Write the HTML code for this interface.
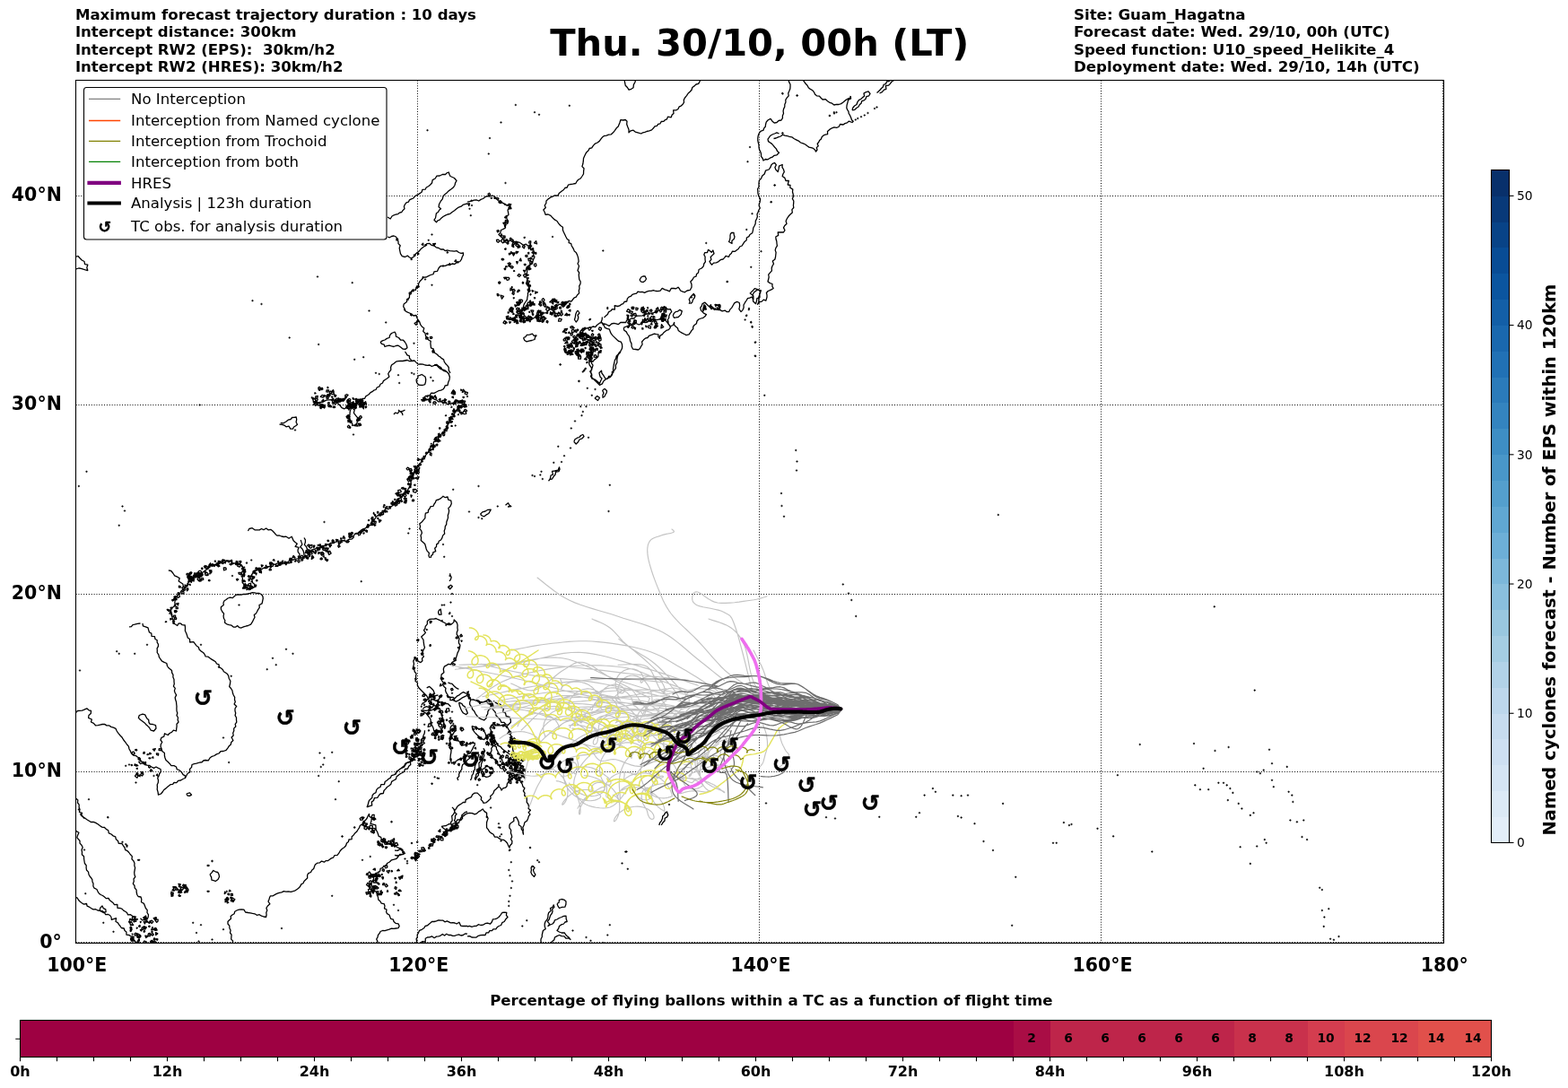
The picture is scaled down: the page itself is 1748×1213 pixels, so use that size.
<!DOCTYPE html>
<html><head><meta charset="utf-8"><style>html,body{margin:0;padding:0;background:#fff;overflow:hidden}svg{display:block}</style></head>
<body>
<svg width="1748" height="1213" viewBox="0 0 1748 1213">
<rect width="100%" height="100%" fill="#fff"/>
<text x="83.9" y="21.7" font-family="DejaVu Sans, sans-serif" font-weight="bold" font-size="16.58" xml:space="preserve">Maximum forecast trajectory duration : 10 days</text>
<text x="83.9" y="41.1" font-family="DejaVu Sans, sans-serif" font-weight="bold" font-size="16.58" xml:space="preserve">Intercept distance: 300km</text>
<text x="83.9" y="60.5" font-family="DejaVu Sans, sans-serif" font-weight="bold" font-size="16.58" xml:space="preserve">Intercept RW2 (EPS):  30km/h2</text>
<text x="83.9" y="79.9" font-family="DejaVu Sans, sans-serif" font-weight="bold" font-size="16.58" xml:space="preserve">Intercept RW2 (HRES): 30km/h2</text>
<text x="1196.9" y="21.7" font-family="DejaVu Sans, sans-serif" font-weight="bold" font-size="16.7" xml:space="preserve">Site: Guam_Hagatna</text>
<text x="1196.9" y="41.1" font-family="DejaVu Sans, sans-serif" font-weight="bold" font-size="16.7" xml:space="preserve">Forecast date: Wed. 29/10, 00h (UTC)</text>
<text x="1196.9" y="60.5" font-family="DejaVu Sans, sans-serif" font-weight="bold" font-size="16.7" xml:space="preserve">Speed function: U10_speed_Helikite_4</text>
<text x="1196.9" y="79.9" font-family="DejaVu Sans, sans-serif" font-weight="bold" font-size="16.7" xml:space="preserve">Deployment date: Wed. 29/10, 14h (UTC)</text>
<text x="846.8" y="62.4" font-family="DejaVu Sans, sans-serif" font-weight="bold" font-size="41.6" text-anchor="middle">Thu. 30/10, 00h (LT)</text>
<defs><clipPath id="mc"><rect x="84.6" y="89.6" width="1524.6" height="961.8"/></clipPath></defs>
<g clip-path="url(#mc)">
<path d="M465.5 89.6V1051.4M846.5 89.6V1051.4M1227.5 89.6V1051.4M1608.5 89.6V1051.4M84.6 1050.5H1609.2M84.6 860.5H1609.2M84.6 662.5H1609.2M84.6 451.5H1609.2M84.6 218.5H1609.2" stroke="#000" stroke-width="1" stroke-dasharray="1 1.86" fill="none"/>
<path d="M432.0 242.0 435.2 244.0 437.0 241.0 439.2 239.8 441.5 239.0 443.8 238.6 445.6 237.1 447.8 236.5 449.2 234.4 451.0 232.8 450.4 230.2 451.5 227.8 453.0 225.9 455.5 225.1 456.5 222.8 458.6 221.8 460.8 221.0 462.2 219.2 464.0 217.8 466.3 216.8 468.3 215.4 470.2 214.0 470.9 211.3 474.1 211.2 475.2 209.0 477.6 207.7 479.7 206.0 481.5 204.0 482.2 200.6 485.2 199.0 486.9 196.2 490.2 196.0 493.2 194.5 496.5 194.5 498.1 192.9 500.2 192.0 500.9 194.3 502.0 196.5 504.3 197.5 506.5 198.5 509.0 201.5 507.6 203.8 507.0 206.5 505.3 209.1 502.8 211.0 500.1 212.9 497.8 215.2 495.6 216.9 494.0 219.0 493.3 221.8 491.5 224.0 489.5 227.8 489.1 230.8 491.5 232.8 489.6 234.3 488.5 236.5 486.4 237.8 486.0 240.2 485.5 243.0 484.0 245.2 486.5 247.8 488.0 245.9 490.2 245.2 491.9 243.2 494.0 241.5 496.5 240.2 499.0 239.0 501.8 238.3 504.0 236.5 506.6 234.8 509.0 232.8 511.3 231.1 514.0 230.2 516.0 228.4 518.5 227.7 521.0 227.0M432.0 264.0 434.4 264.8 436.5 263.5 439.1 263.0 441.5 264.0 442.6 266.6 444.0 269.0 444.0 271.6 446.2 273.8 445.2 276.5 445.8 279.6 446.5 282.8 448.3 285.6 451.5 286.5 454.3 285.1 456.5 287.0 459.0 287.8 460.8 286.4 462.8 285.2 463.4 283.0 465.2 281.5 467.4 279.9 469.0 277.8 471.5 275.8 474.0 274.0 475.9 271.6 479.0 271.5 481.2 273.4 484.0 274.0 486.2 275.8 489.0 276.5 491.3 278.0 494.0 277.8 496.2 279.6 499.0 279.0 501.4 279.7 504.0 279.9 506.5 280.2 509.3 279.7 511.5 281.5 513.9 282.3 516.5 282.0 516.4 284.4 515.2 286.5 514.4 289.2 512.8 291.5 509.0 292.8 506.8 294.5 504.0 294.0 501.7 295.5 499.0 295.2 496.6 296.3 494.0 296.5 491.0 296.7 489.0 299.0 487.6 302.3 484.0 302.8 483.1 305.6 480.2 306.5 477.7 307.6 475.2 309.0 472.2 309.1 470.2 311.5 468.0 313.7 466.5 316.5 466.7 319.3 464.0 320.2 463.4 323.4 460.2 322.8 458.7 324.7 458.3 327.3 456.5 329.0 456.4 331.9 453.7 333.7 453.5 336.5 450.2 339.0 449.7 341.7 450.9 344.0 451.5 346.5 453.9 347.9 456.5 349.0 458.9 350.2 461.0 352.0 464.0 351.5 464.8 354.2 466.1 356.7 467.8 359.0 468.6 361.7 470.2 364.0 472.8 365.9 471.7 369.5 474.0 371.5 474.5 374.4 476.1 376.7 477.8 379.0 480.2 380.4 479.9 383.0 480.2 385.2 480.4 387.8 483.4 389.2 482.8 392.0M443.0 267.8 441.9 267.9 441.9 266.7 442.9 265.7 443.8 267.0ZM458.2 289.6 458.2 288.5 459.4 289.2ZM462.5 284.4 461.9 284.8 461.3 284.4 461.8 283.9ZM465.6 281.6 467.0 283.0 465.7 283.9ZM471.7 271.2 471.8 273.4 470.1 272.7ZM474.0 272.7 474.8 272.6 475.6 273.3 474.6 274.0 473.9 273.7ZM485.5 271.5 484.1 273.4 482.5 271.8ZM498.8 280.6 499.5 281.6 498.4 282.0 498.2 281.2ZM510.2 292.9 509.8 292.1 510.6 291.7 511.2 292.2 510.8 292.9ZM508.7 291.9 506.8 291.4 508.2 289.8ZM501.3 293.6 502.2 295.1 500.4 295.1ZM471.3 308.6 472.6 309.3 471.1 310.4ZM467.3 319.7 464.8 321.1 464.7 318.8ZM459.4 324.9 459.8 323.7 461.3 324.6ZM458.0 325.5 458.1 327.8 456.3 328.0 456.2 326.3ZM453.7 333.7 455.4 334.0 454.0 334.8ZM451.6 346.0 450.5 345.3 451.5 344.7ZM457.5 350.9 459.0 350.0 458.8 352.0ZM464.5 358.5 465.3 357.2 466.8 358.5ZM463.5 359.4 464.9 359.3 465.0 360.9 463.9 362.3 462.1 360.6ZM476.6 371.3 477.0 372.1 476.8 372.8 475.9 372.6 475.6 371.8ZM474.7 377.9 474.8 375.8 476.0 375.8 477.3 376.6 476.2 378.2ZM479.4 375.7 481.3 375.4 481.8 376.4 481.4 377.3 479.6 377.4ZM483.7 390.6 484.3 392.2 482.5 393.1 481.9 391.5 482.7 390.1ZM84.0 286.5 86.9 285.5 89.0 287.8 91.2 290.0 94.0 291.5 94.6 294.6 97.8 295.2 96.8 298.4 97.8 301.5 95.2 300.9 92.8 300.2 90.3 299.4 87.8 299.0 84.0 300.2M424.0 381.5 426.3 379.9 429.0 379.0 431.3 377.4 434.0 376.5 434.7 373.7 436.5 371.5 440.2 370.2 441.3 372.6 441.5 375.2 444.5 376.5 446.5 379.0 449.5 379.2 451.5 381.5 452.7 383.5 453.5 385.5 454.0 387.8 451.8 389.4 449.0 389.0 446.6 387.0 444.0 385.2 441.4 385.5 439.0 386.5 436.5 385.9 434.0 385.2 431.4 385.7 429.0 386.5 428.1 384.1 425.5 383.3 424.0 381.5M781.0 89.0 779.8 91.2 778.7 93.4 776.0 94.0 774.1 95.9 771.8 97.5 771.0 100.2 769.2 102.2 767.2 104.0 765.5 106.6 763.5 109.0 762.3 111.4 762.5 114.2 761.0 116.5 759.2 118.1 757.0 119.2 756.0 121.5 754.0 122.8 750.6 122.8 751.0 126.5 749.2 128.1 748.2 130.8 744.5 130.2 743.5 132.8 741.4 133.7 739.8 135.4 737.2 135.5 736.0 137.8 733.7 138.3 732.3 140.3 729.9 140.8 728.5 142.8 726.5 144.9 723.8 145.9 721.0 146.5 718.9 147.4 716.7 147.8 714.8 149.0 711.0 147.8 708.2 147.1 706.0 145.2 703.1 145.8 701.0 147.8 701.0 144.5 699.8 141.5 698.7 138.5 699.0 135.2 697.2 133.5 694.8 134.0 691.8 133.7 691.0 136.5 690.1 138.8 689.2 141.1 687.2 142.8 685.5 145.3 683.5 147.8 681.4 149.8 678.5 150.2 676.1 151.2 673.5 151.5 671.4 153.1 669.8 155.2 668.2 157.4 666.0 159.0 663.1 160.3 661.0 162.8 659.7 164.8 657.1 165.5 656.0 167.8 653.7 169.9 652.2 172.8 650.5 176.5 650.3 179.7 649.8 182.8 648.9 185.6 651.0 187.8 650.6 190.9 650.5 194.0 648.9 196.5 647.2 199.0 645.2 200.0 643.5 201.5 641.8 204.5 638.5 205.2 635.8 205.5 633.4 206.2 632.2 209.0 629.8 209.5 628.5 211.5 626.0 213.3 623.5 215.2 621.8 218.1 618.5 217.8 616.0 219.1 613.5 220.2 611.1 221.9 609.0 224.0 608.8 226.7 607.2 229.0 608.3 231.5 605.8 234.0 607.2 236.5 608.1 239.4 611.0 239.0 613.9 240.3 616.0 242.8 618.3 244.9 621.0 246.5 622.7 249.1 624.8 251.5 627.4 253.3 627.4 256.4 628.5 259.0 629.7 261.5 630.9 264.0 632.2 266.5 634.3 267.9 634.1 270.7 636.7 271.7 637.2 274.0 638.4 275.9 639.5 277.9 640.3 280.1 642.2 281.5 643.4 283.9 644.3 286.4 644.8 289.0 645.1 291.5 644.0 294.0 645.5 296.5 644.8 299.0 644.0 301.6 645.7 304.0 645.2 306.5 645.5 309.1 645.8 311.7 647.2 314.0 647.0 316.5 645.7 318.9 646.0 321.5 645.3 324.0 645.6 326.9 643.5 329.0 642.2 331.1 639.9 332.1 638.5 334.0 636.9 336.1 634.3 335.5 632.2 336.5 629.8 336.5 627.8 337.3 626.0 339.0 623.1 339.4 621.0 341.5 618.3 342.3 616.0 344.0 613.3 344.9 611.0 346.5 609.0 348.7 606.0 349.0 603.8 350.9 601.0 351.5 598.4 352.5 596.0 354.0 594.1 355.2 592.2 356.5 589.5 356.8 587.2 355.2 584.6 355.2 582.2 354.0 578.5 354.0M578.5 354.0 579.6 351.4 581.0 349.0 582.3 346.7 583.6 344.3 583.5 341.5 584.4 338.8 586.0 336.5 587.6 334.2 587.9 331.6 588.5 329.0 588.4 326.4 591.1 324.3 589.8 321.5 589.1 318.9 587.0 316.8 587.2 314.0 587.8 311.3 586.6 309.0 586.0 306.5 587.5 304.2 587.7 301.5 588.5 299.0 589.4 296.6 591.3 295.1 593.5 294.0 594.0 291.4 594.8 288.9 596.0 286.5 594.6 284.2 595.6 281.4 594.8 279.0 591.6 278.7 591.6 274.4 588.5 274.0 586.3 272.2 583.2 273.3 581.0 271.5 578.7 270.0 575.8 270.9 573.6 269.3 571.0 269.0 568.1 268.1 565.2 271.2 562.2 269.0 560.9 266.1 558.5 264.0 556.0 261.5 557.9 259.3 558.5 256.5 561.1 255.4 563.5 254.0 563.3 250.8 566.0 249.0 566.6 246.3 565.0 244.0 564.8 241.5 567.0 239.3 566.5 236.7 566.0 234.0 568.1 232.4 568.1 229.6 569.8 227.8 567.5 229.3 564.8 229.0 562.8 227.6 560.7 226.4 558.5 225.2 555.6 223.9 553.5 221.5 551.4 219.3 549.1 218.0 546.0 219.0 543.1 218.6 540.7 219.7 538.5 221.5 536.1 222.4 533.8 224.0 531.0 222.8 528.4 223.1 526.1 224.2 523.5 224.6 521.0 225.2M578.9 352.9 578.4 352.5 578.9 352.1 579.5 352.2 579.4 352.7ZM579.6 349.7 580.5 351.3 579.1 352.8 578.0 351.5 577.7 349.7ZM583.2 350.3 582.2 349.7 583.0 348.3 584.3 349.4ZM582.3 344.2 581.7 343.2 583.3 343.4ZM587.8 342.1 586.4 340.8 588.3 339.7ZM591.4 327.6 592.0 328.2 591.8 328.6 591.3 329.0 591.0 328.3ZM590.5 324.1 589.2 324.4 589.1 323.2 590.1 323.0ZM588.8 324.6 588.1 322.8 590.0 322.7ZM590.1 320.3 589.4 319.1 590.5 318.4 590.9 319.7ZM589.2 315.8 588.2 318.3 586.9 315.7ZM583.4 316.1 582.7 316.2 582.3 315.7 582.5 314.5 583.7 314.8ZM589.6 315.3 587.7 314.6 588.6 312.8 590.6 313.5ZM588.6 309.4 589.3 310.0 588.7 310.9 588.0 310.1ZM589.3 306.6 586.4 307.8 586.2 305.4ZM586.0 301.6 584.8 303.5 583.5 301.3ZM588.4 299.8 586.4 300.5 586.9 298.6ZM588.4 298.9 587.2 297.6 588.7 296.9ZM590.9 294.8 590.8 293.7 591.8 293.8 591.8 295.1ZM593.0 291.5 592.6 294.2 590.6 293.2 591.2 291.3ZM594.0 286.3 593.2 286.3 593.3 285.2 594.2 285.5ZM597.8 281.8 597.8 283.0 596.8 283.2 596.5 282.1 597.0 281.2ZM594.3 282.5 592.9 281.7 594.0 280.6ZM592.9 277.2 594.2 276.5 594.7 277.8 593.6 278.3ZM591.0 275.0 590.9 276.7 589.5 277.5 589.0 275.3ZM591.5 273.3 592.7 274.5 590.8 275.3 589.3 273.9ZM577.2 274.4 579.8 275.6 577.2 276.5ZM575.7 271.8 574.1 270.6 575.1 269.2 577.4 269.9ZM570.4 266.3 569.6 268.1 568.3 266.8 568.9 265.1ZM565.1 268.8 565.6 267.1 566.4 268.3ZM564.7 266.7 565.9 267.5 565.0 268.8 564.1 267.8ZM561.7 269.4 561.5 268.8 562.0 268.6 562.5 268.8 562.2 269.6ZM561.1 264.5 561.2 262.8 563.1 263.1 562.9 265.6ZM559.9 262.7 558.2 263.5 558.9 260.6ZM555.7 256.6 556.3 257.8 554.7 258.9 554.0 257.2ZM563.8 251.6 562.7 252.8 562.3 250.5ZM563.4 248.7 563.1 249.8 561.5 249.7 560.9 248.3 562.5 248.1ZM565.2 246.0 564.8 248.1 563.2 247.6 563.4 245.5ZM562.6 242.1 563.4 241.8 564.1 242.3 563.7 243.1 562.9 242.7ZM564.9 241.1 563.8 241.3 564.3 240.5ZM570.0 232.7 568.2 232.8 566.7 232.0 568.0 230.7 569.4 231.0ZM565.9 228.6 567.6 227.3 569.0 227.6 568.9 229.7 567.3 229.7ZM563.9 227.8 562.7 228.3 562.8 227.2ZM559.3 225.0 558.5 226.2 558.0 224.5ZM559.7 226.0 557.8 226.7 556.0 225.6 557.5 223.6 558.9 224.5ZM556.0 221.8 554.8 222.8 553.3 222.0 553.8 220.4 555.2 220.7ZM552.0 219.8 552.7 220.8 551.7 221.4 551.0 221.1 551.2 219.9ZM548.7 220.7 547.5 221.3 547.3 220.4ZM545.5 218.0 544.4 217.4 544.0 216.3 545.6 215.3 546.7 217.1ZM525.3 224.3 525.0 223.6 525.8 223.2 526.0 224.1ZM523.6 226.9 522.8 229.5 521.6 227.0ZM583.5 376.5 585.8 375.6 587.2 373.5 590.4 373.2 593.5 372.2 595.2 374.4 598.0 374.0 596.5 376.0 596.0 378.5 592.9 379.5 589.8 380.2 587.1 380.9 584.8 379.5 583.5 376.5M644.0 346.0 646.0 349.0 644.0 351.2 644.8 354.0 644.0 356.8 642.2 359.0 640.5 356.5 641.3 353.4 641.8 350.2 642.7 348.0 644.0 346.0M673.5 354.0 675.4 352.1 677.4 350.4 678.5 347.8 681.0 346.5 682.4 344.6 685.4 345.0 685.2 340.6 688.5 341.5 690.8 340.9 692.5 339.4 694.7 338.6 696.0 336.5 698.7 336.0 699.4 332.9 701.0 331.1 703.5 330.2 704.9 328.3 707.2 327.7 709.6 327.2 711.0 325.2 713.5 325.6 716.0 325.4 718.5 326.3 721.0 325.2 723.5 324.4 726.0 324.3 728.4 323.6 731.0 324.5 733.6 324.6 736.1 324.1 738.2 321.4 741.0 322.8 743.7 323.7 746.4 324.9 748.4 321.3 751.0 321.5 753.7 321.8 756.0 320.2 757.5 322.0 758.5 324.0 761.0 325.1 763.5 325.8 766.0 324.0 769.4 323.3 771.0 320.2 771.0 317.0 769.8 314.0 772.0 311.8 773.5 309.0 776.0 308.2 776.6 305.5 778.5 304.0 779.1 300.5 782.2 299.0 784.2 296.9 784.8 294.0 786.4 291.8 786.0 289.0 786.1 286.3 784.8 284.0 785.8 281.6 788.5 281.5 789.6 278.3 793.2 281.3 794.8 279.0 796.0 282.8 794.1 284.6 792.2 286.5 792.9 289.3 791.0 291.5 792.1 293.5 793.5 295.2 795.6 293.1 798.5 292.8 801.1 291.6 803.2 289.7 806.0 289.0 807.7 287.4 809.0 285.4 812.4 286.4 813.5 284.0 815.3 282.6 816.4 280.2 819.2 280.4 821.0 279.0 823.2 277.5 824.7 275.0 827.2 274.0 828.6 271.6 830.1 269.4 832.2 267.8 832.4 265.0 834.9 263.6 836.0 261.5 838.7 259.7 839.4 256.9 839.8 254.0 841.1 251.7 842.2 249.2 842.3 246.4 843.5 244.0 844.4 241.6 844.0 238.8 845.1 236.4 846.0 234.0 847.3 232.0 846.2 229.6 846.3 227.3 847.2 225.2 847.6 221.9 846.0 219.0 845.0 215.9 844.8 212.8 844.6 210.5 846.0 208.5 846.0 206.2 846.0 204.0 846.4 201.1 848.5 199.0 849.8 196.1 852.2 194.0 853.5 190.2 857.2 189.0 858.8 186.7 859.8 184.0 861.4 182.4 863.5 181.5 865.4 183.8 863.9 186.6 864.8 189.0 867.2 191.5 868.1 188.4 868.5 185.2 872.2 183.5 872.0 186.4 873.5 189.0 874.3 191.7 872.9 194.0 872.2 196.5 874.9 198.4 876.0 201.5 879.3 201.5 878.2 206.0 881.0 206.5 880.8 209.3 883.8 211.1 883.5 214.0 884.2 216.5 884.4 219.0 883.4 221.6 884.8 224.0 884.7 226.5 884.4 229.0 884.8 231.5 882.9 233.7 883.3 237.0 881.0 239.0 878.9 241.3 877.2 244.0 876.1 246.4 877.0 249.5 874.8 251.5 873.5 253.9 875.0 256.7 873.5 259.0 870.4 258.8 867.2 259.0 867.7 262.4 864.8 264.0 865.0 266.5 865.8 269.0 866.0 271.5 866.4 274.1 864.9 276.4 864.2 278.9 865.1 281.5 864.8 284.0 864.5 286.7 863.8 289.2 861.3 291.1 862.5 294.2 861.0 296.5 860.2 299.0 860.4 301.8 858.6 303.9 856.7 306.1 857.2 309.0 856.6 311.5 856.0 314.0 858.3 315.6 861.0 316.5 860.9 319.2 862.2 321.5 860.3 322.6 858.3 323.6 856.2 324.5 854.4 326.5 855.0 328.9 855.0 331.2 853.8 335.2 851.2 334.1 849.3 336.1 847.0 336.5 844.5 339.2 845.8 336.7 845.9 334.0 845.8 331.2 846.7 328.8 847.1 326.2 848.5 324.0 844.5 323.2 842.4 324.4 840.5 326.0 839.2 328.5 839.4 331.3 839.2 334.0M879.0 89.0 879.7 91.6 881.0 94.0 881.0 96.6 880.8 99.1 879.8 101.5 878.7 103.9 879.2 106.9 877.2 109.0 875.8 111.3 875.9 114.1 874.8 116.5 874.8 119.0 873.6 121.4 873.1 123.9 873.5 126.5 872.4 128.9 872.4 131.7 871.0 134.0 868.1 134.5 866.0 136.5 863.2 137.1 861.0 135.2 859.0 132.4 856.0 134.0 854.2 136.2 853.5 139.0 853.2 141.3 851.6 143.1 851.0 145.2 847.9 146.3 846.0 149.0 845.2 151.4 844.8 153.9 844.8 156.5 845.3 159.0 846.0 161.4 846.0 164.0 846.5 166.6 847.7 169.0 848.5 171.5 848.5 174.3 850.2 176.5 851.0 179.0 853.3 177.5 856.0 177.8 858.4 176.2 861.0 175.2 863.1 173.3 866.0 172.8 868.5 170.2 866.5 168.4 865.3 165.9 863.5 164.0 862.0 162.2 860.5 160.4 858.5 159.0 856.5 157.6 856.0 155.2 857.3 153.4 858.5 151.5 860.9 150.0 863.5 149.0 866.0 147.9 868.5 149.0M696.0 89.0 696.6 92.1 697.2 95.2 699.4 97.5 701.0 100.2 703.7 99.3 706.0 97.8 706.4 94.4 708.0 91.5 708.5 89.0M814.0 261.5 815.5 259.4 818.0 259.5 818.2 261.8 819.0 264.0 818.2 266.6 815.9 268.5 816.0 271.5 812.5 269.5 813.5 267.5 814.0 265.2 814.0 261.5M713.0 312.2 714.8 309.0 716.8 308.0 719.0 307.8 720.5 311.0 719.2 313.0 717.2 314.5 714.7 314.2 713.0 312.2M570.8 273.3 571.9 270.1 574.0 271.9ZM566.3 296.3 568.7 295.1 568.7 297.5ZM557.9 314.8 556.9 316.4 555.7 315.7 555.8 314.6 556.8 314.0ZM595.5 270.9 597.6 268.6 598.6 271.9ZM586.9 316.9 586.5 315.4 588.2 316.0ZM555.4 267.1 557.1 268.7 555.4 270.3 553.9 269.4 553.5 267.4ZM585.2 274.3 584.4 276.9 582.4 275.3 583.4 273.4ZM565.3 312.5 564.2 310.3 566.0 309.2 567.9 310.1 567.3 311.8ZM593.5 325.2 593.1 323.6 595.0 324.5ZM559.5 333.2 558.0 329.1 561.5 330.3ZM579.0 323.4 579.1 324.4 578.1 324.4 577.4 323.6 578.3 323.2ZM589.1 321.8 589.7 321.0 590.4 321.6 590.2 322.7 589.5 322.8ZM572.1 322.9 568.8 323.9 569.1 321.2ZM581.2 290.8 579.1 290.5 580.4 288.1ZM566.8 270.4 566.9 271.4 566.3 272.1 565.4 271.9 564.9 270.5ZM595.5 331.6 596.4 331.7 596.7 332.4 596.2 332.9 595.6 332.6ZM571.4 282.0 568.7 283.2 569.6 280.6ZM589.9 317.8 588.2 318.8 587.7 316.7 589.5 316.3ZM567.5 283.9 567.4 282.5 568.6 282.6 568.7 283.7ZM591.8 268.9 591.6 271.3 589.6 270.9 590.1 268.9ZM589.7 300.8 589.8 298.1 591.9 299.8ZM572.6 282.1 572.9 282.6 572.4 282.9 571.5 282.7 571.8 282.0ZM563.0 298.9 563.8 299.8 563.0 300.7 562.1 299.8ZM591.9 337.5 591.1 337.9 590.1 337.8 590.5 336.9 591.4 336.8ZM579.1 273.8 579.8 274.6 578.6 274.8ZM561.7 309.4 564.4 309.2 562.8 311.0ZM591.4 290.3 589.3 290.8 588.8 288.1 591.3 288.2ZM583.4 306.9 585.3 305.0 587.3 307.4 584.9 309.2ZM571.3 320.1 570.5 321.0 570.4 319.7ZM562.6 277.5 563.9 276.8 564.1 278.0 563.3 278.4ZM564.1 296.6 565.3 297.7 563.6 297.8ZM572.7 275.6 570.7 274.5 572.5 273.1ZM573.3 326.8 572.7 328.6 570.9 327.3 572.2 325.2ZM566.0 293.8 568.0 292.8 569.5 294.2 567.8 294.9ZM572.5 302.3 573.0 301.5 573.7 302.3ZM554.2 327.6 555.7 328.0 556.3 329.1 555.5 329.8 554.4 329.5ZM562.1 267.3 563.1 269.6 560.4 270.9 558.4 268.5 560.5 266.3ZM585.6 285.1 587.0 284.3 588.1 285.3 587.4 286.5 586.1 286.2ZM577.5 291.8 576.5 294.0 575.6 291.7ZM564.0 268.5 563.2 268.8 562.6 268.4 563.0 267.8 563.8 267.7ZM560.8 290.1 559.3 289.7 559.3 288.4 560.9 288.4 561.7 289.3ZM585.2 294.2 586.2 295.1 585.1 295.9 584.2 294.9ZM569.9 298.9 569.3 297.5 570.6 296.4 572.2 297.6 571.2 299.0ZM590.9 297.2 588.4 297.4 589.7 295.8ZM572.7 332.8 572.2 332.0 573.3 332.0ZM589.8 319.4 589.4 317.7 591.4 317.9 591.5 319.2ZM577.0 307.2 578.5 305.5 580.6 306.9 578.9 308.6ZM596.9 325.0 599.3 325.9 596.7 327.3ZM576.6 325.7 577.1 324.3 577.9 325.7ZM584.5 264.3 585.2 264.4 585.2 265.1 584.5 265.4 584.1 264.8ZM576.6 337.9 578.3 338.1 578.2 339.9 576.6 339.9ZM573.0 322.3 574.2 323.8 573.5 324.9 571.5 325.2 571.7 323.4ZM571.0 266.9 572.3 267.8 571.5 269.8 570.0 268.9 568.7 267.4ZM572.4 285.1 571.1 282.2 574.3 281.9ZM588.8 283.0 588.6 281.7 589.7 281.5 589.7 282.9ZM596.8 297.2 595.4 296.1 595.5 294.4 597.5 293.9 598.0 296.1ZM591.7 274.8 590.0 273.7 591.5 272.1ZM577.8 280.6 576.0 282.7 575.2 280.3ZM574.8 273.3 576.0 272.0 578.0 272.5 577.5 274.4 576.0 274.5ZM593.6 288.9 590.3 288.7 591.6 287.1ZM591.2 355.2 591.6 353.2 593.1 353.9 592.8 355.5ZM615.1 341.2 616.3 341.9 616.0 343.4 615.1 344.0 614.5 342.8ZM600.3 350.3 598.4 350.1 598.8 348.4 600.5 348.5ZM632.7 351.8 629.7 351.4 631.7 349.2ZM634.6 351.8 634.0 351.2 634.3 350.3 635.2 350.9ZM579.7 356.3 581.5 357.2 580.5 358.9 579.2 358.1ZM633.6 336.7 631.3 338.4 630.1 336.3ZM590.2 358.5 590.4 357.3 591.5 357.7 591.0 358.8ZM602.9 358.3 601.4 358.2 601.5 356.6 603.1 356.6ZM584.8 357.2 585.6 359.1 583.7 359.8 583.1 357.5ZM601.4 336.4 602.5 335.9 603.5 337.3 601.7 337.7ZM618.2 340.7 619.9 339.6 621.3 340.5 620.1 342.3ZM615.1 334.6 615.7 337.1 612.8 336.8ZM583.9 352.3 585.7 352.4 586.3 353.9 585.5 355.0 584.1 354.2ZM626.2 355.9 625.0 358.2 622.5 358.2 623.2 355.1ZM587.3 344.8 584.2 346.7 584.0 343.4ZM625.4 346.1 626.5 346.8 625.4 347.7ZM630.5 337.1 631.1 338.5 629.8 339.0 629.1 337.7ZM584.6 342.5 585.2 345.0 582.7 344.3ZM603.1 349.9 604.3 349.0 605.3 350.3 604.0 351.2ZM632.0 343.4 631.8 342.2 633.0 342.3 633.0 343.5ZM606.0 340.7 606.4 338.9 608.1 339.0 608.6 340.9 607.2 341.6ZM608.1 354.9 606.7 356.6 604.7 356.6 604.1 353.7 606.2 352.7ZM577.8 338.9 579.0 340.1 577.3 340.5ZM635.7 338.4 635.9 339.4 635.2 340.0 634.8 339.2 634.9 338.1ZM618.2 336.3 618.6 333.3 620.1 335.3ZM618.2 335.4 615.6 335.7 615.7 333.5 618.7 333.2ZM583.7 354.6 584.4 355.4 584.3 357.0 583.0 357.2 582.8 355.3ZM613.6 347.7 616.6 349.3 613.2 350.4ZM594.4 338.5 592.2 337.2 594.5 336.5ZM610.7 341.9 610.7 342.7 609.8 342.6 609.6 341.9ZM610.7 348.8 610.0 349.6 609.1 349.0 609.4 348.1 610.4 347.7ZM632.2 349.9 633.1 351.0 632.3 351.7 631.4 351.1ZM635.9 345.3 635.8 347.2 634.0 346.2ZM600.5 354.0 598.8 355.3 596.5 353.7 597.7 351.6 599.9 352.3ZM609.0 359.0 609.6 357.6 610.7 357.9 611.0 358.8 610.4 360.0ZM587.9 344.6 587.4 344.1 587.9 343.5 588.6 343.2 588.9 344.5ZM573.8 339.9 576.3 340.5 574.5 342.1ZM616.5 341.7 617.1 342.7 616.2 343.3 615.5 342.3ZM593.2 349.8 594.6 349.8 594.7 351.2 593.7 351.3ZM601.8 348.7 600.0 348.7 599.0 347.0 600.7 345.9 602.2 347.0ZM618.7 347.7 618.7 348.9 617.3 348.8 616.5 347.8 617.9 347.2ZM576.7 337.9 575.8 337.8 575.7 336.8 576.8 336.6 577.2 337.4ZM617.2 343.4 619.9 344.7 617.4 346.2ZM619.1 334.6 620.9 334.7 620.3 337.1 618.0 336.1ZM576.4 352.7 575.3 352.1 575.8 350.8 576.7 351.4ZM627.7 342.3 625.9 340.4 628.4 338.9 629.5 341.0ZM631.0 339.7 628.3 340.5 626.5 338.6 629.5 338.0ZM630.6 336.6 631.7 337.1 631.2 338.4 630.0 338.5 629.3 337.2ZM590.2 355.0 587.3 354.2 589.4 351.9ZM577.6 336.5 580.0 335.1 579.4 339.3ZM606.3 357.2 606.2 352.9 608.8 355.1ZM591.7 336.0 591.0 336.3 590.6 335.9 590.6 335.3 591.3 335.0ZM619.0 341.2 619.6 340.0 620.8 339.2 621.1 340.9 620.7 341.7ZM611.8 342.5 612.8 343.4 611.8 344.3ZM617.6 344.7 617.1 346.6 615.1 345.4 616.5 343.4ZM621.6 343.2 620.6 344.5 618.3 343.7 619.9 341.6ZM589.1 354.8 591.0 352.6 592.6 355.3 590.6 357.3ZM590.4 340.3 587.6 339.3 588.7 336.9 591.4 337.6ZM599.0 352.5 599.0 351.1 600.5 350.3 600.9 352.2ZM605.2 354.0 603.1 355.5 603.3 352.1ZM590.7 348.2 590.1 348.4 589.8 347.6 590.4 347.3ZM626.6 338.5 628.1 338.3 628.4 339.7 626.6 340.0ZM625.3 344.0 623.7 343.9 623.7 342.6 624.2 342.1 625.4 342.4ZM601.4 358.7 598.5 357.9 600.5 356.3ZM578.3 343.3 579.2 344.0 578.3 344.8ZM621.4 336.6 622.9 336.6 622.0 338.1ZM586.4 340.6 588.9 341.0 589.0 343.1 586.6 344.2 585.9 342.5ZM591.1 339.7 592.7 339.9 592.0 341.3 590.8 341.1ZM607.1 341.5 608.3 341.0 608.0 342.6ZM586.9 356.1 588.8 357.6 586.3 357.6ZM601.0 338.3 601.9 338.4 602.3 339.1 601.8 339.6 600.7 339.6ZM605.7 332.6 607.0 334.4 605.6 336.3 604.3 335.6 604.2 333.7ZM581.0 355.8 578.8 353.9 580.2 351.1 581.9 353.4ZM601.5 351.5 603.5 352.4 602.5 355.3 600.1 353.3ZM634.6 342.7 633.6 342.4 634.3 341.3 635.0 342.0ZM580.6 356.8 581.9 355.1 584.6 356.5 583.6 358.9 581.2 358.9ZM579.4 337.0 580.7 337.2 580.2 338.2ZM593.1 339.1 591.8 338.3 593.1 337.2 593.9 338.3ZM624.3 349.2 622.0 349.7 622.6 348.1ZM620.2 351.8 620.2 353.2 618.9 353.0 617.9 352.2 619.3 351.2ZM582.6 346.0 582.0 346.6 580.9 346.1 581.3 345.0 582.3 345.2ZM579.4 334.8 581.5 334.1 582.6 335.1 582.0 336.9 580.3 337.0ZM580.1 347.3 581.1 348.4 580.3 349.0 579.4 349.3 579.3 348.1ZM581.8 353.1 579.2 353.8 579.4 351.5ZM616.7 339.0 615.1 337.6 616.8 336.8ZM577.1 346.3 578.1 347.8 575.9 347.5ZM618.2 342.2 619.6 342.2 619.2 343.6 617.8 343.2ZM610.2 346.6 608.5 344.9 610.1 342.8 612.0 343.6 612.0 345.7ZM603.4 339.0 603.8 340.7 602.4 341.0 601.6 340.0 602.4 338.6ZM623.5 348.8 624.4 350.9 622.6 352.3 621.3 350.1ZM594.6 338.8 595.9 338.4 596.1 340.2 594.4 339.9ZM615.4 335.8 616.4 333.5 618.6 335.8ZM633.9 340.4 635.0 341.7 633.8 343.0 633.0 342.2 632.7 341.1ZM621.2 349.5 622.3 351.9 619.7 352.2 617.8 351.4 618.4 349.4ZM615.5 348.6 616.4 349.9 615.4 351.2 614.0 350.2 614.5 349.2ZM607.4 338.0 605.7 339.7 605.1 337.5 606.5 336.9ZM597.9 351.4 599.4 351.6 599.7 353.4 597.3 353.8ZM604.3 359.3 604.3 357.9 605.6 357.6 606.2 358.7ZM591.8 346.0 594.8 346.2 593.6 349.1ZM605.0 350.6 602.7 351.5 602.6 348.6 605.4 348.1ZM627.4 350.4 625.5 352.0 624.5 349.6 626.4 348.0ZM598.8 355.4 597.1 353.2 600.4 353.2ZM591.6 340.6 590.8 340.9 590.1 340.1 590.8 339.3 591.7 339.8ZM598.1 355.9 598.2 353.4 600.5 353.8 600.4 356.9ZM593.3 340.0 591.9 340.7 591.3 338.6 593.2 337.7ZM625.8 337.3 627.5 336.3 627.5 338.3ZM584.3 350.4 584.2 352.5 582.3 353.6 581.4 351.6 582.2 349.6ZM580.2 333.9 580.3 335.4 578.5 334.6ZM600.4 347.5 603.0 346.2 602.7 349.6ZM566.8 352.2 566.5 354.9 565.0 355.2 564.2 353.1ZM572.1 357.5 572.6 355.3 574.3 355.9 574.5 357.9ZM564.5 355.7 565.6 354.1 567.0 354.9 566.4 356.2ZM576.1 351.6 576.4 354.1 574.2 353.3ZM576.5 343.2 577.6 343.4 578.1 345.6 576.2 345.7 575.5 344.2ZM580.6 349.0 581.6 349.5 580.5 350.0ZM569.6 358.8 568.3 360.4 567.5 358.8ZM571.8 347.4 571.0 348.6 570.2 347.0ZM565.2 359.8 563.6 360.3 563.6 358.3ZM572.3 343.9 571.7 345.9 569.4 347.0 569.2 344.6 569.9 342.4ZM561.0 359.9 562.4 357.6 564.2 358.7 563.3 361.2ZM568.7 353.7 570.7 356.1 567.8 356.7ZM573.2 359.5 574.7 355.8 576.1 358.4ZM579.8 358.6 580.4 357.6 581.1 358.3ZM569.3 343.0 570.7 344.8 569.2 345.6 568.0 344.7ZM577.8 360.5 575.7 360.7 576.6 357.3ZM571.4 357.2 569.9 356.4 571.0 354.6 572.9 355.7 573.2 357.0ZM567.4 345.8 569.3 343.4 572.0 345.3 570.8 347.1 568.9 347.7ZM573.1 350.3 571.7 350.3 572.5 349.1ZM573.2 354.2 574.4 354.7 574.5 356.4 571.7 357.2 572.1 354.7ZM567.1 347.9 567.3 348.8 566.3 349.2 566.2 348.0ZM577.2 357.2 575.4 357.9 575.5 356.6ZM575.7 347.9 577.0 347.3 576.7 349.2ZM579.8 345.3 581.5 345.8 581.8 347.4 580.2 347.9 578.7 347.2ZM574.6 351.2 576.3 351.3 575.2 352.2ZM669.2 368.6 667.4 367.1 668.3 364.8 670.3 365.7 670.4 367.0ZM643.4 367.2 644.7 367.5 644.5 368.5 643.3 368.5ZM634.6 392.7 633.9 390.9 637.1 389.8 637.6 392.5ZM629.3 367.8 630.0 370.1 627.2 370.1ZM631.0 371.5 630.1 371.3 630.2 370.7 631.3 370.6 631.8 371.2ZM644.5 378.1 644.1 379.1 643.3 378.2ZM660.9 388.5 660.1 387.8 661.0 387.0 661.8 387.9ZM651.2 377.9 652.0 377.0 652.9 377.6 652.2 379.3ZM652.3 367.2 651.0 366.4 651.6 365.4 652.3 365.2 653.0 366.1ZM633.0 375.8 634.2 377.5 632.6 378.9 632.0 377.1ZM647.9 370.5 649.5 370.0 650.0 371.5 648.7 372.6 647.3 371.5ZM661.6 388.9 663.5 389.6 663.7 391.8 660.9 391.2ZM668.8 387.0 670.5 387.0 671.2 387.9 669.5 388.4ZM670.0 376.7 670.1 379.3 668.2 380.4 666.4 377.7 668.4 376.0ZM659.1 378.3 659.3 381.3 656.9 380.0ZM634.7 371.4 633.7 371.3 634.1 370.2 634.8 370.2ZM648.0 377.6 645.5 376.5 646.8 374.2 648.8 373.2 650.1 375.6ZM659.5 368.7 661.1 368.3 660.7 369.5ZM657.7 380.1 657.7 382.0 655.6 381.9 655.2 379.9 656.6 378.7ZM656.8 364.8 658.9 365.0 658.5 367.0 656.8 368.2 655.7 366.2ZM669.1 391.3 670.4 390.9 670.0 392.0ZM649.9 375.4 648.3 375.2 648.1 373.3 650.4 371.7 651.6 374.4ZM658.1 375.3 659.2 376.0 658.8 376.9 657.6 376.5ZM639.2 379.2 641.2 380.8 638.9 382.7 637.3 380.5ZM631.1 379.3 628.9 380.2 628.0 378.8 629.5 377.0ZM639.1 364.6 638.3 365.2 638.1 364.1ZM639.4 366.0 638.7 365.2 640.3 365.3ZM650.4 366.2 651.2 368.0 650.1 369.1 649.0 368.7 649.1 367.3ZM661.1 375.8 663.4 376.4 661.8 377.6ZM662.7 377.7 663.5 375.4 664.8 375.6 666.0 377.1 664.5 379.0ZM637.9 373.8 636.2 373.9 636.0 371.4 638.6 371.8ZM651.6 373.5 650.1 374.5 648.9 371.7 651.4 371.6ZM649.1 378.7 649.5 377.5 650.8 378.1 651.3 379.1 649.9 380.0ZM666.4 376.4 667.3 374.9 669.2 374.3 669.6 376.0 668.4 377.8ZM632.9 375.7 635.0 376.2 634.6 378.5 632.5 378.0ZM630.6 390.2 629.3 391.3 628.7 389.4 629.4 388.1 631.0 388.9ZM639.8 390.9 639.1 391.8 638.3 391.5 638.5 390.6ZM638.7 386.9 636.3 387.1 635.8 384.6 637.8 384.4ZM641.4 367.9 643.1 368.3 642.7 370.7 641.0 369.3ZM630.4 391.2 630.8 392.3 629.7 392.5 629.4 391.4ZM646.8 380.7 647.4 382.9 644.6 382.0ZM650.8 373.9 648.8 373.8 648.9 372.0 651.1 372.5ZM670.0 383.8 670.0 386.2 667.8 386.2 666.5 384.7 667.9 383.5ZM631.4 368.5 629.2 366.8 632.6 366.3ZM663.4 390.1 663.4 391.4 662.3 391.6 661.2 390.8 662.0 389.5ZM631.5 377.1 630.7 376.8 630.9 376.0 631.7 376.0 632.1 376.6ZM634.5 391.3 634.7 392.4 633.6 392.6 633.1 391.5ZM647.3 376.0 645.1 375.0 646.4 373.1 648.6 374.3ZM669.9 393.3 667.5 391.8 669.9 390.5ZM638.8 363.9 638.7 365.5 637.0 366.0 635.7 364.7 636.9 363.7ZM641.7 376.3 639.6 376.7 638.7 375.3 640.6 374.2ZM638.1 367.2 640.1 368.2 640.0 370.1 637.6 370.5 637.3 368.6ZM666.3 390.3 663.9 389.9 664.4 388.3 666.2 388.5ZM645.3 380.8 647.0 381.2 645.7 382.2ZM665.5 385.2 664.7 386.5 663.2 385.8 663.6 383.7ZM645.2 372.6 646.8 373.5 646.0 374.6 644.2 374.2ZM649.3 382.8 651.4 383.3 651.4 385.1 648.9 385.0ZM641.6 379.8 642.8 379.2 642.6 380.6ZM641.4 377.3 642.4 376.3 644.0 377.5 642.1 378.8ZM653.2 388.3 652.4 388.7 652.1 387.7 652.9 387.5ZM948.2 107.0 948.6 110.0 945.6 111.4 945.0 114.0 944.1 117.1 943.8 120.2 944.6 122.3 945.9 124.2 946.2 126.5 947.7 128.9 948.8 131.5 949.5 133.7 951.2 135.2 950.0 136.5 946.2 135.2 944.4 136.9 942.0 137.6 940.0 139.0 936.6 138.5 935.0 141.5 932.6 142.3 929.9 141.9 927.5 142.8 924.8 144.4 922.5 146.5 922.6 149.7 919.9 150.2 917.8 151.1 916.2 152.8 915.4 154.9 913.6 156.4 912.7 158.5 911.2 160.2 912.2 162.7 910.3 164.6 911.0 167.0 909.5 169.0 908.3 166.7 906.2 165.2 904.1 164.6 901.9 164.1 900.0 162.8 897.7 161.0 895.2 159.8 892.5 159.0 890.2 157.1 887.6 155.8 885.0 154.5 882.8 152.8 880.1 152.3 877.5 151.5 875.0 151.1 872.5 150.2 870.2 152.0 867.5 152.8 865.1 154.0 862.5 154.5M895.0 89.0 896.6 91.1 898.1 93.3 900.0 95.2 901.3 97.7 903.4 99.4 905.8 100.7 907.5 102.8 908.6 105.3 910.5 106.8 913.4 107.1 915.0 109.0 917.1 111.0 920.4 110.6 922.5 112.8 924.8 114.3 927.5 115.2 929.8 117.0 932.5 116.3 935.0 116.5 937.7 115.6 940.0 114.0 942.3 111.9 945.0 110.2 947.5 109.5 948.2 107.0M950.0 122.8 950.9 120.0 952.6 118.0 955.0 116.5 955.9 113.8 957.4 111.6 960.0 110.2 961.6 108.6 963.6 107.2 963.0 104.1 965.0 102.8 968.1 101.9 970.0 104.5 968.7 106.8 965.9 107.7 965.0 110.2 963.3 111.9 960.8 112.7 960.0 115.2 958.2 116.8 957.1 119.0 955.0 120.2 952.9 122.3 950.0 122.8M977.5 103.5 979.3 102.0 981.0 100.3 982.5 98.5 984.3 97.0 985.1 94.4 987.5 93.5 988.5 90.9 991.2 90.5 993.0 89.0M980.5 104.0 983.4 102.7 985.5 100.2 987.9 99.3 987.4 95.5 990.5 95.2 992.4 93.4 993.9 91.1 996.2 89.8M349.0 452.0 350.8 449.2 354.2 450.6 356.3 448.5 359.0 448.2 361.4 447.3 363.8 446.1 366.5 445.8 369.3 445.7 371.2 448.3 374.0 448.2 376.8 449.7 379.0 452.0 381.0 454.6 384.0 455.8 387.0 454.2 389.0 457.0 390.0 454.3 393.5 454.0 395.8 452.5 396.5 449.5 399.0 449.1 401.7 449.2 402.3 446.0 404.0 444.5 406.6 444.3 407.7 441.9 409.6 440.7 411.5 439.5 413.0 437.7 415.0 436.7 416.7 435.2 419.0 434.5 420.2 432.0 422.9 430.9 424.1 428.3 426.5 427.0 427.5 424.6 429.5 423.3 431.5 422.0 433.9 420.0 432.7 416.8 434.0 414.5 435.8 412.3 435.6 409.5 436.5 407.0 439.1 405.2 441.5 403.2 444.0 402.7 446.5 402.3 449.0 402.5 451.5 402.0 454.0 401.5 456.5 402.7 459.0 402.5 461.9 402.0 464.0 404.1 466.1 406.1 469.0 405.8 471.5 406.1 473.9 407.0 476.4 407.3 479.0 407.0 481.3 408.5 484.2 407.4 486.9 407.2 489.0 409.5 491.2 411.4 493.9 412.1 496.5 413.2 498.6 414.9 500.2 417.0 501.4 420.0 501.0 423.2 499.7 426.3 499.0 429.5 496.2 429.8 495.4 432.2 494.0 434.0 491.5 435.1 488.9 435.7 486.5 437.0 484.0 438.3 480.8 438.1 479.0 440.8 476.8 441.3 474.5 441.5 472.8 443.2 471.5 445.4 469.0 445.8M451.5 392.0 452.8 393.9 453.9 395.8 456.4 396.9 456.5 399.5 459.0 402.0M481.5 392.0 483.6 392.9 485.6 394.0 487.4 395.3 489.0 397.0 491.0 398.1 492.5 399.7 494.6 400.8 495.2 403.2 496.7 405.5 498.6 407.4 500.2 409.5 500.3 412.9 502.0 415.8M484.0 407.0 486.9 406.5 489.1 408.3 491.5 409.5 492.9 412.1 495.1 413.6 497.8 414.5 500.3 416.4 501.0 419.5M470.2 447.0 472.7 447.0 474.5 445.2 477.2 445.7 479.0 444.0 481.8 443.2 484.0 445.1 486.5 445.8 488.6 447.8 491.6 447.7 494.0 449.0 496.5 449.2 498.9 450.6 501.5 450.2 504.0 449.5 506.3 449.5 508.3 448.1 510.2 446.6 512.8 447.5 515.7 447.5 517.8 449.5 515.4 451.6 514.0 454.5 511.3 455.4 509.0 457.0 507.2 459.2 506.5 462.0 505.6 464.4 502.3 464.5 501.5 467.0 501.0 469.6 499.8 472.0 499.0 474.5 498.8 477.1 496.2 478.0 495.7 480.5 494.0 482.0 491.9 484.1 491.5 487.0 488.6 487.5 488.0 490.1 486.5 492.0 483.6 492.4 483.1 495.3 481.5 497.0 479.6 499.2 479.0 502.0 477.3 503.6 476.3 505.6 474.6 507.2 474.0 509.5 472.3 511.6 470.4 513.5 469.0 515.8 467.3 517.8 466.4 520.5 464.0 522.0 462.4 523.8 461.8 525.9 461.5 528.2 460.8 530.4 460.6 532.7 459.0 534.5 458.1 536.9 458.3 539.5 457.8 542.0 455.6 544.3 454.0 547.0 453.0 549.4 450.0 549.7 449.0 552.0 448.1 554.4 445.6 555.2 444.0 557.0 442.0 558.7 439.8 560.3 438.7 562.9 436.5 564.5 434.7 565.8 433.2 567.7 429.9 566.8 429.0 569.5 426.2 569.4 425.8 572.8 424.5 575.0 421.5 574.5 419.3 576.1 418.0 578.5 416.0 580.2 414.0 582.0 413.8 585.6 410.2 585.7 408.7 587.9 406.5 589.5 404.2 590.1 402.3 591.4 400.6 592.8 399.0 594.5 396.1 594.9 394.6 596.7 394.0 599.5 391.8 601.1 389.0 601.4 386.7 602.8 384.0 603.2 381.4 602.5 378.9 603.2 376.3 602.8 374.0 604.5 371.6 605.7 368.7 605.3 366.5 607.0 363.7 606.9 361.6 608.9 359.0 609.5 356.8 611.3 353.6 610.1 351.5 612.0 348.2 612.8 346.5 615.8 344.0 618.2 341.7 620.0 339.0 620.8 337.2 623.6 334.0 622.5 331.4 622.9 328.8 623.1 326.5 624.5 323.3 623.3 321.6 626.4 319.0 627.0 316.6 627.8 314.0 627.4 311.4 627.4 309.0 628.2 306.6 629.4 303.6 628.6 301.5 630.8 299.1 631.9 296.9 633.5 294.0 633.2 291.7 634.6 288.9 634.6 286.5 635.8 283.4 636.8 281.5 639.5 279.8 641.8 279.0 644.5 281.0 646.6 281.5 649.5 283.9 651.4 284.0 654.5 281.5 655.7 279.0 657.0 276.6 656.0 274.0 655.8 272.7 653.7 271.8 651.4 270.2 649.5 270.2 646.9 270.5 644.3 269.0 642.0 269.5 639.4 270.1 636.8 271.5 634.5 270.6 631.8 269.0 629.5 266.5 628.3 264.0 627.0 261.6 628.0 259.0 628.2 257.3 625.3 254.0 625.8 251.4 625.5 249.0 624.5 247.0 626.7 244.0 627.0 241.9 629.0 239.0 629.5 236.0 629.7 234.0 632.0 231.8 634.3 229.0 635.8 226.6 637.7 224.0 639.5 222.6 642.9 219.0 642.0 216.8 643.8 214.0 643.2 211.7 644.7 210.2 647.0 210.0 649.6 209.0 652.0 207.7 653.8 206.5 655.8 203.7 657.3 201.5 659.5 200.5 662.3 197.8 663.2 197.6 665.6 194.9 666.9 195.2 669.5 194.8 672.1 195.6 675.2 192.8 677.0 190.5 679.2 190.7 681.8 191.5 684.5 191.6 687.1 192.4 689.7 193.3 692.3 192.8 695.0M474.4 443.9 472.0 446.1 471.6 443.3ZM472.1 445.9 473.5 444.4 474.2 446.5 472.8 447.1ZM475.8 446.1 474.9 445.2 476.2 445.0ZM476.5 442.7 475.6 441.3 477.2 441.0ZM479.2 447.2 478.4 447.6 477.9 447.0 478.3 446.3 478.9 446.6ZM480.7 445.8 479.0 445.8 479.1 444.1 480.3 444.3ZM480.6 443.0 479.4 441.9 480.7 441.2 481.8 442.1ZM479.7 444.4 479.1 443.1 480.6 443.4ZM479.3 447.9 480.1 447.8 480.0 448.5 479.4 449.1 479.0 448.3ZM482.6 442.2 483.8 444.1 482.0 444.4ZM485.4 440.9 485.6 442.1 485.1 442.5 484.2 442.3 484.5 441.1ZM486.7 444.3 485.7 443.8 486.3 442.7ZM482.8 449.6 483.5 447.8 485.3 448.0 486.3 449.2 484.7 450.4ZM489.2 445.5 490.9 444.4 490.9 446.8ZM492.8 446.8 494.2 446.2 495.4 446.7 495.4 448.5 493.2 448.6ZM494.4 449.9 493.4 449.4 493.5 448.2 494.5 448.3 495.0 448.8ZM495.9 447.2 495.8 444.6 497.7 445.7ZM497.4 448.3 497.4 449.1 496.4 449.2 496.5 448.5ZM499.7 448.8 500.0 447.1 501.7 447.3 501.6 449.8ZM503.4 453.3 503.9 454.0 502.8 454.2ZM505.5 450.9 504.3 449.3 506.2 448.8ZM507.1 450.0 508.0 449.2 508.3 450.0ZM509.0 445.8 510.0 446.7 509.1 447.5 507.7 447.3 507.5 445.9ZM512.2 448.4 510.6 449.6 510.6 447.6ZM512.5 448.7 513.0 448.1 513.3 448.8 512.9 449.2ZM514.9 447.3 514.6 446.3 515.6 445.9 515.8 446.9ZM517.9 449.4 516.5 448.3 516.4 446.9 518.7 447.2ZM514.0 449.5 514.4 449.0 515.2 448.6 515.6 449.7 514.9 450.0ZM517.9 451.6 518.6 450.6 519.4 451.1 519.6 452.1 518.7 452.2ZM519.2 451.4 519.8 452.3 519.2 452.8 518.3 452.8 518.3 452.1ZM512.8 452.9 512.1 453.8 510.4 453.9 510.8 452.4 511.6 451.6ZM513.4 453.8 512.3 452.7 513.4 452.4ZM514.2 453.0 513.9 454.2 513.1 454.6 512.3 453.6 513.1 453.1ZM509.8 453.2 511.3 452.8 512.4 453.8 511.4 454.6 510.3 454.7ZM511.7 455.7 511.3 456.2 510.5 456.1 510.9 455.3ZM511.5 454.8 511.3 455.7 510.2 456.3 509.8 455.1 510.2 454.5ZM507.0 459.5 507.1 458.8 508.0 458.8 508.0 459.6ZM505.9 455.6 507.0 457.3 505.4 457.8ZM510.4 462.2 511.3 461.7 511.1 462.6ZM505.0 462.8 504.1 462.7 503.5 461.3 505.0 460.7 505.3 461.8ZM501.5 465.4 503.4 466.4 501.7 467.7ZM505.1 467.4 503.0 467.4 503.6 465.1ZM497.2 462.8 497.4 463.7 496.4 463.5ZM501.9 467.8 500.5 465.7 502.6 465.4ZM504.0 469.3 504.4 470.2 503.7 471.1 502.6 470.4 502.8 469.4ZM500.6 467.2 502.3 468.6 500.6 469.3ZM499.1 471.3 497.4 470.9 498.9 469.6ZM502.1 470.4 502.8 471.0 502.0 471.3ZM498.8 470.6 500.7 471.5 499.5 473.2 498.0 472.4ZM498.6 478.0 498.6 476.0 499.8 476.9ZM503.0 475.3 503.1 474.5 504.0 474.5 504.2 475.3ZM498.9 475.1 499.1 476.2 497.5 476.5 497.1 475.6 497.9 474.7ZM498.1 477.1 499.3 477.5 498.5 478.5ZM494.8 479.1 496.6 479.0 495.9 480.0ZM497.0 478.0 498.3 478.7 498.0 480.7 496.1 480.0ZM496.0 482.4 494.6 482.4 494.7 481.0 495.8 480.9ZM490.6 476.8 490.9 477.5 490.5 478.1 489.6 477.9 489.7 476.9ZM493.4 481.6 495.0 481.9 494.3 483.4 492.5 483.2ZM494.6 485.9 493.7 484.9 494.5 483.5 495.8 483.9 495.6 485.2ZM489.9 483.2 489.9 484.9 488.3 484.0ZM490.4 486.8 488.0 486.9 489.1 485.2ZM489.0 492.5 488.5 490.9 489.7 490.5 491.0 491.7ZM490.6 484.9 492.0 485.1 491.2 485.9ZM488.7 488.5 489.1 489.5 488.2 489.3ZM486.7 488.9 485.3 487.8 486.9 487.1ZM488.0 492.7 487.5 491.7 488.6 491.2 489.6 492.0 488.8 492.9ZM485.1 488.0 486.1 490.1 483.9 490.2ZM485.6 489.1 486.9 490.3 485.0 491.2 484.5 489.7ZM486.0 496.6 486.1 495.3 487.7 495.1 487.9 495.9 487.4 496.9ZM481.1 494.4 480.9 495.2 480.4 494.7ZM481.5 497.7 483.2 497.1 484.6 498.6 482.4 499.1ZM485.3 498.0 483.1 499.4 481.7 496.9 483.8 496.0ZM480.9 498.3 479.7 497.9 480.1 496.9 481.3 496.7 481.7 497.6ZM483.3 501.0 482.7 501.7 481.7 501.1 482.2 499.9 483.0 500.2ZM478.4 500.3 480.5 500.8 480.3 502.9 477.8 502.4ZM481.1 505.6 480.9 508.0 479.2 506.9 479.7 504.6ZM477.5 503.8 478.1 503.4 478.6 504.2 477.7 504.5ZM476.3 505.2 474.4 505.4 475.1 504.1ZM472.5 508.3 473.4 508.7 473.3 509.5 472.7 510.0 471.9 509.2ZM473.1 510.6 473.5 511.1 473.0 511.8 472.6 511.0ZM471.3 512.4 470.4 513.7 468.7 512.2ZM471.6 512.3 470.5 510.8 472.5 510.9ZM470.2 514.9 470.4 514.0 471.4 514.4 470.8 515.0ZM466.5 513.4 465.3 512.4 466.6 511.1 467.5 512.5ZM469.2 518.6 468.0 519.0 467.2 518.3 467.8 516.7 469.3 517.3ZM465.4 518.7 466.7 518.9 466.5 519.9 465.5 519.8ZM466.7 517.8 468.1 518.7 466.6 518.9ZM465.5 523.1 466.8 522.9 467.1 524.7 465.0 524.6ZM464.1 522.1 465.9 520.0 467.8 521.6 467.4 523.1 465.6 523.9ZM463.0 522.6 462.4 521.8 463.3 521.8ZM463.3 525.3 461.9 523.8 463.3 522.3 464.3 522.7 464.9 524.5ZM464.8 525.7 463.4 524.9 464.6 524.1ZM458.7 527.4 459.9 526.8 460.8 527.6 459.5 528.6ZM459.6 529.2 461.0 529.0 460.3 530.3ZM455.4 531.7 457.6 531.8 456.5 533.6ZM458.7 529.9 459.5 531.6 458.3 533.4 456.8 531.3ZM459.0 535.2 458.2 536.4 457.1 536.6 456.8 535.8 457.4 534.8ZM454.6 540.1 454.6 539.0 455.8 538.6 456.2 539.7 455.7 540.6ZM458.4 540.0 457.3 541.0 456.8 539.8 457.5 539.2ZM463.1 541.1 462.0 541.3 461.6 540.5 462.7 540.1ZM460.9 545.3 461.9 545.6 462.0 546.4 460.8 546.7ZM458.1 543.1 456.9 543.8 456.3 543.0 456.6 542.0 457.6 542.0ZM456.1 548.5 455.3 548.5 455.3 547.5 456.4 547.5ZM454.1 549.9 454.9 549.0 455.6 549.4 455.6 550.2 454.9 550.6ZM452.7 547.9 452.3 549.7 451.0 549.0 451.5 547.5ZM451.8 548.0 452.9 547.2 454.2 548.6 453.1 549.8 451.6 549.8ZM449.4 551.9 448.1 551.5 449.1 550.7 450.3 550.5 450.4 551.6ZM443.0 551.8 443.6 552.3 443.3 553.1 442.7 552.6ZM445.3 553.2 446.9 552.7 447.1 554.0ZM445.7 551.5 444.4 552.4 444.4 550.7ZM448.1 551.2 448.9 552.9 447.1 553.8 445.9 552.4 446.9 550.8ZM446.3 558.4 444.5 557.6 444.6 555.7 446.6 554.8 447.7 556.8ZM447.1 559.6 447.2 558.0 448.8 558.9ZM444.7 557.5 443.2 558.6 442.3 557.3 443.4 555.9ZM443.0 558.5 442.5 560.1 441.5 558.6ZM440.7 557.4 439.6 557.3 439.8 556.5 440.7 556.4ZM442.2 561.8 440.3 562.4 439.3 560.7 440.8 559.7 442.0 560.3ZM441.1 560.9 443.0 562.2 442.4 563.5 440.7 564.2 439.7 562.6ZM437.2 559.3 437.8 558.7 438.5 559.7 437.5 560.1ZM437.3 562.4 436.2 562.2 435.8 560.9 437.3 560.5 438.4 561.4ZM435.2 567.0 434.2 566.5 433.6 564.9 435.2 564.6 435.6 565.8ZM428.2 562.6 428.9 562.8 429.1 563.6 428.1 563.7 427.7 563.1ZM430.0 565.4 431.8 564.6 431.7 566.7 430.7 567.2 429.4 566.5ZM429.6 571.2 428.5 570.4 429.7 569.6 430.3 570.5ZM430.7 569.5 431.5 569.6 431.8 570.8 430.7 570.7ZM425.3 572.1 426.2 571.1 427.5 571.4 427.6 573.3 425.8 574.1ZM428.1 564.8 428.2 565.3 427.6 565.7 427.3 564.8ZM424.1 571.6 425.2 571.4 425.5 572.7 424.6 573.6 423.6 572.7ZM429.0 568.2 430.1 570.6 427.8 570.4ZM421.8 571.7 420.9 572.2 420.4 571.0 420.8 570.3 421.7 570.5ZM421.0 578.5 420.6 577.7 421.5 577.4 421.9 578.1ZM423.4 574.7 422.2 574.5 422.3 573.1 423.4 573.0ZM418.8 573.8 418.2 575.4 417.0 573.5ZM416.5 571.4 417.1 572.4 416.3 572.6ZM424.9 580.2 422.9 582.2 422.3 579.4ZM419.0 583.3 417.3 583.2 417.1 581.0 419.2 581.4ZM413.8 578.5 414.5 576.7 415.8 576.3 416.0 578.2ZM417.2 579.6 416.8 581.3 414.8 582.1 414.6 580.0 415.6 578.8ZM418.9 585.1 417.8 586.4 417.5 584.5ZM415.1 583.3 416.4 584.1 416.1 585.5 414.8 585.2 413.8 584.3ZM415.2 583.5 415.5 585.3 413.7 585.3 413.2 583.5ZM411.5 585.1 411.0 587.4 409.1 586.8 409.9 584.5ZM411.1 580.6 410.5 580.2 410.9 579.5 411.7 579.9ZM410.5 586.1 410.4 588.1 408.6 588.0 409.0 586.3ZM411.2 587.0 410.4 587.1 409.8 586.4 410.8 586.1ZM409.5 591.5 409.1 593.3 407.9 592.6 408.2 590.8ZM405.2 595.1 405.1 594.3 405.9 593.9 406.0 594.7ZM406.5 590.5 407.0 591.6 405.6 591.7 404.8 591.1 405.3 589.5ZM403.9 590.2 404.8 589.7 405.1 590.9 404.0 591.1ZM403.2 590.6 404.3 590.4 405.2 591.8 404.1 592.8 402.8 592.1ZM402.3 594.6 401.5 593.8 402.5 593.1 403.2 594.0ZM401.7 594.7 401.6 596.1 399.8 597.0 399.5 595.0 400.3 593.6ZM395.8 594.8 396.7 594.6 396.5 595.4ZM397.5 594.3 398.4 594.3 398.6 594.8 398.2 595.5 397.7 595.0ZM392.9 593.7 393.5 594.5 392.4 595.4 391.5 594.8 391.9 593.5ZM390.8 597.8 391.4 596.3 392.2 596.7 393.0 598.0 391.6 598.9ZM390.5 598.0 389.2 598.0 388.8 597.2 390.0 597.1ZM389.0 598.3 390.5 597.6 390.8 598.8 390.5 599.7 389.6 599.8ZM389.8 596.3 388.6 595.5 389.8 594.2 390.7 595.1 390.8 596.1ZM391.5 595.8 390.1 596.1 389.0 594.4 391.4 594.2ZM387.9 604.9 386.8 603.7 387.7 602.6 389.3 603.6ZM387.0 603.6 386.7 604.9 385.7 604.3 385.7 603.3ZM384.1 603.1 383.3 602.6 384.2 601.9ZM382.0 600.1 383.1 597.6 384.6 600.1ZM380.6 600.2 380.7 601.0 379.8 601.1 379.7 600.0ZM379.9 603.6 381.4 604.4 379.7 605.0ZM377.5 610.3 376.7 608.7 377.9 607.5 379.1 609.2ZM377.1 604.4 380.0 605.3 377.7 607.0ZM375.1 602.2 376.2 602.2 375.7 603.2 374.7 603.3ZM376.8 601.6 375.6 603.9 374.5 601.5ZM372.3 603.1 372.3 604.4 370.9 605.4 370.1 603.4 371.2 602.7ZM372.0 602.4 370.9 603.4 370.1 602.6 370.8 601.8ZM369.6 608.0 368.5 608.2 368.4 607.5 369.2 607.2ZM367.5 607.2 366.9 606.6 367.7 606.3 368.0 606.8ZM364.6 611.5 365.0 610.9 366.2 611.1 365.8 612.6 364.8 612.8ZM365.5 603.7 365.0 602.6 365.9 602.1 366.7 603.1ZM362.8 606.5 364.1 606.7 364.0 607.8 362.6 608.0 362.3 607.1ZM363.1 608.1 363.9 608.7 363.0 608.8ZM361.0 608.4 360.5 610.8 359.1 610.5 359.0 608.7ZM361.2 611.0 360.4 611.8 359.1 610.9 360.5 610.0ZM357.9 609.7 355.1 608.4 357.3 606.9ZM356.7 608.8 354.0 607.9 356.0 607.0ZM356.7 611.6 355.8 611.8 355.5 611.0 356.7 610.5ZM356.5 611.4 356.8 612.8 355.6 613.0 355.1 611.7ZM355.3 611.9 354.6 613.8 353.5 612.5 353.8 610.7ZM349.8 610.7 349.5 609.5 350.5 609.7ZM353.0 614.7 352.2 616.1 351.1 615.1 351.3 613.6 352.8 613.8ZM349.4 614.3 349.5 615.3 348.6 615.1 348.6 614.5ZM343.5 613.5 344.4 612.9 345.0 613.2 345.5 613.9 344.2 614.1ZM348.1 613.3 347.6 614.2 347.0 614.1 346.9 613.2ZM342.3 616.8 343.2 615.1 344.7 615.4 345.2 617.1 343.8 617.9ZM343.9 614.6 345.2 613.7 345.5 615.1ZM340.3 616.5 340.5 615.8 341.2 616.3ZM345.7 620.2 344.7 620.3 344.4 619.1 345.6 619.1ZM340.1 619.1 340.8 619.0 340.8 620.1 340.1 620.2 339.8 619.5ZM342.9 621.6 342.0 622.7 340.7 621.6ZM336.4 619.1 337.7 620.1 337.4 621.8 335.6 621.7 335.1 620.4ZM339.3 622.2 338.3 622.7 337.9 621.4 339.0 620.6ZM337.0 625.1 335.9 625.1 336.1 624.0 337.2 623.2 337.7 624.5ZM332.7 627.0 331.6 625.2 333.2 624.0 334.1 625.1 333.9 626.7ZM333.0 622.3 332.3 620.2 334.4 620.5ZM329.7 625.9 329.0 626.3 328.7 625.5 329.5 625.1ZM329.4 625.4 329.4 624.0 330.4 624.9ZM329.0 621.5 326.2 621.6 327.1 619.4ZM323.4 622.2 324.5 622.9 324.5 624.9 323.2 624.8 322.6 623.4ZM325.1 622.3 326.1 624.4 323.8 624.1ZM324.7 627.4 323.9 627.6 323.4 626.8 324.4 626.3ZM324.3 626.8 323.9 625.9 325.2 625.8 325.2 626.9ZM322.5 627.8 320.3 627.9 321.1 626.9ZM317.8 625.9 319.7 627.3 318.3 629.0 316.4 627.9ZM320.0 627.8 318.8 629.8 318.0 627.5ZM314.4 625.3 315.6 625.1 315.6 626.1 314.6 626.5ZM315.0 626.0 315.1 628.9 313.3 627.4ZM310.9 629.6 310.6 628.2 312.6 628.4 313.4 629.6 311.8 630.4ZM313.0 627.0 313.4 627.7 312.6 628.0 311.9 627.5 312.4 626.9ZM310.5 626.5 309.9 626.8 309.5 625.9 310.1 625.4 310.6 625.8ZM312.2 630.2 310.6 629.4 311.9 628.7ZM310.2 631.0 309.5 631.3 308.7 630.8 309.3 630.1 310.1 630.4ZM307.9 630.1 308.6 631.4 306.9 631.4ZM304.7 629.9 304.1 631.5 301.8 630.7 302.5 629.1 304.6 628.3ZM306.1 625.2 304.2 624.7 305.4 623.6ZM302.2 628.8 301.3 628.0 302.1 627.0 303.2 627.2 303.6 628.7ZM300.5 628.7 300.8 627.0 302.9 627.5 302.6 628.7 301.7 630.1ZM300.1 635.4 300.5 634.2 301.4 634.9ZM302.4 632.7 301.5 632.8 301.2 632.1 301.7 631.4 302.6 631.6ZM297.8 633.3 295.8 633.7 296.3 631.5 298.4 631.6ZM300.7 635.8 301.0 634.2 301.9 634.3 302.4 635.6ZM296.1 630.5 296.9 630.2 296.8 631.4ZM296.3 633.1 295.8 633.7 294.9 633.3 295.0 632.7 295.8 632.7ZM291.8 632.0 291.2 629.8 293.3 630.4ZM289.2 637.6 291.2 636.2 291.5 638.8ZM290.4 635.7 289.1 633.8 290.7 633.4ZM289.9 635.9 290.9 636.9 289.4 638.2 288.7 636.5ZM287.6 633.4 289.3 633.2 289.1 635.5 287.6 635.5ZM285.6 640.9 284.6 639.0 286.1 639.0ZM285.8 632.7 286.6 633.4 286.3 634.4 285.3 634.9 284.9 633.3ZM284.1 635.9 284.6 638.2 283.3 639.3 281.8 638.2 282.2 636.9ZM283.3 637.1 283.3 638.2 282.5 638.0 282.4 637.0ZM281.8 642.9 283.9 642.8 283.4 644.5 282.1 644.4ZM281.1 643.7 280.7 642.5 281.6 642.1 282.2 643.1ZM276.3 642.6 276.9 641.8 277.9 641.7 278.2 642.7 277.6 643.7ZM278.7 645.0 278.5 646.7 277.3 647.7 277.0 645.5ZM282.2 645.5 281.3 645.7 281.0 645.0 281.9 644.6ZM280.1 648.7 280.1 648.2 280.8 647.9 281.3 648.3 281.0 648.8ZM285.7 647.7 285.5 647.1 286.3 646.6 287.0 647.1 286.4 647.9ZM283.6 652.4 284.8 652.6 284.0 653.8ZM285.1 654.2 283.5 652.7 285.7 652.2ZM281.5 654.5 280.8 654.8 280.1 654.0 280.7 653.2 281.3 653.8ZM280.1 654.0 282.6 654.3 281.2 656.0ZM277.5 650.6 279.7 650.3 279.5 652.5 277.7 653.4 276.5 651.6ZM280.5 655.5 278.7 654.9 277.8 653.5 279.7 653.2 280.5 653.8ZM277.6 657.7 277.0 655.8 278.6 655.4 279.4 657.2ZM274.6 652.1 276.4 653.1 275.8 654.9 273.9 654.1ZM276.8 656.5 275.0 657.7 275.1 655.0ZM273.0 655.3 273.3 656.0 272.6 656.1ZM272.7 656.1 270.4 656.1 271.5 654.2ZM274.1 651.5 272.9 651.8 273.1 650.5ZM271.8 651.6 273.6 653.1 271.9 654.2ZM272.9 647.5 273.4 647.9 273.3 648.5 272.4 648.4 272.3 647.9ZM270.9 648.8 269.9 647.2 272.3 647.0ZM264.6 645.2 265.8 646.1 264.3 647.2 263.5 645.9ZM272.7 641.3 271.4 641.2 271.2 640.2 271.8 639.3 272.8 640.1ZM270.6 640.6 272.1 640.1 272.8 641.3 272.3 642.9 270.7 642.4ZM265.9 638.3 268.8 638.5 268.4 640.4 266.4 640.1ZM271.4 636.6 273.9 637.4 272.2 639.4ZM273.1 636.2 271.5 638.1 271.0 635.9ZM272.6 636.6 271.8 636.0 271.8 634.8 273.2 634.6 273.7 635.9ZM272.7 632.9 271.8 633.1 271.8 632.3 272.6 632.2ZM269.5 634.5 270.1 632.7 271.0 634.2ZM269.7 630.5 269.2 631.3 268.8 630.4ZM274.4 627.7 274.7 627.1 275.5 627.2 275.4 627.7 275.1 628.2ZM267.3 632.2 264.9 631.3 265.9 628.9 267.9 629.9ZM266.7 625.8 268.6 625.4 268.9 626.8 267.7 627.6ZM264.3 627.4 265.2 628.5 264.4 629.2 263.2 628.6ZM263.2 625.7 265.0 625.8 264.9 627.4 263.0 627.5ZM263.7 629.8 263.3 629.6 263.4 628.8 264.0 628.9 264.2 629.6ZM264.6 627.4 265.0 629.3 263.7 629.9 262.5 629.2 262.7 627.7ZM260.2 628.5 258.7 629.1 258.0 627.7 259.5 627.4ZM258.9 625.8 257.9 626.5 256.7 625.6 258.2 624.3ZM257.5 630.0 255.8 629.0 257.5 628.5ZM254.3 626.0 253.4 625.7 253.9 624.8 254.8 625.4ZM256.0 625.0 255.4 627.0 254.2 625.7ZM252.3 634.8 249.5 635.8 249.3 633.0 251.7 632.8ZM251.9 625.0 252.9 624.9 252.6 625.9ZM249.2 625.1 249.1 624.3 250.3 624.2 250.3 624.9 249.9 625.4ZM247.0 625.9 248.9 626.8 248.9 628.5 246.7 627.9ZM247.1 625.2 248.5 623.7 250.1 625.2ZM249.7 627.2 251.3 626.2 251.4 627.9ZM245.8 627.4 243.3 627.9 243.2 625.5 245.4 625.6ZM244.7 627.5 245.3 627.9 245.1 628.6 244.5 628.5 244.4 628.1ZM243.3 629.5 241.2 629.1 241.9 627.6 243.4 628.1ZM243.3 631.9 242.1 630.4 243.9 630.0 245.0 631.1ZM240.4 629.8 241.2 628.5 242.1 628.9 242.1 630.3 241.4 630.6ZM239.2 626.0 240.0 625.0 240.5 626.4ZM239.1 631.6 238.2 630.9 238.8 630.1 239.5 630.6ZM238.2 631.1 237.4 630.4 238.0 629.4 238.8 630.3ZM234.6 627.8 235.3 630.7 232.8 630.2ZM235.7 629.4 237.2 628.6 237.7 630.3 236.8 631.4 235.4 630.7ZM235.0 636.6 236.1 637.2 235.4 638.7 234.2 637.7ZM232.6 632.8 232.4 631.1 233.3 631.2 233.8 632.4ZM228.8 630.4 229.9 631.7 228.7 633.4 227.4 631.6ZM231.6 632.5 230.1 634.1 228.5 632.4 230.2 630.9ZM225.2 632.9 226.0 633.7 225.5 634.7 224.5 633.9ZM229.3 637.2 230.0 638.4 228.7 639.6 228.2 638.1ZM224.4 641.0 224.9 638.6 226.3 640.3ZM225.5 641.9 224.3 641.2 224.5 639.7 225.6 639.5 226.1 640.9ZM223.8 640.5 224.3 639.8 225.1 640.1 225.0 640.7 224.2 641.0ZM224.2 641.5 224.8 642.9 222.9 643.1ZM222.8 642.5 220.4 643.3 220.8 640.8ZM218.4 643.4 218.3 641.7 219.5 641.2 220.1 643.5ZM220.8 642.9 220.5 641.7 221.3 642.0ZM222.3 642.3 220.9 641.9 221.0 640.6 221.8 639.3 223.3 640.8ZM216.5 641.0 216.6 638.9 218.9 639.2 219.5 641.1 217.7 641.9ZM219.2 642.5 216.1 642.3 217.5 640.1ZM213.6 644.7 215.5 643.1 215.8 645.3ZM212.2 644.9 213.3 643.8 215.0 643.8 215.1 645.0 213.8 646.0ZM212.3 643.3 213.0 644.0 213.1 645.2 211.9 644.8 211.6 644.2ZM212.8 646.7 212.5 648.4 211.0 647.2ZM213.3 649.4 212.5 647.7 214.1 647.5ZM208.9 652.5 208.9 650.7 210.2 651.3ZM211.9 651.2 212.1 651.7 212.2 652.4 211.4 652.1 211.3 651.6ZM206.1 652.0 209.2 653.1 206.4 655.1ZM209.9 657.2 208.5 658.7 207.9 656.5 209.5 655.7ZM204.1 656.8 202.8 655.3 204.7 653.9 205.4 656.0ZM204.1 657.0 205.6 656.4 206.4 657.9 205.1 658.5ZM199.9 655.0 199.8 654.2 200.9 654.4ZM201.1 653.6 201.2 655.0 199.4 654.9 199.5 653.1ZM204.5 658.9 205.1 660.9 204.5 662.2 202.6 661.6 203.2 659.6ZM198.2 661.0 198.6 660.6 199.4 660.9 199.0 661.8 198.1 661.8ZM200.0 663.3 200.4 665.5 198.4 666.4 197.2 664.7 198.3 662.6ZM196.5 665.2 195.9 666.7 194.6 666.3 194.0 665.4 195.1 664.7ZM197.0 668.6 196.1 668.8 195.6 668.0 196.2 667.3 197.1 667.6ZM195.6 667.1 195.3 668.6 194.0 668.8 193.4 667.9 194.0 667.0ZM196.6 668.3 194.1 668.4 195.5 665.8ZM192.3 668.8 193.3 668.9 192.8 669.6ZM192.8 668.5 193.5 669.5 192.4 670.0 191.6 668.9ZM199.0 672.5 198.5 674.8 196.3 673.1ZM194.8 674.1 196.1 675.8 194.0 675.9ZM194.9 682.8 194.3 681.0 196.2 680.5 197.4 681.4 196.4 682.7ZM195.9 678.0 196.7 676.6 198.0 676.9 198.4 678.5 197.0 678.7ZM196.0 681.2 195.8 681.8 195.1 681.8 194.8 681.2 195.6 680.7ZM190.1 677.3 191.5 677.1 191.8 678.8 190.5 678.5ZM186.2 679.5 187.2 679.3 186.6 680.3ZM188.9 681.3 187.6 681.2 187.8 679.9 188.6 679.8 189.7 680.4ZM191.5 683.7 188.9 684.2 189.8 682.0ZM192.0 685.6 190.8 685.7 191.2 684.7ZM193.0 687.2 193.9 686.1 195.6 686.2 195.5 687.5 194.5 688.6ZM189.9 691.0 189.9 689.3 191.6 690.2ZM196.7 689.5 196.4 690.5 194.4 690.4 194.4 689.1 196.1 688.3ZM185.5 692.8 185.7 693.3 185.1 693.5 184.3 693.5 184.7 692.8ZM193.9 694.1 194.5 694.5 194.1 695.4 193.0 695.1 192.8 694.2ZM193.4 693.5 192.5 692.6 193.6 691.3 194.6 692.7ZM206.5 655.8 204.4 654.0 203.8 651.0 201.5 649.5 199.2 648.0 200.2 644.6 197.8 643.2 194.7 641.8 192.8 639.0 190.8 636.5 187.8 635.8M334.0 622.5 334.0 620.1 334.0 617.7 332.3 615.6 332.0 613.2 333.1 610.4 329.1 609.4 331.3 606.2 329.0 604.5 327.1 602.8 326.2 600.5 325.2 598.2 322.1 600.2 319.0 598.2 316.4 598.5 313.9 598.0 311.5 597.0 308.8 597.1 307.1 595.5 305.6 593.7 304.0 592.0 301.8 590.3 299.0 590.8 296.7 589.0 293.9 590.7 291.5 589.5 289.2 590.9 286.6 590.8 284.0 590.8 281.2 588.7 277.8 589.5 276.5 592.0M339.0 599.5 340.4 601.8 340.4 604.5 339.4 607.4 341.5 609.5 342.3 611.7 343.7 613.6 345.2 615.6 344.5 618.2M335.2 602.0 336.0 604.4 336.9 606.9 334.7 609.8 337.0 612.0 338.2 614.4 338.8 616.9 339.0 619.5M249.0 672.0 250.1 669.7 252.1 668.5 254.0 667.0 256.5 666.2 259.4 666.6 261.5 664.5 263.8 663.0 266.4 662.8 269.0 663.2 271.4 662.3 274.0 662.5 276.5 662.0 279.0 661.4 281.4 660.6 284.0 660.8 286.4 661.5 289.0 661.5 291.3 662.5 292.8 664.5 293.3 667.0 292.8 669.5 292.1 672.9 289.0 674.5 289.3 677.4 287.7 679.6 286.5 682.0 285.4 684.0 283.3 685.5 284.0 688.2 282.6 690.7 281.5 693.2 279.6 696.1 276.5 697.5 273.9 698.2 271.4 698.8 269.0 700.0 266.8 699.7 264.8 697.6 262.4 699.2 260.2 699.0 258.1 697.2 255.3 696.6 252.8 695.8 250.6 694.2 250.8 691.5 249.5 689.5 249.1 686.9 249.6 684.2 247.8 682.0 246.4 679.3 246.4 676.8 249.3 674.6 249.0 672.0M387.8 450.8 389.3 453.5 391.5 455.8 390.4 457.8 390.1 460.0 390.0 462.3 389.5 464.5 390.1 467.1 390.9 469.6 392.6 471.8 392.8 474.5 395.2 473.8 397.8 473.2 398.3 469.8 401.5 468.2 399.9 466.5 398.0 465.1 396.5 463.2 394.4 460.4 395.2 457.0 392.6 455.0 391.5 452.0M311.5 473.2 314.3 473.3 316.8 474.1 319.0 475.8 322.0 475.2 323.8 478.1 326.5 478.2 327.6 476.0 329.7 474.8 331.5 473.2 330.1 470.7 330.7 467.7 330.2 465.0 328.0 465.4 325.6 465.5 324.0 467.5 321.2 468.2 319.0 470.0 316.1 471.8 312.8 471.5M464.0 423.2 465.8 421.5 466.0 419.0 468.1 418.3 470.2 417.5 472.1 418.8 474.0 420.0 474.7 422.8 474.5 425.8 473.7 428.6 471.0 429.5 468.7 429.3 466.5 429.0 464.5 426.4 464.0 423.2M479.0 622.0 477.9 619.6 478.4 616.5 476.3 614.4 475.2 612.0 474.5 609.2 473.7 606.5 471.5 604.5 469.3 602.5 469.6 599.6 469.0 597.0 470.4 594.2 469.7 591.7 467.8 589.5 468.6 587.0 467.7 583.9 470.2 582.0 472.0 579.8 473.9 577.6 474.0 574.5 474.4 572.1 477.3 571.3 477.5 568.7 479.0 567.0 480.0 564.7 483.0 564.3 484.0 562.0 485.4 560.1 486.3 557.7 489.0 557.0 491.7 555.4 494.0 553.2 496.3 554.7 499.0 554.0 499.7 557.2 502.8 558.2 503.3 561.5 502.0 564.5 499.8 566.6 500.6 569.4 500.2 572.0 499.3 574.4 499.5 577.1 498.7 579.6 497.8 582.0 497.7 584.6 496.3 586.9 496.1 589.6 495.2 592.0 495.7 595.0 493.6 597.1 492.9 599.7 491.5 602.0 489.3 603.2 488.7 605.6 486.7 606.9 486.5 609.5 484.7 611.2 485.7 614.7 482.8 615.8 482.5 618.1 480.6 619.7 480.2 622.0M439.0 462.0 440.6 460.1 443.4 460.8 444.9 458.6 447.3 458.6 449.5 458.1 451.5 457.0M444.0 457.0 446.0 458.8 448.3 460.4 449.0 463.2M366.3 444.0 364.4 444.5 363.6 443.2 365.2 442.6ZM369.6 453.0 369.1 454.0 367.7 453.3 368.7 452.2ZM355.8 452.1 353.2 451.6 353.7 448.3 357.0 449.7ZM358.7 434.6 357.7 432.9 359.4 432.5 359.9 434.0ZM361.9 441.7 359.9 443.1 357.3 442.3 359.1 440.4ZM366.5 439.5 368.2 439.7 367.8 441.7 366.5 442.1 365.1 440.6ZM351.2 448.1 352.2 447.6 352.8 448.2 352.1 448.9ZM372.0 448.6 373.7 447.1 375.3 448.3 374.7 450.0 373.0 450.3ZM367.8 439.1 367.1 437.0 368.3 436.0 369.9 437.5ZM361.3 441.8 360.7 441.0 361.7 440.5 362.3 441.0 362.3 441.8ZM349.0 443.6 349.9 443.9 350.2 444.9 349.2 445.1 348.2 444.7ZM357.8 452.9 359.8 451.2 361.1 452.7 360.0 454.4ZM373.8 442.5 372.7 441.3 373.3 440.1 374.8 440.9ZM360.5 451.1 359.9 453.4 357.7 452.5 358.2 450.5ZM364.6 442.3 363.4 441.3 364.6 440.9ZM367.2 439.6 367.5 441.3 365.9 441.8 365.4 439.7ZM370.9 442.1 370.1 443.3 369.7 442.2ZM371.9 437.6 372.5 439.5 370.1 439.5 368.9 438.2 370.5 436.9ZM363.8 436.8 364.1 434.9 366.6 435.0 365.5 437.1ZM366.3 451.4 367.5 451.6 367.8 453.1 367.0 453.6 365.8 453.0ZM360.4 452.0 362.2 451.4 362.2 453.3 360.7 453.2ZM354.3 441.5 353.9 443.6 351.8 443.8 351.8 441.8ZM349.1 447.9 350.5 447.9 349.8 448.8ZM353.5 447.0 351.7 446.7 351.2 444.6 353.1 444.0 354.3 445.2ZM357.7 454.0 356.6 452.2 358.3 451.3 359.1 453.0ZM365.7 431.6 365.9 432.6 365.0 432.7 365.1 431.4ZM348.7 445.3 350.1 444.2 351.7 444.6 352.3 447.5 349.6 447.7ZM358.0 455.6 356.8 455.0 356.9 453.4 358.4 454.0ZM351.5 452.4 350.6 448.9 354.3 449.9ZM355.8 433.7 357.3 434.1 356.5 435.3 355.1 434.7ZM369.9 436.3 371.5 434.7 372.3 437.2ZM372.5 454.6 371.2 454.3 371.2 453.3 372.9 453.0 373.8 454.0ZM366.0 450.5 365.4 449.0 366.9 448.5 367.4 449.9ZM364.8 441.4 365.1 439.7 366.8 439.9 367.1 442.0ZM359.8 453.6 362.5 453.2 361.7 455.1ZM352.0 438.7 350.9 438.9 350.9 437.9 351.5 437.8ZM370.7 449.8 370.3 449.1 371.5 448.7 371.5 450.0ZM359.3 448.5 358.9 446.7 360.6 445.3 360.9 447.9ZM371.9 446.5 370.0 445.2 371.8 444.1ZM356.0 431.2 357.4 432.4 356.3 434.5 354.7 432.7ZM398.4 447.7 399.3 449.3 398.7 450.3 396.8 450.0 397.0 448.4ZM388.5 444.9 389.8 444.5 390.9 445.6 390.3 447.5 388.4 447.1ZM396.5 444.7 397.2 444.4 397.8 444.8 397.5 445.4 396.7 445.3ZM393.4 445.0 393.1 443.7 394.4 444.1 394.4 445.3ZM387.4 455.1 385.4 454.4 386.4 452.5 388.3 453.3ZM392.3 452.2 390.1 452.8 388.9 451.1 391.3 450.5ZM403.2 451.1 404.4 453.6 400.8 454.0 400.8 451.3ZM395.5 451.8 396.1 452.6 395.1 453.0 394.8 452.1ZM402.9 451.7 404.6 451.7 405.7 452.9 404.1 453.8 403.1 453.2ZM397.0 446.2 395.9 445.6 396.0 444.7 396.9 444.6 397.7 445.2ZM394.5 451.4 393.2 450.5 394.2 448.9 395.5 450.0ZM401.9 444.7 403.0 445.7 403.0 447.7 401.2 448.4 400.1 446.2ZM400.5 447.3 398.8 448.0 397.8 446.1 399.0 445.2 401.2 445.5ZM386.8 448.3 386.9 446.1 389.0 446.7 388.6 448.7ZM394.4 448.3 394.2 449.2 393.4 448.6 393.8 447.6ZM397.2 451.7 396.1 453.2 395.2 451.6ZM395.4 451.9 395.4 453.2 393.9 453.1 394.1 452.0ZM392.0 450.5 390.7 452.4 389.0 450.7 390.5 449.4ZM395.4 451.4 394.4 451.3 394.1 450.5 395.3 450.4ZM404.7 447.7 403.4 449.4 401.8 448.9 401.2 447.3 402.9 446.4ZM389.5 449.7 387.3 449.7 388.5 448.0ZM402.1 446.4 403.4 445.7 404.8 446.4 404.4 447.9 402.9 448.2ZM398.2 446.9 398.2 447.9 396.5 447.8 396.8 446.8ZM388.0 451.8 389.0 453.1 388.1 454.5 386.4 453.2ZM391.9 454.7 391.8 453.3 393.6 452.9 393.5 454.5ZM399.7 472.0 400.6 472.3 400.3 473.0 399.6 473.0ZM400.1 465.7 401.3 466.1 401.1 467.3 400.1 466.8ZM389.3 476.7 390.1 475.6 390.8 476.3 390.5 477.3ZM388.5 466.4 387.1 463.8 390.2 464.6ZM400.5 468.9 399.0 469.1 399.1 468.1 400.3 468.0ZM395.1 474.7 397.3 472.5 398.7 475.0ZM398.4 466.6 399.8 468.2 399.1 469.5 397.5 469.0ZM402.1 466.5 400.3 466.0 400.9 464.3 402.2 463.5 403.3 465.2ZM389.4 470.2 387.9 470.4 388.3 468.7ZM401.8 472.2 402.0 474.4 400.0 474.8 400.2 472.3ZM402.7 473.9 401.1 474.4 400.4 473.3 401.7 472.5ZM388.4 470.3 387.7 468.3 389.3 467.7 390.8 469.2ZM390.8 471.6 389.3 470.2 390.2 468.7 392.2 469.4ZM389.6 466.9 387.2 466.4 386.1 464.6 388.3 462.6 389.8 464.0ZM389.7 475.4 389.6 477.2 387.8 476.6 387.4 475.4 388.7 474.1ZM505.9 459.6 504.6 458.3 505.5 456.8 506.7 457.2 507.0 458.3ZM519.4 458.9 519.7 461.3 517.2 461.6 515.8 460.1 516.9 458.4ZM506.4 447.8 507.4 446.9 508.7 447.6 508.5 449.2 506.9 448.8ZM514.0 435.6 513.7 434.1 514.9 434.8ZM506.1 464.9 506.3 463.0 507.3 463.9ZM507.4 448.0 509.0 449.0 507.5 450.3 506.0 450.0 506.1 448.3ZM511.8 456.5 513.0 457.2 512.5 458.2 511.8 458.4 511.3 457.6ZM514.0 453.6 515.8 453.6 514.2 455.1ZM516.5 434.2 518.3 436.4 515.2 437.4ZM505.0 439.2 505.7 438.3 506.6 438.4 507.0 439.3 506.1 439.9ZM516.6 453.3 517.5 450.5 520.0 451.4 519.4 453.8ZM520.6 440.0 518.1 438.9 518.9 437.0 521.4 437.6ZM507.6 437.0 507.4 439.5 505.5 439.3 504.9 436.8ZM503.8 442.8 505.1 441.9 505.4 443.6ZM508.9 446.7 508.3 447.7 506.9 447.3 507.3 446.1ZM513.7 446.7 512.5 449.3 511.4 447.1ZM505.5 439.3 503.2 438.6 503.9 436.8 506.6 437.2ZM513.2 453.7 512.6 452.4 513.8 452.3ZM516.9 442.3 517.5 443.0 516.5 443.6 516.0 442.6ZM518.2 451.5 520.4 453.4 517.7 454.2ZM513.3 459.6 513.2 460.2 512.2 460.1 512.2 459.5 512.9 459.1ZM510.2 455.5 512.7 457.8 509.3 458.2ZM517.7 456.8 519.1 456.5 520.6 458.0 519.3 459.4 517.9 458.7ZM513.6 459.1 516.3 460.8 514.0 461.9ZM506.5 435.8 505.5 437.2 504.5 436.0 505.4 434.8ZM459.3 531.6 457.1 532.2 456.5 530.9 457.7 529.9ZM462.2 527.1 461.9 525.7 463.9 526.2ZM455.5 523.7 454.2 523.9 453.1 522.6 454.4 521.1 455.9 521.8ZM456.8 524.6 458.8 524.7 458.4 526.1 457.1 526.1ZM467.4 526.1 466.6 528.4 465.0 527.4 465.6 525.7ZM464.0 528.8 463.6 526.0 465.3 526.8ZM455.3 533.1 456.4 534.0 454.8 534.4ZM461.8 520.8 461.2 519.7 462.4 519.8ZM459.3 528.6 457.0 528.1 458.3 526.9ZM463.3 521.5 463.2 519.5 464.6 520.5ZM462.9 532.9 467.1 531.7 465.8 534.5ZM455.4 537.0 453.8 534.3 455.6 532.4 457.1 534.5ZM459.4 524.4 456.9 525.6 456.5 523.0 458.4 522.5ZM462.0 533.1 461.4 534.0 460.3 533.6 460.9 532.7ZM459.2 534.4 458.4 533.0 460.2 533.0ZM449.8 543.4 449.9 545.1 448.4 545.1 447.4 544.3 448.4 543.6ZM457.9 551.9 459.3 552.3 458.4 554.3ZM459.4 558.5 460.1 556.8 461.7 557.3 461.2 558.9ZM442.8 559.6 444.5 559.2 445.5 559.4 445.5 560.9 444.0 561.3ZM463.1 549.2 460.7 548.4 460.3 545.6 463.3 545.5 465.1 547.1ZM450.6 545.5 451.0 544.4 452.7 544.7 452.1 546.6ZM454.3 547.6 455.8 547.1 456.2 548.7 454.4 548.8ZM443.4 550.0 444.7 551.2 444.8 552.8 442.8 552.5 442.4 551.1ZM452.7 560.9 451.0 558.8 453.5 557.7ZM443.1 549.2 444.5 549.0 445.0 551.9 442.6 551.8 440.9 550.3ZM446.4 546.1 447.3 548.4 444.4 549.5 443.7 546.7ZM453.3 555.6 451.8 558.2 450.2 555.7ZM452.9 552.2 451.5 554.6 450.0 552.5 451.3 550.3ZM457.7 541.2 457.8 542.7 456.8 542.2ZM451.8 558.7 452.5 559.8 451.7 560.9 450.4 560.5 450.9 559.3ZM345.2 607.8 345.3 609.3 343.5 608.9 342.8 608.0 344.1 607.0ZM365.5 625.0 364.2 625.7 364.0 623.7 365.6 623.9ZM366.8 618.5 365.6 615.9 367.7 614.2 369.1 616.9ZM364.0 624.3 362.7 624.4 362.4 623.5 362.9 623.0 363.9 623.3ZM366.1 616.1 365.7 614.4 367.4 614.3 367.6 615.3ZM343.5 623.0 342.0 622.8 341.2 621.9 341.8 620.3 343.9 621.3ZM361.2 619.7 361.2 621.2 360.0 620.3ZM354.6 611.1 355.9 610.7 356.5 611.4 355.5 612.3ZM359.4 615.9 360.8 618.4 357.8 618.3ZM350.1 616.4 352.1 615.7 351.8 617.3ZM345.3 618.4 343.8 614.9 346.9 614.6 348.2 617.5ZM365.1 615.0 364.0 614.8 364.8 614.1ZM349.8 621.7 347.3 623.4 347.7 620.2ZM345.9 608.0 348.0 607.5 347.8 610.3 346.2 611.2 344.2 609.6ZM359.4 623.1 358.3 623.9 357.1 623.6 357.3 622.4 358.6 621.9ZM344.3 617.6 343.6 616.7 344.0 615.5 344.9 615.6 345.2 616.9ZM347.4 622.4 348.0 619.1 349.5 620.9ZM369.0 607.9 368.0 610.1 367.0 608.4ZM360.1 613.3 359.7 612.2 360.4 610.1 362.2 611.0 362.4 613.5ZM359.7 615.3 361.1 617.4 358.8 619.3 357.1 616.2ZM355.4 615.6 356.0 615.9 356.1 616.9 354.9 617.5 354.7 616.3ZM342.4 614.8 341.3 615.9 340.8 614.3 341.8 613.2ZM350.9 608.6 350.2 609.5 349.5 608.6 350.1 607.9ZM363.1 623.1 362.2 622.6 362.2 621.8 363.1 621.6 363.3 622.4ZM363.6 610.6 364.4 613.0 363.2 614.8 362.2 612.5ZM219.0 639.4 220.9 637.6 221.7 640.0ZM215.4 641.3 218.6 641.1 219.2 643.3 216.8 644.2ZM224.2 646.1 224.5 644.8 226.4 644.5 226.8 646.1 225.5 646.8ZM236.0 635.9 234.2 638.2 233.3 635.7ZM212.9 644.8 211.3 644.5 211.0 641.9 213.3 642.4ZM230.4 641.7 228.6 641.0 229.2 638.9 230.9 638.4 232.2 640.2ZM223.4 647.1 222.9 645.7 224.3 645.4 224.6 646.5ZM213.5 639.7 212.3 640.2 211.9 639.1 212.9 638.8ZM216.5 645.7 216.0 648.0 214.1 646.0ZM221.7 639.6 222.7 638.7 223.6 639.6ZM210.3 642.4 210.0 645.4 208.6 643.2ZM212.4 648.1 209.7 649.2 210.3 647.0ZM215.6 645.3 213.1 646.4 211.6 644.6 212.7 642.4 214.8 643.0ZM221.6 640.9 221.3 639.8 222.0 640.1ZM223.8 636.4 224.6 637.9 223.0 639.4 221.2 638.1 222.0 636.3ZM220.1 642.5 222.0 642.2 223.1 642.8 222.3 644.3 221.2 643.9ZM234.0 646.8 234.1 647.5 233.1 647.8 232.4 647.2 232.9 646.5ZM230.5 641.3 230.7 640.7 231.7 640.3 232.2 641.2 231.5 641.5ZM209.9 645.5 209.0 642.6 210.9 641.2 212.5 643.6ZM209.9 641.3 207.9 640.8 208.2 639.5 209.6 639.5 210.6 640.3ZM221.9 646.4 224.3 645.7 224.1 647.9 222.3 648.2ZM213.3 648.9 211.4 648.4 212.1 646.8 214.0 647.3ZM222.7 644.0 223.0 646.5 221.4 647.6 220.0 645.7 221.2 644.3ZM212.9 639.5 212.0 640.6 211.2 640.2 211.2 638.6 212.1 638.8ZM212.1 638.0 213.4 637.8 213.9 638.5 212.9 639.0ZM379.2 446.8 379.6 445.4 380.7 445.1 381.9 446.0 380.8 447.4ZM373.5 445.6 375.2 446.0 375.7 447.1 374.1 447.8 372.8 446.9ZM380.6 445.5 382.6 444.5 383.9 445.7 382.4 447.2ZM376.7 448.4 375.9 446.1 377.5 443.8 379.1 445.4 379.2 448.2ZM384.8 441.8 386.3 441.9 386.1 443.4 384.8 443.6ZM378.5 445.0 380.0 444.2 380.2 446.0 379.6 447.8 377.9 446.4ZM385.3 444.2 383.5 446.7 381.9 444.5ZM375.6 446.6 377.3 444.7 379.8 446.5 377.4 447.7ZM386.9 441.8 385.1 442.3 384.8 440.5 386.2 439.7 388.1 440.4ZM377.6 446.3 375.4 446.6 373.7 445.5 375.5 444.1 377.8 444.2ZM408.7 453.8 407.7 454.7 407.1 453.7 407.4 453.1 408.2 452.8ZM402.9 453.1 401.2 453.7 401.8 450.7ZM388.7 450.6 390.4 451.5 389.7 452.6 388.2 453.3 387.3 451.7ZM398.1 448.8 399.3 450.1 397.6 449.9ZM389.4 446.5 391.0 448.2 390.5 449.9 388.0 449.4ZM402.0 450.0 402.6 448.4 405.1 448.5 404.5 451.0ZM395.2 454.9 396.2 453.1 397.5 454.9ZM402.9 452.1 402.3 451.6 402.4 450.9 403.3 451.0 403.7 451.6ZM392.8 451.9 392.4 448.7 395.7 450.0ZM391.2 453.6 389.6 455.5 386.9 455.3 387.4 452.8 389.5 451.9ZM405.4 455.8 403.8 453.7 405.7 453.0ZM397.8 451.9 395.9 452.7 395.2 451.2 396.8 450.1ZM397.8 452.2 396.5 453.9 396.1 451.8ZM394.5 452.6 396.6 452.4 397.3 454.2 395.9 455.8 394.7 454.6ZM399.5 448.0 398.8 446.8 400.1 446.8ZM401.8 451.2 400.9 451.6 400.4 450.7 400.8 450.0 401.6 450.4ZM405.2 451.3 405.3 450.5 406.1 450.5 406.8 450.9 406.2 451.5ZM408.5 450.8 406.0 449.2 407.6 447.7ZM389.3 447.2 387.2 448.3 387.6 445.3ZM390.9 452.1 389.9 452.9 389.4 451.9 389.4 451.0 390.6 451.0ZM656.0 392.0 658.9 393.8 656.7 397.3 658.5 399.5 659.6 402.3 656.5 404.3 657.2 407.0 659.0 409.3 659.8 412.0 657.7 414.2 659.7 417.1 658.5 419.5 660.2 422.4 663.5 423.2 666.0 425.3 668.5 427.5 669.6 424.7 671.0 422.0 669.2 420.3 668.5 418.1 668.0 415.8 670.5 413.2 670.9 416.0 672.5 418.2 674.8 422.0 677.3 422.3 678.6 419.4 681.0 419.5 682.1 417.1 684.0 414.9 683.5 412.0 683.8 409.5 684.2 407.0 684.8 404.5 685.3 401.9 686.6 399.6 687.2 397.0 689.4 394.7 691.0 392.0M654.8 392.0 655.5 394.4 653.9 397.3 656.0 399.5 658.5 401.3 661.0 403.2 662.6 401.1 664.8 399.5 666.9 397.5 667.0 394.7 667.2 392.0M663.0 444.0 665.8 441.5 668.5 443.5 666.5 446.5 663.0 444.0M674.0 433.2 676.5 435.8 676.2 438.0 674.9 439.9 674.0 442.0 672.0 443.2 671.9 440.6 673.0 438.2 671.7 435.4 674.0 433.2M639.8 492.5 641.0 489.8 643.5 488.2 645.9 487.5 647.5 485.5 649.8 484.5 651.0 486.5 649.0 488.9 646.0 490.0 644.5 492.8 642.2 495.0 639.8 492.5M611.5 536.2 613.0 534.4 613.7 532.3 614.0 530.0 616.4 529.1 615.5 525.3 618.5 525.0 622.1 524.2 623.5 520.8 624.0 523.2 622.9 525.7 619.6 526.2 619.0 529.0 617.1 531.4 615.5 534.0 613.1 534.4 611.5 536.2M535.5 573.2 537.8 570.9 541.0 570.0 543.9 568.3 547.2 568.2 546.0 570.4 544.8 572.5 542.1 573.9 539.8 575.8 537.3 575.0 535.5 573.2M563.5 563.2 566.5 560.8 567.7 563.0 569.8 564.5 566.0 565.0M192.8 695.0 195.4 696.0 197.8 697.5 198.9 695.2 201.5 695.0M201.5 695.0 203.1 696.7 206.2 697.0 206.5 700.0 206.4 703.3 207.8 706.2 208.6 708.6 209.3 711.0 211.5 712.5 211.7 716.0 215.8 715.7 217.5 717.8 219.0 720.0 221.3 721.5 222.2 724.3 224.2 726.1 226.5 727.5 228.1 729.4 229.2 731.9 232.1 732.2 234.0 733.8 236.0 735.1 238.1 736.4 240.3 737.7 241.5 740.0 244.0 740.9 244.4 743.8 246.5 745.0 248.3 746.5 249.4 748.8 251.5 750.0 253.6 751.6 254.8 753.7 255.2 756.2 256.9 759.2 256.5 762.5 255.7 765.5 257.7 767.7 259.0 770.0 259.4 772.5 260.3 775.0 261.7 777.3 261.5 780.0 262.3 782.5 261.1 785.0 263.7 787.4 262.0 790.0 262.0 792.6 262.7 795.0 262.1 797.7 263.5 800.0 263.5 802.5 263.8 805.1 262.2 807.4 262.8 810.0 260.7 812.1 260.8 814.8 259.7 817.2 260.2 820.0 258.1 822.0 259.9 825.5 257.8 827.5 257.3 830.0 255.4 831.7 254.0 833.8 252.1 836.4 249.0 837.5 246.0 837.7 244.0 840.0 241.3 840.9 239.0 842.5 236.3 843.3 234.0 845.0 232.3 847.8 229.0 847.5 226.8 848.0 225.1 849.8 222.8 850.0 219.0 851.2 216.4 851.7 214.0 852.5 213.6 855.4 211.5 857.5 211.9 860.8 209.0 862.5 207.7 865.0 206.5 867.5 203.9 868.5 201.5 870.0 198.8 870.3 196.8 872.6 194.0 872.5 192.6 874.4 190.0 874.7 188.3 876.1 186.5 877.5 184.8 879.1 182.8 880.5 181.5 882.5 179.5 885.0 176.5 886.2 176.1 883.1 175.2 880.0 175.4 877.5 175.2 874.9 176.3 872.5 176.5 870.0 175.7 867.3 177.1 865.0 177.8 862.5 179.4 860.3 179.0 857.5 176.5 856.3 174.0 855.0 171.5 856.4 169.0 855.0 166.7 853.5 164.0 853.2 161.5 852.5 160.8 849.9 158.1 849.2 156.5 847.5 155.6 845.1 153.3 844.0 151.5 842.5 148.6 842.1 146.5 840.0 145.4 837.4 144.0 835.0 143.4 832.2 141.5 830.0 139.7 827.4 137.8 825.0 136.2 822.3 134.0 820.0 132.0 817.6 130.2 815.0 129.1 812.4 126.5 811.2 123.8 810.4 121.5 808.8 118.9 808.9 116.6 807.4 114.0 807.5 111.5 808.1 109.1 808.7 106.5 808.8 104.4 806.4 101.5 805.0 102.3 802.0 98.6 800.4 99.0 797.5 101.3 795.5 101.5 792.5 99.0 791.8 96.8 789.8 94.0 791.2 91.6 792.2 89.0 792.3 86.5 792.5 84.0 795.0M159.0 695.0 159.4 697.9 162.3 698.8 165.0 699.9 165.7 702.5 166.5 705.0 168.8 706.2 169.1 709.4 172.4 709.6 173.0 712.5 175.2 713.8 175.1 716.0 176.5 718.3 176.4 720.6 175.1 722.9 175.3 725.2 175.2 727.5 176.8 729.8 177.4 732.7 179.0 735.0 180.6 737.1 183.1 738.4 185.8 739.5 186.5 742.5 187.8 744.5 189.7 746.0 191.5 747.5 191.7 750.1 193.0 752.4 192.9 755.0 194.0 757.4 194.0 760.0 194.3 762.5 193.4 765.1 195.3 767.4 194.4 770.1 195.2 772.5 196.6 774.9 195.2 777.6 195.6 780.1 196.5 782.5 196.7 785.0 197.0 787.5 196.9 790.0 197.0 792.6 197.8 795.0 197.0 797.6 198.5 800.0 198.1 802.6 199.0 805.0 197.0 807.2 197.1 809.8 196.7 812.4 196.5 815.0 193.4 814.1 191.4 816.4 189.0 817.5 187.3 819.5 183.5 817.8 182.8 821.2 180.0 822.3 179.0 825.0 180.8 827.3 179.3 830.0 179.1 832.6 180.2 835.0 180.8 837.6 183.4 839.5 183.4 842.4 184.0 845.0 185.0 847.6 187.1 849.3 189.0 851.2 190.9 853.7 194.0 853.7 196.5 855.0 197.2 857.7 199.6 858.5 201.5 860.0 202.9 861.7 204.1 863.7 206.4 864.9 206.5 867.5M144.0 698.8 146.4 698.7 148.0 696.6 150.2 696.2 153.3 695.3 156.5 695.0M155.2 797.5 159.0 796.2 161.7 796.9 162.8 799.1 164.0 801.2 165.7 802.6 166.0 805.5 167.3 807.3 170.2 807.5 173.5 808.6 174.0 812.0 171.5 815.0 168.2 814.2 166.5 811.2 164.8 809.6 163.0 808.1 161.5 806.2 159.0 804.3 156.5 802.5 154.4 800.4 155.2 797.5M84.0 887.5 84.5 890.1 86.8 892.1 86.5 895.0 88.2 897.2 88.1 900.0 89.0 902.5 88.4 905.3 91.5 906.3 90.4 909.3 92.5 910.8 94.0 912.5M409.0 900.0 410.1 897.6 410.7 895.0 411.5 892.5 413.1 890.9 414.9 889.3 415.1 886.8 416.5 885.0 419.0 883.7 419.7 880.7 421.4 878.7 424.0 877.5 424.8 874.6 428.5 874.5 429.2 871.5 431.5 870.0 433.3 868.3 435.4 867.1 436.5 864.6 439.0 863.8 441.4 862.8 442.0 860.1 444.0 858.8 446.6 857.0 449.0 855.0 450.9 853.5 451.8 851.2 454.0 850.0 456.7 849.1 459.0 847.5 457.5 849.8 457.8 852.5 455.7 854.2 454.5 857.0 451.5 857.5 450.7 860.0 448.8 861.5 446.5 862.5 444.4 864.1 442.2 865.7 441.4 868.6 439.0 870.0 436.6 871.4 435.8 874.3 433.8 876.0 431.5 877.5 429.8 879.6 428.0 881.5 427.3 884.5 424.0 885.0 422.2 887.0 420.8 889.3 417.4 889.7 416.5 892.5 414.3 894.1 414.7 897.9 411.5 898.8 409.0 900.0M207.8 885.0 211.5 883.8 213.5 886.2 211.4 887.3 209.0 887.0 207.8 885.0M455.9 840.3 457.1 841.1 456.1 842.1ZM459.8 840.7 461.4 840.7 460.9 841.8 459.4 842.1ZM473.6 841.2 472.6 843.8 470.9 843.2 471.2 840.0ZM460.8 834.7 460.2 835.4 459.4 834.8 459.5 834.2 460.4 834.2ZM452.7 835.4 452.9 838.1 450.8 837.6ZM466.7 842.2 465.3 843.7 464.6 841.7ZM462.0 817.1 462.9 814.8 464.4 817.4ZM467.8 846.6 467.1 846.7 466.3 846.3 466.9 845.3 467.9 845.6ZM457.4 821.2 459.2 821.4 458.1 823.4ZM458.1 846.3 459.7 845.7 460.6 847.2 459.7 848.6 457.8 847.7ZM454.4 827.1 455.6 828.3 454.9 829.5 453.2 829.4 453.2 828.1ZM466.2 835.4 467.0 834.1 468.3 834.9 467.4 836.0ZM462.9 847.4 461.0 847.3 462.0 846.1ZM461.2 837.2 460.7 836.3 462.0 835.7 462.3 837.0ZM465.1 838.8 464.2 838.1 464.5 837.4 465.5 837.4 466.0 838.0ZM464.1 840.8 464.2 838.9 465.6 839.3 465.3 841.6ZM468.9 814.9 467.6 816.9 465.5 816.3 465.7 814.1 467.3 813.1ZM468.8 840.5 468.6 841.9 467.1 842.2 466.6 841.1 467.3 839.8ZM465.5 826.1 464.5 825.2 465.4 824.1 466.3 824.3 466.5 825.4ZM460.4 821.0 458.7 820.9 459.0 819.3 460.3 819.7ZM458.1 835.0 458.2 834.0 458.9 834.7ZM462.1 836.5 461.4 838.5 460.3 837.0ZM465.6 813.0 464.6 814.6 464.1 812.8ZM462.5 816.1 464.4 818.5 462.3 819.7 461.3 818.2ZM450.9 832.6 450.9 829.3 453.3 830.7ZM464.1 834.3 461.8 833.8 463.1 832.3ZM473.6 823.3 472.6 823.3 471.9 822.1 473.0 821.8 474.0 822.0ZM461.9 815.1 460.5 814.8 461.4 813.9ZM472.8 834.8 473.5 835.1 474.0 836.3 472.7 837.0 471.8 835.9ZM464.0 824.4 467.1 824.2 465.2 826.3ZM465.8 831.6 463.2 830.7 462.9 828.6 465.3 828.5 466.1 829.7ZM454.1 836.9 453.7 837.7 453.0 837.2 453.4 836.4ZM455.9 846.0 456.1 843.6 458.4 844.5 457.4 846.9ZM454.6 840.2 452.7 842.2 452.2 839.3ZM470.2 827.4 471.9 827.2 473.5 828.4 471.5 829.7 469.9 829.2ZM451.8 823.8 453.1 823.1 453.9 824.3 452.7 825.1ZM452.3 844.1 452.5 843.2 453.5 842.8 454.1 843.8 453.2 844.3ZM460.5 813.2 462.9 814.4 461.4 816.0 460.0 814.9ZM464.9 834.7 463.2 835.3 462.9 833.8 464.2 833.4ZM455.4 826.0 456.6 825.2 457.1 826.9 455.6 827.2ZM440.5 978.5 441.0 978.6 441.5 979.4 440.4 980.0 439.9 979.0ZM412.4 991.1 414.4 992.6 412.5 994.3 411.0 994.4 410.5 991.7ZM416.0 977.9 415.0 978.0 415.5 976.9ZM415.4 976.7 415.0 977.8 413.8 977.4 414.2 976.5ZM422.5 974.6 422.9 975.2 422.7 976.2 422.0 975.9 421.9 975.0ZM409.3 975.6 408.3 975.2 408.7 974.0 409.7 974.0 409.9 975.2ZM420.1 993.7 421.7 993.6 421.7 995.7 419.4 995.3ZM447.8 977.8 445.9 980.5 444.4 978.0ZM445.3 970.7 442.7 970.8 444.2 969.1ZM426.6 986.5 427.1 984.6 428.8 984.9 428.3 986.5ZM413.0 988.2 413.0 989.8 412.0 990.2 411.3 989.0 411.6 987.4ZM431.0 971.1 434.5 970.5 433.0 973.4ZM418.8 981.3 418.3 979.8 419.0 978.9 419.9 979.4 420.3 980.9ZM427.0 977.4 427.5 978.7 426.8 980.1 426.0 978.9 425.8 977.9ZM439.9 990.5 440.5 988.6 442.2 989.4 441.5 991.5ZM440.6 996.0 440.1 997.2 439.5 996.1ZM412.9 977.2 413.3 979.0 411.3 979.1 410.8 977.4ZM410.5 996.5 408.6 997.0 407.9 994.9 410.1 994.6ZM423.8 993.8 425.2 992.8 424.9 994.7ZM447.2 993.5 445.4 993.6 446.1 992.2ZM441.5 983.0 442.4 984.1 441.2 984.5ZM436.2 971.9 436.4 970.5 437.3 970.8 437.5 971.7ZM420.0 989.1 418.5 991.1 417.1 990.6 416.2 988.1 418.7 987.3ZM430.1 964.3 431.7 965.3 431.8 967.1 429.8 967.8 428.8 966.0ZM444.1 993.4 445.3 991.9 445.8 993.5ZM432.7 994.0 431.4 994.1 432.0 992.4ZM421.5 973.1 421.6 972.2 422.6 972.6ZM413.6 974.4 412.1 976.3 410.0 975.7 410.1 974.0 411.8 972.0ZM446.6 977.3 449.0 976.1 448.4 979.2ZM445.3 997.5 445.2 998.3 444.1 998.7 443.9 997.8 444.5 997.4ZM426.5 969.2 427.8 968.8 428.4 970.0 427.9 971.5 426.2 970.7ZM420.6 984.9 420.0 984.2 421.0 983.8 421.7 984.5ZM440.4 997.1 441.8 994.6 444.4 996.5ZM432.3 987.6 430.5 988.9 429.3 987.5 430.6 985.5ZM418.1 968.2 418.4 970.1 416.0 969.3ZM497.5 793.2 497.7 790.1 500.3 789.7 501.0 792.9ZM493.2 804.9 492.3 804.7 491.6 804.1 492.2 802.5 493.5 803.4ZM486.9 787.4 487.8 788.3 486.9 789.3 486.2 788.4ZM492.4 821.0 493.6 824.5 491.1 823.9ZM480.1 809.6 477.1 810.3 478.0 806.8 480.7 807.1ZM506.1 779.3 506.5 780.2 505.2 780.7 504.5 779.5ZM504.1 812.1 506.2 813.8 504.4 815.4 502.4 814.3ZM491.2 776.0 491.6 774.7 492.8 775.4 492.2 777.0ZM488.1 806.6 487.4 805.0 489.2 804.3 490.5 805.7 489.8 807.4ZM488.9 808.5 490.4 806.8 492.4 807.8 492.1 810.3 490.1 810.6ZM503.0 802.7 504.2 804.9 502.4 806.9 500.4 804.0ZM498.2 793.1 498.1 794.7 496.4 794.0 496.5 792.5ZM486.3 820.6 485.0 821.2 483.9 819.8 484.8 819.0 486.2 819.1ZM491.2 762.4 492.2 764.4 490.4 764.8ZM489.4 776.5 490.2 775.7 491.6 776.1 491.2 777.6 489.9 777.2ZM496.3 808.7 494.6 809.3 493.9 808.1 495.3 807.0ZM479.9 775.5 481.1 775.8 480.3 776.7ZM505.2 769.0 503.4 770.0 502.6 768.2 504.2 767.4ZM474.0 778.9 474.9 780.1 473.6 780.3ZM489.6 801.0 492.3 800.6 492.5 802.5 490.5 802.7ZM495.1 762.8 495.8 760.5 497.0 762.5ZM496.9 783.5 494.8 785.8 493.9 783.5ZM479.2 777.2 478.3 778.0 478.1 776.9ZM502.5 816.6 501.4 817.0 501.7 815.8ZM481.2 818.3 482.3 817.0 483.5 817.7 483.9 819.1 482.3 819.5ZM168.4 840.5 166.9 841.0 166.6 839.5 167.7 839.3ZM162.5 852.7 159.5 851.5 162.5 849.5ZM155.8 863.9 156.1 865.8 154.7 865.0ZM158.4 865.0 156.7 864.0 157.4 862.1 158.7 861.2 159.9 863.1ZM177.1 836.4 177.3 834.6 180.1 834.9 179.3 836.8ZM168.4 860.2 167.1 859.3 168.2 857.8 169.9 859.2ZM152.9 867.2 150.5 865.2 152.3 862.5 154.2 864.5ZM170.9 845.1 169.4 844.6 170.7 843.8ZM152.1 856.8 153.1 856.3 153.2 857.3ZM172.0 837.2 170.4 835.3 173.3 834.6ZM165.7 853.8 166.8 853.4 168.0 854.7 166.8 856.1 165.7 855.4ZM153.0 864.3 151.9 863.1 152.5 861.6 153.7 862.0 154.0 863.1ZM150.4 851.8 151.5 852.9 149.9 853.3ZM176.7 840.1 176.5 842.1 174.6 841.5 174.4 839.8ZM175.8 865.1 174.3 864.3 175.4 863.0ZM154.7 849.4 157.6 848.5 158.9 850.7 156.5 851.7ZM147.0 852.4 147.5 853.3 146.6 853.7 146.1 852.8ZM151.9 837.1 150.5 836.0 152.1 835.3 152.8 836.3ZM157.3 862.4 158.0 860.3 159.3 860.6 159.5 862.6ZM168.0 845.3 166.9 845.9 165.9 845.2 166.9 844.8ZM153.8 845.9 155.4 844.7 156.5 845.9 156.4 847.3 154.8 847.0ZM148.6 841.4 147.0 840.1 147.5 838.3 149.2 838.1 150.2 840.1ZM159.7 840.0 160.2 838.5 161.4 838.7 161.1 840.1ZM165.5 840.9 164.9 841.7 163.9 841.3 164.4 840.6ZM151.6 854.1 152.0 852.3 153.8 853.6ZM412.5 922.9 411.6 925.0 410.1 923.5 409.6 921.8 411.7 921.8ZM404.6 918.9 405.7 920.2 404.0 920.1ZM417.2 914.2 417.2 911.5 418.9 913.2ZM406.0 923.9 406.2 921.8 408.7 921.1 409.2 923.1 408.2 924.8ZM405.6 920.9 407.9 919.6 407.7 921.8ZM415.3 913.2 416.5 912.3 416.7 914.3ZM406.6 916.6 407.1 917.5 405.7 918.4 405.2 916.8ZM415.7 928.4 414.3 928.1 413.3 927.0 414.7 925.9 416.0 926.8ZM417.2 908.4 417.0 911.2 415.9 911.8 414.1 910.9 415.1 908.4ZM403.2 912.0 404.1 910.9 406.0 911.4 405.0 912.5ZM417.6 927.9 416.6 929.0 415.2 927.9 416.6 926.6ZM414.9 923.4 411.5 923.7 412.4 920.1 415.5 920.8ZM409.1 917.9 409.5 919.0 408.6 919.6 407.8 918.6ZM418.5 923.9 417.4 926.3 415.9 925.7 414.5 924.2 416.4 923.3ZM401.9 914.4 401.2 912.5 403.2 911.0 404.5 913.8ZM89.0 907.5 91.2 908.8 92.7 910.8 94.9 912.2 96.9 913.7 99.0 915.0 101.3 916.5 104.2 916.3 106.7 917.4 109.0 918.8 111.3 920.5 113.6 922.1 116.5 922.5 118.3 924.4 120.7 925.8 121.3 928.9 124.0 930.0 126.0 931.8 128.7 932.8 129.4 935.8 131.5 937.5 132.3 940.4 136.0 940.5 137.4 942.9 139.0 945.0 139.7 947.6 142.1 948.7 143.8 950.5 145.2 952.5 147.3 954.6 147.0 957.9 149.0 960.0 150.0 962.4 149.8 965.0 150.6 967.4 150.2 970.0 149.7 972.5 149.9 975.0 150.8 977.7 149.0 980.0 149.3 982.5 148.3 985.2 150.0 987.5 150.2 990.0 152.1 992.1 152.2 994.9 152.8 997.5 154.1 999.5 157.0 1000.0 157.8 1002.5 157.5 1005.8 160.5 1007.4 161.5 1010.0 162.4 1012.5 164.2 1014.7 164.0 1017.5 165.5 1019.8 165.2 1022.5 164.1 1024.9 161.5 1025.0 158.6 1025.9 156.5 1023.8M84.0 925.0 85.3 926.9 87.9 928.3 86.6 931.2 85.9 933.9 87.5 935.7 89.0 937.5 89.0 940.1 91.0 942.3 92.2 944.7 91.0 947.5 91.5 950.0 91.4 952.7 93.5 954.8 93.6 957.5 94.0 960.0 94.4 962.5 96.2 964.8 96.1 967.4 96.5 970.0 98.5 972.1 99.0 975.0 100.1 977.0 101.6 978.7 102.8 980.6 103.0 983.0 104.0 985.0 103.9 988.0 105.1 990.2 107.9 991.5 109.0 993.8 110.3 996.0 112.2 997.5 114.5 998.5 116.5 1000.0 118.2 1001.6 121.0 1001.4 122.2 1003.6 124.0 1005.0 126.0 1006.5 127.5 1008.7 130.8 1008.4 131.0 1012.3 134.0 1012.5 136.1 1013.4 137.7 1015.1 139.7 1016.2 141.5 1017.5 142.6 1019.9 145.5 1019.7 147.3 1021.0 149.0 1022.5 151.1 1024.5 154.0 1025.0M84.0 1000.0 86.2 1001.1 87.4 1003.2 89.0 1005.0 91.2 1006.7 93.5 1008.1 96.5 1007.5 97.1 1010.2 99.5 1011.2 101.5 1012.5 103.8 1013.9 106.7 1013.7 109.0 1015.0 111.7 1015.3 114.3 1015.7 116.5 1017.5 117.7 1019.7 120.6 1019.5 122.6 1020.5 124.0 1022.5 124.4 1025.4 129.5 1023.7 129.0 1027.5 131.2 1028.6 132.5 1030.7 134.0 1032.5 135.3 1034.5 138.2 1035.0 139.0 1037.5 140.9 1039.0 141.0 1042.2 144.0 1042.5 145.9 1043.9 149.0 1044.2 149.0 1047.5 151.1 1050.0 154.0 1051.8M259.0 1051.8 259.7 1049.1 257.7 1047.1 257.9 1044.6 258.1 1042.1 256.5 1040.0 257.1 1037.2 255.9 1034.8 255.8 1032.2 254.0 1030.0 254.0 1027.5 255.7 1025.8 257.5 1024.2 257.2 1021.6 259.0 1020.0 261.1 1018.8 261.8 1016.2 264.0 1015.0 266.4 1014.1 269.0 1013.8 271.9 1014.2 273.6 1017.0 276.5 1017.5 279.0 1017.8 281.5 1018.4 284.0 1018.8 286.3 1020.3 289.2 1019.7 291.5 1021.2 294.0 1022.0 296.5 1022.5 297.1 1020.0 296.8 1017.4 297.8 1015.0 296.9 1012.3 298.4 1010.0 300.9 1007.8 299.0 1005.0 299.9 1003.0 300.5 1000.8 301.5 998.8 304.3 998.8 306.6 997.4 309.0 996.2 311.4 995.4 313.9 994.8 316.3 993.7 319.0 994.1 321.5 993.8 324.3 994.3 326.8 993.6 329.2 992.8 331.5 991.2 333.3 989.8 334.8 988.0 335.8 985.9 338.0 984.7 339.0 982.5 340.8 980.7 342.7 979.0 342.6 975.8 343.8 973.6 346.5 972.5 347.6 970.2 349.7 968.5 350.5 966.1 351.5 963.8 353.8 962.2 356.3 961.9 358.5 960.1 361.5 961.2 363.2 959.6 365.7 959.6 367.5 958.2 369.3 956.9 371.5 956.2 372.9 953.7 376.1 953.4 377.8 951.2 379.3 948.5 381.5 946.2 383.8 944.7 385.6 942.7 386.5 940.0 388.4 938.6 389.0 936.0 392.1 935.7 392.2 932.7 394.0 931.2 395.6 929.1 397.6 927.3 399.0 925.0 400.5 922.8 401.5 920.2 404.0 918.8 404.9 916.1 407.3 914.6 409.0 912.5 410.1 909.9 411.5 907.5 411.8 910.2 414.3 912.1 414.0 915.0 413.1 918.3 416.0 919.1 418.8 919.9 419.0 922.5 419.2 925.2 420.6 927.5 421.5 930.0 422.2 932.3 424.7 933.3 425.2 935.6 426.5 937.5 429.2 938.4 431.0 941.0 434.0 941.2 436.5 942.0 439.3 942.1 441.5 943.8 443.9 945.2 446.7 945.8 449.0 947.5 448.7 950.4 451.5 951.2 449.1 952.7 445.8 952.4 444.0 955.0 442.0 957.3 439.3 958.1 436.5 958.8 434.3 961.0 431.5 962.5 430.9 965.3 427.8 965.4 426.5 967.5 424.1 968.4 423.6 971.3 421.5 972.5 419.3 973.7 420.7 977.4 416.7 977.4 416.5 980.0 415.2 982.5 414.0 985.0 414.4 987.9 416.5 990.0 417.3 992.7 419.8 994.6 420.2 997.5 421.4 1000.0 421.8 1003.0 424.0 1005.0 425.2 1007.1 428.1 1007.6 429.0 1010.0 428.5 1012.8 431.0 1014.0 430.6 1016.7 431.5 1018.7 434.0 1020.0 434.8 1022.2 435.7 1024.3 438.4 1025.2 439.0 1027.5 441.0 1029.3 444.0 1029.8 445.2 1032.5 444.0 1034.6 441.5 1035.0 439.0 1035.4 436.4 1035.2 434.0 1036.2 431.5 1036.9 429.1 1037.7 426.5 1037.5 424.1 1038.5 423.0 1040.7 421.5 1042.5 421.0 1044.9 419.7 1047.0 421.0 1049.8 419.0 1051.8M464.0 1051.8 464.6 1049.4 464.1 1046.9 465.3 1044.7 465.2 1042.2 466.5 1040.0 467.6 1037.3 470.3 1036.3 472.6 1034.8 474.0 1032.5 476.3 1031.9 478.0 1030.4 479.8 1029.0 481.5 1027.5 484.0 1027.5 486.5 1026.8 488.9 1025.9 491.5 1026.2 494.0 1026.2 495.9 1027.8 498.4 1026.9 500.4 1027.9 502.4 1028.9 504.8 1028.7 507.0 1029.0 509.0 1030.0 511.9 1028.3 513.6 1032.1 516.0 1032.5 518.5 1032.4 521.0 1032.5M469.0 1051.8 470.5 1049.6 474.2 1050.0 474.3 1046.3 476.5 1045.0 479.0 1044.9 481.4 1043.8 484.1 1045.7 486.5 1044.1 489.0 1043.8 491.2 1043.1 493.3 1041.5 495.6 1043.0 497.8 1041.2 500.1 1042.5 502.3 1042.3 504.6 1043.4 506.8 1043.3 509.0 1042.5 511.4 1041.8 513.9 1043.0 516.3 1042.5 518.5 1041.0 521.0 1041.2M504.0 900.0 505.7 901.6 506.5 903.7 507.2 906.0 509.0 907.5 507.4 909.7 507.4 912.5 506.5 915.0 508.6 917.1 511.5 917.5 512.1 915.3 514.4 913.9 515.7 912.1 514.7 909.1 516.5 907.5 518.4 905.6 521.0 905.0M234.0 975.0 236.1 972.9 237.8 970.5 240.1 971.8 242.8 972.5 244.0 974.9 244.5 977.5 243.0 980.5 240.2 982.5 238.2 981.6 236.0 981.2 235.6 977.9 234.0 975.0M111.5 1012.5 114.0 1010.0 115.2 1012.6 117.8 1013.8 118.1 1016.7 115.2 1017.5 111.5 1015.5 111.5 1012.5M162.5 1021.0 163.5 1024.1 159.5 1023.3ZM165.6 1032.9 166.0 1032.3 166.8 1032.2 167.2 1032.9 166.3 1033.6ZM145.8 1045.5 147.5 1045.0 148.0 1047.3 146.9 1049.4 145.6 1047.7ZM172.7 1036.2 172.4 1035.3 172.9 1034.4 174.1 1035.0 174.3 1036.3ZM144.8 1024.4 145.5 1024.5 145.6 1025.3 145.0 1025.7 144.5 1025.2ZM163.5 1026.1 165.1 1028.2 162.4 1028.1ZM160.1 1027.3 163.0 1026.6 161.4 1030.1ZM145.7 1047.6 148.0 1046.7 149.7 1049.0 146.6 1049.2ZM153.2 1049.1 154.2 1048.7 155.1 1049.4 154.7 1050.8 153.5 1050.5ZM156.7 1028.7 156.3 1027.6 157.2 1027.5ZM170.9 1048.9 170.2 1050.9 168.8 1049.8 169.3 1048.6ZM146.4 1046.3 147.4 1045.7 147.9 1046.5 147.5 1047.3 146.9 1047.1ZM160.3 1039.1 160.1 1038.2 160.9 1037.4 161.7 1038.2 161.2 1039.0ZM173.2 1024.4 172.8 1023.8 173.5 1023.4 174.4 1023.7 173.9 1024.5ZM144.9 1034.0 146.0 1033.3 146.9 1034.5 145.5 1035.4ZM169.9 1049.2 173.5 1049.9 171.2 1052.2ZM174.3 1047.4 174.8 1046.5 176.0 1047.0 175.3 1048.2ZM158.5 1036.1 157.6 1038.0 156.4 1036.7ZM168.8 1048.3 170.5 1049.8 168.1 1050.4ZM170.1 1038.7 169.3 1040.0 169.0 1038.5ZM170.3 1050.1 170.1 1051.4 168.9 1052.4 168.2 1051.0 168.7 1049.8ZM146.6 1038.0 145.4 1038.5 145.1 1037.5 145.4 1036.5 146.3 1036.8ZM174.1 1025.2 176.2 1025.1 176.0 1027.2 174.7 1028.3 173.4 1026.9ZM154.1 1047.8 155.4 1047.0 155.4 1048.6ZM144.4 1026.6 145.5 1027.9 144.2 1028.7 143.6 1027.7ZM171.7 1036.2 174.0 1034.8 175.2 1037.0 173.1 1037.4ZM168.0 1027.8 166.8 1027.8 167.1 1026.7 168.0 1026.8ZM168.7 1036.8 170.0 1033.6 171.4 1036.5ZM153.4 1034.5 152.3 1035.2 152.4 1034.1ZM173.6 1050.0 175.1 1051.6 172.6 1052.2ZM167.5 1041.4 166.6 1041.7 165.9 1041.1 166.3 1040.3 167.2 1040.5ZM158.2 1034.2 159.4 1033.7 160.4 1035.1 159.3 1036.3 157.9 1035.8ZM165.4 1040.8 167.2 1041.8 167.3 1043.8 164.8 1043.2ZM166.9 1027.8 166.6 1029.4 165.3 1028.5ZM167.7 1050.7 167.5 1049.3 168.9 1049.3 168.7 1050.7ZM160.3 1032.6 163.3 1033.9 162.0 1036.0 160.1 1035.6ZM168.3 1041.9 169.8 1040.3 171.4 1042.0 169.7 1043.1ZM149.9 1041.2 151.3 1040.1 152.6 1042.1 150.5 1043.1ZM173.2 1046.8 172.6 1048.3 171.1 1047.3 172.0 1045.8ZM164.9 1044.0 162.8 1045.5 161.9 1043.2ZM148.9 1026.7 149.4 1026.3 150.2 1026.7 149.9 1027.8 149.0 1027.8ZM153.1 1043.6 154.0 1043.6 154.2 1044.7 153.4 1045.4 152.7 1044.6ZM147.7 1030.2 148.7 1031.3 147.0 1031.5ZM147.3 1036.1 146.2 1037.1 145.5 1036.8 145.3 1035.5 146.3 1035.1ZM174.1 1022.6 172.8 1025.8 171.2 1023.7ZM152.2 1040.7 153.9 1041.2 152.7 1042.3ZM154.7 1041.4 156.2 1042.6 156.7 1044.7 154.5 1045.9 152.7 1043.4ZM173.7 1042.5 173.6 1039.6 175.8 1040.9ZM147.6 1025.1 147.4 1022.5 149.1 1021.6 151.4 1022.2 150.0 1024.6ZM171.1 1051.2 172.3 1051.2 172.0 1052.2 170.8 1052.2ZM161.5 1051.6 159.6 1050.7 161.0 1049.0 163.4 1050.2ZM147.1 1026.4 146.6 1025.6 147.0 1024.6 147.9 1025.5ZM170.8 1027.6 169.3 1029.4 167.5 1028.1 168.8 1026.1ZM163.3 1025.4 160.2 1025.3 162.3 1022.3ZM149.8 1027.7 149.2 1025.4 151.6 1025.3 151.9 1027.1ZM156.6 1042.7 157.0 1043.8 156.1 1044.7 154.9 1043.8 155.3 1042.9ZM147.7 1042.0 147.2 1041.1 148.1 1041.3ZM156.3 1033.0 155.4 1033.4 154.5 1032.6 155.9 1031.4ZM145.0 1029.1 146.5 1027.7 147.9 1030.3 145.5 1031.6ZM162.4 1033.5 162.1 1035.7 160.3 1034.1ZM199.3 997.6 200.6 998.2 199.8 999.3 199.0 998.8ZM197.8 992.4 197.3 991.3 198.8 991.4ZM192.5 998.0 191.9 998.6 191.0 998.7 191.2 997.8 191.8 997.2ZM201.2 990.1 203.2 989.2 204.5 990.6 203.3 992.4 201.8 991.6ZM206.1 993.8 208.9 992.3 208.9 995.0ZM205.9 988.6 204.7 989.2 204.5 988.2ZM200.0 992.0 202.2 992.4 202.2 995.0 200.1 995.0 198.9 993.7ZM200.0 987.6 199.0 985.4 201.3 986.0ZM204.8 988.3 203.5 987.3 204.4 986.0 205.8 986.9ZM191.0 997.8 193.0 997.2 192.9 998.9 191.1 999.3ZM194.0 993.1 192.0 992.6 193.3 991.0ZM206.4 994.2 207.0 995.0 206.1 995.3 205.4 995.0 205.9 994.3ZM199.6 988.8 199.3 987.8 200.1 987.6 200.3 988.8ZM206.1 989.0 207.4 988.3 208.6 989.5 207.8 990.4 206.3 990.4ZM202.8 994.9 199.9 995.8 199.8 992.9ZM200.2 998.9 200.4 998.2 201.4 998.5 200.9 999.4ZM208.5 992.4 209.7 993.3 209.1 994.5 207.7 993.8ZM208.6 989.4 207.4 990.3 205.8 990.3 205.9 989.1 207.2 988.3ZM196.4 988.9 198.3 991.8 195.3 992.1ZM195.6 988.7 193.7 990.4 192.8 988.7ZM193.4 995.5 192.3 997.6 190.6 996.8 191.0 994.2ZM207.3 992.2 207.9 990.8 209.2 990.3 210.1 992.2 208.6 993.5ZM205.7 994.1 206.6 994.9 205.6 995.3ZM192.6 996.3 193.1 997.1 192.6 998.0 191.6 997.6 191.3 996.4ZM205.9 986.4 207.4 986.7 207.0 987.8 205.9 987.8ZM255.5 996.5 255.3 997.8 254.0 997.3 254.0 996.1ZM250.3 996.6 250.6 994.2 251.8 995.5ZM252.3 1001.2 253.3 1000.3 254.3 1001.1 254.5 1002.6 252.7 1002.7ZM258.9 1003.0 260.5 1003.8 259.3 1004.9 257.6 1004.8 257.3 1003.6ZM259.2 996.3 259.5 998.3 257.4 998.5 257.3 996.5ZM253.3 1006.9 253.3 1005.3 254.8 1006.2ZM257.0 1001.5 256.8 1000.7 257.2 1000.3 258.1 1000.3 257.9 1001.0ZM251.9 1001.9 251.9 1003.4 250.7 1002.9ZM259.0 1000.9 261.9 1002.7 259.9 1005.6 257.5 1003.6ZM253.5 1003.5 253.0 1001.7 254.5 1001.1 255.0 1003.0ZM251.1 1005.8 251.2 1003.1 254.1 1003.9ZM255.9 992.2 257.2 993.4 255.3 993.9ZM424.2 977.2 423.1 977.6 422.4 976.7 423.9 975.8ZM417.3 993.7 416.0 996.2 414.6 994.2ZM413.9 993.9 415.3 992.9 415.5 994.8ZM416.6 974.7 417.1 976.3 415.9 976.9 414.2 976.5 414.6 974.9ZM411.5 985.5 412.7 985.2 413.4 986.2 412.1 986.7ZM417.4 975.0 418.1 974.2 418.8 975.2 417.8 976.0ZM420.6 979.0 421.2 979.7 420.5 980.4 419.7 979.6ZM410.0 984.2 411.3 985.8 410.7 988.1 408.5 986.5ZM420.4 991.1 418.2 990.4 420.1 988.2 422.0 990.0ZM413.6 1000.1 412.1 999.3 412.4 998.4 413.5 997.8 414.0 998.7ZM425.2 975.3 425.3 974.6 426.1 974.5 426.2 975.3ZM421.6 985.1 422.7 984.8 423.0 985.9 422.0 986.2ZM415.7 991.8 416.3 993.7 415.1 994.2 414.3 993.4 414.4 992.1ZM419.0 981.0 419.9 982.1 418.6 982.4ZM417.4 993.0 415.9 995.1 415.1 992.9ZM422.4 997.4 423.6 995.8 425.3 997.5ZM422.0 997.8 421.1 997.2 422.2 996.7ZM414.4 984.6 412.2 984.5 411.7 982.8 413.0 981.9 414.1 982.2ZM416.4 984.0 416.4 981.1 419.5 981.7 419.0 984.0ZM414.8 989.8 416.2 990.3 416.6 991.7 414.7 992.4 414.2 991.1ZM415.3 989.9 416.0 987.6 417.8 987.9 418.0 990.2ZM419.4 982.8 418.1 982.1 418.9 980.7 420.2 981.7ZM423.3 997.6 420.3 998.0 421.6 995.7ZM425.7 996.4 424.7 994.9 426.5 994.7ZM414.2 977.6 413.3 976.3 414.0 975.5 415.5 975.4 415.5 977.0ZM412.9 988.6 413.2 989.3 412.8 990.0 412.3 989.2ZM421.8 974.9 422.8 975.0 423.1 976.1 421.9 976.7 421.2 975.7ZM419.2 974.3 418.9 973.5 419.8 973.3 420.1 973.8 420.0 974.6ZM411.5 996.1 412.2 994.4 413.4 995.9 412.4 997.5ZM418.7 976.6 420.2 974.8 422.2 975.8 421.3 977.7 419.7 978.0ZM424.6 938.0 424.9 936.1 426.6 935.7 428.3 936.8 426.9 939.2ZM440.5 943.2 440.0 944.3 439.2 943.6 439.3 942.5 440.0 942.1ZM427.9 938.7 426.3 937.0 427.7 934.6 429.7 935.6 429.3 937.5ZM421.1 941.8 421.7 939.7 423.1 941.0 422.6 942.5ZM436.0 940.2 438.6 941.7 436.4 943.3ZM433.0 937.3 435.3 938.5 434.4 940.9 432.2 939.8ZM429.1 941.3 428.4 939.5 430.2 938.0 431.4 939.3 431.7 941.3ZM435.5 937.1 436.8 936.7 437.9 937.7 436.5 939.0 435.1 938.4ZM422.7 939.3 420.9 939.7 420.8 938.0 422.5 938.0ZM428.9 938.3 428.0 937.7 428.5 936.5 429.5 937.3ZM437.7 941.7 439.0 938.0 440.7 940.5ZM441.2 942.9 439.5 940.8 442.4 939.4 443.8 942.2ZM423.3 943.0 422.3 941.5 423.8 940.0 424.8 941.8ZM425.9 943.1 424.7 942.7 424.8 941.3 426.2 940.9 426.5 942.2ZM430.1 938.0 431.0 938.6 430.2 939.1ZM436.0 941.1 434.3 940.3 435.8 939.7ZM437.0 943.7 436.2 942.4 438.4 942.5ZM431.7 944.3 430.9 945.8 429.5 945.4 429.4 944.1 430.5 943.8ZM437.7 936.6 438.1 935.5 439.4 934.8 439.7 936.2 439.1 937.3ZM427.4 944.4 426.5 944.8 425.7 943.6 426.8 943.3 427.7 943.4ZM521.0 1043.8 523.6 1043.6 525.9 1045.0 528.5 1045.1 531.0 1045.0 533.2 1043.3 535.7 1042.6 538.3 1042.4 541.0 1042.5 542.0 1039.9 544.6 1039.8 545.9 1037.6 548.5 1037.5 550.1 1035.8 552.8 1035.9 554.2 1033.8 556.0 1032.5 558.6 1031.5 559.8 1028.7 562.2 1027.5 563.8 1024.8 566.0 1022.5 564.4 1020.3 564.8 1017.5 562.2 1017.2 559.8 1017.5 558.0 1020.1 556.0 1022.5 554.2 1023.8 552.0 1024.6 549.4 1024.9 548.5 1027.5 546.6 1030.1 543.4 1029.1 540.8 1029.7 538.5 1031.2 536.0 1031.5 533.3 1030.7 531.0 1032.4 528.5 1032.5 526.0 1033.3 523.5 1032.4 521.0 1033.0M603.5 1051.2 602.9 1048.9 603.1 1046.7 604.3 1044.5 604.3 1042.2 604.8 1040.0 605.4 1037.5 608.2 1035.6 607.2 1032.6 607.2 1030.0 608.0 1027.4 609.9 1025.3 610.8 1022.8 611.0 1020.0 611.7 1017.5 614.1 1015.5 613.5 1012.5 616.1 1011.3 617.2 1008.8 617.9 1011.4 615.7 1013.6 616.0 1016.2 615.2 1018.5 613.7 1020.4 612.9 1022.7 612.2 1025.0 610.3 1027.3 612.7 1030.2 611.0 1032.5 613.4 1031.0 616.0 1030.0 617.6 1028.2 618.5 1025.8 621.0 1025.0 623.4 1023.5 626.0 1022.5 628.4 1021.4 631.0 1021.2 631.2 1024.5 632.2 1027.5 629.9 1028.0 628.5 1030.0 625.8 1030.9 623.5 1032.5 622.7 1035.2 621.0 1037.5 623.4 1039.0 626.0 1040.0 629.2 1039.8 631.0 1042.5 632.7 1044.1 634.6 1045.5 636.0 1047.5 633.8 1045.8 631.0 1046.2 629.0 1043.9 626.0 1043.7 623.5 1042.5 620.9 1043.6 618.5 1045.0 617.8 1047.8 615.7 1049.6 613.5 1051.2M621.0 1007.5 623.1 1006.3 623.4 1003.3 626.0 1002.5 628.8 1003.1 631.0 1005.0 630.9 1008.2 629.8 1011.2 626.5 1011.3 623.5 1012.5 622.0 1010.1 621.0 1007.5M734.8 920.0 735.6 917.3 737.4 915.1 738.5 912.5 738.7 909.9 740.5 908.4 741.5 906.4 743.5 905.0 744.8 908.8 743.6 910.9 741.2 912.3 741.0 915.0 738.8 917.3 737.2 920.0M593.5 965.0 596.0 967.5 594.4 969.9 595.3 972.5 596.9 975.1 595.5 977.5 593.0 975.0 591.9 972.4 592.4 970.0 592.1 967.4 593.5 965.0M671.4 353.5 671.1 356.6 669.9 359.5 672.9 361.0 675.9 361.7 679.1 363.4 681.8 361.0 684.4 360.3 686.8 360.9 689.2 361.7 691.8 359.4 695.2 359.5 697.7 359.5 698.8 356.8 701.1 356.5 703.9 355.0 707.1 355.0 708.5 353.0 710.6 352.1 713.0 352.1 716.2 351.9 719.0 350.6 722.0 349.8 724.9 349.1 728.1 349.0 730.9 347.6 733.8 346.3 736.8 345.4 739.5 343.3 742.8 343.9 744.9 344.8 747.3 344.6 748.7 347.6 747.0 349.7 745.8 352.1 745.7 354.5 744.3 356.5 745.0 358.7 745.0 361.0 747.3 364.0 750.2 362.5 751.7 359.5 751.5 362.1 753.2 364.0 755.4 365.7 756.2 368.4 758.3 370.0 760.6 371.4 762.9 372.5 765.1 373.6 768.1 372.9 769.7 370.7 771.1 368.4 772.7 366.8 772.7 364.3 774.0 362.5 776.4 360.8 777.0 358.0 778.9 356.0 781.5 355.0 783.9 354.3 785.9 352.8 787.4 350.6 784.4 349.1 781.5 346.1 780.7 343.1 782.2 341.1 783.0 338.7 785.9 337.2 788.9 340.2 791.9 343.1 794.2 343.5 796.3 344.6 799.3 345.4 802.3 345.4 805.1 346.9 808.2 346.1 810.2 347.7 812.7 347.6 813.8 345.1 815.7 343.1 817.2 340.5 818.7 337.9 821.6 336.4 824.2 337.5 824.6 340.2 824.4 342.4 823.9 344.6 826.1 347.6 828.0 345.6 829.1 343.1 829.0 340.0 830.6 337.2 832.1 335.0 833.5 332.7 835.8 332.2 838.0 331.2 839.6 333.2 839.5 335.7M750.2 352.1 751.2 349.5 753.2 347.6 755.7 347.1 757.7 345.4 760.3 346.9 759.2 350.6 756.2 353.5 754.0 353.9 751.7 354.3 750.2 352.1M695.2 365.4 695.8 368.3 698.2 369.9 699.4 372.3 701.1 374.4 702.1 377.3 702.6 380.3 704.0 383.1 704.1 386.3 705.6 389.2 708.6 389.5 711.6 390.0 713.5 388.5 714.5 386.3 716.1 384.0 715.6 381.0 717.5 378.8 719.4 377.2 722.0 376.5 723.5 374.4 726.4 373.3 729.4 372.1 731.6 372.7 733.9 372.9 733.9 375.4 735.4 377.3 735.7 374.4 738.3 372.9 740.3 370.4 742.8 368.4 745.4 367.6 747.3 365.4 746.7 362.9 745.0 361.0 742.8 358.0 739.8 356.5 737.5 356.4 735.4 355.8 732.5 356.7 729.4 356.5 726.9 359.1 723.5 358.0 721.4 359.3 719.0 359.5 716.3 358.8 714.5 361.0 712.3 362.0 710.1 361.0 706.5 359.5 704.1 362.5 701.1 362.9 698.2 364.0 695.2 365.4M671.4 359.5 672.0 361.7 673.6 363.3 674.4 365.4 676.8 366.3 679.4 367.1 680.3 369.9 681.4 372.2 683.0 374.1 684.8 375.9 687.8 378.8 689.7 380.4 692.2 381.1 693.4 383.5 693.7 386.3 693.4 388.6 692.2 390.7 691.2 393.3 689.2 395.2 688.3 398.1 687.8 401.1 687.9 404.3 686.3 407.1 686.5 410.3 684.8 413.0 682.3 414.6 682.6 417.5 680.3 420.5 677.3 422.0 674.4 423.5 672.5 425.4 671.4 427.9 668.4 429.4 665.4 426.4 662.5 423.5 659.5 420.5 659.8 418.1 658.8 416.0 658.8 413.7 659.5 411.6 660.4 409.4 661.0 407.1 659.5 405.1 659.5 402.6 656.5 399.7 655.0 396.7 658.0 395.5 658.0 392.2 659.5 389.2 659.0 386.6 661.0 384.8 662.5 381.8 659.5 380.3 656.5 378.8 654.2 378.3 652.1 377.3 649.1 374.4 646.1 371.4 647.6 368.4 649.5 366.8 652.1 366.9 654.2 365.9 656.5 365.4 658.9 365.2 661.0 364.0 663.7 364.7 665.4 362.5 668.4 360.2 671.4 359.5M839.5 323.8 841.3 321.7 843.9 322.3 847.7 323.8 847.8 326.1 846.9 328.3 847.0 331.6 843.9 332.7 843.4 335.7 842.5 338.7 839.5 335.7 839.9 332.7 839.8 329.7 836.3 326.9 839.5 323.8M768.1 338.7 769.2 336.6 768.2 333.8 769.4 331.7 771.1 329.7 773.3 327.5 774.8 329.7 774.1 332.2 772.5 334.2 771.7 336.9 769.6 338.7M720.3 348.2 719.9 349.8 718.5 349.6 717.6 348.8 719.0 348.2ZM715.4 359.6 716.1 360.8 715.3 361.9 714.5 360.6ZM700.2 356.5 699.0 354.8 700.6 354.0ZM729.2 365.0 730.4 362.7 731.8 363.9 731.4 365.5ZM737.8 342.2 739.5 343.6 738.8 345.3 736.9 345.2 736.6 343.3ZM716.9 366.9 715.9 367.0 715.8 365.7 716.9 366.0ZM717.4 342.1 717.0 345.2 714.9 343.1ZM721.6 347.4 720.4 346.7 720.7 345.5 722.1 345.9 722.1 346.6ZM716.6 348.8 714.8 347.1 716.1 344.5 718.1 346.7ZM721.5 343.1 722.3 342.6 722.3 344.0ZM728.5 353.5 727.6 356.2 725.6 357.0 725.2 354.4 726.3 352.5ZM702.8 358.1 701.1 357.9 702.0 356.2ZM739.3 344.3 740.7 342.0 742.7 343.3 742.8 345.1 740.8 346.4ZM703.2 360.8 702.8 362.2 701.2 361.8 701.7 360.4ZM708.0 367.2 707.3 365.7 708.6 365.5ZM741.6 357.1 740.8 355.6 742.3 355.4ZM727.1 361.9 725.1 361.6 726.5 360.4ZM704.0 365.5 705.1 363.0 707.2 365.0 705.6 366.1ZM737.1 356.3 737.7 355.0 740.1 355.2 739.6 357.7 738.0 358.4ZM699.6 365.0 699.4 363.9 700.2 363.3 701.4 364.2 700.4 365.4ZM736.1 348.0 735.4 346.5 736.4 344.9 737.7 346.2 737.1 347.6ZM715.6 343.1 717.3 342.9 718.5 344.4 717.0 345.9 715.2 344.7ZM707.1 351.8 706.4 349.7 708.7 349.4 709.6 352.0ZM731.5 360.3 732.9 360.5 732.8 362.0 731.5 362.5 730.5 361.2ZM709.1 359.2 707.0 359.3 707.7 357.0 709.4 357.4ZM739.0 356.0 740.1 356.8 739.5 358.4 738.1 358.1 737.8 356.7ZM737.6 351.5 739.5 350.8 741.4 352.9 739.5 355.1 737.0 353.5ZM716.4 356.2 719.2 357.8 716.3 359.3ZM742.9 345.7 742.5 348.2 740.0 347.7 740.3 345.9ZM723.2 348.1 724.3 350.1 721.7 350.0ZM721.6 354.9 722.4 355.0 722.3 356.0 721.3 355.8ZM730.4 360.7 729.3 359.0 730.5 357.9 732.0 358.8 731.5 360.4ZM730.1 355.4 730.4 357.4 728.2 357.8 728.5 355.9ZM722.5 353.0 721.7 352.3 722.5 351.8ZM699.7 359.7 700.6 358.5 701.7 358.6 701.9 360.1 700.8 360.9ZM710.6 345.6 709.0 345.6 708.9 343.2 711.2 343.7ZM705.5 350.6 705.3 352.3 703.9 352.9 703.1 351.6 704.1 350.8ZM703.6 346.9 705.3 347.7 704.6 349.4 702.0 348.9 702.0 347.3ZM715.2 346.3 714.3 345.3 714.9 344.0 716.4 344.2 716.8 345.9ZM725.8 347.4 724.3 346.5 724.8 345.3 726.5 345.1 726.9 346.4ZM740.1 354.7 736.2 354.9 737.9 352.1ZM723.1 362.8 725.6 364.0 725.3 366.1 722.5 365.3ZM733.3 342.7 734.1 344.8 731.4 344.4ZM739.7 364.6 736.9 365.9 737.5 361.7ZM704.5 344.5 705.3 342.9 706.5 344.7ZM727.9 350.5 726.4 350.1 726.8 349.1 727.8 349.1ZM731.9 345.5 733.0 347.3 731.9 349.0 730.2 348.4 730.3 346.7ZM706.2 360.1 707.1 360.7 707.0 361.6 706.2 362.0 705.9 361.1ZM740.6 345.8 739.0 343.7 740.1 341.7 742.6 342.7 742.1 344.5ZM725.3 354.2 725.6 355.5 724.5 355.9 723.9 354.6ZM701.2 348.2 698.6 347.1 700.1 344.6 702.3 345.8ZM708.6 357.1 709.5 359.4 707.6 361.2 706.2 359.6 706.9 356.9ZM720.4 364.9 719.7 363.2 721.3 363.8ZM698.9 351.1 700.5 351.5 699.5 353.1ZM740.9 352.8 741.0 350.8 743.3 351.2 742.5 353.6ZM707.0 343.1 706.0 343.9 704.2 344.1 704.1 342.3 705.9 342.1ZM701.6 364.0 700.7 363.9 701.4 362.8ZM728.1 354.0 728.7 352.4 730.0 353.6ZM740.2 348.8 739.7 351.1 737.6 350.1ZM718.9 351.3 718.1 352.8 717.2 351.2ZM732.2 364.6 731.8 362.9 733.5 363.3ZM723.3 356.8 721.9 358.9 720.1 357.2 721.7 355.5ZM730.9 362.8 731.8 362.6 731.9 363.5 731.2 364.4 730.5 363.5ZM715.4 358.9 716.1 359.9 714.6 360.2ZM699.2 352.1 700.9 351.6 700.7 353.2ZM718.6 346.4 719.2 346.6 719.2 347.3 718.5 347.6 717.9 346.9ZM730.5 365.0 730.8 365.8 729.8 365.9 729.2 365.5 729.5 364.8ZM718.0 357.3 718.9 354.7 720.2 356.8ZM725.9 355.5 726.8 356.5 726.5 357.6 724.7 358.1 724.5 356.4ZM739.7 352.5 738.5 350.5 740.9 349.7 741.4 352.0ZM631.3 391.0 630.2 391.1 629.8 390.2 630.2 389.4 631.0 389.7ZM643.3 391.2 644.2 391.8 644.2 392.6 643.2 392.4ZM634.6 394.6 633.9 391.9 636.1 391.3 638.0 392.8 636.7 394.8ZM637.4 383.2 636.8 383.7 636.3 383.3 636.1 382.6 636.9 382.4ZM633.2 384.2 635.0 383.8 636.4 385.9 634.7 386.9 632.9 386.2ZM630.9 393.5 630.2 393.1 630.7 392.5 631.8 392.5 631.7 393.3ZM629.1 386.9 628.4 386.1 629.3 385.7 629.9 385.8 629.7 386.8ZM642.8 389.6 644.9 389.1 644.7 391.2 643.2 391.3ZM634.3 386.2 634.8 388.5 632.0 387.4ZM643.2 383.5 639.9 383.1 641.6 381.2ZM635.7 394.3 635.5 393.3 636.0 392.7 636.5 393.3 636.3 394.2ZM639.0 395.2 635.4 395.9 636.2 392.9ZM644.1 385.1 644.0 386.3 642.1 386.8 641.6 384.8 643.4 383.4ZM629.8 382.8 632.2 380.2 633.0 382.4ZM634.3 384.6 635.4 384.7 634.6 385.6ZM642.9 380.4 641.6 380.2 641.0 379.2 642.3 378.1 643.1 379.0ZM640.3 389.5 639.3 389.5 639.2 388.3 639.7 387.6 640.4 388.2ZM643.3 392.3 645.0 393.1 645.6 395.6 643.4 396.5 641.5 394.4ZM639.2 378.5 640.8 377.7 640.8 379.4 639.6 380.0ZM633.5 395.1 632.3 395.4 632.2 393.6 633.4 393.1 634.0 394.3ZM644.2 392.3 644.8 393.8 643.4 394.6 642.3 393.1ZM634.3 385.0 633.2 386.0 632.2 385.9 632.0 384.6 633.0 384.1ZM641.9 394.4 641.1 393.4 641.3 391.7 643.0 391.7 642.9 393.5ZM642.5 385.0 643.4 386.7 641.5 386.9ZM638.2 385.8 637.8 387.3 636.5 386.3 637.3 384.9ZM667.1 392.8 668.3 392.0 668.1 393.5ZM660.5 377.3 659.2 378.8 657.6 377.8 658.8 375.4ZM661.4 376.1 664.0 376.9 664.3 378.6 662.5 380.2 660.1 378.4ZM644.8 396.9 645.7 396.8 646.0 397.8 644.7 398.0ZM643.6 392.1 644.6 390.0 646.5 391.7ZM657.3 403.2 656.5 401.9 658.1 401.0 658.7 402.7ZM653.9 403.6 655.2 403.6 654.1 404.9ZM659.9 383.3 660.2 381.3 661.4 382.9ZM667.9 372.0 669.1 373.2 667.9 374.6 666.5 373.2ZM656.3 376.4 653.7 376.9 653.2 375.2 655.5 374.5ZM658.0 398.5 659.8 398.0 660.3 400.1 658.9 400.4ZM653.3 398.8 654.2 401.4 651.4 400.4ZM644.8 394.8 643.7 395.2 643.5 394.0 644.3 394.0ZM646.5 391.2 647.8 389.1 650.4 390.8 648.1 393.3ZM648.3 371.9 648.9 372.4 648.4 373.6 647.4 373.5 646.9 372.0ZM654.8 394.9 653.7 392.5 657.3 392.7ZM659.4 391.7 657.0 389.5 660.2 388.8ZM664.1 382.0 664.3 381.1 665.0 380.7 665.5 381.5 665.2 381.9ZM653.8 393.3 655.7 393.2 656.2 395.4 653.5 395.0ZM645.6 375.5 647.2 374.6 646.8 376.8ZM649.5 373.6 650.2 373.1 650.8 374.2 650.5 375.0 649.3 374.9ZM644.4 397.5 646.5 395.6 647.6 397.6 647.4 400.1 644.7 400.1ZM651.2 390.5 650.9 392.3 648.8 392.1 648.6 390.5ZM652.2 384.6 650.1 384.9 651.2 382.6ZM658.8 384.1 660.2 382.6 661.3 384.5ZM657.0 383.5 658.5 383.2 658.5 385.0 657.3 386.0 656.5 384.6ZM668.7 377.5 667.2 377.4 667.5 376.0 668.5 376.5ZM654.4 382.0 653.8 384.5 652.2 384.0 651.0 381.9 653.3 381.4ZM659.1 392.8 661.3 392.1 660.6 395.0ZM644.5 382.4 645.2 383.6 643.1 384.0 642.8 383.0 643.2 381.3ZM658.0 387.3 659.4 388.2 658.9 389.5 657.1 389.3ZM645.0 373.7 644.6 374.8 642.8 375.1 643.0 373.5 644.3 372.3ZM650.4 373.9 649.4 372.6 650.3 371.2 651.6 372.1 651.1 373.1ZM662.0 384.9 660.5 384.8 660.1 382.7 661.7 382.5 662.4 383.5ZM656.7 396.3 655.3 395.9 655.4 395.2 656.5 395.0ZM653.3 373.8 654.0 372.9 654.8 372.9 655.1 374.5 654.0 374.6ZM664.0 395.7 665.3 397.5 664.0 398.4 662.1 398.2 662.5 396.2ZM650.0 383.6 650.6 385.0 649.1 385.5 647.1 385.3 648.2 383.2ZM654.1 373.6 652.2 373.8 652.8 371.1ZM655.8 395.1 657.1 392.6 659.3 393.7 658.3 396.0ZM658.6 396.3 658.3 396.9 657.9 396.9 657.6 396.6 657.8 395.9ZM653.1 375.7 656.0 373.6 657.8 375.7ZM654.7 382.2 653.6 383.2 652.4 381.9 653.9 380.2ZM647.1 390.8 647.8 389.2 650.2 389.1 649.7 391.0 648.6 391.8ZM657.7 400.5 657.5 398.4 658.5 397.5 659.9 398.4 659.8 400.4ZM666.2 383.3 667.0 381.6 668.7 382.9 667.9 384.4 666.8 384.3ZM647.6 371.1 648.9 373.6 646.3 373.8ZM660.3 374.7 659.2 373.3 660.3 371.9 661.7 372.8 661.6 374.0ZM651.0 384.3 648.9 383.0 650.3 381.5 651.6 382.5ZM660.9 395.8 658.9 396.6 659.3 394.8ZM797.0 339.5 799.1 339.7 797.8 341.6ZM784.1 342.5 786.9 341.9 786.0 344.2ZM793.0 344.7 791.9 343.0 793.3 341.6 795.3 343.3ZM784.1 346.8 783.5 345.9 784.4 345.4ZM787.5 344.3 787.0 345.1 786.2 345.0 786.0 344.5 786.6 343.7ZM796.0 344.1 797.3 343.8 797.7 344.9 796.5 345.4 795.6 344.8ZM802.4 344.3 802.1 345.4 801.1 345.6 801.0 344.3ZM799.5 344.1 799.2 343.9 799.2 343.0 800.0 343.2 800.2 343.9ZM801.2 342.1 801.1 340.7 803.0 340.2 803.0 342.8ZM791.7 340.7 792.3 341.0 792.3 341.6 791.5 342.0 791.2 341.1ZM785.3 345.0 783.9 344.9 783.5 344.1 785.0 343.5ZM791.2 340.9 792.5 339.7 792.8 341.5ZM786.1 340.6 785.5 341.8 784.5 341.1 784.9 339.7ZM802.7 344.9 800.7 345.1 801.6 343.2ZM802.5 342.2 799.4 340.2 802.1 339.5ZM479.4 781.7 477.2 778.7 475.7 775.8 472.7 772.8 469.7 769.8 466.8 766.8 465.3 763.9 465.5 761.2 463.0 759.2 463.8 756.4 463.5 753.9 464.1 751.2 462.3 749.0 461.7 746.0 460.8 743.0 461.5 740.1 460.8 737.1 462.3 734.1 465.3 734.2 466.0 737.1 469.0 738.6 470.9 736.7 470.5 734.1 472.5 731.8 470.2 729.1 471.2 726.7 472.2 724.3 473.5 722.0 472.7 719.2 472.3 716.3 472.0 713.3 469.7 710.0 472.7 707.3 474.4 705.3 472.5 702.7 473.9 700.7 474.2 698.4 476.3 695.8 476.4 692.5 478.7 690.5 481.6 690.2 483.9 690.1 486.1 689.5 488.3 690.7 490.6 691.7 492.8 692.9 495.0 694.0 497.2 695.3 499.5 696.2 501.9 696.6 504.0 695.4 505.9 693.6 506.2 691.0 509.2 694.0 510.1 696.9 509.9 699.9 510.3 702.5 509.3 704.9 509.2 707.3 511.0 709.5 512.0 711.9 511.4 714.8 511.5 717.2 512.9 719.2 512.5 722.3 511.4 725.2 510.0 728.1 509.2 731.1 508.4 733.3 507.9 735.5 506.2 737.1 503.9 738.6 502.5 740.8 500.1 740.3 498.0 741.6 495.3 743.1 494.3 746.0 494.9 749.7 492.1 752.0 492.0 754.2 491.3 756.4 492.6 758.8 494.3 760.9 493.5 763.3 495.0 765.4 497.0 767.2 496.5 769.8 497.4 772.2 498.8 774.3 500.0 776.5 502.5 777.3 504.9 777.3 506.9 778.7 509.9 775.8 512.3 774.6 514.4 772.8 516.6 771.6 518.8 772.8 521.8 773.5 523.3 777.3 524.8 780.2 527.8 780.2 530.1 780.8 532.2 781.7 534.2 783.1 536.7 783.2 539.7 782.7 542.6 781.7 544.1 784.7 547.1 783.2 549.3 784.7 550.0 787.1 548.6 789.2 545.6 790.6M479.1 781.6 477.8 782.5 477.8 781.1ZM473.9 780.8 473.0 781.2 472.1 780.3 473.1 779.3 473.9 780.0ZM463.6 755.8 464.2 757.6 462.5 757.0ZM460.5 743.7 462.6 744.4 461.8 746.3 460.1 745.8ZM463.6 735.9 464.7 735.2 465.3 736.6 464.1 737.1ZM462.2 732.5 463.7 733.2 462.9 734.3 461.9 733.8ZM471.7 728.0 471.9 729.2 470.6 730.0 470.4 728.6 470.9 727.4ZM470.0 730.2 469.4 728.3 470.9 727.9 471.4 729.5ZM470.1 725.7 469.7 724.7 470.8 724.7 471.0 725.4ZM479.2 720.5 479.0 719.4 479.5 718.6 480.2 718.9 480.4 720.0ZM464.5 713.8 465.7 712.6 467.0 713.4 466.0 715.0ZM476.6 702.0 475.5 702.5 475.3 701.5ZM480.8 694.1 479.6 694.8 479.1 693.4 479.4 692.4 481.2 692.7ZM493.1 691.5 492.8 692.6 492.2 692.1ZM501.7 695.2 500.7 696.7 498.7 696.3 499.6 694.8ZM508.0 711.3 509.0 709.9 510.9 710.6 509.6 712.0ZM515.4 709.1 513.5 710.0 512.8 708.7 514.1 707.2ZM513.9 714.2 515.1 714.1 514.7 715.3ZM512.5 722.1 511.4 722.9 510.3 721.9 511.6 721.3ZM506.8 737.0 505.8 735.5 506.5 733.3 508.0 734.4 508.3 736.3ZM507.5 740.7 505.2 742.5 504.1 740.3 505.6 739.6ZM493.0 755.4 494.6 756.8 492.8 757.5ZM522.4 770.9 521.9 772.6 520.8 771.5ZM523.2 774.1 523.1 775.8 521.7 776.5 520.4 775.0 521.6 773.7ZM523.5 777.3 524.6 778.2 523.5 779.0 522.4 778.8 522.3 777.5ZM534.6 784.1 534.5 783.1 535.4 783.3 535.5 784.1 535.0 784.3ZM548.2 785.0 547.3 786.0 546.2 785.2 547.1 784.1ZM501.7 639.2 501.9 641.5 503.2 643.4 502.5 645.8 501.0 647.8M499.5 654.5 502.5 652.3 504.3 653.8 501.7 656.8 499.5 654.5M489.1 680.6 491.3 679.1 491.6 682.1 492.1 685.0 489.4 685.3 488.6 683.0 489.1 680.6M475.7 766.8 478.7 765.4 481.0 767.5 483.1 769.8 484.6 773.5 481.6 775.0 478.7 772.8M499.5 760.9 501.6 761.9 504.0 762.4 506.1 764.7 508.4 766.8 511.4 768.3M471.2 790.6 473.1 788.6 475.7 787.7 478.5 789.0 481.6 789.2 483.0 786.8 486.0 786.7 487.6 784.7 490.3 782.7 493.5 783.2 496.4 784.5 499.5 784.7 502.5 787.7M569.4 863.3 567.4 865.1 567.6 867.6 568.0 870.3 566.4 872.2 565.3 874.1 565.1 876.5 563.5 878.2 560.7 878.9 559.0 881.1 558.0 878.6 556.0 876.7 553.0 879.7 550.9 881.5 550.1 884.1 548.7 885.9 546.7 887.4 547.1 890.1 544.1 893.0 541.8 894.9 538.9 895.3 538.0 893.2 536.2 891.6 536.7 888.9 535.2 887.1 532.2 884.1 529.2 884.1 526.7 885.8 525.5 888.6 521.8 890.1 519.2 891.6 518.8 894.5 516.4 894.5 514.4 896.0 512.1 897.4 509.9 899.0 508.7 901.4 506.9 903.5 506.6 905.8 505.4 907.9 503.7 909.8 504.0 912.4 504.2 914.9 502.5 916.8 503.2 919.8 505.4 918.3 508.3 916.7 509.9 913.9 513.0 913.6 514.4 910.9 516.8 909.7 518.8 907.9 521.0 906.9 523.3 906.4 526.4 906.6 529.2 907.9 531.7 906.8 533.7 904.9 536.1 903.6 538.2 902.0 540.0 904.6 542.6 906.4 542.6 909.6 544.1 912.4 543.3 914.6 542.6 916.8 542.5 919.8 542.6 922.8 544.3 924.9 545.6 927.3 547.7 928.9 550.1 930.2 551.4 933.1 554.5 933.2 556.6 934.9 559.0 936.2 561.4 936.4 563.5 937.7 565.3 939.7 566.4 942.1 567.9 945.1 568.7 942.5 570.7 940.5 570.9 937.7 569.4 935.6 570.7 933.1 570.3 930.9 569.4 928.7 569.7 925.5 567.9 922.8 567.9 920.3 568.7 918.2 570.9 916.8 572.9 915.2 572.7 912.0 575.4 910.9 576.6 912.8 577.5 914.8 578.3 916.8 578.4 919.7 581.0 921.5 581.3 924.3 583.1 927.0 583.5 930.2 582.8 927.8 583.4 925.2 582.8 922.8 584.1 919.9 585.0 916.8 587.5 915.1 588.7 912.4 589.4 909.9 591.0 907.9 589.1 905.9 591.4 903.3 589.1 901.4 589.5 899.0 588.8 896.5 587.2 894.3 587.3 891.6 587.1 888.9 584.7 886.9 585.0 884.1 583.4 881.9 584.9 878.7 582.8 876.7 582.2 874.1 580.4 871.9 579.8 869.2 576.4 870.4 573.9 867.8 571.4 865.7 569.4 863.3M492.1 921.3 494.8 920.9 497.5 920.5 499.8 919.0 502.5 918.3 503.8 920.7 507.4 920.0 508.4 922.8 506.2 924.4 504.0 925.8 501.4 926.2 498.9 926.4 496.5 925.0 494.2 923.2 492.1 921.3M544.1 780.0 545.3 781.9 545.1 784.5 547.1 785.9 547.0 788.5 549.2 789.9 550.1 791.9 551.8 793.5 552.6 795.6 553.0 797.8 555.3 800.0 557.5 802.3 558.8 805.3 562.0 805.3 563.7 807.5 566.4 808.3 569.4 805.3 569.2 802.2 567.9 799.3 564.3 798.5 563.5 794.9 560.6 794.0 561.3 790.3 559.0 788.9 558.1 785.3 554.5 784.5 552.2 783.1 550.1 781.5M440.0 863.3 441.8 861.2 443.8 859.2 445.9 857.3 448.2 856.2 450.5 855.1 451.9 852.9 453.3 850.7 456.0 850.1 457.8 848.4 460.0 846.1 462.3 844.0 462.4 840.6 465.9 839.3 466.8 836.5 468.0 834.5 468.9 832.3 467.7 829.4 469.7 827.6 469.3 824.8 471.4 822.7 472.0 820.2 473.3 817.3 473.5 814.2M440.0 948.1 443.2 948.4 445.9 946.6 448.0 948.3 450.4 949.6 448.9 952.5 446.0 953.4 443.0 954.0 440.0 953.3M545.9 842.5 543.4 841.0 545.9 839.6ZM550.9 825.9 550.8 825.0 551.3 824.7 551.6 825.2 551.5 825.8ZM569.4 829.3 569.9 831.3 568.3 833.4 566.2 831.4 567.3 829.5ZM541.6 861.4 541.2 859.6 542.2 858.8 543.6 859.0 543.7 860.7ZM546.2 856.6 545.5 856.2 545.6 855.4 546.2 855.4 547.0 856.0ZM562.2 851.9 564.6 849.8 564.6 853.6ZM543.9 854.2 542.7 854.7 541.6 854.1 542.8 853.3ZM545.5 841.0 544.9 841.5 543.8 841.5 544.1 840.2 545.1 840.2ZM570.4 823.0 568.5 822.5 569.8 820.6ZM568.6 849.3 567.7 850.8 566.3 850.0 566.3 847.6 568.2 847.6ZM571.2 827.0 571.2 823.4 574.1 825.4ZM565.7 854.1 566.4 853.1 566.6 854.4ZM567.0 853.3 565.6 852.4 566.2 850.5 567.5 851.6ZM565.1 841.7 566.6 842.9 565.8 844.7 563.7 845.2 564.1 842.9ZM572.8 851.7 572.7 850.0 574.5 849.3 574.8 851.3ZM583.7 847.5 584.0 845.7 584.8 847.3ZM578.0 865.7 580.0 867.1 578.6 868.5 577.3 867.8ZM568.1 859.8 569.1 859.3 570.2 860.3 568.8 861.6ZM567.7 872.9 567.6 871.7 568.6 870.7 569.9 870.8 569.8 873.5ZM585.4 859.7 583.5 859.7 582.8 858.7 583.3 857.1 585.0 857.5ZM577.3 863.3 576.9 862.3 578.2 862.5ZM575.8 863.9 575.7 866.7 574.0 867.7 573.4 864.5ZM567.9 870.4 566.6 869.7 568.1 869.0ZM575.3 854.5 577.8 854.2 577.4 856.2 575.5 856.3ZM584.3 866.7 585.1 866.3 585.6 867.0 585.1 867.6 584.3 867.2ZM567.5 851.5 567.1 850.8 567.9 850.6 568.3 851.2ZM566.4 848.3 568.0 849.1 567.2 850.2 565.9 849.7ZM580.0 861.6 579.4 863.9 577.1 864.2 576.7 862.0 578.1 860.4ZM574.2 846.9 575.6 848.3 574.2 849.4 572.2 848.3ZM573.1 848.7 571.4 848.7 571.2 847.1 572.5 846.4 573.3 847.0ZM568.4 850.2 569.3 849.6 570.6 850.1 570.0 851.5 568.6 851.0ZM568.0 845.4 567.1 846.6 566.2 844.9ZM581.7 862.9 580.7 860.9 582.9 860.8ZM584.3 847.1 582.9 846.7 584.1 846.1ZM575.2 872.0 576.8 871.2 577.3 872.6 576.3 873.2ZM572.0 852.2 573.7 852.9 572.1 853.6ZM568.4 851.8 567.7 851.8 567.5 851.2 568.1 851.0 568.8 851.2ZM581.2 866.9 580.6 867.7 579.8 867.1 580.5 866.5ZM576.6 850.0 577.3 848.8 578.7 849.5 578.9 850.8 577.4 851.4ZM575.1 858.0 573.5 856.2 573.9 853.5 576.4 853.8 577.2 856.3ZM575.2 869.6 574.7 868.5 575.1 867.7 576.5 867.9 576.2 869.1ZM581.9 870.8 582.8 871.8 581.6 871.8ZM578.1 845.6 580.2 847.7 577.9 849.7ZM582.0 848.1 581.8 846.5 583.2 847.1ZM571.5 859.6 573.7 860.5 571.4 862.3ZM573.8 857.6 577.4 858.6 575.2 860.6ZM567.9 849.0 568.5 846.9 570.8 847.0 571.0 848.8 570.1 850.7ZM583.5 846.3 584.0 848.0 582.4 848.9 581.6 847.6 582.0 846.0ZM570.1 846.0 568.4 846.0 569.0 844.2ZM573.2 853.4 571.4 851.1 574.1 851.3ZM568.6 855.6 569.0 856.5 568.1 857.0 567.9 856.1ZM580.2 860.1 581.5 860.9 580.3 861.7ZM583.9 865.5 582.9 866.1 582.6 864.9ZM577.8 859.4 578.6 858.8 579.5 858.8 579.6 859.4 578.8 860.0ZM583.7 854.6 583.0 855.8 580.9 856.6 580.5 854.7 581.9 853.4ZM458.7 822.0 460.0 821.6 460.1 823.0ZM468.6 846.5 470.6 845.0 471.0 847.2ZM463.5 840.2 463.9 840.8 463.4 841.5 462.7 841.2 462.8 840.3ZM466.5 833.0 467.2 832.4 468.1 833.1 467.7 834.2 466.8 833.9ZM471.0 853.0 472.1 853.1 471.7 853.9 470.6 853.7ZM464.3 826.6 463.4 824.8 464.0 822.5 465.6 823.6 465.4 825.7ZM467.4 834.7 468.3 832.0 470.2 833.3 469.5 835.8ZM467.0 852.5 469.4 853.2 467.3 854.4ZM469.9 837.2 470.0 839.4 468.0 838.2ZM469.7 852.9 468.1 854.3 466.9 853.3 466.9 851.1 469.1 851.4ZM470.1 831.4 469.7 830.9 470.1 830.1 470.8 830.6 470.7 831.3ZM462.6 838.7 463.3 836.2 465.2 837.6 464.6 839.3ZM463.6 835.2 465.3 834.4 465.6 836.1 464.5 836.8ZM467.8 847.7 466.8 848.6 466.5 846.9ZM468.2 841.7 471.8 840.2 471.0 843.4ZM466.8 824.2 466.7 826.7 465.2 825.5ZM470.3 824.2 472.0 823.4 472.9 824.4 472.3 826.1 470.9 825.7ZM466.9 837.1 468.0 839.2 467.0 840.6 465.6 839.2ZM463.8 828.9 465.1 830.5 462.8 831.3 461.7 830.4 461.8 828.2ZM463.1 842.7 464.3 843.9 462.3 844.2ZM474.0 851.5 472.2 851.1 472.8 849.9 474.1 849.4 475.0 850.6ZM469.1 849.4 471.0 848.8 470.6 850.5ZM460.9 843.8 459.0 842.8 458.7 841.0 460.9 840.2 461.7 841.6ZM462.4 844.6 461.8 845.3 460.9 844.8 461.6 844.0ZM467.9 841.6 467.9 840.3 468.9 840.4 469.0 841.6ZM473.1 822.6 473.7 823.4 472.7 824.1 471.8 823.2 472.4 822.5ZM464.1 817.4 463.7 815.2 466.4 814.1 468.2 816.0 466.5 817.4ZM460.6 837.1 460.3 837.7 459.1 837.9 458.9 836.9 460.1 836.2ZM459.4 840.9 458.8 840.2 459.3 839.5 460.2 840.2ZM465.5 829.2 465.4 828.3 467.0 828.3 466.9 829.5 466.1 830.3ZM461.3 956.9 461.7 956.1 462.4 956.3 462.6 956.9 462.0 957.5ZM494.8 930.3 493.9 931.3 492.9 930.6 493.4 929.7 494.5 929.3ZM495.1 930.0 494.5 927.9 496.2 927.1 497.3 928.5 496.6 930.1ZM481.5 937.3 482.6 936.9 483.4 937.7 482.2 938.2ZM480.4 942.1 480.3 943.4 478.8 943.6 478.0 942.3 479.4 941.8ZM463.1 951.4 462.2 951.0 463.1 950.3 463.5 951.0ZM473.3 947.3 472.5 947.2 473.4 946.4ZM504.1 924.3 504.1 922.6 505.7 922.9 505.6 924.4ZM496.5 929.4 498.9 927.8 498.8 930.9ZM472.4 948.0 472.5 948.6 471.7 948.8 471.4 947.9 472.0 947.7ZM501.5 926.0 502.4 925.2 503.0 925.5 503.4 926.6 502.3 926.9ZM487.6 936.4 488.5 935.4 489.5 936.1 488.8 937.1ZM497.3 929.4 497.9 931.3 496.3 931.4 496.1 930.2ZM504.0 921.0 504.5 921.9 503.6 922.1 503.1 921.4ZM501.6 924.1 503.6 924.8 502.1 926.0 500.5 925.3ZM492.9 933.0 492.4 934.5 491.8 933.3ZM497.5 931.7 496.0 932.6 495.2 931.6 496.1 930.6ZM480.0 942.6 480.7 940.6 482.9 940.8 482.3 943.2ZM463.3 954.6 463.6 953.2 464.7 954.1ZM463.5 959.8 462.7 958.7 463.4 957.2 464.3 958.7ZM497.5 923.9 498.9 924.1 499.0 925.9 497.9 926.9 497.2 925.1ZM461.1 955.8 460.6 956.8 459.8 956.5 459.4 955.9 460.2 955.7ZM463.0 956.5 463.9 955.7 464.5 957.1 463.2 958.0ZM472.9 945.6 474.3 948.4 472.5 949.3ZM465.2 955.4 462.7 955.6 462.2 953.4 464.1 952.7ZM495.2 929.2 494.1 927.7 495.9 927.2ZM488.1 933.1 489.1 931.8 490.1 932.4 490.3 933.9 488.7 934.4ZM479.0 941.3 480.6 940.5 480.7 942.5 479.3 942.7ZM509.9 917.9 509.3 920.4 507.8 918.5ZM483.7 934.4 485.7 935.9 484.1 938.2 481.6 936.3ZM506.3 923.9 505.0 923.3 506.4 922.6ZM460.2 956.4 459.4 957.7 458.0 956.8 458.4 955.7 459.1 955.3ZM491.9 933.2 491.1 933.8 490.4 933.2 491.2 932.4ZM484.3 936.6 484.6 938.5 482.5 937.9ZM496.0 927.6 497.0 925.9 498.2 928.0ZM508.1 922.3 509.4 922.1 510.4 922.8 509.4 924.1 508.6 923.7ZM484.9 939.0 483.1 940.0 482.3 937.7 484.4 936.9ZM462.5 953.2 462.0 951.8 463.8 952.5ZM505.8 921.4 508.1 922.4 507.0 924.8ZM493.9 934.4 494.0 936.8 491.7 936.9 490.7 935.6 491.7 934.0ZM482.4 937.4 482.0 936.5 482.9 936.3 483.7 936.6 483.1 937.5ZM466.5 953.7 465.1 954.8 464.3 953.2ZM480.8 938.0 480.7 935.3 483.1 935.5 483.3 938.0ZM491.2 932.5 492.2 932.6 492.0 933.8 490.8 933.4ZM466.9 953.3 466.2 951.6 468.2 952.3ZM470.8 947.8 469.7 945.1 472.2 944.7 472.6 947.1ZM463.0 953.5 462.3 953.2 462.2 951.9 463.2 951.9 463.5 952.9ZM508.4 921.0 507.7 918.5 510.0 919.4ZM469.0 947.8 470.6 947.9 471.6 948.8 470.5 949.7 468.9 949.4ZM501.7 923.2 502.3 922.4 503.1 923.1 502.7 924.1 501.8 924.0ZM482.8 938.2 483.2 937.4 484.4 937.7 483.6 938.7ZM507.6 921.2 509.6 919.5 510.9 920.6 510.9 922.8 508.9 923.3ZM466.5 953.0 467.6 954.8 466.2 956.2 465.1 954.6ZM478.9 946.1 477.7 946.2 477.5 944.8 478.7 945.0ZM468.5 948.6 468.3 949.9 466.9 949.6 466.9 948.2ZM487.5 931.8 488.5 932.9 487.3 933.8 486.0 933.1 486.5 931.9ZM478.7 941.2 480.2 941.8 479.2 944.0ZM463.5 952.0 464.7 950.7 466.0 952.6 464.1 953.3ZM464.5 955.3 466.6 955.6 465.2 957.3 463.8 956.5ZM490.8 924.6 490.8 927.6 488.7 926.6ZM471.6 791.8 474.8 792.3 478.0 791.8 480.5 792.0 482.8 791.0 485.9 791.0 488.4 789.4 490.8 790.7 490.8 793.4 492.4 797.4 494.0 801.4 494.8 805.4 494.0 809.4 492.4 813.4 490.7 814.9 489.2 816.6 486.0 816.6 483.6 814.2 483.1 811.8 482.0 809.4 480.8 807.2 480.4 804.6 479.8 801.6 478.0 799.0 476.4 797.0 474.8 795.0 471.6 793.4 471.6 791.8M472.3 795.3 472.9 795.6 472.4 796.4 471.7 796.2 471.7 795.5ZM479.4 795.2 477.7 796.4 476.3 794.9 478.0 793.8ZM479.7 790.2 479.7 792.1 477.9 792.6 477.9 790.7ZM480.6 787.8 480.8 789.0 479.1 789.0 479.1 788.0ZM485.0 789.3 486.1 791.1 484.4 792.2 483.7 790.3ZM489.9 789.6 488.9 790.4 488.1 790.2 487.9 789.2 488.9 789.1ZM489.5 792.3 491.1 792.4 491.2 794.6 489.1 793.8ZM492.3 795.2 491.1 794.0 492.2 792.2 493.5 792.9 493.7 794.6ZM492.2 798.0 492.4 796.2 493.8 797.6ZM493.1 804.7 492.9 802.1 495.1 802.9ZM490.8 804.2 491.5 805.9 489.8 807.1 487.9 806.1 488.5 804.0ZM491.1 812.5 491.3 812.1 492.1 812.3 491.7 812.8ZM495.9 812.3 494.6 810.4 496.7 809.4ZM492.9 816.6 491.7 817.6 490.4 816.0 491.2 814.6 492.6 815.1ZM490.0 815.3 488.9 816.4 487.9 815.0 489.2 814.2ZM485.5 814.3 486.8 813.4 486.5 815.5ZM481.6 819.7 481.1 819.0 482.1 818.9ZM477.9 815.0 477.4 814.2 478.2 814.0 478.6 814.5ZM482.0 805.8 480.0 807.0 480.1 804.5ZM480.7 799.3 480.4 798.1 481.1 797.4 481.7 798.5ZM477.8 794.8 478.6 794.4 478.8 795.1ZM471.1 797.7 469.0 798.1 469.2 795.5 471.1 796.0ZM470.7 793.6 469.7 792.0 471.9 792.1ZM470.0 786.2 471.1 784.1 473.2 783.0 475.1 781.7 476.4 779.8 479.6 777.4 482.0 776.6 484.4 775.8 488.4 775.0M482.8 779.8 486.0 781.4 489.2 779.8 490.8 776.6M498.0 775.0 499.2 777.6 502.0 777.4 501.9 780.7 505.2 780.6 508.4 782.2 511.6 780.6 514.9 778.2 518.1 776.6 521.3 775.0M511.6 783.0 514.9 784.6 516.1 786.6 518.1 787.8 519.7 791.0 521.3 795.0 519.7 796.6 516.5 795.0 515.1 793.1 514.0 791.0 512.4 787.0 511.6 783.0M523.7 783.0 524.7 780.2 527.7 779.8 530.0 780.8 532.5 780.6 535.1 782.3 538.1 783.0 542.1 781.4 544.5 779.6 546.9 781.4 549.3 784.6 547.7 787.8 545.3 791.0 543.9 793.2 543.7 795.8 542.3 798.0 542.1 800.6 539.7 803.0 535.7 801.4 532.5 799.0 530.1 795.8 528.5 792.6 526.7 791.0 526.1 788.6 523.7 785.4 523.7 783.0M503.6 808.6 507.6 809.4 508.4 812.6 507.8 815.0 506.0 816.6 504.9 818.7 503.6 820.7 504.4 823.1 506.0 825.0 508.4 825.5 511.5 826.0 513.2 828.7 515.2 831.0 518.1 830.3 520.4 829.7 522.9 829.5 525.9 828.1 529.3 828.3 529.2 830.7 527.7 832.7 526.7 835.2 525.3 837.5 524.0 839.9 521.3 840.7 520.0 843.2 517.3 843.9 515.5 845.5 513.2 846.3 510.6 847.0 508.4 848.7 506.1 850.0 503.6 851.1 502.0 847.1 502.1 844.4 502.3 841.7 502.8 839.1 503.1 836.3 501.4 833.8 502.0 831.1 501.7 827.9 501.2 824.7 501.6 822.0 502.4 819.4 502.0 816.6 502.0 813.9 502.2 811.1 503.6 808.6M507.5 810.5 507.6 811.6 506.6 811.5 506.3 810.9 506.7 810.4ZM508.2 810.3 506.6 811.1 505.7 809.5 507.7 808.8ZM504.2 812.2 505.9 812.1 506.4 813.7 505.0 814.3 504.1 813.5ZM503.3 822.7 502.5 824.7 501.0 823.3 502.0 822.2ZM506.9 824.3 506.6 823.1 507.4 821.9 508.7 822.8 508.5 824.3ZM507.7 822.9 506.2 820.8 509.2 820.5ZM507.6 823.3 510.2 822.7 510.4 825.0 508.6 825.2ZM515.4 827.0 514.7 828.4 513.4 828.2 513.3 826.9 514.4 826.6ZM516.1 828.9 514.7 831.2 513.1 829.6 514.2 828.1ZM515.2 826.5 516.9 826.6 517.9 827.4 516.8 828.5 515.4 828.3ZM520.7 831.5 520.2 831.8 519.2 831.8 519.4 830.8 520.5 830.6ZM520.5 827.6 521.4 829.3 519.3 829.4ZM524.6 827.8 525.1 829.2 524.0 829.9 523.4 828.7ZM526.5 828.5 527.1 827.2 527.6 828.5ZM529.1 834.1 530.2 833.2 530.6 835.0ZM521.4 838.0 522.8 837.8 523.0 838.9 521.8 839.3ZM522.4 838.9 520.7 839.2 520.3 837.4 523.0 837.4ZM523.9 845.3 521.8 842.8 525.0 842.7ZM519.2 842.0 517.2 842.9 517.4 840.5ZM516.4 843.5 517.5 843.3 518.2 844.0 517.6 844.6 516.4 844.4ZM514.1 847.7 512.8 846.8 512.8 845.6 514.0 845.0 514.7 846.2ZM512.0 853.6 510.4 852.7 511.0 851.3 512.3 851.7ZM506.2 852.2 505.2 849.7 507.9 850.1ZM501.2 850.6 500.4 851.1 499.5 850.6 500.0 849.7 500.8 849.7ZM503.1 847.6 501.8 846.7 503.0 845.9ZM501.7 834.7 500.8 833.1 502.7 832.1 503.5 834.4ZM503.6 833.8 504.3 833.1 504.8 834.0 504.1 834.8ZM502.2 827.9 502.6 830.1 500.9 830.7 500.3 829.1ZM502.8 824.5 500.8 823.1 502.9 821.7ZM501.9 821.9 503.2 820.3 503.7 823.3ZM502.9 819.0 504.0 818.3 504.6 819.1 504.0 819.8ZM499.8 815.2 501.0 815.1 501.4 816.2 500.3 816.4 499.4 815.9ZM508.1 813.3 508.4 814.4 507.2 815.2 506.1 814.3 506.5 812.6ZM526.1 809.4 528.4 810.3 530.9 810.2 532.8 812.4 535.7 812.6 538.7 813.9 540.5 816.6 541.5 819.0 542.1 821.5 539.7 824.7 535.7 823.1 534.3 821.2 532.5 819.9 530.9 818.2 529.3 816.6 526.9 813.4 526.1 809.4M530.1 811.1 531.5 811.4 531.4 813.1 530.0 812.6ZM534.3 812.7 534.4 813.3 533.6 813.4 533.4 812.5ZM536.3 814.4 536.6 811.7 538.7 812.6ZM538.8 814.2 539.4 813.8 540.0 814.2 539.7 815.3 539.0 815.3ZM544.4 822.6 543.0 824.5 541.9 822.6ZM535.5 824.1 536.0 823.4 536.9 824.2ZM533.9 823.5 534.6 821.6 536.9 822.1 536.2 823.6ZM532.7 822.1 533.3 821.4 533.4 822.4ZM527.5 812.4 528.0 812.3 528.4 812.7 528.3 813.4 527.4 813.1ZM547.7 808.6 550.1 807.0 552.1 808.9 554.9 808.6 558.2 808.9 561.3 807.8 563.9 809.6 566.1 811.8 567.7 814.6 570.1 816.6 568.8 819.3 570.9 821.5 569.4 823.6 569.3 826.3 569.8 828.7 570.1 831.1 571.7 833.2 571.7 835.9 572.4 838.5 574.1 840.7 573.2 843.9 576.5 844.7 574.1 845.5 570.9 843.9 570.1 841.5 567.7 840.7 564.5 838.3 561.3 835.9 559.5 834.5 558.1 832.7 554.9 831.1 553.3 827.9 551.7 824.7 549.3 821.5 546.8 819.7 546.9 816.6 547.4 814.1 546.1 811.8 547.7 808.6M551.6 810.9 551.6 812.1 551.0 812.4 550.4 812.0 550.6 811.0ZM550.9 807.7 549.5 806.0 552.1 805.3ZM553.0 808.6 552.3 809.0 551.6 808.4 552.4 807.9ZM554.0 807.0 556.7 807.6 554.8 808.5ZM561.8 808.4 561.9 809.7 560.7 809.9 559.9 808.5 561.0 808.2ZM562.9 808.5 561.9 808.3 562.6 807.6ZM564.5 811.1 564.1 809.4 565.8 809.9ZM566.6 816.8 567.3 815.3 569.4 816.0 568.4 817.9ZM567.3 816.3 568.5 818.3 565.6 817.7ZM572.6 823.9 573.2 822.6 574.4 823.8 573.3 825.2ZM570.9 824.0 571.2 825.5 569.8 825.5 568.5 824.6 569.6 822.9ZM570.8 826.9 569.8 827.2 568.6 826.5 569.3 825.1 570.7 825.6ZM569.1 831.0 568.4 831.5 567.6 830.7 567.9 829.2 569.4 829.8ZM571.0 840.4 572.5 840.0 574.0 841.3 572.5 842.7 570.9 842.1ZM574.8 844.0 572.9 842.2 575.4 841.7ZM575.9 845.1 577.5 844.8 577.9 846.5 576.4 847.6 574.7 846.4ZM574.1 845.6 573.8 846.8 572.7 846.3 573.1 845.3ZM566.8 836.7 568.0 837.7 566.8 838.2ZM561.6 837.4 562.7 838.4 561.8 839.3 561.0 838.6ZM553.8 829.8 554.6 828.7 555.3 829.9ZM552.0 826.9 551.3 828.8 550.3 827.4ZM550.4 820.8 551.6 822.9 549.4 823.4ZM548.6 819.7 547.0 819.2 547.8 818.0 548.9 818.1ZM546.3 817.8 547.7 817.6 548.0 819.1 546.0 819.0ZM549.1 816.0 548.7 816.8 547.8 816.2 548.4 815.5ZM550.1 811.3 548.4 811.7 547.2 810.2 548.6 809.0 550.3 809.1ZM550.1 831.1 553.3 832.7 553.5 835.2 554.9 837.5 555.7 840.4 558.1 842.3 558.5 844.8 559.7 847.1 560.3 849.3 561.9 851.1 562.1 853.5 562.5 856.3 564.5 858.3 562.1 859.9 561.1 857.0 558.1 856.7 556.8 854.1 554.9 851.9 554.6 848.6 551.7 847.1 550.2 845.4 548.5 843.9 547.5 841.5 546.9 839.1 548.1 836.8 547.7 834.3 550.1 831.1M552.5 830.3 551.0 831.6 549.2 830.5 549.7 829.0 551.1 828.7ZM554.5 840.1 555.4 839.2 556.6 840.2 555.4 840.9ZM560.5 841.8 561.5 843.0 560.7 844.7 559.1 843.8 559.5 842.4ZM557.3 843.9 558.6 845.8 557.0 845.9ZM558.3 849.1 557.4 848.9 558.1 848.3ZM559.2 850.6 560.6 850.4 561.5 852.0 559.4 852.4ZM558.0 852.6 558.4 853.6 557.2 854.0 556.9 852.6ZM560.8 855.9 560.0 854.5 561.6 854.6ZM567.3 860.5 567.1 862.3 565.7 862.4 564.8 861.0 566.0 860.3ZM555.0 853.1 554.8 852.1 555.8 852.6ZM552.9 851.5 552.1 849.8 553.2 849.1 554.4 850.1ZM553.1 848.0 552.5 848.4 552.0 847.6 552.3 846.7 553.1 846.9ZM548.3 845.3 546.7 844.4 548.1 842.8 549.2 844.1ZM547.7 842.0 548.4 841.7 548.9 842.7 548.1 843.4 547.1 842.8ZM549.2 830.2 548.2 831.0 547.6 830.0 548.4 829.4ZM538.9 834.3 540.5 837.5 539.3 839.7 539.7 842.3 538.9 844.7 538.1 847.1 537.4 849.5 536.5 851.9 536.5 854.6 534.9 856.7 533.4 858.9 533.3 861.5 533.5 864.2 531.7 866.3 530.1 869.5 529.3 867.9 530.5 865.6 530.9 863.1 533.5 861.3 532.5 858.3 534.1 856.2 534.1 853.5 533.9 850.7 535.7 848.7 537.2 846.5 537.3 843.9 537.8 841.5 538.1 839.1 540.6 837.0 538.9 834.3M544.2 839.6 543.6 840.1 542.7 839.8 543.0 838.8 543.8 838.6ZM535.7 844.0 535.0 843.3 535.8 842.8ZM540.1 848.6 539.5 847.1 540.5 846.5 541.1 847.4ZM538.2 847.2 538.2 847.9 537.4 847.9 537.4 847.0ZM535.3 859.1 533.8 856.8 536.6 857.0ZM537.8 859.8 538.5 860.3 537.7 860.9ZM535.6 869.5 533.9 870.5 533.0 869.1 534.4 867.9ZM533.5 860.5 533.7 862.1 532.4 861.8ZM534.7 858.2 533.2 859.4 531.2 859.0 531.9 857.4 533.5 857.1ZM534.8 846.4 535.5 846.4 535.4 847.2 534.7 847.0ZM534.6 844.9 536.0 844.0 537.1 845.0 535.8 846.2ZM536.8 840.4 536.8 838.4 538.3 837.5 538.9 838.8 539.0 840.5ZM530.9 839.1 529.6 841.0 527.7 842.3 524.5 843.9 523.1 845.7 521.3 847.1 519.7 849.1 518.1 851.1 515.7 852.5 514.9 855.1 514.8 857.7 513.2 859.9 511.6 863.1 511.8 865.4 509.8 867.5 510.8 870.0M534.1 840.7 533.2 843.1 532.5 845.5 532.5 848.1 530.9 850.3 530.0 852.7 529.3 855.1 529.4 857.8 527.7 859.9 527.6 862.5 526.1 864.7 525.7 867.5 524.5 870.0M537.3 858.3 540.5 855.9 542.7 854.2 545.3 855.1 549.3 856.7 550.1 860.7 547.3 861.7 546.9 864.7 544.6 865.8 542.1 866.3 538.1 864.7 536.5 861.5 537.3 858.3M542.4 854.7 541.5 854.7 541.1 853.9 542.2 854.0ZM541.7 859.1 541.0 857.5 542.8 858.0ZM548.1 855.3 548.9 857.2 546.5 857.5ZM545.8 861.2 548.2 860.7 548.5 862.5 546.3 862.7ZM546.8 862.9 546.1 860.9 548.0 860.3 549.4 861.7 548.3 862.7ZM539.0 865.3 538.4 865.8 537.7 865.5 537.9 864.7 538.4 864.5ZM540.3 863.0 539.4 864.4 538.3 862.9 539.4 861.5ZM532.5 858.5 534.9 858.7 534.7 861.3 532.6 860.7ZM513.2 811.0 515.7 811.4 516.9 813.4 514.9 815.0 513.2 813.4 513.2 811.0M574.7 865.2 575.5 864.1 576.5 864.8 575.9 866.3ZM571.0 855.7 570.9 857.0 568.8 857.4 568.1 855.7 569.7 854.5ZM581.0 864.6 581.6 862.6 583.4 862.4 583.9 864.4 582.6 865.9ZM570.3 863.4 570.4 865.3 568.7 866.2 567.2 864.7 568.4 862.9ZM571.1 857.7 573.1 857.4 574.2 859.4 573.0 860.9 570.9 860.0ZM583.6 865.2 581.7 865.4 582.1 863.3 583.1 862.5 584.2 863.8ZM574.4 855.0 575.6 855.2 576.2 856.0 575.5 856.7 574.3 856.8ZM571.8 867.3 571.0 869.3 569.7 868.4 569.8 867.2ZM568.3 866.4 570.9 868.0 569.5 869.5 566.5 869.2ZM578.9 867.8 578.5 867.0 578.7 866.2 580.0 866.6 579.7 867.5ZM571.0 855.6 569.7 856.8 567.7 855.9 569.5 854.1ZM574.7 864.5 575.1 863.4 576.9 862.9 576.5 864.9ZM577.1 853.4 577.0 851.1 578.8 852.0ZM567.5 860.9 569.3 860.2 569.8 861.8ZM575.7 869.6 575.0 868.6 575.6 867.4 576.7 868.5ZM574.7 854.0 576.3 856.4 573.5 855.8ZM579.5 870.0 578.2 870.4 578.3 868.8ZM570.7 854.2 568.8 854.6 569.0 853.0ZM581.4 860.8 580.6 860.4 581.2 859.7 582.2 860.2ZM577.8 850.5 581.1 850.6 579.7 853.7ZM577.1 852.8 577.5 853.6 576.3 854.1 575.3 853.5 575.7 852.0ZM580.3 858.5 578.9 858.6 578.9 856.7 579.8 855.7 581.1 857.0ZM575.6 856.5 576.2 857.6 575.7 858.4 574.6 858.1 574.3 857.2ZM569.8 851.2 569.8 850.1 571.2 850.3 571.2 852.0ZM582.0 854.0 581.8 854.7 580.9 854.5 581.2 853.5ZM575.1 859.7 573.3 858.7 574.3 857.0 575.7 858.1ZM570.4 863.3 572.0 861.4 573.5 863.8 571.3 865.4ZM573.1 851.3 572.6 852.4 570.8 852.5 571.0 850.5 572.2 850.5ZM583.6 857.1 583.7 858.6 582.5 858.1ZM575.5 850.2 575.6 852.9 572.6 851.5ZM473.1 776.6 470.8 776.0 471.8 774.1 473.9 774.8ZM483.2 773.3 483.9 776.8 481.2 776.3ZM472.8 786.6 472.6 785.1 473.6 785.6ZM494.9 783.8 493.7 786.1 491.9 783.9ZM488.5 784.1 487.7 782.8 488.5 781.8 489.3 782.2 489.2 783.3ZM484.3 777.9 484.8 779.0 483.8 779.1 483.3 778.3ZM487.7 781.2 488.7 781.8 487.6 782.3 487.2 781.7ZM491.8 786.2 491.9 784.5 493.6 784.8 493.2 786.9ZM481.5 785.1 478.7 784.5 480.7 781.7ZM480.5 780.5 480.8 779.1 482.4 779.7ZM479.2 786.9 478.6 788.2 478.1 786.9ZM478.7 783.8 481.3 783.2 481.4 785.1 480.0 785.7ZM493.9 784.1 492.1 784.3 492.8 782.3ZM487.8 782.3 487.4 781.2 488.7 781.1 489.1 782.0ZM489.9 786.4 488.3 787.2 487.4 786.6 487.6 784.7 489.2 785.5ZM483.4 784.3 484.0 786.0 482.3 785.6ZM474.2 780.6 475.2 779.8 475.4 781.4ZM484.9 778.0 482.7 777.8 483.6 776.1 485.0 776.4ZM480.8 773.8 481.8 775.4 480.8 777.7 479.2 776.6 478.7 774.5ZM488.1 789.4 486.0 789.4 485.8 787.8 486.5 786.0 488.2 787.0ZM541.8 822.9 542.4 822.4 542.7 823.1 542.2 823.5ZM544.1 821.2 543.1 819.5 545.1 818.4 546.6 820.5ZM542.3 822.1 542.1 820.8 543.3 820.0 543.8 821.5 543.2 822.4ZM542.3 830.5 541.6 828.2 543.3 826.2 544.0 829.1ZM543.5 829.2 544.5 827.7 545.5 829.1 544.6 831.1ZM549.4 823.3 548.1 820.7 550.7 819.3 551.0 821.8ZM549.0 829.7 547.2 830.1 547.6 828.5 548.7 827.5 549.5 828.8ZM548.6 823.1 547.3 823.0 547.5 820.9 549.4 821.7ZM546.5 825.6 548.6 824.6 550.1 826.0 549.2 827.8 546.6 827.2ZM543.3 820.3 543.0 821.5 541.7 821.3 541.7 820.4 542.3 819.8ZM543.6 828.5 543.0 827.3 544.6 827.6ZM549.8 826.1 547.4 826.9 546.2 824.6 549.3 824.0ZM547.3 825.9 546.6 826.8 546.2 825.8ZM546.0 824.1 548.6 824.0 549.5 826.1 546.5 826.3ZM550.0 820.5 549.1 822.1 547.4 822.0 547.2 820.0 548.7 819.6ZM492.0 821.9 491.9 820.0 493.3 819.5 494.9 820.2 493.7 822.0ZM490.1 821.2 488.7 822.3 488.6 820.9ZM485.3 814.4 486.9 816.2 485.3 817.6 483.8 816.1ZM485.9 822.4 486.0 823.1 485.5 823.7 484.4 823.1 484.9 822.0ZM485.4 817.8 485.2 815.2 486.9 813.3 488.0 815.3 487.8 817.4ZM486.0 820.4 485.8 818.4 487.5 819.1ZM488.0 819.1 486.5 819.6 487.0 817.6ZM493.3 814.3 493.2 816.2 491.6 815.1ZM493.5 824.5 492.7 822.5 494.6 822.4ZM488.5 824.1 489.7 823.9 489.9 824.7 489.2 825.3ZM491.4 816.5 490.7 815.9 491.5 815.5 492.2 816.0ZM493.6 822.6 491.7 822.1 492.0 820.1 493.8 819.7 494.2 821.5Z" fill="none" stroke="#000" stroke-width="1.3" stroke-linejoin="round"/>
<path d="M353.2 308.5a0.8 0.8 0 1 0 1.6 0a0.8 0.8 0 1 0 -1.6 0M391.9 315.2a0.8 0.8 0 1 0 1.6 0a0.8 0.8 0 1 0 -1.6 0M280.7 335.2a0.8 0.8 0 1 0 1.6 0a0.8 0.8 0 1 0 -1.6 0M290.7 339.0a0.8 0.8 0 1 0 1.6 0a0.8 0.8 0 1 0 -1.6 0M410.7 346.5a0.8 0.8 0 1 0 1.6 0a0.8 0.8 0 1 0 -1.6 0M429.4 359.5a0.8 0.8 0 1 0 1.6 0a0.8 0.8 0 1 0 -1.6 0M321.9 376.5a0.8 0.8 0 1 0 1.6 0a0.8 0.8 0 1 0 -1.6 0M354.4 384.0a0.8 0.8 0 1 0 1.6 0a0.8 0.8 0 1 0 -1.6 0M460.7 382.8a0.8 0.8 0 1 0 1.6 0a0.8 0.8 0 1 0 -1.6 0M475.7 145.2a0.8 0.8 0 1 0 1.6 0a0.8 0.8 0 1 0 -1.6 0M480.7 317.8a0.8 0.8 0 1 0 1.6 0a0.8 0.8 0 1 0 -1.6 0M480.7 261.5a0.8 0.8 0 1 0 1.6 0a0.8 0.8 0 1 0 -1.6 0M476.9 267.8a0.8 0.8 0 1 0 1.6 0a0.8 0.8 0 1 0 -1.6 0M493.2 296.5a0.8 0.8 0 1 0 1.6 0a0.8 0.8 0 1 0 -1.6 0M473.2 311.5a0.8 0.8 0 1 0 1.6 0a0.8 0.8 0 1 0 -1.6 0M574.0 117.0a0.8 0.8 0 1 0 1.6 0a0.8 0.8 0 1 0 -1.6 0M595.2 125.2a0.8 0.8 0 1 0 1.6 0a0.8 0.8 0 1 0 -1.6 0M600.2 127.8a0.8 0.8 0 1 0 1.6 0a0.8 0.8 0 1 0 -1.6 0M634.0 117.8a0.8 0.8 0 1 0 1.6 0a0.8 0.8 0 1 0 -1.6 0M557.7 136.5a0.8 0.8 0 1 0 1.6 0a0.8 0.8 0 1 0 -1.6 0M545.2 154.0a0.8 0.8 0 1 0 1.6 0a0.8 0.8 0 1 0 -1.6 0M544.0 171.5a0.8 0.8 0 1 0 1.6 0a0.8 0.8 0 1 0 -1.6 0M562.7 204.0a0.8 0.8 0 1 0 1.6 0a0.8 0.8 0 1 0 -1.6 0M671.5 279.5a0.8 0.8 0 1 0 1.6 0a0.8 0.8 0 1 0 -1.6 0M786.5 271.0a0.8 0.8 0 1 0 1.6 0a0.8 0.8 0 1 0 -1.6 0M810.2 314.0a0.8 0.8 0 1 0 1.6 0a0.8 0.8 0 1 0 -1.6 0M836.5 297.8a0.8 0.8 0 1 0 1.6 0a0.8 0.8 0 1 0 -1.6 0M831.5 256.0a0.8 0.8 0 1 0 1.6 0a0.8 0.8 0 1 0 -1.6 0M837.7 238.2a0.8 0.8 0 1 0 1.6 0a0.8 0.8 0 1 0 -1.6 0M859.0 225.2a0.8 0.8 0 1 0 1.6 0a0.8 0.8 0 1 0 -1.6 0M862.7 206.5a0.8 0.8 0 1 0 1.6 0a0.8 0.8 0 1 0 -1.6 0M835.2 164.0a0.8 0.8 0 1 0 1.6 0a0.8 0.8 0 1 0 -1.6 0M832.7 180.2a0.8 0.8 0 1 0 1.6 0a0.8 0.8 0 1 0 -1.6 0M871.5 148.5a0.8 0.8 0 1 0 1.6 0a0.8 0.8 0 1 0 -1.6 0M887.7 106.5a0.8 0.8 0 1 0 1.6 0a0.8 0.8 0 1 0 -1.6 0M871.5 104.0a0.8 0.8 0 1 0 1.6 0a0.8 0.8 0 1 0 -1.6 0M924.0 129.0a0.8 0.8 0 1 0 1.6 0a0.8 0.8 0 1 0 -1.6 0M929.0 125.2a0.8 0.8 0 1 0 1.6 0a0.8 0.8 0 1 0 -1.6 0M847.7 280.2a0.8 0.8 0 1 0 1.6 0a0.8 0.8 0 1 0 -1.6 0M834.0 345.2a0.8 0.8 0 1 0 1.6 0a0.8 0.8 0 1 0 -1.6 0M831.5 351.5a0.8 0.8 0 1 0 1.6 0a0.8 0.8 0 1 0 -1.6 0M836.5 359.0a0.8 0.8 0 1 0 1.6 0a0.8 0.8 0 1 0 -1.6 0M837.7 364.0a0.8 0.8 0 1 0 1.6 0a0.8 0.8 0 1 0 -1.6 0M841.5 381.5a0.8 0.8 0 1 0 1.6 0a0.8 0.8 0 1 0 -1.6 0M649.0 366.5a0.8 0.8 0 1 0 1.6 0a0.8 0.8 0 1 0 -1.6 0M656.5 356.5a0.8 0.8 0 1 0 1.6 0a0.8 0.8 0 1 0 -1.6 0M676.5 344.0a0.8 0.8 0 1 0 1.6 0a0.8 0.8 0 1 0 -1.6 0M615.2 264.0a0.8 0.8 0 1 0 1.6 0a0.8 0.8 0 1 0 -1.6 0M525.2 229.0a0.8 0.8 0 1 0 1.6 0a0.8 0.8 0 1 0 -1.6 0M524.0 240.2a0.8 0.8 0 1 0 1.6 0a0.8 0.8 0 1 0 -1.6 0M522.7 232.8a0.8 0.8 0 1 0 1.6 0a0.8 0.8 0 1 0 -1.6 0M770.2 331.5a0.8 0.8 0 1 0 1.6 0a0.8 0.8 0 1 0 -1.6 0M772.7 329.0a0.8 0.8 0 1 0 1.6 0a0.8 0.8 0 1 0 -1.6 0M974.2 121.0a0.8 0.8 0 1 0 1.6 0a0.8 0.8 0 1 0 -1.6 0M976.7 119.5a0.8 0.8 0 1 0 1.6 0a0.8 0.8 0 1 0 -1.6 0M966.7 126.0a0.8 0.8 0 1 0 1.6 0a0.8 0.8 0 1 0 -1.6 0M963.0 128.5a0.8 0.8 0 1 0 1.6 0a0.8 0.8 0 1 0 -1.6 0M959.2 130.2a0.8 0.8 0 1 0 1.6 0a0.8 0.8 0 1 0 -1.6 0M955.5 132.0a0.8 0.8 0 1 0 1.6 0a0.8 0.8 0 1 0 -1.6 0M953.0 133.5a0.8 0.8 0 1 0 1.6 0a0.8 0.8 0 1 0 -1.6 0M929.2 126.5a0.8 0.8 0 1 0 1.6 0a0.8 0.8 0 1 0 -1.6 0M924.2 129.0a0.8 0.8 0 1 0 1.6 0a0.8 0.8 0 1 0 -1.6 0M931.7 125.2a0.8 0.8 0 1 0 1.6 0a0.8 0.8 0 1 0 -1.6 0M888.0 106.5a0.8 0.8 0 1 0 1.6 0a0.8 0.8 0 1 0 -1.6 0M871.7 104.5a0.8 0.8 0 1 0 1.6 0a0.8 0.8 0 1 0 -1.6 0M863.0 206.5a0.8 0.8 0 1 0 1.6 0a0.8 0.8 0 1 0 -1.6 0M858.7 225.2a0.8 0.8 0 1 0 1.6 0a0.8 0.8 0 1 0 -1.6 0M871.7 148.5a0.8 0.8 0 1 0 1.6 0a0.8 0.8 0 1 0 -1.6 0M394.4 400.8a0.8 0.8 0 1 0 1.6 0a0.8 0.8 0 1 0 -1.6 0M404.4 398.2a0.8 0.8 0 1 0 1.6 0a0.8 0.8 0 1 0 -1.6 0M418.2 415.8a0.8 0.8 0 1 0 1.6 0a0.8 0.8 0 1 0 -1.6 0M421.9 417.0a0.8 0.8 0 1 0 1.6 0a0.8 0.8 0 1 0 -1.6 0M443.2 418.2a0.8 0.8 0 1 0 1.6 0a0.8 0.8 0 1 0 -1.6 0M444.4 427.0a0.8 0.8 0 1 0 1.6 0a0.8 0.8 0 1 0 -1.6 0M458.2 415.8a0.8 0.8 0 1 0 1.6 0a0.8 0.8 0 1 0 -1.6 0M460.7 417.0a0.8 0.8 0 1 0 1.6 0a0.8 0.8 0 1 0 -1.6 0M479.4 420.8a0.8 0.8 0 1 0 1.6 0a0.8 0.8 0 1 0 -1.6 0M481.9 424.5a0.8 0.8 0 1 0 1.6 0a0.8 0.8 0 1 0 -1.6 0M360.7 582.0a0.8 0.8 0 1 0 1.6 0a0.8 0.8 0 1 0 -1.6 0M279.4 624.5a0.8 0.8 0 1 0 1.6 0a0.8 0.8 0 1 0 -1.6 0M401.9 648.2a0.8 0.8 0 1 0 1.6 0a0.8 0.8 0 1 0 -1.6 0M455.7 589.5a0.8 0.8 0 1 0 1.6 0a0.8 0.8 0 1 0 -1.6 0M454.4 594.5a0.8 0.8 0 1 0 1.6 0a0.8 0.8 0 1 0 -1.6 0M221.9 451.5a0.8 0.8 0 1 0 1.6 0a0.8 0.8 0 1 0 -1.6 0M95.7 525.8a0.8 0.8 0 1 0 1.6 0a0.8 0.8 0 1 0 -1.6 0M87.0 542.0a0.8 0.8 0 1 0 1.6 0a0.8 0.8 0 1 0 -1.6 0M135.7 564.5a0.8 0.8 0 1 0 1.6 0a0.8 0.8 0 1 0 -1.6 0M138.2 569.5a0.8 0.8 0 1 0 1.6 0a0.8 0.8 0 1 0 -1.6 0M131.9 585.8a0.8 0.8 0 1 0 1.6 0a0.8 0.8 0 1 0 -1.6 0M504.4 545.8a0.8 0.8 0 1 0 1.6 0a0.8 0.8 0 1 0 -1.6 0M493.2 607.0a0.8 0.8 0 1 0 1.6 0a0.8 0.8 0 1 0 -1.6 0M494.4 620.8a0.8 0.8 0 1 0 1.6 0a0.8 0.8 0 1 0 -1.6 0M500.7 642.0a0.8 0.8 0 1 0 1.6 0a0.8 0.8 0 1 0 -1.6 0M499.4 654.5a0.8 0.8 0 1 0 1.6 0a0.8 0.8 0 1 0 -1.6 0M494.4 674.5a0.8 0.8 0 1 0 1.6 0a0.8 0.8 0 1 0 -1.6 0M500.7 683.2a0.8 0.8 0 1 0 1.6 0a0.8 0.8 0 1 0 -1.6 0M503.2 687.0a0.8 0.8 0 1 0 1.6 0a0.8 0.8 0 1 0 -1.6 0M346.9 443.2a0.8 0.8 0 1 0 1.6 0a0.8 0.8 0 1 0 -1.6 0M393.2 484.5a0.8 0.8 0 1 0 1.6 0a0.8 0.8 0 1 0 -1.6 0M328.2 479.5a0.8 0.8 0 1 0 1.6 0a0.8 0.8 0 1 0 -1.6 0M258.2 642.0a0.8 0.8 0 1 0 1.6 0a0.8 0.8 0 1 0 -1.6 0M233.2 639.5a0.8 0.8 0 1 0 1.6 0a0.8 0.8 0 1 0 -1.6 0M265.7 674.5a0.8 0.8 0 1 0 1.6 0a0.8 0.8 0 1 0 -1.6 0M506.9 474.5a0.8 0.8 0 1 0 1.6 0a0.8 0.8 0 1 0 -1.6 0M624.0 406.5a0.8 0.8 0 1 0 1.6 0a0.8 0.8 0 1 0 -1.6 0M650.2 413.2a0.8 0.8 0 1 0 1.6 0a0.8 0.8 0 1 0 -1.6 0M644.7 425.0a0.8 0.8 0 1 0 1.6 0a0.8 0.8 0 1 0 -1.6 0M654.0 432.8a0.8 0.8 0 1 0 1.6 0a0.8 0.8 0 1 0 -1.6 0M662.7 434.0a0.8 0.8 0 1 0 1.6 0a0.8 0.8 0 1 0 -1.6 0M659.0 440.8a0.8 0.8 0 1 0 1.6 0a0.8 0.8 0 1 0 -1.6 0M646.5 453.2a0.8 0.8 0 1 0 1.6 0a0.8 0.8 0 1 0 -1.6 0M652.7 453.2a0.8 0.8 0 1 0 1.6 0a0.8 0.8 0 1 0 -1.6 0M649.0 459.0a0.8 0.8 0 1 0 1.6 0a0.8 0.8 0 1 0 -1.6 0M647.7 463.2a0.8 0.8 0 1 0 1.6 0a0.8 0.8 0 1 0 -1.6 0M640.2 469.5a0.8 0.8 0 1 0 1.6 0a0.8 0.8 0 1 0 -1.6 0M636.0 477.5a0.8 0.8 0 1 0 1.6 0a0.8 0.8 0 1 0 -1.6 0M655.2 487.8a0.8 0.8 0 1 0 1.6 0a0.8 0.8 0 1 0 -1.6 0M621.5 497.8a0.8 0.8 0 1 0 1.6 0a0.8 0.8 0 1 0 -1.6 0M635.2 499.5a0.8 0.8 0 1 0 1.6 0a0.8 0.8 0 1 0 -1.6 0M628.2 508.2a0.8 0.8 0 1 0 1.6 0a0.8 0.8 0 1 0 -1.6 0M616.5 515.8a0.8 0.8 0 1 0 1.6 0a0.8 0.8 0 1 0 -1.6 0M625.2 515.0a0.8 0.8 0 1 0 1.6 0a0.8 0.8 0 1 0 -1.6 0M602.7 525.8a0.8 0.8 0 1 0 1.6 0a0.8 0.8 0 1 0 -1.6 0M601.5 529.5a0.8 0.8 0 1 0 1.6 0a0.8 0.8 0 1 0 -1.6 0M592.7 530.0a0.8 0.8 0 1 0 1.6 0a0.8 0.8 0 1 0 -1.6 0M595.2 531.0a0.8 0.8 0 1 0 1.6 0a0.8 0.8 0 1 0 -1.6 0M532.7 542.0a0.8 0.8 0 1 0 1.6 0a0.8 0.8 0 1 0 -1.6 0M679.0 540.8a0.8 0.8 0 1 0 1.6 0a0.8 0.8 0 1 0 -1.6 0M677.7 570.0a0.8 0.8 0 1 0 1.6 0a0.8 0.8 0 1 0 -1.6 0M554.0 564.5a0.8 0.8 0 1 0 1.6 0a0.8 0.8 0 1 0 -1.6 0M522.2 570.5a0.8 0.8 0 1 0 1.6 0a0.8 0.8 0 1 0 -1.6 0M536.5 578.2a0.8 0.8 0 1 0 1.6 0a0.8 0.8 0 1 0 -1.6 0M841.5 397.0a0.8 0.8 0 1 0 1.6 0a0.8 0.8 0 1 0 -1.6 0M851.5 440.8a0.8 0.8 0 1 0 1.6 0a0.8 0.8 0 1 0 -1.6 0M886.5 502.0a0.8 0.8 0 1 0 1.6 0a0.8 0.8 0 1 0 -1.6 0M887.7 514.5a0.8 0.8 0 1 0 1.6 0a0.8 0.8 0 1 0 -1.6 0M887.2 524.5a0.8 0.8 0 1 0 1.6 0a0.8 0.8 0 1 0 -1.6 0M870.2 550.0a0.8 0.8 0 1 0 1.6 0a0.8 0.8 0 1 0 -1.6 0M870.7 564.0a0.8 0.8 0 1 0 1.6 0a0.8 0.8 0 1 0 -1.6 0M873.2 575.8a0.8 0.8 0 1 0 1.6 0a0.8 0.8 0 1 0 -1.6 0M939.0 651.5a0.8 0.8 0 1 0 1.6 0a0.8 0.8 0 1 0 -1.6 0M945.2 661.5a0.8 0.8 0 1 0 1.6 0a0.8 0.8 0 1 0 -1.6 0M948.5 669.0a0.8 0.8 0 1 0 1.6 0a0.8 0.8 0 1 0 -1.6 0M953.5 687.0a0.8 0.8 0 1 0 1.6 0a0.8 0.8 0 1 0 -1.6 0M520.2 442.0a0.8 0.8 0 1 0 1.6 0a0.8 0.8 0 1 0 -1.6 0M631.5 393.2a0.8 0.8 0 1 0 1.6 0a0.8 0.8 0 1 0 -1.6 0M651.5 411.5a0.8 0.8 0 1 0 1.6 0a0.8 0.8 0 1 0 -1.6 0M649.0 414.5a0.8 0.8 0 1 0 1.6 0a0.8 0.8 0 1 0 -1.6 0M604.0 534.0a0.8 0.8 0 1 0 1.6 0a0.8 0.8 0 1 0 -1.6 0M532.7 577.0a0.8 0.8 0 1 0 1.6 0a0.8 0.8 0 1 0 -1.6 0M88.2 747.5a0.8 0.8 0 1 0 1.6 0a0.8 0.8 0 1 0 -1.6 0M129.4 726.2a0.8 0.8 0 1 0 1.6 0a0.8 0.8 0 1 0 -1.6 0M131.9 728.8a0.8 0.8 0 1 0 1.6 0a0.8 0.8 0 1 0 -1.6 0M149.4 728.8a0.8 0.8 0 1 0 1.6 0a0.8 0.8 0 1 0 -1.6 0M163.2 718.8a0.8 0.8 0 1 0 1.6 0a0.8 0.8 0 1 0 -1.6 0M223.2 718.8a0.8 0.8 0 1 0 1.6 0a0.8 0.8 0 1 0 -1.6 0M243.2 743.8a0.8 0.8 0 1 0 1.6 0a0.8 0.8 0 1 0 -1.6 0M256.9 753.8a0.8 0.8 0 1 0 1.6 0a0.8 0.8 0 1 0 -1.6 0M248.2 822.5a0.8 0.8 0 1 0 1.6 0a0.8 0.8 0 1 0 -1.6 0M254.4 850.0a0.8 0.8 0 1 0 1.6 0a0.8 0.8 0 1 0 -1.6 0M296.9 746.2a0.8 0.8 0 1 0 1.6 0a0.8 0.8 0 1 0 -1.6 0M303.2 733.8a0.8 0.8 0 1 0 1.6 0a0.8 0.8 0 1 0 -1.6 0M306.9 741.2a0.8 0.8 0 1 0 1.6 0a0.8 0.8 0 1 0 -1.6 0M318.2 723.8a0.8 0.8 0 1 0 1.6 0a0.8 0.8 0 1 0 -1.6 0M325.7 728.8a0.8 0.8 0 1 0 1.6 0a0.8 0.8 0 1 0 -1.6 0M355.7 839.5a0.8 0.8 0 1 0 1.6 0a0.8 0.8 0 1 0 -1.6 0M360.7 845.0a0.8 0.8 0 1 0 1.6 0a0.8 0.8 0 1 0 -1.6 0M359.4 852.5a0.8 0.8 0 1 0 1.6 0a0.8 0.8 0 1 0 -1.6 0M356.9 855.0a0.8 0.8 0 1 0 1.6 0a0.8 0.8 0 1 0 -1.6 0M354.4 865.0a0.8 0.8 0 1 0 1.6 0a0.8 0.8 0 1 0 -1.6 0M369.4 838.8a0.8 0.8 0 1 0 1.6 0a0.8 0.8 0 1 0 -1.6 0M376.9 871.2a0.8 0.8 0 1 0 1.6 0a0.8 0.8 0 1 0 -1.6 0M373.2 891.2a0.8 0.8 0 1 0 1.6 0a0.8 0.8 0 1 0 -1.6 0M394.4 922.5a0.8 0.8 0 1 0 1.6 0a0.8 0.8 0 1 0 -1.6 0M380.7 932.5a0.8 0.8 0 1 0 1.6 0a0.8 0.8 0 1 0 -1.6 0M435.7 916.2a0.8 0.8 0 1 0 1.6 0a0.8 0.8 0 1 0 -1.6 0M480.7 873.8a0.8 0.8 0 1 0 1.6 0a0.8 0.8 0 1 0 -1.6 0M486.9 867.5a0.8 0.8 0 1 0 1.6 0a0.8 0.8 0 1 0 -1.6 0M458.2 940.0a0.8 0.8 0 1 0 1.6 0a0.8 0.8 0 1 0 -1.6 0M464.4 938.8a0.8 0.8 0 1 0 1.6 0a0.8 0.8 0 1 0 -1.6 0M453.2 962.5a0.8 0.8 0 1 0 1.6 0a0.8 0.8 0 1 0 -1.6 0M450.7 957.5a0.8 0.8 0 1 0 1.6 0a0.8 0.8 0 1 0 -1.6 0M369.4 998.8a0.8 0.8 0 1 0 1.6 0a0.8 0.8 0 1 0 -1.6 0M403.2 958.8a0.8 0.8 0 1 0 1.6 0a0.8 0.8 0 1 0 -1.6 0M411.9 955.0a0.8 0.8 0 1 0 1.6 0a0.8 0.8 0 1 0 -1.6 0M150.7 872.5a0.8 0.8 0 1 0 1.6 0a0.8 0.8 0 1 0 -1.6 0M139.4 853.8a0.8 0.8 0 1 0 1.6 0a0.8 0.8 0 1 0 -1.6 0M143.2 852.5a0.8 0.8 0 1 0 1.6 0a0.8 0.8 0 1 0 -1.6 0M170.7 865.0a0.8 0.8 0 1 0 1.6 0a0.8 0.8 0 1 0 -1.6 0M98.2 891.2a0.8 0.8 0 1 0 1.6 0a0.8 0.8 0 1 0 -1.6 0M119.5 911.2a0.8 0.8 0 1 0 1.6 0a0.8 0.8 0 1 0 -1.6 0M154.4 958.8a0.8 0.8 0 1 0 1.6 0a0.8 0.8 0 1 0 -1.6 0M139.4 941.2a0.8 0.8 0 1 0 1.6 0a0.8 0.8 0 1 0 -1.6 0M140.7 943.8a0.8 0.8 0 1 0 1.6 0a0.8 0.8 0 1 0 -1.6 0M235.7 960.0a0.8 0.8 0 1 0 1.6 0a0.8 0.8 0 1 0 -1.6 0M231.9 965.0a0.8 0.8 0 1 0 1.6 0a0.8 0.8 0 1 0 -1.6 0M230.7 993.8a0.8 0.8 0 1 0 1.6 0a0.8 0.8 0 1 0 -1.6 0M251.9 993.8a0.8 0.8 0 1 0 1.6 0a0.8 0.8 0 1 0 -1.6 0M193.2 992.5a0.8 0.8 0 1 0 1.6 0a0.8 0.8 0 1 0 -1.6 0M200.7 988.8a0.8 0.8 0 1 0 1.6 0a0.8 0.8 0 1 0 -1.6 0M205.7 990.0a0.8 0.8 0 1 0 1.6 0a0.8 0.8 0 1 0 -1.6 0M198.2 995.0a0.8 0.8 0 1 0 1.6 0a0.8 0.8 0 1 0 -1.6 0M87.0 902.5a0.8 0.8 0 1 0 1.6 0a0.8 0.8 0 1 0 -1.6 0M93.2 947.5a0.8 0.8 0 1 0 1.6 0a0.8 0.8 0 1 0 -1.6 0M119.5 911.2a0.8 0.8 0 1 0 1.6 0a0.8 0.8 0 1 0 -1.6 0M135.7 938.8a0.8 0.8 0 1 0 1.6 0a0.8 0.8 0 1 0 -1.6 0M140.7 942.5a0.8 0.8 0 1 0 1.6 0a0.8 0.8 0 1 0 -1.6 0M153.2 958.8a0.8 0.8 0 1 0 1.6 0a0.8 0.8 0 1 0 -1.6 0M94.5 996.2a0.8 0.8 0 1 0 1.6 0a0.8 0.8 0 1 0 -1.6 0M114.5 1028.8a0.8 0.8 0 1 0 1.6 0a0.8 0.8 0 1 0 -1.6 0M125.7 1038.8a0.8 0.8 0 1 0 1.6 0a0.8 0.8 0 1 0 -1.6 0M231.9 993.8a0.8 0.8 0 1 0 1.6 0a0.8 0.8 0 1 0 -1.6 0M235.7 960.0a0.8 0.8 0 1 0 1.6 0a0.8 0.8 0 1 0 -1.6 0M230.7 965.0a0.8 0.8 0 1 0 1.6 0a0.8 0.8 0 1 0 -1.6 0M223.2 1031.2a0.8 0.8 0 1 0 1.6 0a0.8 0.8 0 1 0 -1.6 0M218.2 1040.0a0.8 0.8 0 1 0 1.6 0a0.8 0.8 0 1 0 -1.6 0M313.2 1035.0a0.8 0.8 0 1 0 1.6 0a0.8 0.8 0 1 0 -1.6 0M438.2 1008.8a0.8 0.8 0 1 0 1.6 0a0.8 0.8 0 1 0 -1.6 0M435.7 916.2a0.8 0.8 0 1 0 1.6 0a0.8 0.8 0 1 0 -1.6 0M380.7 932.5a0.8 0.8 0 1 0 1.6 0a0.8 0.8 0 1 0 -1.6 0M394.4 922.5a0.8 0.8 0 1 0 1.6 0a0.8 0.8 0 1 0 -1.6 0M458.2 940.0a0.8 0.8 0 1 0 1.6 0a0.8 0.8 0 1 0 -1.6 0M453.2 960.0a0.8 0.8 0 1 0 1.6 0a0.8 0.8 0 1 0 -1.6 0M464.4 938.8a0.8 0.8 0 1 0 1.6 0a0.8 0.8 0 1 0 -1.6 0M443.2 1015.0a0.8 0.8 0 1 0 1.6 0a0.8 0.8 0 1 0 -1.6 0M214.4 1028.8a0.8 0.8 0 1 0 1.6 0a0.8 0.8 0 1 0 -1.6 0M220.7 1049.5a0.8 0.8 0 1 0 1.6 0a0.8 0.8 0 1 0 -1.6 0M235.7 1047.5a0.8 0.8 0 1 0 1.6 0a0.8 0.8 0 1 0 -1.6 0M248.2 1036.2a0.8 0.8 0 1 0 1.6 0a0.8 0.8 0 1 0 -1.6 0M567.7 947.5a0.8 0.8 0 1 0 1.6 0a0.8 0.8 0 1 0 -1.6 0M569.0 961.2a0.8 0.8 0 1 0 1.6 0a0.8 0.8 0 1 0 -1.6 0M566.5 970.0a0.8 0.8 0 1 0 1.6 0a0.8 0.8 0 1 0 -1.6 0M567.7 976.2a0.8 0.8 0 1 0 1.6 0a0.8 0.8 0 1 0 -1.6 0M570.2 982.5a0.8 0.8 0 1 0 1.6 0a0.8 0.8 0 1 0 -1.6 0M569.0 990.0a0.8 0.8 0 1 0 1.6 0a0.8 0.8 0 1 0 -1.6 0M567.7 998.8a0.8 0.8 0 1 0 1.6 0a0.8 0.8 0 1 0 -1.6 0M566.5 1005.0a0.8 0.8 0 1 0 1.6 0a0.8 0.8 0 1 0 -1.6 0M566.5 1010.0a0.8 0.8 0 1 0 1.6 0a0.8 0.8 0 1 0 -1.6 0M600.2 961.2a0.8 0.8 0 1 0 1.6 0a0.8 0.8 0 1 0 -1.6 0M586.5 1026.2a0.8 0.8 0 1 0 1.6 0a0.8 0.8 0 1 0 -1.6 0M581.5 1032.5a0.8 0.8 0 1 0 1.6 0a0.8 0.8 0 1 0 -1.6 0M590.2 945.0a0.8 0.8 0 1 0 1.6 0a0.8 0.8 0 1 0 -1.6 0M697.7 949.5a0.8 0.8 0 1 0 1.6 0a0.8 0.8 0 1 0 -1.6 0M692.7 962.5a0.8 0.8 0 1 0 1.6 0a0.8 0.8 0 1 0 -1.6 0M699.0 968.8a0.8 0.8 0 1 0 1.6 0a0.8 0.8 0 1 0 -1.6 0M679.0 1031.2a0.8 0.8 0 1 0 1.6 0a0.8 0.8 0 1 0 -1.6 0M676.5 1042.5a0.8 0.8 0 1 0 1.6 0a0.8 0.8 0 1 0 -1.6 0M652.7 1045.0a0.8 0.8 0 1 0 1.6 0a0.8 0.8 0 1 0 -1.6 0M657.7 1048.8a0.8 0.8 0 1 0 1.6 0a0.8 0.8 0 1 0 -1.6 0M671.5 1051.2a0.8 0.8 0 1 0 1.6 0a0.8 0.8 0 1 0 -1.6 0M637.7 1037.5a0.8 0.8 0 1 0 1.6 0a0.8 0.8 0 1 0 -1.6 0M745.2 897.0a0.8 0.8 0 1 0 1.6 0a0.8 0.8 0 1 0 -1.6 0M853.2 895.5a0.8 0.8 0 1 0 1.6 0a0.8 0.8 0 1 0 -1.6 0M920.2 911.2a0.8 0.8 0 1 0 1.6 0a0.8 0.8 0 1 0 -1.6 0M930.2 912.5a0.8 0.8 0 1 0 1.6 0a0.8 0.8 0 1 0 -1.6 0M555.2 922.5a0.8 0.8 0 1 0 1.6 0a0.8 0.8 0 1 0 -1.6 0M556.5 932.5a0.8 0.8 0 1 0 1.6 0a0.8 0.8 0 1 0 -1.6 0M557.7 937.5a0.8 0.8 0 1 0 1.6 0a0.8 0.8 0 1 0 -1.6 0M979.5 910.8a0.8 0.8 0 1 0 1.6 0a0.8 0.8 0 1 0 -1.6 0M1020.5 910.8a0.8 0.8 0 1 0 1.6 0a0.8 0.8 0 1 0 -1.6 0M1024.2 906.3a0.8 0.8 0 1 0 1.6 0a0.8 0.8 0 1 0 -1.6 0M1029.8 886.6a0.8 0.8 0 1 0 1.6 0a0.8 0.8 0 1 0 -1.6 0M1039.1 879.1a0.8 0.8 0 1 0 1.6 0a0.8 0.8 0 1 0 -1.6 0M1042.1 882.8a0.8 0.8 0 1 0 1.6 0a0.8 0.8 0 1 0 -1.6 0M1061.5 886.6a0.8 0.8 0 1 0 1.6 0a0.8 0.8 0 1 0 -1.6 0M1070.8 887.3a0.8 0.8 0 1 0 1.6 0a0.8 0.8 0 1 0 -1.6 0M1078.2 886.6a0.8 0.8 0 1 0 1.6 0a0.8 0.8 0 1 0 -1.6 0M1067.1 910.0a0.8 0.8 0 1 0 1.6 0a0.8 0.8 0 1 0 -1.6 0M1070.8 911.5a0.8 0.8 0 1 0 1.6 0a0.8 0.8 0 1 0 -1.6 0M1085.7 918.2a0.8 0.8 0 1 0 1.6 0a0.8 0.8 0 1 0 -1.6 0M1117.3 895.9a0.8 0.8 0 1 0 1.6 0a0.8 0.8 0 1 0 -1.6 0M1095.7 938.0a0.8 0.8 0 1 0 1.6 0a0.8 0.8 0 1 0 -1.6 0M1106.2 948.0a0.8 0.8 0 1 0 1.6 0a0.8 0.8 0 1 0 -1.6 0M1131.5 977.8a0.8 0.8 0 1 0 1.6 0a0.8 0.8 0 1 0 -1.6 0M1127.4 1031.8a0.8 0.8 0 1 0 1.6 0a0.8 0.8 0 1 0 -1.6 0M1173.2 939.8a0.8 0.8 0 1 0 1.6 0a0.8 0.8 0 1 0 -1.6 0M1176.9 939.8a0.8 0.8 0 1 0 1.6 0a0.8 0.8 0 1 0 -1.6 0M1185.1 917.1a0.8 0.8 0 1 0 1.6 0a0.8 0.8 0 1 0 -1.6 0M1191.1 920.1a0.8 0.8 0 1 0 1.6 0a0.8 0.8 0 1 0 -1.6 0M1193.7 919.0a0.8 0.8 0 1 0 1.6 0a0.8 0.8 0 1 0 -1.6 0M1222.7 923.8a0.8 0.8 0 1 0 1.6 0a0.8 0.8 0 1 0 -1.6 0M1245.1 864.2a0.8 0.8 0 1 0 1.6 0a0.8 0.8 0 1 0 -1.6 0M1240.3 932.4a0.8 0.8 0 1 0 1.6 0a0.8 0.8 0 1 0 -1.6 0M1283.5 949.5a0.8 0.8 0 1 0 1.6 0a0.8 0.8 0 1 0 -1.6 0M1340.8 856.8a0.8 0.8 0 1 0 1.6 0a0.8 0.8 0 1 0 -1.6 0M1331.5 875.4a0.8 0.8 0 1 0 1.6 0a0.8 0.8 0 1 0 -1.6 0M1337.1 880.2a0.8 0.8 0 1 0 1.6 0a0.8 0.8 0 1 0 -1.6 0M1346.4 880.2a0.8 0.8 0 1 0 1.6 0a0.8 0.8 0 1 0 -1.6 0M1357.6 872.8a0.8 0.8 0 1 0 1.6 0a0.8 0.8 0 1 0 -1.6 0M1363.2 872.8a0.8 0.8 0 1 0 1.6 0a0.8 0.8 0 1 0 -1.6 0M1366.9 875.4a0.8 0.8 0 1 0 1.6 0a0.8 0.8 0 1 0 -1.6 0M1370.6 879.1a0.8 0.8 0 1 0 1.6 0a0.8 0.8 0 1 0 -1.6 0M1373.6 883.9a0.8 0.8 0 1 0 1.6 0a0.8 0.8 0 1 0 -1.6 0M1368.0 892.1a0.8 0.8 0 1 0 1.6 0a0.8 0.8 0 1 0 -1.6 0M1379.9 895.9a0.8 0.8 0 1 0 1.6 0a0.8 0.8 0 1 0 -1.6 0M1383.6 901.5a0.8 0.8 0 1 0 1.6 0a0.8 0.8 0 1 0 -1.6 0M1393.0 908.9a0.8 0.8 0 1 0 1.6 0a0.8 0.8 0 1 0 -1.6 0M1396.7 906.3a0.8 0.8 0 1 0 1.6 0a0.8 0.8 0 1 0 -1.6 0M1400.4 860.5a0.8 0.8 0 1 0 1.6 0a0.8 0.8 0 1 0 -1.6 0M1404.1 862.3a0.8 0.8 0 1 0 1.6 0a0.8 0.8 0 1 0 -1.6 0M1407.9 858.6a0.8 0.8 0 1 0 1.6 0a0.8 0.8 0 1 0 -1.6 0M1417.2 851.2a0.8 0.8 0 1 0 1.6 0a0.8 0.8 0 1 0 -1.6 0M1417.2 869.8a0.8 0.8 0 1 0 1.6 0a0.8 0.8 0 1 0 -1.6 0M1419.0 877.2a0.8 0.8 0 1 0 1.6 0a0.8 0.8 0 1 0 -1.6 0M1433.9 854.9a0.8 0.8 0 1 0 1.6 0a0.8 0.8 0 1 0 -1.6 0M1435.8 882.8a0.8 0.8 0 1 0 1.6 0a0.8 0.8 0 1 0 -1.6 0M1439.5 886.6a0.8 0.8 0 1 0 1.6 0a0.8 0.8 0 1 0 -1.6 0M1440.6 894.0a0.8 0.8 0 1 0 1.6 0a0.8 0.8 0 1 0 -1.6 0M1437.6 914.5a0.8 0.8 0 1 0 1.6 0a0.8 0.8 0 1 0 -1.6 0M1445.1 916.4a0.8 0.8 0 1 0 1.6 0a0.8 0.8 0 1 0 -1.6 0M1452.5 914.5a0.8 0.8 0 1 0 1.6 0a0.8 0.8 0 1 0 -1.6 0M1450.7 933.1a0.8 0.8 0 1 0 1.6 0a0.8 0.8 0 1 0 -1.6 0M1456.3 936.1a0.8 0.8 0 1 0 1.6 0a0.8 0.8 0 1 0 -1.6 0M1409.0 936.1a0.8 0.8 0 1 0 1.6 0a0.8 0.8 0 1 0 -1.6 0M1410.8 939.8a0.8 0.8 0 1 0 1.6 0a0.8 0.8 0 1 0 -1.6 0M1400.4 943.5a0.8 0.8 0 1 0 1.6 0a0.8 0.8 0 1 0 -1.6 0M1381.8 944.3a0.8 0.8 0 1 0 1.6 0a0.8 0.8 0 1 0 -1.6 0M1393.0 962.9a0.8 0.8 0 1 0 1.6 0a0.8 0.8 0 1 0 -1.6 0M1470.4 989.7a0.8 0.8 0 1 0 1.6 0a0.8 0.8 0 1 0 -1.6 0M1473.0 992.0a0.8 0.8 0 1 0 1.6 0a0.8 0.8 0 1 0 -1.6 0M1473.0 1015.0a0.8 0.8 0 1 0 1.6 0a0.8 0.8 0 1 0 -1.6 0M1475.6 1022.5a0.8 0.8 0 1 0 1.6 0a0.8 0.8 0 1 0 -1.6 0M1480.5 1013.2a0.8 0.8 0 1 0 1.6 0a0.8 0.8 0 1 0 -1.6 0M1474.9 1032.9a0.8 0.8 0 1 0 1.6 0a0.8 0.8 0 1 0 -1.6 0M1482.3 1046.7a0.8 0.8 0 1 0 1.6 0a0.8 0.8 0 1 0 -1.6 0M1486.1 1047.8a0.8 0.8 0 1 0 1.6 0a0.8 0.8 0 1 0 -1.6 0M1491.7 1044.1a0.8 0.8 0 1 0 1.6 0a0.8 0.8 0 1 0 -1.6 0M676.5 343.1a0.8 0.8 0 1 0 1.6 0a0.8 0.8 0 1 0 -1.6 0M657.2 355.8a0.8 0.8 0 1 0 1.6 0a0.8 0.8 0 1 0 -1.6 0M623.7 406.4a0.8 0.8 0 1 0 1.6 0a0.8 0.8 0 1 0 -1.6 0M644.6 424.9a0.8 0.8 0 1 0 1.6 0a0.8 0.8 0 1 0 -1.6 0M809.7 314.1a0.8 0.8 0 1 0 1.6 0a0.8 0.8 0 1 0 -1.6 0M834.2 343.9a0.8 0.8 0 1 0 1.6 0a0.8 0.8 0 1 0 -1.6 0M831.2 352.1a0.8 0.8 0 1 0 1.6 0a0.8 0.8 0 1 0 -1.6 0M829.8 356.5a0.8 0.8 0 1 0 1.6 0a0.8 0.8 0 1 0 -1.6 0M836.4 359.5a0.8 0.8 0 1 0 1.6 0a0.8 0.8 0 1 0 -1.6 0M837.9 364.7a0.8 0.8 0 1 0 1.6 0a0.8 0.8 0 1 0 -1.6 0M840.9 381.8a0.8 0.8 0 1 0 1.6 0a0.8 0.8 0 1 0 -1.6 0M840.9 396.7a0.8 0.8 0 1 0 1.6 0a0.8 0.8 0 1 0 -1.6 0M650.5 413.0a0.8 0.8 0 1 0 1.6 0a0.8 0.8 0 1 0 -1.6 0M652.0 410.8a0.8 0.8 0 1 0 1.6 0a0.8 0.8 0 1 0 -1.6 0M1112.0 574.0a0.8 0.8 0 1 0 1.6 0a0.8 0.8 0 1 0 -1.6 0M1353.0 676.4a0.8 0.8 0 1 0 1.6 0a0.8 0.8 0 1 0 -1.6 0M1397.9 769.6a0.8 0.8 0 1 0 1.6 0a0.8 0.8 0 1 0 -1.6 0M1269.9 830.0a0.8 0.8 0 1 0 1.6 0a0.8 0.8 0 1 0 -1.6 0M1330.2 829.0a0.8 0.8 0 1 0 1.6 0a0.8 0.8 0 1 0 -1.6 0M1353.7 837.0a0.8 0.8 0 1 0 1.6 0a0.8 0.8 0 1 0 -1.6 0M1368.8 833.0a0.8 0.8 0 1 0 1.6 0a0.8 0.8 0 1 0 -1.6 0M1414.2 835.7a0.8 0.8 0 1 0 1.6 0a0.8 0.8 0 1 0 -1.6 0M501.7 671.6a0.8 0.8 0 1 0 1.6 0a0.8 0.8 0 1 0 -1.6 0M492.0 674.6a0.8 0.8 0 1 0 1.6 0a0.8 0.8 0 1 0 -1.6 0M500.2 684.3a0.8 0.8 0 1 0 1.6 0a0.8 0.8 0 1 0 -1.6 0M503.2 662.0a0.8 0.8 0 1 0 1.6 0a0.8 0.8 0 1 0 -1.6 0M496.5 696.9a0.8 0.8 0 1 0 1.6 0a0.8 0.8 0 1 0 -1.6 0M503.2 772.8a0.8 0.8 0 1 0 1.6 0a0.8 0.8 0 1 0 -1.6 0M483.8 778.7a0.8 0.8 0 1 0 1.6 0a0.8 0.8 0 1 0 -1.6 0M473.4 780.2a0.8 0.8 0 1 0 1.6 0a0.8 0.8 0 1 0 -1.6 0M468.9 787.7a0.8 0.8 0 1 0 1.6 0a0.8 0.8 0 1 0 -1.6 0M503.2 793.6a0.8 0.8 0 1 0 1.6 0a0.8 0.8 0 1 0 -1.6 0M497.2 802.5a0.8 0.8 0 1 0 1.6 0a0.8 0.8 0 1 0 -1.6 0M504.6 807.0a0.8 0.8 0 1 0 1.6 0a0.8 0.8 0 1 0 -1.6 0M483.8 866.3a0.8 0.8 0 1 0 1.6 0a0.8 0.8 0 1 0 -1.6 0M488.3 867.8a0.8 0.8 0 1 0 1.6 0a0.8 0.8 0 1 0 -1.6 0M480.8 873.7a0.8 0.8 0 1 0 1.6 0a0.8 0.8 0 1 0 -1.6 0M497.2 829.1a0.8 0.8 0 1 0 1.6 0a0.8 0.8 0 1 0 -1.6 0M501.7 803.8a0.8 0.8 0 1 0 1.6 0a0.8 0.8 0 1 0 -1.6 0M513.6 812.7a0.8 0.8 0 1 0 1.6 0a0.8 0.8 0 1 0 -1.6 0M531.4 875.2a0.8 0.8 0 1 0 1.6 0a0.8 0.8 0 1 0 -1.6 0M555.2 875.2a0.8 0.8 0 1 0 1.6 0a0.8 0.8 0 1 0 -1.6 0M546.3 900.5a0.8 0.8 0 1 0 1.6 0a0.8 0.8 0 1 0 -1.6 0M541.8 910.9a0.8 0.8 0 1 0 1.6 0a0.8 0.8 0 1 0 -1.6 0M555.2 918.3a0.8 0.8 0 1 0 1.6 0a0.8 0.8 0 1 0 -1.6 0M556.7 922.8a0.8 0.8 0 1 0 1.6 0a0.8 0.8 0 1 0 -1.6 0M558.2 930.2a0.8 0.8 0 1 0 1.6 0a0.8 0.8 0 1 0 -1.6 0M590.2 945.1a0.8 0.8 0 1 0 1.6 0a0.8 0.8 0 1 0 -1.6 0M567.1 948.1a0.8 0.8 0 1 0 1.6 0a0.8 0.8 0 1 0 -1.6 0M598.4 959.2a0.8 0.8 0 1 0 1.6 0a0.8 0.8 0 1 0 -1.6 0M696.5 949.6a0.8 0.8 0 1 0 1.6 0a0.8 0.8 0 1 0 -1.6 0M472.4 807.8a0.8 0.8 0 1 0 1.6 0a0.8 0.8 0 1 0 -1.6 0M497.2 803.0a0.8 0.8 0 1 0 1.6 0a0.8 0.8 0 1 0 -1.6 0M503.6 803.8a0.8 0.8 0 1 0 1.6 0a0.8 0.8 0 1 0 -1.6 0M501.2 800.6a0.8 0.8 0 1 0 1.6 0a0.8 0.8 0 1 0 -1.6 0M497.2 828.7a0.8 0.8 0 1 0 1.6 0a0.8 0.8 0 1 0 -1.6 0M499.6 831.1a0.8 0.8 0 1 0 1.6 0a0.8 0.8 0 1 0 -1.6 0M488.4 822.3a0.8 0.8 0 1 0 1.6 0a0.8 0.8 0 1 0 -1.6 0M491.6 823.1a0.8 0.8 0 1 0 1.6 0a0.8 0.8 0 1 0 -1.6 0" fill="#000" stroke="#000" stroke-width="0.6"/>
<path d="M828.0 761.5 826.5 760.5 824.5 759.3 822.2 757.8 819.6 756.1 816.7 754.2 813.7 752.0 810.6 749.5 807.4 746.7 804.1 743.5 800.6 739.7 796.9 735.6 793.1 731.3 789.2 726.9 785.3 722.4 781.4 718.1 777.6 714.0 773.8 710.1 769.8 706.3 765.8 702.5 761.9 698.8 758.0 695.1 754.4 691.4 751.0 687.7 748.0 684.0 745.4 680.3 743.1 676.6 741.1 673.0 739.3 669.4 737.7 665.7 736.1 662.0 734.6 658.2 733.0 654.4 731.4 650.4 729.8 646.1 728.2 641.7 726.7 637.3 725.4 633.0 724.2 628.9 723.2 625.1 722.5 621.7 722.0 618.7 721.8 615.9 721.7 613.4 721.8 611.1 722.1 609.0 722.5 607.1 723.2 605.4 724.0 603.8 725.1 602.4 726.4 601.2 728.0 600.3 729.7 599.5 731.6 598.8 733.4 598.2 735.3 597.6 737.0 597.0 738.8 596.4 740.8 595.9 742.8 595.4 744.8 595.0 746.7 594.6 748.4 594.2 749.8 593.8 750.8 593.4 751.3 592.9 751.4 592.5 751.2 592.0 750.8 591.5 750.2 591.0 749.7 590.6 749.2 590.3 749.0 590.0M807.4 758.6 805.2 756.8 802.3 754.5 798.8 751.7 794.9 748.6 790.7 745.2 786.4 741.7 781.9 738.2 777.6 734.8 773.3 731.3 768.9 727.5 764.3 723.5 759.6 719.5 754.7 715.6 749.7 711.8 744.5 708.2 739.0 705.0 733.3 702.2 727.2 699.7 721.0 697.4 714.6 695.2 708.0 693.2 701.5 691.2 694.9 689.2 688.3 687.0 681.6 684.8 674.7 682.7 667.7 680.7 660.6 678.6 653.7 676.5 647.0 674.3 640.7 671.9 634.8 669.3 629.2 666.3 623.8 662.9 618.5 659.3 613.6 655.5 609.0 652.0 605.0 648.7 601.6 646.0 599.0 644.0M840.0 776.0 838.4 769.7 836.2 761.0 833.6 750.5 830.8 739.1 827.8 727.5 824.9 716.7 822.3 707.2 820.0 700.0 818.2 695.0 816.7 691.3 815.5 688.8 814.3 687.1 813.1 685.9 811.6 685.0 809.7 684.0 807.4 682.7 804.3 681.3 800.6 680.1 796.4 679.2 792.1 678.3 787.8 677.5 783.8 676.8 780.3 675.9 777.6 675.0 775.6 673.9 774.2 672.8 773.1 671.7 772.4 670.6 772.0 669.4 771.8 668.3 771.7 667.3 771.7 666.3 771.8 665.3 772.0 664.1 772.3 663.0 772.9 661.9 773.7 660.9 774.7 660.2 776.0 659.9 777.6 660.0 779.5 660.7 781.7 662.1 784.1 663.8 786.9 665.8 789.8 667.8 793.0 669.6 796.4 671.1 800.0 672.0 804.1 672.4 808.7 672.4 813.7 672.1 818.8 671.7 823.9 671.1 828.8 670.4 833.3 669.8 837.1 669.3 840.4 668.8 843.3 668.2 846.0 667.5 848.4 666.9 850.4 666.2 852.2 665.7 853.8 665.2 855.0 664.8M762.8 788.3 761.8 786.5 760.5 784.2 759.0 781.4 757.2 778.3 755.2 774.9 753.0 771.4 750.6 767.9 747.9 764.5 744.9 761.0 741.4 757.3 737.7 753.5 733.8 749.6 729.7 745.7 725.7 741.9 721.8 738.2 718.0 734.8 714.2 731.5 710.2 728.2 706.1 724.9 702.0 721.7 698.2 718.8 694.8 716.3 692.0 714.1 689.8 712.4M800.0 770.0 796.9 768.0 792.8 765.4 787.9 762.2 782.5 758.8 776.8 755.1 770.9 751.5 765.3 748.1 760.0 745.0 755.1 742.2 750.5 739.4 745.9 736.7 741.2 734.1 736.5 731.5 731.4 729.2 726.0 727.0 720.0 725.0 713.4 723.2 706.2 721.5 698.5 719.9 690.6 718.6 682.6 717.4 674.8 716.4 667.2 715.6 660.0 715.0 653.2 714.7 646.6 714.7 640.1 715.0 633.8 715.4 627.6 716.0 621.6 716.7 615.7 717.3 610.0 718.0 604.2 718.7 598.4 719.6 592.5 720.6 586.9 721.7 581.6 722.7 577.0 723.6 573.0 724.4 570.0 725.0M780.0 775.0 776.9 773.8 772.8 772.3 767.9 770.5 762.5 768.4 756.8 766.3 750.9 764.1 745.3 762.0 740.0 760.0 735.1 758.0 730.2 756.0 725.4 753.8 720.6 751.8 715.7 749.7 710.7 747.9 705.5 746.3 700.0 745.0 694.2 744.0 688.2 743.2 682.0 742.6 675.6 742.2 669.2 741.9 662.7 741.8 656.3 741.9 650.0 742.0 643.7 742.3 637.3 742.7 630.8 743.3 624.4 744.1 618.0 744.9 611.8 745.9 605.8 746.9 600.0 748.0 594.5 749.2 589.1 750.4 583.8 751.7 578.8 753.1 573.8 754.7 569.1 756.3 564.5 758.1 560.0 760.0 555.6 762.3 551.1 764.9 546.7 767.8 542.5 770.8 538.6 773.6 535.2 776.2 532.2 778.4 530.0 780.0M790.0 780.0 786.1 779.2 781.0 778.0 774.9 776.5 768.1 775.0 760.9 773.5 753.7 772.0 746.6 770.8 740.0 770.0 733.8 769.5 727.5 769.2 721.2 769.0 715.0 769.1 708.8 769.2 702.5 769.4 696.2 769.7 690.0 770.0 683.7 770.3 677.3 770.7 670.8 771.1 664.4 771.6 658.0 772.2 651.8 772.9 645.8 773.9 640.0 775.0 634.5 776.4 629.1 777.9 623.8 779.7 618.8 781.6 613.8 783.6 609.1 785.7 604.5 787.8 600.0 790.0 595.6 792.4 591.1 795.1 586.7 798.0 582.5 800.9 578.6 803.7 575.2 806.3 572.2 808.4 570.0 810.0M760.0 790.0 756.9 789.5 752.8 788.9 747.9 788.1 742.5 787.2 736.8 786.4 730.9 785.7 725.3 785.2 720.0 785.0 715.0 785.1 710.0 785.4 705.0 785.9 700.0 786.6 695.0 787.3 690.0 788.2 685.0 789.1 680.0 790.0 674.9 790.9 669.8 791.9 664.6 792.9 659.4 794.1 654.3 795.3 649.3 796.7 644.5 798.2 640.0 800.0 635.7 802.0 631.6 804.2 627.6 806.5 623.8 809.1 620.1 811.7 616.6 814.4 613.2 817.2 610.0 820.0 606.9 822.9 603.9 825.9 601.1 829.0 598.4 832.2 596.0 835.4 593.7 838.6 591.7 841.8 590.0 845.0 588.6 848.3 587.6 851.8 586.8 855.5 586.2 859.1 585.8 862.5 585.5 865.5 585.3 868.1 585.0 870.0M770.0 800.0 766.9 799.9 762.8 799.8 757.9 799.6 752.5 799.5 746.8 799.4 740.9 799.4 735.3 799.6 730.0 800.0 725.0 800.6 720.0 801.3 715.0 802.2 710.0 803.2 705.0 804.4 700.0 805.5 695.0 806.8 690.0 808.0 684.9 809.2 679.8 810.4 674.6 811.6 669.4 812.9 664.3 814.4 659.3 816.0 654.5 817.9 650.0 820.0 645.7 822.5 641.6 825.2 637.6 828.2 633.8 831.4 630.1 834.7 626.6 838.1 623.2 841.5 620.0 845.0 617.0 848.5 614.1 852.3 611.3 856.1 608.8 860.0 606.3 863.9 604.1 867.7 602.0 871.5 600.0 875.0 598.2 878.5 596.6 882.2 595.1 885.8 593.8 889.4 592.6 892.7 591.6 895.6 590.7 898.1 590.0 900.0M745.0 805.0 741.5 806.1 736.8 807.6 731.2 809.3 725.0 811.2 718.5 813.3 712.0 815.5 705.7 817.8 700.0 820.0 694.6 822.2 689.2 824.4 683.8 826.7 678.4 829.1 673.3 831.5 668.5 834.2 664.0 837.0 660.0 840.0 656.3 843.3 652.9 846.9 649.7 850.7 646.9 854.7 644.4 858.7 642.4 862.6 640.9 866.4 640.0 870.0 639.7 873.5 639.9 877.1 640.7 880.6 641.9 884.1 643.5 887.3 645.4 890.3 647.6 892.9 650.0 895.0 652.9 896.8 656.3 898.2 660.2 899.4 664.4 900.3 668.6 900.8 672.7 901.0 676.6 900.7 680.0 900.0 683.1 898.6 686.2 896.3 689.1 893.5 691.9 890.3 694.4 887.1 696.6 884.2 698.5 881.7 700.0 880.0M860.0 790.0 858.4 787.8 856.2 784.8 853.5 781.4 850.6 777.5 847.6 773.3 844.8 768.9 842.2 764.4 840.0 760.0 838.3 755.3 836.9 750.2 835.7 744.9 834.7 739.4 833.7 734.0 832.6 728.8 831.4 724.1 830.0 720.0 828.4 716.5 826.8 713.4 825.2 710.6 823.4 708.1 821.6 705.9 819.6 703.8 817.4 701.9 815.0 700.0 812.2 698.2 808.9 696.6 805.3 695.1 801.6 693.8 798.0 692.6 794.7 691.6 792.0 690.7 790.0 690.0M880.0 790.0 878.4 788.5 876.2 786.5 873.5 784.2 870.6 781.6 867.6 778.7 864.8 775.8 862.2 772.9 860.0 770.0 858.3 767.1 856.8 764.0 855.5 760.8 854.4 757.5 853.3 754.2 852.3 751.0 851.2 747.9 850.0 745.0 848.7 742.1 847.3 739.2 845.8 736.3 844.4 733.4 843.0 730.8 841.8 728.5 840.8 726.5 840.0 725.0M760.0 770.0 757.7 767.6 754.6 764.4 750.9 760.5 746.9 756.2 742.6 751.8 738.2 747.5 734.0 743.5 730.0 740.0 726.2 737.0 722.3 734.3 718.3 731.8 714.4 729.4 710.5 727.1 706.8 724.8 703.3 722.4 700.0 720.0 697.0 717.4 694.3 714.8 691.8 712.1 689.4 709.4 687.1 706.8 684.8 704.3 682.4 702.0 680.0 700.0 677.4 698.2 674.5 696.6 671.6 695.1 668.8 693.8 666.0 692.6 663.6 691.6 661.5 690.7 660.0 690.0M775.0 785.4 774.3 785.7 773.4 786.2 772.6 786.7 771.7 787.3 770.7 787.9 769.8 788.6 768.8 789.4 767.9 790.2 766.9 791.1 766.0 792.0 765.2 792.9 764.3 793.9 763.6 794.8 762.9 795.7 762.2 796.6 761.6 797.5 761.1 798.2 760.6 798.9 760.1 799.6 759.6 800.1 759.1 800.5 758.7 800.7 758.1 800.9 757.6 801.0 756.9 801.0 756.2 800.9 755.4 800.7 754.6 800.5 753.6 800.2 752.6 799.9 751.5 799.6 750.3 799.3 749.0 799.0 747.7 798.8 746.4 798.6 745.0 798.4 743.7 798.2 742.4 798.1 741.0 797.9 739.7 797.8 738.4 797.8 737.1 797.7 735.8 797.7 734.5 797.7 733.2 797.7 732.0 797.7 730.7 797.8 729.5 797.8 728.4 797.9 727.2 798.0 726.1 798.1 725.1 798.2 724.0 798.3 723.1 798.4 722.1 798.5 721.2 798.6 720.4 798.7 719.6 798.7 718.8 798.8 718.1 798.8 717.4 798.9 716.7 798.9 716.1 798.8 715.5 798.8 714.9 798.8 714.4 798.7 713.9 798.6 713.3 798.5 712.8 798.4 712.3 798.2 711.9 798.1 711.4 797.9 710.9 797.8 710.4 797.6 710.0 797.4 709.5 797.3 709.1 797.1 708.6 797.0 708.1 796.8 707.7 796.7 707.2 796.5 706.8 796.4 706.3 796.2 705.9 796.1 705.5 796.0 705.1 795.8 704.7 795.7 704.2 795.6 703.8 795.4 703.4 795.3 703.0 795.2 702.6 795.1 702.2 794.9 701.8 794.8 701.4 794.7 701.0 794.6 700.6 794.5 700.2 794.5 699.8 794.4 699.3 794.3 698.9 794.2 698.5 794.1 698.0 794.1 697.5 794.0 697.1 794.0 696.6 793.9 696.1 793.9 695.5 793.8 695.0 793.8 694.4 793.7 693.8 793.7 693.2 793.7 692.6 793.7 691.9 793.6 691.2 793.6 690.4 793.7 689.7 793.7 688.9 793.7 688.0 793.8 687.1 793.8 686.2 793.9 685.2 794.1 684.2 794.2 683.2 794.4 682.1 794.7 681.0 794.9 679.9 795.3 678.8 795.6 677.7 796.0 676.5 796.5 675.4 797.0 674.2 797.6 673.1 798.2 672.0 798.8 670.9 799.5 669.9 800.2 668.9 800.9 668.0 801.7 667.1 802.5 666.2 803.2 665.4 804.0 664.7 804.8 664.0 805.5 663.4 806.3 662.8 806.9 662.2 807.6 661.8 808.2 661.3 808.8 660.9 809.3 660.5 809.7 660.2 810.1 659.8 810.5 659.5 810.8 659.1 811.0 658.8 811.2 658.5 811.3 658.2 811.4 657.8 811.4 657.5 811.4 657.1 811.4 656.7 811.3 656.3 811.3 655.9 811.2 655.5 811.0 655.0 810.9 654.5 810.7 654.0 810.6 653.4 810.4 652.9 810.2 652.3 810.0 651.7 809.8 651.0 809.6 650.4 809.5 649.7 809.3 649.0 809.1 648.4 809.0 647.6 808.8 646.9 808.7 646.2 808.6 645.5 808.5 644.8 808.4 644.1 808.3 643.4 808.3 642.7 808.3 642.0 808.2 641.3 808.2 640.6 808.2 640.0 808.2 639.3 808.3 638.7 808.3 638.1 808.3 637.6 808.4 637.0 808.5 636.5 808.5 636.0 808.6 635.5 808.7 635.0 808.8 634.6 808.9 634.2 808.9M767.2 796.2 764.7 796.1 761.5 795.9 757.6 795.7 753.3 795.5 748.8 795.3 744.3 795.2 740.0 795.1 736.2 795.2 732.8 795.4 729.5 795.6 726.3 795.9 723.2 796.2 720.1 796.7 717.1 797.3 714.1 798.1 711.1 799.1 708.2 800.4 705.2 802.0 702.3 803.9 699.4 805.9 696.5 807.9 693.8 809.9 691.1 811.8 688.5 813.4 686.2 815.0 684.1 816.8 682.1 818.5 680.2 820.2 678.2 821.6 676.1 822.6 673.6 823.0 670.8 822.8 667.3 821.7 663.1 819.6 658.5 817.0 653.8 813.9 649.3 810.8 645.1 808.0 641.7 805.5 639.1 803.9M762.0 797.9 761.5 797.3 760.9 796.7 760.2 796.1 759.4 795.5 758.6 794.8 757.7 794.1 756.6 793.5 755.5 792.9 754.4 792.3 753.2 791.9 751.9 791.5 750.7 791.2 749.5 791.0 748.3 791.0 747.2 791.0 746.1 791.0 745.2 791.2 744.5 791.3 743.8 791.5 743.3 791.6 743.0 791.7 742.7 791.7 742.6 791.6 742.5 791.4 742.5 791.1 742.5 790.6 742.5 790.1 742.4 789.4 742.3 788.7 742.2 787.9 741.9 787.0 741.6 786.1 741.3 785.2 740.8 784.4 740.3 783.6 739.7 782.8 739.1 782.2 738.4 781.6 737.8 781.0 737.1 780.6 736.4 780.3 735.7 780.0 735.1 779.8 734.4 779.7 733.7 779.7 732.9 779.7 732.2 779.7 731.5 779.9 730.8 780.1 730.0 780.3 729.3 780.6 728.5 781.0 727.8 781.5 727.1 782.0 726.3 782.5 725.6 783.1 725.0 783.8 724.3 784.5 723.7 785.3 723.1 786.1 722.6 786.9 722.1 787.7 721.6 788.6 721.2 789.4 720.8 790.2 720.5 791.1 720.2 791.8 719.9 792.6 719.6 793.3 719.4 794.0 719.2 794.6 719.0 795.2 718.8 795.7 718.6 796.1 718.4 796.5 718.2 796.8 718.1 797.1 717.9 797.3 717.7 797.4 717.5 797.4 717.3 797.4 717.1 797.3 716.9 797.1 716.7 796.8 716.5 796.4 716.2 796.0 715.9 795.5 715.5 794.9 715.1 794.2 714.6 793.5 714.0 792.8 713.4 792.0 712.6 791.2 711.8 790.4 710.9 789.6 710.0 788.8 709.0 788.0 707.9 787.3 706.8 786.7 705.7 786.1 704.5 785.5 703.4 785.1 702.2 784.7 701.1 784.4 700.0 784.1 699.0 784.0 698.0 783.8 697.1 783.7 696.2 783.6 695.4 783.6 694.7 783.6 694.0 783.6 693.4 783.6 692.8 783.5 692.3 783.5 691.9 783.5 691.5 783.5 691.1 783.5 690.8 783.4 690.4 783.4 690.2 783.3 689.9 783.2 689.7 783.1 689.4 782.9 689.2 782.8 689.0 782.6 688.8 782.4 688.7 782.2 688.5 782.0 688.3 781.7 688.1 781.5 688.0 781.3 687.8 781.1 687.6 780.8 687.5 780.6 687.3 780.3 687.1 780.1 686.9 779.9 686.7 779.7 686.5 779.4 686.2 779.2 686.0 779.0 685.8 778.8 685.5 778.6 685.2 778.4 684.9 778.2 684.6 778.0 684.3 777.8 683.9 777.6 683.5 777.5 683.0 777.3 682.6 777.1 682.1 777.0 681.5 776.8 680.9 776.7 680.2 776.6 679.5 776.5 678.7 776.5 677.9 776.5 676.9 776.5 675.9 776.6 674.8 776.8 673.6 777.0 672.4 777.4 671.1 777.9 669.8 778.5 668.4 779.3 667.2 780.1 665.9 781.1 664.8 782.2 663.8 783.4 662.9 784.6 662.1 785.9 661.5 787.1 661.1 788.2 660.8 789.2 660.5 790.1 660.4 790.8 660.2 791.3 660.1 791.6 659.9 791.7 659.5 791.7 659.1 791.5 658.4 791.3 657.6 791.0 656.7 790.7 655.6 790.5 654.4 790.3 653.1 790.1 651.7 790.1 650.3 790.2 648.9 790.5 647.5 790.8 646.2 791.2 645.0 791.6 643.9 792.1 642.9 792.6 642.0 793.2 641.3 793.6M735.1 819.5 732.5 819.7 728.9 819.9 724.7 820.3 720.0 820.6 715.1 820.9 710.3 821.0 705.8 820.9 701.9 820.6 698.4 820.0 695.3 819.1 692.3 818.1 689.5 816.9 686.7 815.6 683.8 814.2 680.9 812.8 677.8 811.4 674.6 810.0 671.4 808.4 668.2 806.7 664.9 805.0 661.5 803.3 657.9 801.6 654.2 800.0 650.3 798.4 646.1 796.7 641.7 794.8 637.0 792.7 632.2 790.7 627.4 789.0 622.6 787.8 617.9 787.4 613.4 787.8 609.0 789.5 604.3 792.4 599.6 796.1 595.0 800.3 590.7 804.5 586.9 808.5 583.6 811.7 581.2 814.0M726.7 784.8 726.7 784.3 726.8 783.6 726.8 782.8 726.9 781.9 726.9 781.0 726.9 779.9 726.9 778.8 726.8 777.6 726.7 776.3 726.5 775.0 726.2 773.5 725.9 772.1 725.5 770.6 724.9 769.1 724.3 767.6 723.6 766.1 722.8 764.7 721.9 763.3 720.9 761.9 719.9 760.6 718.7 759.4 717.5 758.3 716.3 757.3 715.0 756.4 713.7 755.6 712.4 755.0 711.0 754.4 709.7 753.9 708.4 753.6 707.1 753.4 705.8 753.2 704.5 753.2 703.3 753.3 702.0 753.4 700.8 753.7 699.7 754.1 698.5 754.6 697.4 755.2 696.3 756.0 695.2 756.8 694.1 757.9 693.1 759.0 692.1 760.3 691.2 761.8 690.4 763.3 689.7 765.0 689.2 766.7 688.8 768.4 688.5 770.2 688.5 771.9 688.5 773.5 688.7 775.0 689.1 776.4 689.5 777.7 689.9 778.7 690.4 779.5 690.8 780.1 691.2 780.5 691.5 780.7 691.6 780.7 691.5 780.6 691.2 780.3 690.7 780.0 690.0 779.6 689.0 779.2 687.9 778.9 686.5 778.6 685.0 778.5 683.3 778.4 681.5 778.5 679.7 778.7 677.8 779.0 675.9 779.5 674.0 780.1 672.1 780.7 670.3 781.5 668.6 782.4 666.9 783.3 665.3 784.2 663.8 785.2 662.4 786.2 661.0 787.2 659.7 788.3 658.4 789.4 657.3 790.6 656.2 791.7 655.2 792.8 654.3 794.0 653.4 795.1 652.7 796.2 652.0 797.2 651.3 798.3 650.8 799.3 650.3 800.2 649.9 801.1 649.5 802.0 649.2 802.7 649.0 803.4 648.7 804.0 648.6 804.6 648.4 805.0 648.3 805.4 648.2 805.7 648.0 805.8 647.9 805.9 647.7 805.9 647.5 805.8 647.3 805.6 647.0 805.4 646.6 805.0 646.1 804.6 645.6 804.1 644.9 803.6 644.2 803.0 643.3 802.5 642.4 801.9 641.3 801.3 640.1 800.7 638.8 800.2 637.3 799.7 635.8 799.3 634.1 799.0 632.4 798.8 630.6 798.7 628.7 798.7 626.8 798.9 624.8 799.1 622.8 799.6 620.8 800.1 618.9 800.8 616.9 801.7 615.1 802.6 613.3 803.7 611.6 804.9 610.0 806.3 608.5 807.7 607.1 809.1 605.8 810.6 604.7 812.2 603.8 813.8 603.0 815.3 602.3 816.9 601.8 818.4 601.4 819.9 601.1 821.2 600.9 822.5 600.9 823.7 600.9 824.8 601.0 825.7 601.1 826.6 601.3 827.2 601.5 827.8 601.7 828.2 602.0 828.5 602.2 828.6 602.3 828.6 602.4 828.4 602.5 828.2 602.4 827.8 602.3 827.4 602.1 826.8 601.8 826.1 601.3 825.4 600.7 824.6 600.0 823.7 599.1 822.8 598.1 821.9 597.0 821.0 595.7 820.1 594.3 819.3 592.8 818.5 591.2 817.8 589.5 817.2 587.7 816.7 585.9 816.3 584.1 815.9 582.3 815.7 580.4 815.6 578.6 815.6 576.8 815.7 575.1 815.9 573.4 816.1 571.8 816.4 570.3 816.8 568.8 817.2 567.5 817.6 566.2 818.1 565.0 818.6 563.9 819.1 562.9 819.6 561.9 820.1 561.1 820.5 560.3 821.0 559.6 821.5 559.0 821.9 558.4 822.3 557.9 822.7 557.4 823.0 557.0 823.4M771.9 835.4 771.9 834.8 771.8 834.2 771.7 833.5 771.5 832.7 771.3 831.9 771.0 831.0 770.6 830.1 770.2 829.2 769.7 828.2 769.1 827.2 768.4 826.2 767.6 825.3 766.8 824.3 765.8 823.3 764.7 822.4 763.5 821.6 762.2 820.8 760.8 820.2 759.4 819.6 757.8 819.2 756.3 818.9 754.7 818.7 753.0 818.7 751.4 818.8 749.8 819.1 748.2 819.6 746.7 820.2 745.3 820.9 744.0 821.8 742.9 822.8 741.9 824.0 741.0 825.2 740.4 826.5 739.9 827.8 739.6 829.2 739.6 830.5 739.7 831.7 740.1 832.9 740.6 833.9 741.3 834.8 742.2 835.4 743.2 835.9 744.4 835.9 745.5 835.6 746.5 834.9 747.3 833.8 747.8 832.4 747.9 830.5 747.5 828.5 746.6 826.4 745.0 824.2 742.8 822.3 740.1 820.8 736.9 819.7 733.4 819.1 729.8 819.3 726.2 820.1 722.8 821.5 719.8 823.4 717.3 825.8 715.4 828.4 714.1 831.1 713.4 833.8 713.3 836.2 713.6 838.2 714.3 839.8 715.1 840.8 716.1 841.4 717.0 841.5 717.8 841.2 718.3 840.5 718.6 839.5 718.5 838.3 718.2 837.1 717.6 835.8 716.8 834.6 715.7 833.4 714.6 832.3 713.3 831.4 711.9 830.6 710.6 829.9 709.2 829.3 707.8 828.9 706.5 828.5 705.2 828.2 703.9 828.0 702.7 827.9 701.6 827.8 700.5 827.8 699.5 827.8 698.5 827.8 697.6 827.9 696.8 828.0 696.0 828.2 695.2 828.3 694.6 828.5 693.9 828.7 693.3 828.9 692.8 829.2 692.3 829.4 691.9 829.7 691.5 829.9 691.2 830.2 690.9 830.5 690.7 830.7 690.5 831.0 690.3 831.2 690.2 831.4 690.2 831.7 690.1 831.9 690.1 832.0 690.2 832.2 690.2 832.3 690.3 832.4 690.5 832.4 690.6 832.4 690.8 832.3 690.9 832.2 691.1 832.0 691.3 831.7 691.4 831.3 691.5 830.9 691.5 830.3 691.5 829.6 691.4 828.8 691.1 828.0 690.8 827.0 690.3 826.0 689.6 825.0 688.8 823.9 687.8 822.9 686.7 821.9 685.4 820.9 683.9 820.1 682.3 819.3 680.5 818.7 678.7 818.3 676.8 818.1 674.9 818.1 673.0 818.2 671.1 818.6 669.4 819.1 667.7 819.8 666.2 820.7 664.9 821.6 663.8 822.7 662.8 823.8 662.1 824.9 661.6 825.9 661.4 826.9 661.3 827.8 661.3 828.6 661.6 829.3 661.9 829.7 662.4 830.0 662.8 830.1 663.4 830.1 663.9 829.8 664.4 829.4 664.9 828.9 665.4 828.1 665.8 827.2 666.1 826.2 666.3 825.1 666.5 823.8 666.4 822.4 666.3 821.0 665.9 819.4 665.5 817.9 664.8 816.4 664.0 814.8 663.1 813.3 662.0 811.9 660.8 810.6 659.5 809.3 658.0 808.2 656.5 807.2 655.0 806.4 653.4 805.7 651.8 805.2 650.2 804.8 648.6 804.6 647.1 804.5 645.6 804.5 644.3 804.7 643.0 804.9 641.8 805.3 640.7 805.7 639.8 806.2 638.9 806.7 638.1 807.2 637.5 807.8 637.0 808.4 636.5 808.9 636.1 809.5 635.8 810.0 635.6 810.5 635.4 811.0 635.3 811.5M743.0 781.0 741.9 781.6 740.8 782.4 739.7 783.3 738.5 784.5 737.3 785.8 736.1 787.4 735.0 789.2 734.0 791.2 733.2 793.3 732.7 795.6 732.4 798.1 732.3 800.5 732.6 803.0 733.2 805.3 734.1 807.5 735.2 809.4 736.5 811.0 737.9 812.2 739.4 813.1 740.8 813.5 742.1 813.6 743.2 813.3 743.9 812.7 744.4 811.9 744.5 810.9 744.2 809.9 743.5 808.8 742.4 807.8 741.1 807.0 739.5 806.4 737.7 805.9 735.7 805.7 733.7 805.7 731.7 806.0 729.7 806.4 727.8 807.0 726.0 807.7 724.3 808.5 722.7 809.4 721.3 810.3 719.9 811.2 718.6 812.2 717.4 813.3 716.3 814.4 715.3 815.5 714.4 816.6 713.6 817.7 712.9 818.9 712.3 819.9 711.8 821.0 711.5 822.0 711.2 823.0 711.1 823.9 711.0 824.7 711.1 825.4 711.2 826.0 711.4 826.6 711.7 826.9 712.1 827.2 712.4 827.3 712.8 827.3 713.2 827.2 713.7 826.9 714.0 826.5 714.4 826.0 714.7 825.4 714.9 824.6 715.1 823.8 715.1 822.8 715.1 821.9 715.0 820.8 714.8 819.7 714.5 818.6 714.1 817.5 713.6 816.4 713.0 815.3 712.4 814.2 711.6 813.2 710.8 812.3 710.0 811.4 709.1 810.5 708.1 809.6 707.1 808.8 706.0 808.1 705.0 807.4 703.8 806.8 702.7 806.2 701.6 805.7 700.4 805.3 699.3 804.9 698.1 804.6 697.0 804.3 695.9 804.2 694.9 804.0 693.8 804.0 692.9 804.0 691.9 804.0 691.1 804.1 690.3 804.2 689.5 804.4 688.9 804.5 688.3 804.7 687.8 804.9 687.3 805.1 687.0 805.3 686.7 805.5 686.5 805.6 686.3 805.8 686.2 805.8 686.2 805.9 686.3 805.9 686.4 805.8 686.5 805.7 686.7 805.5 686.9 805.2 687.2 804.8 687.4 804.4 687.7 803.9 688.0 803.3 688.2 802.6 688.5 801.8 688.8 800.9 689.0 799.9 689.2 798.7 689.4 797.5 689.5 796.1 689.5 794.7 689.4 793.2 689.2 791.6 688.8 790.0 688.4 788.4 687.8 786.7 687.1 785.1 686.2 783.6 685.2 782.1 684.1 780.8 682.9 779.5 681.7 778.4 680.4 777.5 679.0 776.7 677.6 776.0 676.3 775.6 675.0 775.2 673.7 775.1 672.5 775.1 671.4 775.2 670.4 775.4 669.5 775.7 668.8 776.1 668.1 776.5 667.6 777.0 667.2 777.5 666.8 778.0 666.6 778.6 666.5 779.1 666.4 779.6 666.4 780.1 666.5 780.6 666.7 781.0 666.9 781.4 667.2 781.8 667.6 782.2 668.0 782.4 668.5 782.6 669.1 782.6 669.6 782.4 670.2 782.0 670.7 781.5 671.0 780.7 671.2 779.7 671.2 778.6 671.0 777.3 670.4 775.9 669.6 774.4 668.4 772.9 666.8 771.5 664.9 770.3 662.8 769.3 660.4 768.5 657.8 768.0 655.0 767.9 652.3 768.2 649.5 768.8 646.9 769.7 644.5 770.9 642.2 772.3 640.3 774.0 638.6 775.7 637.2 777.6 636.0 779.4 635.2 781.2 634.6 782.9 634.2 784.5 634.0 786.0 633.9 787.3 634.0 788.4 634.1 789.4 634.3 790.2 634.5 790.8M783.2 807.7 782.5 807.7 781.8 807.8 781.0 807.9 780.2 808.0 779.4 808.2 778.6 808.4 777.9 808.7 777.3 809.0 776.7 809.3 776.2 809.7 775.9 809.9 775.6 810.2 775.5 810.3 775.4 810.4 775.4 810.3 775.5 810.0 775.6 809.6 775.7 809.0 775.7 808.3 775.7 807.3 775.6 806.2 775.2 805.0 774.8 803.7 774.1 802.4 773.3 801.1 772.2 799.8 771.0 798.6 769.6 797.5 768.2 796.5 766.6 795.7 764.9 795.1 763.3 794.7 761.7 794.4 760.1 794.3 758.5 794.4 757.1 794.6 755.8 795.0 754.6 795.4 753.5 796.0 752.5 796.6 751.6 797.2 750.9 798.0 750.2 798.7 749.6 799.5 749.2 800.3 748.8 801.1 748.5 801.9 748.3 802.7 748.1 803.4 748.1 804.2 748.0 804.8 748.1 805.4 748.2 805.9 748.3 806.4 748.4 806.7 748.5 807.0 748.6 807.2 748.6 807.4 748.6 807.4 748.6 807.4 748.5 807.3 748.3 807.1 748.0 806.9 747.6 806.7 747.1 806.5 746.6 806.2 745.9 806.0 745.2 805.8 744.3 805.5 743.4 805.4 742.5 805.2 741.4 805.1 740.3 805.1 739.2 805.1 738.0 805.2 736.8 805.3 735.6 805.5 734.4 805.7 733.2 805.9 732.0 806.2 730.9 806.6 729.8 807.0 728.7 807.5 727.8 807.9 726.9 808.4 726.0 808.9 725.3 809.4 724.6 809.8 724.0 810.3 723.5 810.7 723.0 811.0 722.6 811.2 722.2 811.4 721.9 811.5 721.6 811.5 721.3 811.4 721.1 811.3 720.7 811.0 720.4 810.6 720.0 810.2 719.6 809.7 719.0 809.1 718.4 808.5 717.8 807.9 717.0 807.2 716.1 806.5 715.2 805.9 714.1 805.2 713.0 804.6 711.8 804.1 710.5 803.6 709.2 803.3 707.9 803.0 706.5 802.8 705.1 802.7 703.8 802.7 702.4 802.8 701.1 803.1 699.9 803.3 698.7 803.7 697.7 804.1 696.6 804.6 695.7 805.1 694.9 805.6 694.3 806.1 693.7 806.5 693.2 806.8 692.9 807.0 692.5 807.1 692.3 807.1 692.0 806.9 691.8 806.5 691.4 806.0 691.0 805.3 690.4 804.5 689.7 803.6 688.8 802.7 687.8 801.7 686.5 800.7 685.1 799.9 683.5 799.1 681.8 798.4 680.0 798.0 678.1 797.7 676.2 797.6 674.3 797.7 672.6 798.0 670.9 798.5 669.3 799.1 668.0 799.8 666.8 800.6 665.8 801.4 665.0 802.3 664.4 803.1 663.9 803.8 663.6 804.5 663.4 805.0 663.3 805.5 663.2 805.8 663.2 806.0 663.3 806.1 663.3 806.1 663.4 806.0 663.4 805.8 663.4 805.5 663.3 805.2 663.2 804.7 663.0 804.2 662.7 803.7 662.3 803.1 661.9 802.6 661.4 802.0 660.8 801.4 660.1 800.9 659.3 800.3 658.5 799.9 657.7 799.4 656.8 799.0 655.9 798.7 654.9 798.5 654.0 798.3 653.0 798.1 652.0 798.0 651.1 798.0 650.1 798.0 649.2 798.1 648.3 798.2 647.4 798.4 646.6 798.5 645.8 798.8 645.1 799.0 644.4 799.3 643.7 799.5 643.1 799.8 642.5 800.1 642.0 800.4 641.5 800.7 641.1 800.9 640.6 801.2M754.6 798.7 753.7 798.7 752.8 798.7 751.8 798.8 750.8 798.9 749.7 799.1 748.6 799.3 747.5 799.6 746.4 800.0 745.3 800.5 744.3 801.0 743.3 801.6 742.4 802.2 741.6 802.8 740.8 803.5 740.2 804.1 739.7 804.8 739.3 805.4 739.0 805.9 738.9 806.3 738.8 806.6 738.8 806.8 738.9 806.8 739.0 806.6 739.1 806.3 739.3 805.9 739.3 805.2 739.4 804.4 739.3 803.5 739.1 802.5 738.8 801.3 738.4 800.1 737.9 798.8 737.2 797.5 736.5 796.2 735.5 794.9 734.5 793.6 733.4 792.4 732.3 791.2 731.0 790.2 729.8 789.2 728.4 788.3 727.0 787.4 725.6 786.6 724.2 785.9 722.8 785.3 721.3 784.8 719.9 784.3 718.5 784.0 717.1 783.7 715.8 783.5 714.5 783.4 713.3 783.4 712.2 783.4 711.1 783.5 710.2 783.6 709.3 783.8 708.5 783.9 707.9 784.1 707.3 784.3 706.8 784.5 706.3 784.6 706.0 784.8 705.7 784.9 705.5 784.9 705.4 784.9 705.3 784.9 705.2 784.8 705.2 784.6 705.2 784.4 705.2 784.1 705.2 783.7 705.2 783.3 705.2 782.8 705.1 782.3 705.0 781.7 704.9 781.1 704.7 780.4 704.5 779.7 704.2 779.0 703.9 778.3 703.5 777.5 703.0 776.8 702.4 776.0 701.8 775.2 701.1 774.4 700.4 773.6 699.6 772.8 698.7 772.1 697.7 771.4 696.7 770.7 695.6 770.1 694.5 769.5 693.3 769.0 692.1 768.5 690.8 768.1 689.5 767.7 688.2 767.4 686.9 767.2 685.6 767.0 684.3 766.9 683.0 766.9 681.7 766.9 680.4 767.0 679.1 767.2 677.9 767.4 676.8 767.6 675.6 767.9 674.6 768.2 673.6 768.6 672.6 769.0 671.7 769.4 670.9 769.8 670.2 770.2 669.5 770.6 668.9 771.0 668.3 771.4 667.8 771.8 667.4 772.1 667.0 772.3 666.7 772.6 666.4 772.8 666.2 772.9 666.0 773.0 665.8 773.0 665.6 773.0 665.5 772.9 665.3 772.8 665.2 772.6 665.0 772.3 664.8 772.0 664.6 771.6 664.3 771.2 664.0 770.7 663.6 770.2 663.2 769.6 662.7 768.9 662.2 768.3 661.5 767.6 660.8 766.9 660.1 766.2 659.2 765.5 658.3 764.9 657.3 764.2 656.3 763.6 655.2 763.0 654.0 762.4 652.7 761.9 651.5 761.4 650.1 761.1 648.8 760.7 647.4 760.5 646.0 760.3 644.6 760.1 643.2 760.1 641.9 760.1 640.5 760.1 639.2 760.3 637.9 760.5 636.6 760.7 635.4 761.0 634.2 761.3 633.1 761.7 632.0 762.2 631.0 762.7 630.1 763.2 629.2 763.7 628.4 764.3 627.8 764.8 627.2 765.3 626.7 765.9 626.3 766.3 626.0 766.8 625.8 767.2 625.7 767.5 625.6 767.7 625.6 767.9 625.6 768.0 625.7 768.0 625.8 767.9 626.0 767.8 626.1 767.5 626.2 767.2 626.4 766.8 626.5 766.3 626.5 765.8 626.6 765.2 626.6 764.6 626.6 763.9 626.6 763.3 626.5 762.6 626.3 761.9 626.2 761.2 626.0 760.5 625.8 759.9 625.5 759.3 625.3 758.7 625.0 758.1 624.8 757.6 624.5 757.1M724.1 778.2 720.9 776.6 716.7 774.5 711.8 772.0 706.2 769.2 700.4 766.3 694.7 763.3 689.2 760.5 684.2 757.8 679.7 755.2 675.1 752.3 670.7 749.4 666.3 746.5 662.2 743.8 658.1 741.5 654.3 739.7 650.7 738.6 647.5 738.2 644.7 738.3 642.2 738.9 639.8 739.9 637.4 741.2 634.9 742.7 632.2 744.5 629.0 746.4 625.4 748.8 621.4 751.8 617.3 755.2 612.9 758.8 608.6 762.3 604.3 765.4 600.1 767.8 596.2 769.4 592.4 769.9 588.5 769.5 584.6 768.5 580.9 767.1 577.4 765.6 574.3 764.1 571.6 762.8 569.6 762.0M812.2 778.8 810.3 777.9 807.8 776.5 804.8 774.9 801.5 773.2 797.9 771.5 794.2 770.0 790.5 768.8 786.9 768.1 783.3 767.9 779.4 768.0 775.4 768.5 771.3 769.1 767.3 769.8 763.4 770.5 759.8 771.1 756.5 771.4 753.6 771.7 751.0 772.2 748.6 772.7 746.3 773.1 744.2 773.3 742.1 773.0 740.1 772.3 737.9 770.9 735.9 768.6 734.0 765.3 732.3 761.4 730.5 757.2 728.6 753.0 726.6 749.0 724.2 745.7 721.4 743.3 717.9 741.8 713.7 740.9 709.0 740.6 704.2 740.5 699.5 740.7 695.2 741.0 691.7 741.2 689.1 741.3M819.5 823.3 818.8 823.3 818.1 823.5 817.3 823.7 816.4 823.9 815.5 824.2 814.5 824.6 813.5 825.1 812.4 825.7 811.4 826.4 810.3 827.2 809.2 828.1 808.1 829.1 807.2 830.3 806.2 831.5 805.4 832.8 804.7 834.2 804.1 835.6 803.6 837.0 803.3 838.4 803.1 839.8 803.0 841.1 803.1 842.3 803.3 843.4 803.5 844.3 803.8 845.0 804.1 845.6 804.4 846.0 804.6 846.2 804.8 846.2 804.8 846.1 804.7 845.9 804.5 845.5 804.1 845.1 803.5 844.6 802.7 844.1 801.8 843.6 800.7 843.2 799.4 842.9 798.1 842.6 796.6 842.5 795.1 842.4 793.5 842.5 791.8 842.8 790.0 843.2 788.3 843.7 786.6 844.4 785.0 845.3 783.4 846.2 782.0 847.3 780.7 848.5 779.6 849.8 778.6 851.0 777.9 852.3 777.2 853.5 776.8 854.6 776.4 855.7 776.2 856.6 776.1 857.4 776.0 858.0 776.0 858.5 776.0 858.8 775.9 858.9 775.8 858.9 775.6 858.8 775.3 858.5 774.9 858.2 774.4 857.8 773.7 857.4 773.0 857.0 772.0 856.6 771.0 856.2 769.9 856.0 768.7 855.7 767.4 855.6 766.1 855.6 764.7 855.7 763.4 855.9 762.0 856.2 760.7 856.7 759.4 857.2 758.2 857.8 757.0 858.5 755.9 859.3 754.8 860.2 753.9 861.1 753.0 862.1 752.2 863.0 751.5 864.1 750.8 865.1 750.3 866.1 749.9 867.0 749.5 868.0 749.2 868.9 748.9 869.7 748.7 870.5 748.5 871.1 748.4 871.8 748.3 872.3 748.1 872.8 748.0 873.1 747.8 873.4 747.6 873.7 747.4 873.9 747.1 874.0 746.7 874.0 746.3 874.0 745.9 874.0 745.3 874.0 744.7 873.9 744.0 873.9 743.3 873.8 742.5 873.7 741.7 873.7 740.8 873.7 739.8 873.7 738.9 873.7 737.9 873.8 736.8 873.9 735.8 874.0 734.7 874.2 733.7 874.4 732.7 874.6 731.8 874.9 730.8 875.2 729.9 875.4 729.0 875.8 728.2 876.1 727.4 876.4 726.6 876.8 725.9 877.1 725.2 877.5 724.6 877.8 724.0 878.2 723.4 878.6 722.9 878.9 722.4 879.3 721.9 879.7 721.5 880.1 721.2 880.4 720.9 880.8 720.6 881.1 720.3 881.4 720.1 881.7 719.9 882.0 719.8 882.2 719.7 882.5 719.6 882.6 719.5 882.8 719.5 882.9 719.5 882.9 719.5 883.0 719.5 882.9 719.5 882.8 719.4 882.6 719.4 882.4 719.3 882.1 719.1 881.7 718.9 881.3 718.6 880.8 718.2 880.2 717.7 879.6 717.0 878.9 716.2 878.2 715.1 877.4 713.8 876.7 712.3 876.1 710.7 875.6 708.8 875.2 706.8 875.1 704.7 875.1 702.5 875.4 700.4 875.9 698.3 876.7 696.3 877.8 694.5 879.0 692.9 880.3 691.5 881.8 690.4 883.3 689.6 884.8 689.0 886.2 688.7 887.5 688.5 888.6 688.5 889.4 688.5 890.1 688.7 890.6 688.8 890.8 688.8 890.8 688.8 890.7 688.7 890.4 688.5 890.0 688.2 889.6 687.8 889.1 687.2 888.6 686.7 888.1 686.0 887.6 685.3 887.2 684.6 886.8 683.9 886.5 683.3 886.2M793.0 813.2 790.5 814.3 787.0 815.9 782.8 817.8 778.2 819.9 773.5 821.9 768.9 823.7 764.8 824.9 761.4 825.6 758.7 825.5 756.4 825.1 754.4 824.3 752.7 823.2 751.0 821.8 749.3 820.3 747.5 818.5 745.4 816.6 743.3 814.3 741.2 811.5 739.1 808.4 736.9 805.1 734.6 801.9 732.0 799.0 729.1 796.4 725.7 794.5 721.8 793.2 717.3 792.4 712.4 792.0 707.2 791.8 702.0 791.8 696.9 792.0 692.1 792.1 687.7 792.2 683.6 792.3 679.4 792.6 675.4 793.0 671.5 793.4 667.9 793.9 664.7 794.3 662.0 794.7 660.0 794.9M753.3 835.5 750.3 837.1 746.4 839.5 741.6 842.3 736.3 845.3 730.9 848.2 725.4 850.8 720.3 852.9 715.7 854.1 711.6 854.4 707.5 853.9 703.6 852.9 699.8 851.5 696.1 850.1 692.6 848.6 689.3 847.5 686.3 846.8 683.5 846.6 681.0 846.8 678.7 847.3 676.6 847.8 674.5 848.3 672.6 848.5 670.6 848.3 668.5 847.7 666.6 846.4 664.9 844.6 663.4 842.5 661.9 840.1 660.2 837.7 658.1 835.2 655.6 832.8 652.5 830.7 648.4 828.7 643.3 826.7 637.6 824.6 631.6 822.6 625.7 820.7 620.4 819.0 615.9 817.6 612.7 816.5M819.4 801.2 818.0 802.1 816.3 803.3 814.3 804.7 812.0 806.3 809.4 807.9 806.7 809.5 803.9 810.8 801.0 811.9 798.0 812.8 794.9 813.6 791.7 814.3 788.2 814.9 784.6 815.4 780.9 815.8 776.9 816.0 772.8 816.2 768.3 816.0 763.5 815.6 758.4 815.0 753.2 814.3 748.0 813.7 742.8 813.2 737.8 813.0 733.1 813.2 728.6 813.9 724.2 815.1 719.9 816.7 715.6 818.3 711.5 820.0 707.6 821.4 703.7 822.5 700.0 823.0 696.4 822.8 692.7 822.1 689.1 821.1 685.6 819.8 682.4 818.5 679.6 817.2 677.2 816.2 675.3 815.5M812.3 832.6 812.3 832.6 812.3 832.5 812.3 832.3 812.3 832.1 812.3 831.8 812.3 831.4 812.2 830.8 812.2 830.2 812.0 829.5 811.8 828.6 811.5 827.6 811.1 826.5 810.5 825.3 809.8 824.0 809.0 822.6 808.0 821.2 806.7 819.8 805.3 818.3 803.7 816.9 802.0 815.6 800.0 814.3 797.9 813.2 795.7 812.2 793.3 811.4 790.9 810.7 788.4 810.3 785.9 810.0 783.5 809.9 781.0 810.0 778.7 810.3 776.4 810.8 774.3 811.4 772.3 812.1 770.5 812.9 768.8 813.8 767.3 814.8 765.9 815.8 764.7 816.8 763.6 817.8 762.7 818.8 761.8 819.8 761.1 820.8 760.5 821.8 759.9 822.8 759.4 823.8 759.0 824.7 758.7 825.7 758.4 826.6 758.2 827.5 758.1 828.4 758.0 829.2 757.9 830.0 757.8 830.8 757.8 831.6 757.9 832.3 757.9 832.9 758.0 833.6 758.1 834.2 758.2 834.7 758.3 835.2 758.4 835.7 758.5 836.1 758.6 836.5 758.6 836.9 758.7 837.2 758.8 837.4 758.8 837.6 758.8 837.8 758.8 837.9 758.8 837.9 758.7 837.9 758.6 837.9 758.4 837.8 758.2 837.7 757.9 837.5 757.6 837.3 757.2 837.0 756.8 836.7 756.3 836.3 755.7 835.9 755.1 835.4 754.3 835.0 753.5 834.5 752.7 833.9 751.7 833.4 750.7 832.9 749.6 832.4 748.4 831.9 747.1 831.4 745.8 830.9 744.4 830.5 743.0 830.1 741.5 829.7 739.9 829.4 738.3 829.1 736.7 828.9 735.0 828.8 733.4 828.7 731.7 828.6 730.0 828.7 728.3 828.8 726.6 829.0 724.9 829.2 723.2 829.5 721.6 829.9 720.0 830.4 718.5 830.9 717.0 831.4 715.6 832.1 714.3 832.7 713.0 833.4 711.8 834.2 710.8 834.9 709.8 835.7 708.9 836.5 708.0 837.3 707.3 838.1 706.7 838.8 706.1 839.6 705.6 840.3 705.2 841.0 704.9 841.6 704.6 842.2 704.3 842.8 704.1 843.3 704.0 843.7 703.9 844.1 703.9 844.5 703.8 844.8 703.8 845.0 703.9 845.1 703.9 845.3 704.0 845.3 704.0 845.3 704.1 845.2 704.1 845.1 704.1 844.9 704.2 844.6 704.2 844.3 704.1 844.0 704.1 843.6 704.0 843.1 703.9 842.7 703.7 842.1 703.5 841.6 703.3 841.0 703.0 840.4 702.7 839.8 702.3 839.2 701.9 838.6 701.5 837.9 701.0 837.3 700.4 836.6 699.8 836.0 699.1 835.4 698.4 834.8 697.7 834.2 696.9 833.6 696.0 833.0 695.1 832.5 694.2 832.0 693.2 831.5 692.2 831.1 691.1 830.7 690.0 830.4 688.8 830.1 687.6 829.8 686.4 829.6 685.1 829.5 683.9 829.4 682.6 829.4 681.3 829.4 680.0 829.5 678.7 829.6 677.5 829.8 676.2 830.1 675.0 830.4 673.7 830.7 672.5 831.1 671.4 831.6 670.3 832.0 669.2 832.5 668.1 833.1 667.1 833.6 666.2 834.2 665.3 834.8 664.4 835.4 663.6 836.0 662.8 836.5 662.1 837.1 661.4 837.7 660.8 838.3 660.2 838.9 659.7 839.4 659.2 839.9 658.8 840.4 658.4 840.8 658.0 841.3 657.7 841.7M795.6 787.4 792.8 787.5 789.0 787.6 784.4 787.6 779.4 787.7 774.2 788.0 769.3 788.4 764.8 789.1 761.2 790.2 758.5 791.6 756.4 793.5 754.8 795.7 753.4 798.0 752.0 800.4 750.4 802.8 748.2 805.0 745.3 807.1 741.7 808.9 737.4 810.6 732.7 812.2 727.7 813.8 722.5 815.3 717.5 816.8 712.6 818.4 708.0 820.0 703.8 821.8 699.7 823.8 695.8 825.9 691.9 828.0 688.0 829.9 684.2 831.5 680.4 832.8 676.5 833.6 672.3 833.8 667.9 833.4 663.4 832.7 658.9 831.7 654.7 830.6 650.9 829.5 647.8 828.6 645.4 828.0M813.8 815.1 810.8 813.9 806.7 812.2 801.8 810.0 796.4 807.8 790.7 805.7 784.9 804.0 779.4 803.0 774.4 802.9 769.5 803.9 764.6 805.8 759.7 808.4 754.8 811.5 750.2 814.7 745.8 817.7 741.7 820.4 738.1 822.5 735.1 824.2 732.8 825.8 730.9 827.2 729.2 828.5 727.5 829.4 725.7 830.0 723.5 830.1 720.8 829.6 717.5 828.3 713.6 825.8 709.4 822.7 705.0 819.4 700.6 816.1 696.4 813.3 692.6 811.4 689.3 810.7 686.4 811.4 683.8 813.4 681.4 816.1 679.3 819.4 677.4 822.8 675.7 826.1 674.3 828.7 673.2 830.5M724.3 778.7 723.3 780.9 722.1 783.9 720.7 787.4 719.1 791.3 717.1 795.5 714.9 799.7 712.3 803.7 709.3 807.6 705.8 811.3 701.8 815.3 697.4 819.4 692.8 823.4 687.9 827.2 683.0 830.8 678.1 834.0 673.4 836.6 668.7 838.6 664.0 839.9 659.2 840.7 654.4 841.4 649.6 841.9 644.8 842.5 640.1 843.5 635.5 844.9 631.0 847.0 626.5 849.6 622.1 852.5 617.7 855.6 613.4 858.5 609.1 861.1 604.9 863.2 600.6 864.6 596.1 865.2 591.4 865.0 586.6 864.5 581.8 863.5 577.4 862.5 573.3 861.4 570.0 860.5 567.4 860.0M788.4 793.5 786.6 796.7 784.2 801.4 781.3 807.0 778.1 813.0 774.6 818.8 771.0 824.1 767.2 828.1 763.5 830.4 759.7 830.9 755.7 829.8 751.6 827.6 747.3 824.8 743.0 821.6 738.5 818.6 734.1 816.0 729.6 814.3 724.9 813.4 720.0 812.8 715.1 812.5 710.0 812.3 705.1 812.3 700.3 812.4 695.7 812.6 691.6 812.7 687.8 812.8 684.4 813.2 681.2 813.6 678.2 814.1 675.3 814.6 672.3 815.0 669.3 815.3 666.0 815.4 662.5 815.3 658.5 814.9 654.4 814.4 650.3 813.9 646.4 813.3 642.9 812.8 640.0 812.4 637.8 812.1M714.7 818.5 714.3 818.6 713.8 818.6 713.4 818.7 712.9 818.8 712.4 818.9 711.9 819.0 711.4 819.1 710.9 819.3 710.4 819.4 710.0 819.6 709.5 819.7 709.1 819.9 708.7 820.0 708.4 820.2 708.1 820.3 707.8 820.4 707.6 820.5 707.4 820.5 707.2 820.5 707.1 820.5 707.0 820.4 706.9 820.3 706.9 820.1 706.9 819.9 706.9 819.6 706.9 819.3 706.9 818.9 707.0 818.4 707.0 817.9 707.0 817.3 707.0 816.7 707.0 816.0 706.9 815.3 706.8 814.5 706.7 813.7 706.6 812.9 706.4 812.1 706.2 811.3 706.0 810.4 705.8 809.6 705.5 808.7 705.2 807.8 704.9 806.9 704.6 806.0 704.2 805.1 703.8 804.2 703.4 803.3 702.9 802.4 702.5 801.5 702.0 800.6 701.5 799.7 700.9 798.9 700.3 798.0 699.7 797.2 699.1 796.3 698.4 795.5 697.8 794.8 697.1 794.0 696.3 793.3 695.6 792.6 694.8 791.9 694.0 791.3 693.2 790.7 692.3 790.1 691.4 789.6 690.5 789.1 689.6 788.6 688.7 788.2 687.7 787.9 686.7 787.5 685.7 787.3 684.7 787.0 683.6 786.9 682.6 786.7 681.5 786.6 680.4 786.6 679.3 786.7 678.1 786.8 677.0 786.9 675.9 787.1 674.7 787.4 673.6 787.7 672.4 788.1 671.3 788.5 670.2 789.0 669.2 789.5 668.2 790.1 667.2 790.6 666.3 791.2 665.4 791.8 664.6 792.3 663.8 792.9 663.1 793.4 662.4 793.9 661.8 794.4 661.2 794.8 660.6 795.2 660.0 795.5 659.5 795.7 659.0 795.9 658.5 796.0 658.0 796.1 657.5 796.2 656.9 796.1 656.4 796.1 655.8 795.9 655.3 795.8 654.7 795.6 654.0 795.3 653.4 795.1 652.7 794.8 652.0 794.5 651.2 794.1 650.5 793.8 649.7 793.5 648.9 793.1 648.1 792.8 647.3 792.4 646.4 792.1 645.6 791.8 644.7 791.5 643.8 791.2 642.8 790.9 641.9 790.6 640.9 790.4 639.9 790.1 638.9 789.9 637.9 789.8 636.8 789.6 635.8 789.5 634.7 789.4 633.6 789.3 632.6 789.3 631.5 789.3 630.4 789.4 629.3 789.5 628.2 789.6 627.1 789.7 626.0 789.9 624.9 790.2 623.9 790.5 622.8 790.8 621.8 791.1 620.8 791.5 619.7 792.0 618.8 792.4 617.8 792.9 616.9 793.5 616.0 794.0 615.1 794.6 614.2 795.3 613.4 796.0 612.6 796.7 611.9 797.4 611.2 798.1 610.5 798.9 609.9 799.7 609.3 800.5 608.7 801.4 608.2 802.2 607.7 803.1 607.3 804.0 606.9 805.0 606.6 806.0 606.3 807.0 606.1 808.0 605.9 809.0 605.8 809.9 605.7 810.9 605.7 811.9 605.7 812.8 605.8 813.7 605.9 814.5 606.0 815.3 606.2 816.1 606.4 816.8 606.6 817.4 606.8 818.0 607.0 818.5 607.2 819.0 607.4 819.4 607.6 819.8 607.8 820.1 607.9 820.4 608.0 820.6 608.1 820.7 608.2 820.9 608.2 821.0 608.2 821.1 608.2 821.1 608.2 821.1 608.1 821.1 608.0 821.1 607.9 821.1 607.7 821.1 607.6 821.1 607.4 821.0 607.2 821.0 607.1 821.0M801.4 829.0 800.0 830.1 798.0 831.7 795.6 833.6 792.9 835.6 790.2 837.7 787.4 839.8 784.7 841.6 782.3 843.1 780.2 844.4 778.4 845.9 776.7 847.4 775.0 848.6 773.1 849.6 771.0 850.1 768.4 850.0 765.4 849.0 761.8 847.3 757.6 844.7 753.1 841.5 748.3 837.9 743.3 833.9 738.4 829.8 733.6 825.6 729.1 821.6 724.8 817.4 720.7 812.6 716.5 807.5 712.5 802.4 708.5 797.5 704.4 793.1 700.4 789.3 696.2 786.4 691.9 784.6 687.1 783.5 682.3 783.1 677.4 783.1 672.9 783.5 668.8 783.9 665.3 784.2 662.7 784.2M814.9 772.3 813.7 771.8 812.4 771.4 810.9 771.0 809.2 770.7 807.4 770.5 805.5 770.6 803.5 770.8 801.4 771.3 799.4 772.1 797.5 773.0 795.7 774.3 794.1 775.7 792.9 777.3 791.9 779.0 791.3 780.8 791.1 782.5 791.2 784.0 791.7 785.2 792.4 786.2 793.4 786.7 794.4 786.8 795.5 786.4 796.4 785.6 797.2 784.3 797.6 782.7 797.6 780.9 797.3 778.8 796.5 776.7 795.2 774.7 793.6 772.7 791.6 771.0 789.4 769.6 786.9 768.5 784.4 767.7 781.8 767.3 779.3 767.2 777.0 767.4 774.7 767.9 772.7 768.6 770.9 769.4 769.3 770.4 767.9 771.4 766.7 772.6 765.7 773.7 764.8 774.9 764.2 776.1 763.7 777.2 763.3 778.3 763.1 779.4 763.0 780.4 763.0 781.3 763.1 782.1 763.3 782.9 763.5 783.5 763.8 784.1 764.2 784.6 764.5 784.9 764.9 785.2 765.3 785.4 765.7 785.5 766.2 785.5 766.6 785.4 766.9 785.2 767.3 784.9 767.6 784.5 767.9 784.0 768.1 783.4 768.2 782.7 768.3 781.9 768.2 781.1 768.1 780.1 767.9 779.1 767.5 778.0 767.0 776.9 766.3 775.7 765.4 774.5 764.4 773.3 763.2 772.1 761.8 771.0 760.3 770.0 758.6 769.1 756.7 768.3 754.7 767.7 752.7 767.3 750.7 767.1 748.7 767.2 746.8 767.5 745.0 767.9 743.4 768.6 742.1 769.3 741.0 770.1 740.2 770.9 739.7 771.7 739.4 772.3 739.4 772.8 739.5 773.0 739.8 773.0 740.2 772.6 740.5 772.0 740.8 771.2 741.0 770.0 741.0 768.7 740.8 767.2 740.4 765.5 739.7 763.9 738.8 762.2 737.6 760.6 736.2 759.1 734.6 757.7 732.9 756.6 731.0 755.6 729.2 754.9 727.3 754.5 725.4 754.2 723.7 754.2 722.0 754.3 720.5 754.7 719.2 755.1 718.0 755.7 717.0 756.3 716.1 757.0 715.4 757.6 714.9 758.3 714.5 758.9 714.3 759.5 714.2 760.0 714.1 760.4 714.2 760.7 714.4 761.0 714.6 761.1 714.9 761.2 715.2 761.2 715.5 761.0 715.8 760.8 716.1 760.4 716.4 760.0 716.7 759.5 716.9 758.9 717.1 758.3 717.2 757.6 717.2 756.8 717.2 756.0 717.0 755.2 716.8 754.4 716.5 753.5 716.1 752.6 715.6 751.7 715.0 750.8 714.2 750.0 713.4 749.2 712.4 748.4 711.3 747.7 710.0 747.0 708.6 746.5 707.1 746.1 705.5 745.8 703.7 745.7 701.8 745.8 699.9 746.1 697.8 746.7 695.7 747.6 693.6 748.9 691.6 750.5 689.7 752.6 688.2 754.9 687.0 757.5 686.3 760.3 686.1 763.1 686.4 765.9 687.2 768.3 688.4 770.3 690.0 771.8 691.6 772.7 693.3 772.9 694.7 772.4 695.6 771.3 695.9 769.9 695.6 768.2 694.5 766.5 692.8 764.9 690.4 763.7 687.5 763.1 684.4 763.1 681.2 763.7 678.0 764.9 675.2 766.7 672.7 768.9 670.6 771.4 669.1 774.1 668.1 776.8 667.6 779.4 667.4 781.8 667.6 783.9 668.0 785.7 668.5 787.3 669.2 788.5 669.8 789.4 670.4 790.1 671.0 790.6M775.9 828.7 774.6 826.5 772.7 823.5 770.5 819.9 768.1 816.0 765.5 811.9 762.9 808.0 760.4 804.6 758.0 801.7 755.7 799.4 753.3 797.4 751.0 795.6 748.6 794.1 746.3 792.7 743.9 791.6 741.6 790.6 739.3 789.8 737.0 789.4 734.6 789.5 732.3 789.9 730.0 790.4 727.7 790.9 725.4 791.1 723.1 790.8 720.8 789.8 718.4 787.9 716.1 785.0 713.7 781.7 711.3 778.0 709.0 774.5 706.6 771.4 704.2 769.0 701.8 767.7 699.3 767.6 696.5 768.4 693.7 770.0 691.0 772.0 688.3 774.1 686.0 776.2 684.0 777.9 682.5 779.0M722.1 785.5 721.2 786.0 720.2 786.6 719.2 787.3 718.2 788.1 717.1 789.0 716.0 789.9 714.9 791.0 713.9 792.2 713.0 793.5 712.1 794.8 711.3 796.2 710.7 797.6 710.2 799.1 709.8 800.5 709.6 801.9 709.5 803.2 709.5 804.4 709.7 805.5 709.9 806.5 710.3 807.2 710.7 807.8 711.1 808.2 711.5 808.4 711.9 808.4 712.2 808.2 712.4 807.8 712.5 807.3 712.4 806.6 712.2 805.8 711.9 805.0 711.4 804.1 710.8 803.2 710.0 802.3 709.1 801.4 708.1 800.5 707.0 799.8 705.9 799.1 704.7 798.4 703.6 797.9 702.4 797.4 701.1 796.9 699.9 796.5 698.7 796.2 697.5 795.9 696.3 795.7 695.1 795.6 693.9 795.4 692.7 795.3 691.6 795.3 690.5 795.3 689.4 795.3 688.3 795.3 687.2 795.4 686.2 795.5 685.2 795.7 684.3 795.8 683.4 796.0 682.4 796.2 681.6 796.5 680.7 796.7 679.9 797.0 679.1 797.3 678.3 797.6 677.6 797.9 676.8 798.3 676.1 798.7 675.5 799.1 674.8 799.5 674.2 799.9 673.6 800.3 673.0 800.8 672.4 801.3 671.9 801.8 671.4 802.3 670.9 802.8 670.5 803.4 670.0 804.0 669.6 804.5 669.3 805.1 668.9 805.8 668.6 806.4 668.3 806.9 668.1 807.5 667.9 808.1 667.7 808.7 667.6 809.2 667.5 809.7 667.4 810.3 667.3 810.7 667.3 811.2 667.2 811.6 667.2 812.1 667.2 812.4 667.2 812.8 667.2 813.1 667.2 813.4 667.2 813.7 667.2 813.9 667.1 814.1 667.1 814.2 667.1 814.3 667.0 814.4 667.0 814.4 666.9 814.5 666.8 814.4 666.7 814.4 666.5 814.2 666.3 814.1 666.1 813.9 665.8 813.7 665.5 813.5 665.2 813.2 664.8 812.9 664.4 812.5 664.0 812.2 663.4 811.8 662.9 811.3 662.3 810.9 661.6 810.4 660.8 809.9 660.1 809.4 659.2 808.8 658.3 808.3 657.3 807.7 656.3 807.2 655.2 806.7 654.1 806.1 652.9 805.6 651.6 805.2 650.3 804.8 649.0 804.4 647.6 804.0 646.2 803.7 644.8 803.5 643.3 803.3 641.8 803.2 640.4 803.2 638.9 803.2 637.4 803.4 636.0 803.5 634.5 803.8 633.2 804.1 631.9 804.5 630.6 805.0 629.4 805.5 628.3 806.1 627.3 806.7 626.4 807.3 625.6 808.0 624.9 808.7 624.2 809.3 623.7 810.0 623.3 810.6 623.0 811.1 622.8 811.6 622.7 812.1 622.6 812.4 622.6 812.7 622.6 812.9 622.7 812.9 622.8 812.9 623.0 812.7 623.1 812.3 623.1 811.8 623.1 811.2 623.1 810.4 622.8 809.4 622.5 808.3 621.9 807.0 621.2 805.7 620.2 804.3 619.1 802.9 617.6 801.5 616.0 800.2 614.1 799.0 612.1 797.9 609.9 796.9 607.5 796.2 605.1 795.6 602.6 795.3 600.1 795.2 597.6 795.3 595.2 795.7 592.9 796.2 590.7 796.9 588.7 797.7 586.8 798.7 585.1 799.7 583.6 800.8 582.3 801.9 581.2 803.0 580.2 804.1 579.4 805.2 578.8 806.2 578.2 807.1 577.8 807.9 577.5 808.6 577.2 809.3 577.0 809.9M811.3 822.8 811.2 823.0 811.0 823.2 810.8 823.4 810.6 823.6 810.3 823.7 810.0 823.9 809.5 824.1 809.0 824.3 808.4 824.4 807.7 824.7 806.9 824.9 806.0 825.2 804.9 825.6 803.8 826.1 802.6 826.6 801.3 827.3 799.9 828.1 798.6 829.1 797.2 830.1 795.9 831.3 794.6 832.7 793.4 834.1 792.3 835.6 791.3 837.2 790.4 838.7 789.7 840.3 789.0 841.9 788.5 843.4 788.1 844.8 787.9 846.2 787.6 847.4 787.5 848.5 787.4 849.5 787.3 850.3 787.3 851.0 787.2 851.6 787.1 852.0 787.0 852.3 786.8 852.5 786.6 852.6 786.4 852.6 786.2 852.6 785.9 852.4 785.5 852.2 785.1 851.9 784.7 851.5 784.2 851.1 783.7 850.7 783.1 850.2 782.5 849.6 781.8 849.1 781.0 848.5 780.2 847.9 779.4 847.3 778.5 846.7 777.5 846.2 776.5 845.6 775.4 845.1 774.4 844.6 773.2 844.2 772.1 843.8 770.9 843.4 769.7 843.1 768.5 842.9 767.3 842.7 766.2 842.6 765.0 842.5 763.8 842.5 762.7 842.6 761.6 842.7 760.6 842.9 759.5 843.1 758.5 843.3 757.6 843.6 756.7 844.0 755.8 844.4 755.0 844.8 754.2 845.2 753.5 845.6 752.8 846.1 752.1 846.5 751.5 847.0 750.9 847.4 750.3 847.8 749.8 848.1 749.2 848.4 748.7 848.7 748.1 849.0 747.6 849.1 747.0 849.3 746.4 849.4 745.8 849.4 745.2 849.5 744.5 849.4 743.8 849.4 743.0 849.3 742.2 849.2 741.3 849.1 740.3 849.0 739.3 848.9 738.2 848.8 737.0 848.7 735.8 848.6 734.5 848.6 733.1 848.7 731.7 848.8 730.3 848.9 728.8 849.2 727.3 849.5 725.8 849.9 724.3 850.4 722.8 851.0 721.4 851.6 720.0 852.4 718.7 853.2 717.5 854.0 716.3 854.9 715.3 855.8 714.3 856.8 713.4 857.7 712.7 858.6 712.0 859.5 711.4 860.4 710.9 861.2 710.5 861.9 710.1 862.5 709.8 863.0 709.5 863.4 709.2 863.7 708.8 863.9 708.5 863.9 708.1 863.8 707.6 863.7 707.0 863.4 706.2 863.1 705.4 862.8 704.4 862.4 703.3 862.0 702.1 861.7 700.7 861.4 699.2 861.2 697.6 861.0 695.9 861.1 694.2 861.2 692.4 861.5 690.6 861.9 688.8 862.5 687.1 863.2 685.4 864.0 683.8 865.0 682.3 866.0 681.0 867.2 679.7 868.4 678.6 869.6 677.6 870.9 676.8 872.1 676.1 873.3 675.5 874.5 675.0 875.6 674.6 876.7 674.3 877.6 674.0 878.5 673.8 879.3 673.6 880.0 673.3 880.6 673.0 881.1 672.7 881.4 672.3 881.7 671.7 881.9 671.1 882.0 670.3 882.1 669.5 882.3 668.4 882.4 667.3 882.5 666.1 882.8 664.8 883.1 663.5 883.4 662.1 883.9 660.6 884.5 659.2 885.1 657.8 885.9 656.5 886.7 655.2 887.6 653.9 888.5 652.8 889.5 651.7 890.5 650.6 891.6 649.7 892.6 648.9 893.6 648.1 894.6 647.4 895.5 646.8 896.4 646.2 897.3 645.8 898.1 645.3 898.9 644.9 899.6 644.6 900.2 644.3 900.7 644.0 901.2M762.5 852.5 763.7 852.4 764.9 852.2 766.3 852.0 767.6 851.6 769.0 851.2 770.3 850.7 771.6 850.1 772.8 849.5 773.9 848.7 774.9 848.0 775.7 847.2 776.2 846.5 776.6 845.9 776.9 845.4 776.9 845.0 776.8 844.9 776.5 845.0 776.2 845.4 775.8 846.0 775.5 847.0 775.2 848.2 775.0 849.7 775.0 851.4 775.2 853.3 775.5 855.3 776.1 857.4 777.0 859.6 778.0 861.7 779.2 863.8 780.6 865.7 782.0 867.6 783.6 869.3 785.3 870.9 786.9 872.3 788.5 873.5 790.1 874.6 791.6 875.5 793.0 876.3 794.2 877.0 795.4 877.6 796.5 878.1 797.6 878.6 798.6 879.0 799.5 879.4 800.4 879.8 801.2 880.1 801.9 880.4 802.6 880.7 803.3 880.9 803.9 881.1 804.4 881.4 804.9 881.6 805.3 881.8 805.7 882.0 806.1 882.1 806.4 882.3 806.7 882.5 806.9 882.6 807.1 882.7 807.3 882.9 807.4 883.0 807.5 883.1 807.6 883.2 807.7 883.3 807.7 883.4 807.7 883.4 807.7 883.5 807.7 883.5 807.6 883.6 807.6 883.6 807.5 883.6 807.4 883.5 807.3 883.5 807.1 883.4 807.0 883.3 806.8 883.2 806.6 883.1 806.5 883.0 806.3 882.8 806.0 882.6 805.7 882.4 805.4 882.1 805.1 881.8 804.7 881.4 804.2 881.0 803.7 880.6 803.2 880.1 802.6 879.6 801.9 879.1 801.2 878.6 800.4 878.0 799.6 877.5 798.8 876.9 797.8 876.3 796.9 875.7 795.9 875.1 794.8 874.6 793.7 874.0 792.6 873.5 791.4 872.9 790.2 872.4 789.0 871.9 787.7 871.5 786.5 871.0 785.2 870.6 783.9 870.2 782.7 869.9 781.4 869.6 780.1 869.3 778.9 869.0 777.7 868.8 776.5 868.6 775.3 868.4 774.2 868.2 773.1 868.1 772.1 867.9 771.1 867.8 770.2 867.7 769.3 867.7 768.4 867.6 767.6 867.5 766.7 867.4 765.9 867.3 765.2 867.3 764.4 867.2 763.6 867.1 762.9 867.1 762.3 867.0 761.6 867.0 761.0 867.0 760.4 867.0 759.9 867.0 759.4 867.0 759.0 867.0 758.6 867.0 758.2 867.0 758.0 867.0 757.7 867.0 757.5 866.9 757.4 866.9 757.3 866.9 757.2 866.8 757.2 866.7 757.2 866.6 757.3 866.5 757.4 866.3 757.5 866.2 757.6 866.0 757.8 865.8 757.9 865.6 758.1 865.3 758.3 865.1 758.5 864.8 758.6 864.6 758.8 864.3 759.0 864.1 759.1 863.8 759.3 863.5 759.4 863.3M795.3 843.4 795.5 844.2 795.8 845.0 796.1 845.9 796.5 846.8 796.9 847.8 797.4 848.8 797.9 849.8 798.5 850.9 799.2 851.9 799.9 852.9 800.7 853.9 801.5 854.8 802.4 855.7 803.4 856.6 804.3 857.3 805.3 858.0 806.3 858.6 807.3 859.1 808.3 859.5 809.2 859.8 810.1 860.1 811.0 860.2 811.8 860.2 812.5 860.2 813.2 860.1 813.8 859.9 814.3 859.6 814.6 859.3 814.9 859.0 815.1 858.6 815.2 858.2 815.2 857.8 815.1 857.4 815.0 857.0 814.7 856.6 814.4 856.2 814.0 855.9 813.6 855.5 813.1 855.2 812.6 854.9 812.0 854.6 811.4 854.3 810.8 854.1 810.0 853.9 809.3 853.6 808.5 853.5 807.7 853.3 806.8 853.2 805.9 853.1 805.0 853.0 804.0 852.9 803.1 852.9 802.1 852.9 801.1 853.0 800.1 853.0 799.0 853.1 798.0 853.3 797.0 853.4 795.9 853.6 794.9 853.8 793.9 854.0 792.9 854.3 791.9 854.5 790.9 854.8 790.0 855.1 789.0 855.4 788.1 855.7 787.2 856.0 786.3 856.4 785.4 856.7 784.6 857.0 783.8 857.3 783.0 857.6 782.2 857.9 781.5 858.2 780.7 858.5 780.0 858.8 779.3 859.1 778.6 859.3 778.0 859.6 777.3 859.8 776.7 860.0 776.1 860.2 775.4 860.4 774.8 860.7 774.2 860.9 773.6 861.1 773.0 861.3 772.5 861.6 771.9 861.8 771.4 862.1 770.9 862.3 770.5 862.6 770.0 862.8 769.6 863.1 769.3 863.4 769.0 863.6 768.7 863.9 768.5 864.1 768.3 864.4 768.2 864.6 768.1 864.8 768.0 865.0 768.0 865.2 768.0 865.3 768.0 865.4 768.1 865.5 768.2 865.6 768.3 865.6 768.5 865.6 768.6 865.6 768.8 865.6 768.9 865.5 769.1 865.4 769.3 865.3 769.4 865.1 769.6 865.0 769.7 864.8 769.9 864.7 770.0 864.5 770.1 864.3 770.3 864.0 770.4 863.8 770.5 863.5 770.7 863.1 770.8 862.8 770.9 862.4 771.0 862.0 771.0 861.6 771.1 861.2 771.2 860.7 771.2 860.2 771.2 859.7 771.2 859.2 771.2 858.6 771.2 858.1 771.1 857.5 771.1 856.9 771.0 856.3 770.9 855.7 770.8 855.1 770.6 854.5 770.5 853.9 770.3 853.3 770.1 852.7 769.9 852.1 769.7 851.5 769.5 850.9 769.3 850.3 769.1 849.8 768.8 849.3 768.6 848.7 768.4 848.2 768.2 847.8 767.9 847.3 767.7 846.9 767.5 846.5 767.3 846.1 767.1 845.8M792.5 820.7 791.4 822.0 790.2 823.4 789.1 825.1 788.0 827.1 787.1 829.2 786.3 831.6 785.7 834.0 785.5 836.5 785.5 839.0 785.9 841.4 786.6 843.5 787.5 845.3 788.5 846.7 789.6 847.6 790.6 848.0 791.3 847.9 791.7 847.4 791.6 846.6 790.9 845.7 789.7 844.7 787.9 843.9 785.6 843.4 783.0 843.2 780.1 843.5 777.1 844.3 774.1 845.6 771.3 847.4 768.8 849.5 766.6 851.8 764.8 854.3 763.4 856.9 762.4 859.5 761.7 861.9 761.3 864.2 761.1 866.3 761.2 868.2 761.3 869.8 761.6 871.2 762.0 872.4 762.4 873.4 762.8 874.4 763.4 875.2 764.0 876.0 764.6 876.7 765.3 877.3 766.1 877.8 766.9 878.3 767.8 878.7 768.7 879.0 769.7 879.3 770.6 879.5 771.6 879.6 772.6 879.7 773.5 879.7 774.5 879.6 775.4 879.5 776.3 879.3 777.2 879.1 778.0 878.9 778.7 878.6 779.4 878.3 780.0 878.0 780.6 877.7 781.1 877.4 781.5 877.1 781.9 876.9 782.3 876.6 782.6 876.4 782.9 876.2 783.1 876.0 783.3 875.8 783.4 875.6 783.5 875.5 783.5 875.4 783.6 875.2 783.5 875.1 783.3 874.9 783.0 874.6 782.6 874.3 782.1 873.9 781.4 873.4 780.6 872.8 779.6 872.2 778.6 871.5 777.4 870.8 776.0 870.2 774.6 869.5 773.1 869.0 771.4 868.5 769.7 868.1 768.0 867.8 766.3 867.6 764.6 867.5 763.0 867.5 761.4 867.7 760.0 867.9 758.8 868.2 757.7 868.5 756.8 868.9 756.1 869.2 755.6 869.4 755.4 869.4 755.2 869.3 755.2 869.0 755.3 868.5 755.5 867.7 755.6 866.7 755.7 865.5 755.6 864.1 755.4 862.6 755.1 860.9 754.6 859.2 753.9 857.4 753.1 855.7 752.1 854.1 751.0 852.6 749.8 851.2 748.6 850.0 747.4 848.9 746.2 848.0 744.9 847.2 743.6 846.5 742.4 845.8 741.1 845.3 739.8 844.9 738.6 844.6 737.4 844.3 736.2 844.1 735.0 844.0 733.9 844.0 732.9 844.0 731.8 844.1 730.8 844.2 729.9 844.3 729.0 844.5 728.1 844.8 727.3 845.0 726.6 845.3 725.8 845.6 725.1 845.9 724.5 846.2 723.9 846.6 723.3 846.9 722.7 847.3 722.2 847.7 721.7 848.0 721.3 848.4 720.9 848.7 720.5 849.1 720.1 849.4 719.8 849.8 719.4 850.1 719.1 850.4 718.8 850.7 718.6 851.0 718.3 851.3 718.1 851.6 717.9 851.8 717.7 852.1M801.2 816.8 800.3 817.1 799.3 817.6 798.2 818.2 797.0 818.8 795.6 819.6 794.2 820.5 792.6 821.6 791.0 822.9 789.4 824.3 787.7 826.0 786.0 827.8 784.4 829.9 782.9 832.1 781.5 834.5 780.3 837.0 779.3 839.7 778.4 842.4 777.8 845.1 777.4 847.7 777.2 850.3 777.3 852.8 777.5 855.1 777.8 857.2 778.2 859.1 778.7 860.7 779.2 862.2 779.7 863.4 780.1 864.3 780.5 865.1 780.7 865.8 780.9 866.3 780.9 866.6 780.9 866.9 780.7 867.2 780.5 867.3 780.1 867.5 779.8 867.6 779.3 867.8 778.9 867.9 778.5 868.0 778.0 868.2 777.6 868.3 777.2 868.5 776.7 868.7 776.3 868.9 776.0 869.1 775.6 869.3 775.2 869.5 774.9 869.7 774.6 869.9 774.3 870.1 774.0 870.3 773.8 870.5 773.6 870.7 773.3 870.9 773.1 871.1 773.0 871.3 772.8 871.5 772.6 871.6 772.5 871.8 772.4 871.9 772.2 872.1 772.1 872.2 772.0 872.3 771.9 872.4 771.8 872.4 771.6 872.5 771.5 872.6 771.4 872.6 771.2 872.6 771.1 872.6 770.9 872.6 770.6 872.5 770.4 872.5 770.1 872.4 769.7 872.3 769.4 872.2 768.9 872.1 768.5 871.9 768.0 871.7 767.4 871.5 766.8 871.3 766.2 871.0 765.5 870.7 764.9 870.4 764.2 870.0 763.4 869.7 762.6 869.3 761.9 868.9 761.1 868.5 760.2 868.1 759.4 867.8 758.6 867.4 757.8 867.0 756.9 866.6 756.1 866.3 755.3 865.9 754.5 865.6 753.7 865.3 752.9 865.0 752.1 864.7 751.3 864.4 750.6 864.2 749.9 863.9 749.2 863.7 748.6 863.4 748.0 863.2 747.4 863.0 746.8 862.8 746.3 862.7 745.7 862.5 745.3 862.3 744.8 862.2 744.4 862.1 744.0 861.9 743.6 861.8 743.3 861.7 743.0 861.6 742.6 861.6 742.4 861.5 742.1 861.4 741.8 861.4 741.5 861.3 741.3 861.3 741.0 861.2 740.8 861.2 740.6 861.1 740.3 861.1 740.1 861.0 739.9 861.0 739.7 860.9 739.5 860.9 739.3 860.8 739.2 860.7 739.0 860.6 738.8 860.6 738.7 860.5 738.5 860.4 738.4 860.3 738.2 860.2 738.1 860.1 738.0 860.0 737.9 859.9 737.7 859.7 737.6 859.6 737.5 859.5 737.4 859.3 737.3 859.2 737.2 859.1 737.1 858.9 737.0 858.8 736.9 858.6 736.8 858.5 736.7 858.3 736.6 858.1 736.5 858.0 736.5 857.8 736.4 857.7 736.3 857.5M722.6 859.8 723.3 860.6 724.1 861.3 724.9 862.1 725.8 862.9 726.8 863.7 727.9 864.4 729.0 865.1 730.1 865.7 731.3 866.2 732.5 866.6 733.7 866.9 734.8 867.1 735.9 867.2 736.8 867.2 737.6 867.1 738.3 866.9 738.9 866.6 739.2 866.3 739.4 865.9 739.3 865.6 739.1 865.4 738.7 865.2 738.1 865.1 737.4 865.2 736.6 865.3 735.7 865.7 734.7 866.2 733.6 866.8 732.6 867.6 731.6 868.5 730.6 869.6 729.7 870.8 728.9 872.0 728.1 873.4 727.5 874.7 727.0 876.1 726.5 877.4 726.2 878.7 726.0 880.0 725.8 881.2 725.7 882.4 725.7 883.6 725.8 884.9 725.9 886.1 726.2 887.3 726.5 888.4 726.8 889.6 727.3 890.7 727.7 891.9 728.3 892.9 728.9 894.0 729.5 894.9 730.2 895.9 730.9 896.8 731.6 897.6 732.3 898.4 733.1 899.1 733.8 899.8 734.5 900.4 735.3 901.0 736.0 901.5 736.6 902.0 737.3 902.4 737.9 902.8 738.5 903.1 739.0 903.4 739.4 903.7 739.8 903.9 740.2 904.0 740.4 904.2 740.6 904.3 740.7 904.4 740.8 904.4 740.8 904.5 740.8 904.5 740.8 904.5 740.8 904.6 740.8 904.6 740.8 904.6 740.8 904.6 740.8 904.6 740.8 904.5 740.8 904.3 740.9 904.1 740.9 903.8 740.9 903.4 740.9 902.9 740.8 902.3 740.7 901.6 740.6 900.8 740.4 899.9 740.0 898.9 739.6 897.8 739.1 896.6 738.4 895.3 737.7 894.0 736.7 892.7 735.7 891.3 734.6 890.0 733.3 888.7 731.9 887.4 730.4 886.1 728.8 885.0 727.2 883.9 725.5 882.9 723.8 881.9 722.0 881.1 720.2 880.4 718.5 879.8 716.7 879.2 715.0 878.8 713.4 878.4 711.8 878.2 710.3 878.0 708.9 877.9 707.5 877.8 706.3 877.8 705.2 877.9 704.1 877.9 703.2 878.0 702.3 878.1 701.4 878.2 700.6 878.4 699.9 878.5 699.2 878.7 698.5 878.9 697.9 879.0 697.3 879.2 696.8 879.4 696.3 879.6 695.9 879.7 695.5 879.9 695.2 880.1 694.9 880.2 694.6 880.4 694.3 880.5 694.1 880.6 693.9 880.7 693.8 880.8 693.7 880.9 693.6 880.9 693.5 881.0 693.4 881.0 693.4 881.0 693.4 881.1 693.4 881.0 693.4 881.0 693.4 881.0 693.4 881.0 693.4 880.9 693.5 880.9 693.5 880.8 693.5 880.8 693.6 880.7 693.6 880.6 693.7 880.5 693.7 880.5 693.8 880.4 693.8 880.3M625.4 865.3 627.2 865.4 629.1 865.3 631.2 865.0 633.3 864.4 635.4 863.6 637.4 862.5 639.3 861.2 640.8 859.6 642.0 857.8 642.7 856.0 642.9 854.1 642.5 852.5 641.7 851.0 640.3 850.1 638.6 849.6 636.6 849.9 634.5 850.8 632.5 852.5 630.8 854.9 629.4 857.9 628.5 861.4 628.3 865.3 628.8 869.3 630.0 873.4 631.8 877.3 634.2 880.9 637.0 884.1 640.1 886.8 643.5 888.9 646.8 890.5 650.1 891.7 653.3 892.4 656.2 892.7 658.8 892.7 661.1 892.4 663.0 892.1 664.6 891.6 666.0 891.1 667.0 890.6 667.8 890.2 668.4 889.8 668.9 889.3 669.3 889.0 669.5 888.6 669.6 888.2 669.7 887.9 669.6 887.5 669.4 887.1 669.2 886.7 668.9 886.3 668.5 885.8 668.0 885.4 667.4 884.9 666.7 884.4 665.9 883.9 665.1 883.4 664.1 882.9 663.1 882.4 662.0 882.0 660.8 881.6 659.6 881.3 658.3 881.0 656.9 880.8 655.5 880.6 654.1 880.5 652.7 880.5 651.3 880.5 649.9 880.6 648.5 880.8 647.2 881.0 645.9 881.3 644.7 881.6 643.5 882.0 642.4 882.4 641.4 882.8 640.4 883.2 639.6 883.7 638.8 884.1 638.1 884.5 637.4 884.9 636.8 885.4 636.2 885.8 635.6 886.2 635.0 886.7 634.5 887.1 634.0 887.5 633.5 888.0 633.0 888.4 632.6 888.9 632.1 889.3 631.7 889.7 631.3 890.1 630.9 890.5 630.6 890.9 630.2 891.3 629.9 891.7 629.6 892.1 629.3 892.5 629.0 892.8 628.7 893.2 628.5 893.5 628.2 893.8 628.0 894.1 627.8 894.5 627.6 894.7 627.4 895.0 627.3 895.3 627.1 895.6 627.0 895.8 626.9 896.0 626.8 896.2 626.8 896.4 626.8 896.6 626.8 896.8 626.8 896.9 626.8 897.0 626.9 897.1 627.0 897.1 627.2 897.1 627.3 897.1 627.6 897.0 627.8 896.8 628.1 896.6 628.5 896.3 628.9 895.9 629.3 895.3 629.8 894.7 630.2 894.0 630.7 893.1 631.1 892.2 631.6 891.1 632.0 889.9 632.3 888.5 632.6 887.1 632.8 885.5 632.9 883.9 632.9 882.2 632.7 880.4 632.5 878.6 632.1 876.7 631.6 874.9 630.9 873.0 630.1 871.3 629.2 869.5 628.2 867.9 627.1 866.3 625.9 864.9 624.7 863.5 623.4 862.3 622.1 861.2 620.8 860.3 619.5 859.5 618.2 858.8 617.0 858.2 615.9 857.8 614.8 857.4 613.8 857.1 612.9 856.9 612.1 856.8M724.5 836.3 724.1 836.7 723.6 837.1 723.1 837.6 722.5 838.2 721.9 838.9 721.3 839.7 720.7 840.5 720.0 841.4 719.3 842.4 718.7 843.5 718.0 844.6 717.4 845.9 716.8 847.2 716.3 848.6 715.7 850.1 715.3 851.7 714.9 853.3 714.6 855.0 714.4 856.8 714.2 858.5 714.2 860.3 714.2 862.2 714.4 864.0 714.6 865.8 714.9 867.5 715.3 869.3 715.8 871.0 716.4 872.6 717.0 874.2 717.7 875.7 718.5 877.1 719.3 878.4 720.1 879.6 721.0 880.8 721.8 881.8 722.7 882.7 723.5 883.6 724.4 884.4 725.2 885.1 726.0 885.7 726.8 886.3 727.8 886.8 728.7 887.3 729.7 887.8 730.7 888.2 731.7 888.6 732.7 888.9 733.8 889.2 734.9 889.4 735.9 889.6 737.0 889.7 738.0 889.8 739.0 889.9 740.0 889.8 740.9 889.8 741.8 889.7 742.7 889.6 743.5 889.5 744.3 889.3 745.0 889.1 745.7 888.9 746.3 888.8 746.9 888.6 747.4 888.4 747.8 888.2 748.2 888.0 748.6 887.9 748.8 887.8 749.1 887.7 749.2 887.6 749.3 887.5 749.4 887.5 749.4 887.4 749.4 887.3 749.4 887.2 749.3 886.9 749.2 886.6 749.1 886.2 749.0 885.7 748.8 885.1 748.6 884.3 748.2 883.4 747.9 882.4 747.4 881.3 746.8 880.0 746.0 878.7 745.2 877.3 744.2 875.9 743.0 874.4 741.7 872.9 740.2 871.4 738.6 870.0 736.8 868.6 734.8 867.3 732.7 866.1 730.6 865.0 728.3 864.1 726.0 863.3 723.7 862.7 721.3 862.2 719.0 861.9 716.7 861.8 714.5 861.8 712.4 862.0 710.4 862.3 708.5 862.6 706.8 863.1 705.2 863.6 703.8 864.1 702.5 864.7 701.3 865.3 700.3 865.9 699.4 866.4 698.7 866.9 698.0 867.4 697.5 867.9 697.0 868.3 696.6 868.6 696.3 868.9 696.0 869.2 695.8 869.4 695.6 869.6 695.5 869.7 695.3 869.9 695.2 869.9 695.2 870.0 695.1 870.0 695.1 870.0 695.1 870.0 695.1 869.9 695.1 869.8 695.1 869.7 695.2 869.5 695.2 869.3 695.3 869.1 695.3 868.9 695.4 868.6 695.5 868.4 695.5 868.1 695.6 867.8 695.6 867.5 695.7 867.2 695.8 866.8 695.8 866.5 695.9 866.1 695.9 865.8 696.0 865.4 696.0 865.0 696.0 864.7 696.1 864.3 696.1 863.9 696.1 863.6 696.1 863.2 696.1 862.9 696.1 862.5 696.1 862.2 696.1 861.9 696.1 861.6 696.1 861.3M788.2 840.6 787.7 841.3 787.1 842.1 786.4 842.9 785.8 843.9 785.1 845.0 784.4 846.2 783.7 847.5 783.0 848.9 782.4 850.5 781.8 852.1 781.3 853.9 780.9 855.7 780.6 857.6 780.4 859.6 780.3 861.6 780.4 863.6 780.6 865.6 780.9 867.5 781.4 869.4 782.0 871.2 782.6 872.9 783.4 874.4 784.2 875.8 785.1 877.1 786.0 878.1 786.8 879.1 787.7 879.8 788.5 880.5 789.2 881.0 789.9 881.3 790.5 881.6 790.9 881.8 791.3 881.9 791.6 881.9 791.9 881.9 792.0 881.9 792.1 881.9 792.1 881.8 792.0 881.7 792.0 881.7 791.9 881.6 791.8 881.6 791.6 881.6 791.5 881.6 791.4 881.5 791.2 881.5 791.1 881.5 790.9 881.6 790.8 881.6 790.6 881.6 790.5 881.7 790.3 881.7 790.2 881.8 790.0 881.8 789.9 881.9 789.7 882.0 789.6 882.1 789.5 882.1 789.3 882.2 789.2 882.3 789.0 882.4 788.9 882.5 788.8 882.6 788.7 882.7 788.5 882.7 788.4 882.8 788.3 882.9 788.1 883.0 788.0 883.0 787.8 883.1 787.6 883.1 787.4 883.1 787.1 883.1 786.8 883.1 786.5 883.1 786.1 883.0 785.6 883.0 785.1 882.9 784.5 882.8 783.9 882.7 783.2 882.6 782.4 882.5 781.6 882.4 780.7 882.2 779.7 882.1 778.8 882.0 777.7 881.9 776.7 881.8 775.6 881.8 774.5 881.8 773.4 881.8 772.3 881.8 771.2 881.9 770.1 882.0 769.0 882.1 768.0 882.3 767.0 882.5 766.0 882.7 765.1 882.9 764.2 883.1 763.4 883.3 762.7 883.6 762.0 883.8 761.3 884.0 760.7 884.2 760.2 884.3 759.7 884.5 759.3 884.6 758.9 884.6 758.6 884.7 758.2 884.7 758.0 884.6 757.7 884.5 757.5 884.4 757.3 884.3 757.1 884.1 756.9 883.9 756.8 883.7 756.6 883.5 756.5 883.3 756.4 883.0 756.3 882.6 756.1 882.3 756.0 881.9 755.9 881.5 755.8 881.1 755.7 880.6 755.5 880.1 755.4 879.6 755.3 879.1 755.1 878.5 755.0 877.9 754.8 877.3 754.7 876.7 754.5 876.1 754.3 875.5 754.1 874.8 753.9 874.2 753.6 873.5 753.4 872.8 753.2 872.2 752.9 871.5 752.6 870.9 752.4 870.2 752.1 869.6 751.8 868.9 751.5 868.3 751.2 867.7 750.9 867.1 750.6 866.5 750.2 866.0 749.9 865.5 749.6 865.0 749.3 864.5 749.0 864.0 748.7 863.6 748.4 863.2 748.2 862.8 747.9 862.5M704.9 838.6 705.0 838.8 705.0 839.0 704.9 839.3 704.9 839.5 704.8 839.8 704.6 840.1 704.4 840.4 704.1 840.7 703.7 841.2 703.3 841.6 702.8 842.2 702.2 842.8 701.5 843.5 700.7 844.3 699.9 845.3 699.1 846.3 698.2 847.5 697.2 848.8 696.3 850.3 695.4 851.9 694.6 853.6 693.8 855.4 693.0 857.3 692.4 859.2 691.8 861.3 691.3 863.3 690.9 865.4 690.6 867.5 690.4 869.5 690.3 871.5 690.3 873.5 690.3 875.3 690.4 877.1 690.5 878.8 690.6 880.3 690.7 881.8 690.9 883.1 691.0 884.3 691.1 885.4 691.1 886.4 691.2 887.3 691.2 888.2 691.2 889.1 691.2 889.9 691.2 890.6 691.1 891.2 691.1 891.8 691.0 892.4 690.9 892.9 690.8 893.3 690.6 893.6 690.4 893.9 690.2 894.1 690.0 894.2 689.8 894.3 689.5 894.4 689.1 894.3 688.8 894.3 688.4 894.1 688.0 894.0 687.5 893.8 687.0 893.6 686.5 893.3 685.9 893.1 685.3 892.8 684.7 892.5 684.1 892.2 683.5 891.9 682.8 891.6 682.2 891.3 681.6 891.0 680.9 890.7 680.3 890.5 679.8 890.2 679.2 890.0 678.7 889.7 678.2 889.5 677.8 889.4 677.4 889.2 677.1 889.0 676.8 888.9 676.5 888.7 676.3 888.5 676.2 888.3 676.0 888.1 675.9 887.9 675.9 887.7 675.8 887.4 675.8 887.1 675.8 886.8 675.8 886.5 675.8 886.1 675.9 885.7 675.9 885.3 676.0 884.9 676.0 884.5 676.1 884.1 676.1 883.6 676.2 883.2 676.2 882.7 676.3 882.3 676.3 881.8 676.4 881.3 676.4 880.8 676.4 880.4 676.4 879.9 676.4 879.4 676.4 879.0 676.4 878.5 676.3 878.0 676.3 877.6 676.2 877.1 676.1 876.7 675.9 876.3 675.8 875.9 675.6 875.5 675.3 875.1 675.1 874.7 674.8 874.3 674.4 873.9 674.0 873.5 673.6 873.1 673.1 872.7 672.6 872.3 672.1 871.9 671.5 871.5 670.9 871.1 670.3 870.6 669.6 870.2 668.9 869.8 668.2 869.4 667.5 869.0 666.8 868.7 666.0 868.3 665.3 868.0 664.5 867.6 663.8 867.3 663.0 867.0 662.2 866.8 661.5 866.5 660.7 866.3 660.0 866.0 659.2 865.9 658.5 865.7 657.8 865.5 657.2 865.4 656.5 865.3 655.9 865.1 655.3 865.1 654.7 865.0 654.2 864.9 653.7 864.9 653.2 864.8 652.8 864.8 652.4 864.7 652.1 864.7 651.7 864.7 651.5 864.7 651.2 864.6M703.8 871.2 703.9 872.1 704.0 873.0 704.1 874.0 704.2 875.0 704.5 876.1 704.7 877.3 705.1 878.5 705.5 879.7 706.0 880.9 706.6 882.2 707.2 883.4 707.9 884.5 708.8 885.7 709.6 886.7 710.6 887.7 711.6 888.6 712.7 889.4 713.8 890.1 714.9 890.7 716.0 891.1 717.2 891.5 718.3 891.7 719.3 891.8 720.4 891.8 721.3 891.7 722.2 891.5 723.1 891.2 723.8 890.8 724.5 890.4 725.0 889.9 725.5 889.4 725.9 888.8 726.3 888.3 726.5 887.7 726.7 887.1 726.9 886.5 726.9 886.0 727.0 885.4 727.0 884.9 726.9 884.3 726.9 883.7 726.8 883.1 726.6 882.4 726.4 881.7 726.1 881.0 725.6 880.3 725.1 879.7 724.4 879.2 723.7 878.7 722.9 878.5 722.0 878.4 721.0 878.4 720.1 878.7 719.1 879.2 718.2 879.9 717.4 880.7 716.7 881.8 716.1 883.0 715.6 884.4 715.3 885.8 715.2 887.3 715.2 888.9 715.3 890.5 715.6 892.0 716.0 893.5 716.5 895.0 717.1 896.4 717.7 897.6 718.4 898.8 719.0 899.8 719.6 900.8 720.1 901.6 720.5 902.3 720.9 903.0 721.2 903.6 721.4 904.2 721.6 904.8 721.7 905.5 721.9 906.2 722.1 907.1 722.3 908.1 722.7 909.1 723.2 910.1 723.7 911.1 724.4 912.0 725.2 912.7 726.1 913.2 726.9 913.4 727.7 913.3 728.4 912.8 728.9 912.1 729.1 911.1 728.9 909.8 728.4 908.3 727.5 906.7 726.1 905.0 724.3 903.5 722.1 902.1 719.6 900.9 716.8 900.0 713.8 899.4 710.6 899.1 707.4 899.2 704.3 899.7 701.3 900.4 698.4 901.4 695.8 902.6 693.5 904.0 691.4 905.4 689.6 906.9 688.2 908.4 687.0 909.9 686.0 911.2 685.3 912.4 684.9 913.4 684.6 914.3 684.5 914.9 684.4 915.4 684.5 915.7 684.7 915.8 685.0 915.7 685.4 915.5 685.9 915.1 686.5 914.4 687.1 913.6 687.7 912.5 688.4 911.2 689.1 909.6 689.7 907.8 690.2 905.7 690.6 903.4 690.8 900.9 690.8 898.3 690.5 895.5 689.9 892.6 689.1 889.7 687.9 886.9 686.5 884.1 684.7 881.6 682.7 879.3 680.6 877.2 678.2 875.6 675.8 874.2 673.4 873.3 671.1 872.7 668.9 872.4 666.9 872.5 665.1 872.8 663.5 873.4 662.2 874.1 661.2 874.9 660.5 875.8 660.0 876.7 659.7 877.6 659.6 878.5 659.7 879.2 659.9 879.9 660.1 880.5 660.4 881.0M676.0 838.3 675.6 838.7 675.2 839.1 674.8 839.6 674.4 840.1 674.0 840.7 673.6 841.3 673.1 841.9 672.7 842.6 672.2 843.4 671.8 844.2 671.4 845.0 670.9 845.9 670.6 846.8 670.2 847.8 669.8 848.8 669.5 849.9 669.3 850.9 669.0 852.0 668.8 853.2 668.7 854.3 668.6 855.5 668.5 856.6 668.5 857.8 668.5 858.9 668.6 860.1 668.8 861.2 668.9 862.3 669.2 863.4 669.4 864.4 669.7 865.4 670.0 866.4 670.4 867.3 670.7 868.1 671.1 868.9 671.5 869.7 672.0 870.4 672.4 871.0 672.8 871.6 673.2 872.1 673.6 872.6 674.1 873.0 674.6 873.4 675.0 873.8 675.5 874.2 676.0 874.5 676.5 874.7 677.0 874.9 677.5 875.0 678.0 875.1 678.4 875.2 678.8 875.1 679.2 875.1 679.6 875.0 680.0 874.8 680.2 874.6 680.5 874.3 680.7 874.0 680.9 873.6 681.0 873.3 681.0 872.9 681.0 872.4 681.0 872.0 680.9 871.5 680.7 871.0 680.5 870.5 680.2 870.0 679.9 869.5 679.6 869.0 679.2 868.5 678.8 868.0 678.3 867.5 677.8 867.0 677.3 866.5 676.8 866.1 676.2 865.6 675.6 865.1 675.0 864.7 674.4 864.2 673.7 863.7 673.1 863.2 672.4 862.8 671.7 862.3 671.0 861.8 670.2 861.3 669.4 860.7 668.6 860.2 667.8 859.7 666.9 859.2 666.0 858.7 665.0 858.2 664.0 857.7 663.0 857.3 662.0 856.9 661.0 856.5 659.9 856.1 658.8 855.8 657.8 855.6 656.7 855.3 655.6 855.2 654.5 855.0 653.4 854.9 652.4 854.9 651.3 854.9 650.3 855.0 649.4 855.1 648.4 855.3 647.5 855.5 646.7 855.7 645.8 856.0 645.1 856.3 644.4 856.6 643.7 857.0 643.1 857.3 642.6 857.7 642.1 858.1 641.7 858.5 641.3 858.9 641.0 859.3 640.7 859.7 640.5 860.1 640.3 860.5 640.1 860.9 640.1 861.2 640.0 861.5 640.0 861.8 640.1 862.1 640.2 862.3 640.4 862.5 640.6 862.6 640.8 862.7 641.1 862.6 641.4 862.6 641.7 862.4 642.0 862.2 642.3 861.9 642.6 861.5 643.0 861.1 643.3 860.6 643.6 860.1 643.8 859.5 644.1 858.9 644.2 858.2 644.4 857.4 644.5 856.7 644.6 855.9 644.7 855.1 644.7 854.3 644.7 853.6 644.6 852.8 644.5 852.0 644.4 851.2 644.3 850.5 644.1 849.8 643.9 849.1 643.8 848.5 643.6 847.9 643.4 847.3 643.2 846.8 643.0 846.3M634.6 873.0 635.1 873.9 635.7 874.8 636.4 875.8 637.3 876.9 638.2 878.0 639.3 879.2 640.6 880.3 642.0 881.5 643.5 882.6 645.1 883.6 646.9 884.6 648.8 885.4 650.8 886.2 652.9 886.8 655.0 887.2 657.1 887.5 659.2 887.6 661.2 887.5 663.2 887.3 665.0 886.9 666.8 886.3 668.3 885.7 669.7 885.0 670.9 884.2 671.9 883.3 672.7 882.5 673.3 881.6 673.8 880.8 674.0 880.1 674.1 879.4 674.1 878.9 674.0 878.4 673.7 878.0 673.5 877.8 673.1 877.6 672.7 877.5 672.3 877.5 671.9 877.5 671.5 877.6 671.0 877.7 670.6 877.9 670.1 878.1 669.6 878.4 669.1 878.6 668.6 878.9 668.0 879.3 667.5 879.6 666.9 879.9 666.3 880.3 665.7 880.7 665.0 881.1 664.3 881.5 663.7 882.0 663.0 882.5 662.2 883.0 661.5 883.5 660.8 884.0 660.0 884.6 659.3 885.1 658.5 885.7 657.8 886.4 657.1 887.0 656.3 887.6 655.6 888.3 654.9 889.0 654.3 889.7 653.6 890.4 653.0 891.1 652.4 891.8 651.8 892.5 651.2 893.2 650.7 893.9 650.2 894.6 649.8 895.2 649.4 895.9 649.0 896.5 648.6 897.1 648.3 897.7 648.0 898.3 647.7 898.9 647.4 899.4 647.1 900.0 646.9 900.6 646.7 901.1 646.5 901.7 646.3 902.2 646.1 902.8 646.0 903.3 645.8 903.8 645.7 904.3 645.6 904.8 645.6 905.3 645.5 905.7 645.5 906.1 645.5 906.4 645.5 906.8 645.6 907.0 645.6 907.3 645.7 907.5 645.8 907.7 645.9 907.8 646.0 907.8 646.1 907.9 646.2 907.8 646.3 907.8 646.4 907.7 646.5 907.5 646.6 907.3 646.7 907.0 646.8 906.7 646.8 906.3 646.9 905.9 647.0 905.5 647.0 905.0 647.0 904.4 647.0 903.9 647.0 903.2 647.0 902.6 647.0 901.9 646.9 901.1 646.8 900.3 646.7 899.4 646.6 898.4 646.4 897.3 646.1 896.2 645.8 895.1 645.5 893.9 645.1 892.6 644.6 891.3 644.1 890.0 643.5 888.7 642.8 887.4 642.1 886.1 641.3 884.8 640.4 883.6 639.5 882.4 638.6 881.2 637.6 880.1 636.6 879.0 635.5 878.0 634.5 877.1 633.4 876.3 632.4 875.5 631.3 874.8 630.3 874.1 629.3 873.5 628.3 873.0 627.4 872.6 626.5 872.2 625.6 871.9 624.8 871.6 624.1 871.4 623.4 871.2 622.7 871.0 622.1 870.9 621.6 870.9 621.1 870.8 620.7 870.8 620.3 870.7M767.2 758.3 762.3 757.8 755.8 757.1 748.0 756.2 739.3 755.3 730.1 754.3 720.9 753.2 711.8 752.2 703.4 751.3 695.4 750.4 687.5 749.4 679.5 748.4 671.5 747.4 663.5 746.5 655.5 745.6 647.6 744.7 639.6 744.0 631.6 743.3 623.6 742.7 615.6 742.1 607.7 741.6 599.7 741.2 591.7 740.8 583.7 740.5 575.8 740.3 567.3 740.2 558.3 740.2 549.0 740.3 539.8 740.5 531.2 740.7 523.4 740.9 516.8 741.1 511.9 741.2M742.6 767.7 738.8 768.5 733.7 769.5 727.7 770.8 721.0 772.2 713.9 773.6 706.7 775.0 699.7 776.1 693.2 776.9 687.0 777.3 680.8 777.5 674.6 777.5 668.5 777.4 662.3 777.3 656.1 777.2 649.9 777.2 643.8 777.4 637.6 777.8 631.4 778.2 625.2 778.7 619.1 779.3 612.9 779.9 606.7 780.6 600.5 781.3 594.4 782.0 587.8 782.8 580.8 783.8 573.7 784.8 566.6 785.8 559.9 786.7 553.8 787.6 548.8 788.4 544.9 788.9M779.0 793.8 774.0 794.1 767.3 794.5 759.4 794.9 750.6 795.5 741.4 796.0 731.9 796.6 722.8 797.2 714.3 797.8 706.2 798.5 698.1 799.2 690.0 800.0 681.9 800.8 673.8 801.6 665.7 802.3 657.6 802.8 649.6 803.1 641.5 803.2 633.4 803.1 625.3 802.8 617.2 802.5 609.1 802.1 601.0 801.7 592.9 801.3 584.9 801.0 576.3 800.7 567.2 800.4 557.7 800.1 548.5 799.8 539.7 799.5 531.8 799.2 525.1 799.0 520.2 798.8M751.6 787.0 747.1 786.3 741.1 785.4 733.9 784.3 725.9 783.1 717.5 781.8 709.0 780.5 700.6 779.3 692.9 778.2 685.6 777.0 678.2 775.8 670.9 774.4 663.5 773.2 656.2 772.0 648.9 771.1 641.5 770.5 634.2 770.2 626.8 770.4 619.5 770.9 612.1 771.7 604.8 772.7 597.5 773.8 590.1 775.1 582.8 776.4 575.4 777.6 567.7 779.0 559.4 780.7 550.8 782.5 542.4 784.3 534.4 786.1 527.2 787.7 521.2 789.1 516.7 790.1M786.6 788.0 781.1 787.9 773.9 787.9 765.2 787.8 755.6 787.7 745.4 787.6 735.1 787.2 725.1 786.7 715.8 785.9 706.9 784.9 698.1 783.7 689.2 782.3 680.4 780.7 671.5 779.0 662.7 777.2 653.8 775.4 645.0 773.6 636.1 771.6 627.3 769.5 618.4 767.3 609.6 765.0 600.7 762.7 591.9 760.4 583.0 758.2 574.2 756.2 564.8 754.1 554.8 752.0 544.5 750.0 534.3 748.0 524.7 746.1 516.1 744.4 508.8 743.0 503.3 741.9M778.3 764.2 773.2 762.5 766.4 760.1 758.2 757.4 749.2 754.3 739.6 751.1 729.9 748.0 720.5 745.1 711.7 742.5 703.3 740.1 695.0 737.6 686.7 735.2 678.3 732.8 670.0 730.8 661.7 729.1 653.3 727.9 645.0 727.3 636.7 727.5 628.3 728.4 620.0 729.9 611.7 731.7 603.3 733.7 595.0 735.7 586.7 737.5 578.3 738.9 569.5 739.9 560.1 740.9 550.4 741.9 540.8 742.7 531.8 743.5 523.6 744.1 516.8 744.6 511.7 745.1M728.0 791.9 724.3 791.9 719.4 791.8 713.6 791.6 707.1 791.5 700.2 791.5 693.3 791.6 686.5 791.9 680.2 792.5 674.2 793.5 668.3 795.0 662.3 796.8 656.3 798.7 650.3 800.5 644.4 802.0 638.4 803.0 632.4 803.3 626.4 802.9 620.4 801.8 614.5 800.3 608.5 798.4 602.5 796.5 596.5 794.6 590.6 792.9 584.6 791.7 578.3 790.9 571.5 790.2 564.6 789.6 557.7 789.2 551.2 788.9 545.4 788.7 540.5 788.4 536.8 788.2M743.6 775.7 739.7 775.8 734.5 776.0 728.3 776.2 721.4 776.4 714.1 776.6 706.6 776.9 699.4 777.3 692.7 777.6 686.4 778.1 680.0 778.7 673.7 779.3 667.3 780.0 660.9 780.7 654.6 781.3 648.2 781.9 641.9 782.3 635.5 782.7 629.2 782.8 622.8 783.0 616.4 783.0 610.1 783.1 603.7 783.3 597.4 783.6 591.0 784.0 584.3 784.7 577.1 785.6 569.7 786.6 562.4 787.7 555.5 788.7 549.3 789.7 544.1 790.5 540.1 791.1M746.4 775.5 741.8 774.2 735.7 772.4 728.4 770.3 720.3 768.0 711.7 765.5 703.0 762.8 694.5 760.2 686.7 757.5 679.2 754.6 671.7 751.3 664.3 747.7 656.8 744.1 649.3 740.7 641.8 737.7 634.4 735.3 626.9 733.7 619.4 733.0 612.0 733.1 604.5 733.7 597.0 734.8 589.6 736.1 582.1 737.4 574.6 738.7 567.1 739.6 559.3 740.5 550.8 741.4 542.1 742.4 533.5 743.4 525.4 744.3 518.1 745.1 512.0 745.8 507.4 746.3M781.7 787.6 776.9 786.4 770.6 784.8 763.1 782.9 754.8 780.8 746.0 778.7 737.1 776.5 728.4 774.4 720.3 772.5 712.6 770.8 705.0 769.1 697.3 767.4 689.6 765.8 682.0 764.2 674.3 762.7 666.6 761.4 658.9 760.1 651.3 759.1 643.6 758.2 635.9 757.5 628.3 756.9 620.6 756.3 612.9 755.6 605.2 754.7 597.6 753.6 589.5 752.2 580.8 750.4 571.9 748.5 563.1 746.6 554.7 744.7 547.2 742.9 540.9 741.4 536.2 740.4M738.3 760.5 734.4 760.2 729.3 759.6 723.1 759.0 716.3 758.3 709.1 757.7 701.8 757.1 694.7 756.7 688.1 756.5 681.9 756.5 675.6 756.7 669.3 757.0 663.1 757.5 656.8 757.9 650.6 758.5 644.3 759.1 638.0 759.7 631.8 760.4 625.5 761.1 619.2 761.8 613.0 762.6 606.7 763.5 600.4 764.4 594.2 765.3 587.9 766.4 581.3 767.6 574.2 768.9 566.9 770.4 559.7 772.0 552.9 773.4 546.8 774.8 541.7 775.9 537.8 776.7M772.7 794.1 768.4 793.8 762.7 793.6 756.0 793.2 748.4 792.8 740.5 792.4 732.4 792.0 724.6 791.6 717.3 791.2 710.4 790.8 703.4 790.3 696.5 789.8 689.6 789.3 682.7 788.8 675.7 788.4 668.8 788.1 661.9 788.0 655.0 788.1 648.0 788.3 641.1 788.7 634.2 789.2 627.3 789.7 620.3 790.1 613.4 790.3 606.5 790.3 599.2 790.1 591.3 789.6 583.3 789.0 575.3 788.3 567.8 787.6 561.0 787.0 555.4 786.4 551.1 786.0M695.1 790.3 692.3 789.4 688.7 788.1 684.3 786.5 679.4 784.8 674.3 783.1 669.0 781.4 664.0 780.0 659.2 778.9 654.7 778.0 650.3 777.2 645.8 776.5 641.3 776.0 636.8 775.6 632.3 775.5 627.8 775.6 623.3 775.9 618.9 776.7 614.4 777.8 609.9 779.2 605.4 780.8 600.9 782.5 596.4 784.2 591.9 785.8 587.5 787.2 582.7 788.5 577.7 789.8 572.4 791.1 567.3 792.4 562.4 793.6 558.0 794.6 554.4 795.5 551.6 796.2M696.8 794.4 694.2 793.8 690.6 792.8 686.4 791.7 681.7 790.4 676.7 789.2 671.7 788.0 666.8 786.9 662.2 786.1 657.9 785.5 653.5 785.1 649.2 784.8 644.9 784.6 640.5 784.4 636.2 784.2 631.9 784.0 627.5 783.7 623.2 783.3 618.9 782.8 614.5 782.3 610.2 781.8 605.9 781.4 601.5 781.0 597.2 780.7 592.9 780.6 588.3 780.6 583.4 780.9 578.4 781.2 573.4 781.6 568.7 782.0 564.5 782.4 560.9 782.7 558.2 783.0M868.1 811.3 868.3 812.4 868.5 813.9 868.7 815.6 869.0 817.5 869.4 819.6 869.7 821.6 870.1 823.5 870.6 825.2 871.1 826.8 871.7 828.4 872.4 829.9 873.1 831.4 873.8 832.8 874.5 834.2 875.1 835.4 875.7 836.5 876.3 837.4 876.9 838.2 877.5 838.8 878.0 839.3 878.5 839.8 878.9 840.3 879.2 840.9 879.4 841.5 879.4 842.2 879.3 843.0 879.0 843.8 878.7 844.6 878.3 845.5 877.8 846.3 877.4 847.1 876.9 847.8 876.4 848.5 875.8 849.2 875.2 849.9 874.6 850.5 873.9 851.1 873.2 851.8 872.5 852.3 871.9 852.9 871.2 853.5 870.5 854.0 869.8 854.6 869.0 855.1 868.3 855.5 867.7 856.0 867.2 856.3 866.8 856.6M850.5 807.6 850.8 808.5 851.2 809.6 851.8 811.0 852.3 812.5 852.9 814.1 853.4 815.7 853.9 817.3 854.3 818.9 854.6 820.4 854.9 822.0 855.1 823.6 855.3 825.3 855.4 826.9 855.5 828.5 855.5 830.0 855.5 831.5 855.4 832.9 855.1 834.2 854.8 835.5 854.5 836.7 854.1 838.0 853.7 839.1 853.3 840.3 853.0 841.5 852.7 842.7 852.4 843.9 852.1 845.1 851.8 846.2 851.5 847.3 851.2 848.4 850.9 849.4 850.5 850.3 850.1 851.1 849.6 852.0 849.0 852.7 848.4 853.4 847.9 854.0 847.4 854.6 847.0 855.0 846.7 855.4" fill="none" stroke="#c3c3c3" stroke-width="1.15" stroke-linejoin="round" stroke-linecap="round"/>
<path d="M620.7 773.9 621.1 773.6 621.4 773.1 621.8 772.4 622.0 771.6 622.2 770.6 622.2 769.4 621.9 768.1 621.4 766.7 620.6 765.3 619.4 763.9 618.0 762.8 616.3 761.8 614.4 761.3 612.4 761.1 610.5 761.3 608.7 762.0 607.3 763.0 606.3 764.3 605.8 765.6 605.9 766.9 606.4 767.9 607.4 768.6 608.7 768.7 610.0 768.1 611.2 767.0 612.1 765.3 612.5 763.2 612.3 760.9 611.4 758.5 610.0 756.4 608.0 754.5 605.7 753.2 603.2 752.6 600.6 752.5 598.3 753.0 596.4 753.9 594.9 755.3 593.9 756.7 593.5 758.3 593.6 759.7 594.1 760.9 595.0 761.7 596.1 762.2 597.4 762.1 598.7 761.6 599.8 760.6 600.7 759.2 601.3 757.5 601.4 755.5 601.1 753.5 600.3 751.5 599.0 749.6 597.4 748.0 595.4 746.7 593.3 745.9 591.0 745.6 588.9 745.7 586.9 746.2 585.1 747.1 583.8 748.2 582.8 749.6 582.3 751.0 582.3 752.3 582.7 753.4 583.3 754.2 584.3 754.6 585.4 754.7 586.5 754.3 587.4 753.4 588.2 752.2 588.7 750.7 588.8 749.0 588.5 747.2 587.8 745.4 586.7 743.7 585.2 742.2 583.5 741.1 581.7 740.3 579.7 740.0 577.9 740.0 576.2 740.3 574.7 741.0 573.6 741.8 572.9 742.8 572.5 743.7 572.5 744.6 572.8 745.2 573.4 745.5 574.0 745.5 574.7 745.2 575.3 744.5 575.8 743.5 576.0 742.3 576.0 740.9 575.6 739.4 574.9 738.0 574.0 736.7 572.8 735.6 571.5 734.8 570.0 734.2 568.6 733.8 567.3 733.8 566.1 733.9 565.1 734.2 564.3 734.6 563.8 735.0 563.5 735.4 563.4 735.7 563.5 735.8 563.6 735.7 563.8 735.4 564.0 734.9 564.1 734.2 564.1 733.4 563.9 732.5 563.5 731.5 563.0 730.5 562.3 729.6 561.5 728.8 560.5 728.0 559.5 727.5 558.5 727.0 557.4 726.8 556.5 726.6 555.6 726.6 554.8 726.7 554.2 726.8 553.8 726.9 553.4 727.0 553.3 727.0 553.2 726.9 553.1 726.6 553.1 726.2 553.1 725.6 553.0 724.9 552.8 724.1 552.4 723.3 551.9 722.3 551.3 721.4 550.5 720.6 549.6 719.8 548.6 719.2 547.5 718.7 546.5 718.4 545.4 718.3 544.5 718.3 543.7 718.4 543.0 718.6 542.5 718.9 542.2 719.1 542.0 719.3 542.1 719.4 542.2 719.3 542.4 719.1 542.6 718.7 542.7 718.2 542.9 717.5 542.9 716.6 542.7 715.7 542.4 714.6 542.0 713.6 541.3 712.6 540.4 711.6 539.4 710.7 538.3 710.0 537.0 709.5 535.7 709.2 534.4 709.1 533.2 709.2 532.1 709.6 531.2 710.0 530.5 710.6 530.0 711.2 529.7 711.9 529.6 712.5 529.8 713.0 530.1 713.3 530.6 713.4 531.1 713.4 531.7 713.1 532.3 712.6 532.7 711.9 533.1 711.1 533.3 710.1 533.4 709.0 533.3 707.9 533.0 706.8 532.6 705.6 532.0 704.6 531.3 703.6 530.5 702.7 529.6 702.0 528.7 701.3 527.8 700.8 526.8 700.5 525.9 700.2 525.0 700.0 524.2 699.9 523.4 699.9M637.5 793.9 637.9 794.1 638.4 794.1 639.0 793.9 639.6 793.4 640.2 792.5 640.7 791.3 640.8 789.7 640.6 787.8 639.8 785.8 638.4 783.7 636.4 781.9 633.9 780.6 631.1 779.9 628.2 779.9 625.4 780.8 623.2 782.2 621.8 784.2 621.3 786.3 621.8 788.0 623.0 789.2 624.7 789.4 626.6 788.6 628.0 786.6 628.8 783.9 628.4 780.7 627.0 777.5 624.5 774.7 621.2 772.7 617.5 771.8 613.9 772.1 610.8 773.3 608.5 775.3 607.3 777.5 607.0 779.7 607.7 781.5 608.9 782.6 610.6 782.9 612.2 782.3 613.7 781.0 614.7 779.2 615.1 776.9 614.8 774.3 613.9 771.8 612.4 769.5 610.3 767.6 607.8 766.2 605.2 765.4 602.6 765.3 600.2 765.7 598.1 766.6 596.5 767.9 595.5 769.3 595.0 770.7 595.1 772.0 595.5 772.9 596.4 773.5 597.3 773.5 598.4 773.1 599.3 772.2 599.9 770.9 600.2 769.3 600.2 767.6 599.6 765.8 598.7 764.0 597.4 762.4 595.8 761.1 594.0 760.2 592.2 759.6 590.3 759.4 588.6 759.5 587.2 760.0 585.9 760.6 585.0 761.3 584.5 762.0 584.2 762.6 584.1 763.1 584.3 763.4 584.6 763.4 584.9 763.1 585.1 762.6 585.3 761.9 585.2 760.9 585.0 759.9 584.5 758.7 583.8 757.6 582.8 756.6 581.7 755.7 580.5 755.0 579.2 754.5 577.9 754.2 576.6 754.1 575.4 754.1 574.4 754.3 573.5 754.5 572.8 754.8 572.2 755.0 571.8 755.2 571.5 755.4 571.4 755.4 571.2 755.2 571.1 754.9 571.0 754.5 570.8 753.9 570.5 753.2 570.1 752.5 569.6 751.7 568.9 750.9 568.1 750.1 567.2 749.4 566.2 748.8 565.1 748.3 563.9 748.0 562.8 747.8 561.7 747.7 560.7 747.8 559.8 747.9 559.0 748.2 558.3 748.5 557.8 748.8 557.5 749.1 557.3 749.3 557.2 749.4 557.3 749.4 557.4 749.2 557.5 748.9 557.6 748.4 557.7 747.8 557.6 747.0 557.5 746.1 557.1 745.2 556.7 744.1 556.0 743.1 555.2 742.1 554.2 741.3 553.1 740.5 551.8 739.9 550.5 739.4 549.2 739.2 547.8 739.2 546.6 739.3 545.4 739.6 544.4 740.1 543.5 740.7 542.9 741.4 542.4 742.1 542.2 742.8 542.2 743.4 542.4 743.9 542.7 744.3 543.2 744.5 543.7 744.5 544.3 744.3 544.9 743.8 545.4 743.1 545.7 742.3 546.0 741.2 546.0 740.0 545.9 738.7 545.5 737.4 544.8 736.1 543.9 734.8 542.7 733.5 541.3 732.5 539.7 731.6 538.0 731.1 536.1 730.8 534.3 730.8 532.4 731.1 530.7 731.7 529.2 732.5 528.0 733.6 527.0 734.8 526.3 736.1 526.0 737.4 526.0 738.6 526.3 739.7 526.8 740.6 527.5 741.2 528.4 741.6 529.3 741.6 530.3 741.4 531.1 740.9 531.9 740.1 532.5 739.1 532.9 737.9 533.0 736.7 533.0 735.3 532.7 734.0 532.2 732.7 531.6 731.4 530.8 730.3 529.8 729.2 528.8 728.3 527.7 727.6 526.6 727.0 525.5 726.5 524.5 726.2 523.4 725.9 522.5 725.8M656.1 798.6 655.4 799.3 654.9 800.2 654.7 801.1 654.7 801.9 655.1 802.6 655.8 803.0 656.6 802.9 657.5 802.2 658.1 800.9 658.3 799.2 657.8 797.1 656.6 795.0 654.5 793.2 651.7 792.0 648.7 791.8 645.8 792.6 643.6 794.3 642.3 796.5 642.3 798.6 643.3 800.2 645.0 800.7 646.9 799.9 648.2 797.9 648.4 794.9 647.2 791.8 644.7 789.0 641.2 787.4 637.4 787.2 633.9 788.3 631.5 790.6 630.4 793.2 630.7 795.7 632.2 797.2 634.2 797.5 636.1 796.5 637.4 794.3 637.6 791.5 636.6 788.6 634.6 786.1 631.8 784.3 628.6 783.5 625.4 783.8 622.6 785.0 620.7 786.9 619.7 789.1 619.8 791.2 620.8 792.6 622.2 793.2 623.8 792.8 625.1 791.5 625.7 789.5 625.5 787.1 624.3 784.7 622.3 782.7 619.7 781.4 616.9 780.9 614.3 781.3 612.1 782.4 610.6 784.0 609.9 785.6 610.0 787.0 610.7 787.9 611.6 788.0 612.5 787.5 613.1 786.3 613.2 784.7 612.6 782.9 611.4 781.2 609.6 779.9 607.6 779.1 605.5 778.9 603.6 779.2 602.1 779.9 601.0 780.9 600.4 781.7 600.3 782.4 600.5 782.7 600.7 782.6 600.9 782.1 600.8 781.2 600.4 780.1 599.7 779.0 598.6 778.0 597.2 777.3 595.7 776.8 594.3 776.7 592.9 776.8 591.8 777.1 591.0 777.5 590.4 777.8 590.0 778.0 589.7 778.0 589.5 777.7 589.2 777.2 588.8 776.6 588.1 775.9 587.3 775.1 586.2 774.5 585.1 774.0 583.9 773.7 582.6 773.5 581.5 773.6 580.5 773.8 579.8 774.0 579.2 774.2 578.8 774.3 578.5 774.2 578.3 773.9 578.1 773.5 577.7 772.8 577.1 772.0 576.3 771.1 575.3 770.3 574.0 769.7 572.7 769.3 571.3 769.2 570.0 769.3 568.9 769.7 568.0 770.2 567.5 770.8 567.3 771.2 567.3 771.4 567.5 771.3 567.7 770.9 567.9 770.2 567.8 769.2 567.4 768.0 566.6 766.7 565.5 765.6 564.1 764.6 562.4 764.0 560.6 763.7 558.9 763.9 557.4 764.5 556.2 765.3 555.4 766.3 555.1 767.3 555.3 768.2 555.7 768.8 556.5 768.9 557.3 768.5 558.0 767.7 558.4 766.4 558.5 764.7 558.0 762.9 556.9 761.2 555.4 759.6 553.4 758.4 551.2 757.8 548.9 757.8 546.7 758.3 544.9 759.4 543.6 760.8 542.9 762.4 543.0 763.9 543.6 765.1 544.7 765.8 546.0 765.8 547.4 765.1 548.5 763.6 549.0 761.6 548.9 759.1 547.8 756.5 545.8 754.2 543.1 752.6 539.9 751.9 536.8 752.2 534.1 753.5 532.2 755.4 531.4 757.7 531.7 759.8 533.0 761.2 534.8 761.6 536.7 760.9 538.2 759.1 538.9 756.5 538.5 753.6 537.0 750.7 534.6 748.5 531.6 747.1 528.4 746.7 525.5 747.4 523.2 748.8 521.7 750.6 521.1 752.6 521.4 754.3 522.3 755.5 523.6 756.0 524.9 755.9 526.2 755.1 527.1 753.8 527.6 752.2 527.7 750.5 527.3 748.7 526.6 747.1 525.6 745.7 524.4 744.6 523.1 743.8 521.9 743.2M700.1 814.9 698.4 814.6 696.6 814.6 694.7 814.9 692.8 815.6 691.1 816.6 689.7 818.0 688.7 819.6 688.4 821.3 688.6 822.7 689.4 823.8 690.7 824.2 692.1 823.8 693.4 822.4 694.1 820.1 693.9 817.2 692.6 814.1 690.1 811.2 686.5 809.1 682.4 808.1 678.1 808.5 674.3 810.1 671.6 812.8 670.2 815.9 670.4 818.8 671.8 820.8 673.9 821.5 676.2 820.7 677.8 818.4 678.4 815.2 677.5 811.5 675.2 808.1 671.7 805.5 667.6 804.1 663.4 804.1 659.6 805.3 656.7 807.4 654.9 809.9 654.3 812.3 654.7 814.4 655.7 815.7 657.2 816.0 658.6 815.5 659.7 814.0 660.2 811.9 659.8 809.4 658.5 806.9 656.4 804.7 653.6 803.1 650.6 802.3 647.5 802.4 644.8 803.1 642.7 804.3 641.2 805.8 640.4 807.3 640.2 808.4 640.4 809.1 640.9 809.2 641.3 808.7 641.4 807.8 641.1 806.5 640.4 805.0 639.2 803.6 637.6 802.4 635.8 801.5 633.8 800.9 631.8 800.8 630.0 801.0 628.4 801.4 627.1 801.9 626.2 802.5 625.5 803.0 625.0 803.3 624.7 803.4 624.5 803.3 624.2 802.9 623.9 802.3 623.5 801.5 622.8 800.7 622.0 799.7 620.9 798.8 619.7 798.0 618.4 797.4 616.9 796.9 615.4 796.6 613.9 796.5 612.5 796.6 611.2 796.9 610.1 797.3 609.3 797.9 608.6 798.4 608.2 798.8 608.0 799.2 608.0 799.3 608.1 799.3 608.3 799.0 608.4 798.4 608.4 797.6 608.3 796.6 608.0 795.5 607.3 794.2 606.4 792.9 605.2 791.7 603.8 790.6 602.1 789.7 600.2 789.2 598.3 788.9 596.4 789.0 594.6 789.4 593.0 790.2 591.7 791.2 590.7 792.3 590.2 793.5 590.0 794.6 590.2 795.6 590.8 796.2 591.6 796.5 592.5 796.3 593.5 795.7 594.2 794.5 594.7 792.9 594.7 791.0 594.3 788.9 593.2 786.7 591.6 784.7 589.5 782.9 587.0 781.7 584.2 780.9 581.3 780.8 578.5 781.3 576.1 782.4 574.1 784.0 572.6 785.9 571.9 787.8 571.7 789.7 572.3 791.4 573.3 792.5 574.7 793.1 576.2 793.0 577.7 792.3 578.9 790.8 579.7 788.9 580.0 786.6 579.5 784.0 578.5 781.5 576.7 779.2 574.4 777.2 571.8 775.8 568.8 775.0 565.9 774.8 563.0 775.3 560.5 776.3 558.4 777.7 556.9 779.5 556.0 781.3 555.6 783.1 555.8 784.7 556.5 785.9 557.5 786.7 558.6 787.0 559.9 786.8 561.0 786.1 562.0 784.8 562.6 783.1 562.7 781.1 562.3 779.0 561.4 776.9 559.9 774.9 558.0 773.2 555.8 771.9 553.4 771.1 550.9 770.9 548.6 771.1 546.5 771.7 544.8 772.6 543.5 773.7 542.6 774.9 542.1 776.0 542.0 777.0 542.2 777.7 542.6 778.1 543.1 778.2 543.6 777.9 544.0 777.4 544.4 776.7 544.5 775.7 544.4 774.7 544.1 773.5 543.6 772.4 543.0 771.4 542.2 770.4 541.3 769.6 540.4 768.9 539.4 768.3 538.4 767.9 537.4 767.6 536.5 767.3 535.7 767.2 534.9 767.2 534.2 767.2M698.7 803.0 699.0 803.0 699.3 803.0 699.6 802.8 699.9 802.5 700.2 802.0 700.5 801.3 700.6 800.5 700.6 799.6 700.4 798.5 699.9 797.4 699.2 796.2 698.2 795.1 697.0 794.2 695.5 793.4 693.9 793.0 692.2 792.9 690.5 793.1 689.0 793.7 687.7 794.7 686.9 795.8 686.5 797.0 686.5 798.1 687.0 798.9 687.9 799.3 688.9 799.3 690.0 798.6 690.9 797.4 691.3 795.7 691.2 793.6 690.4 791.5 689.0 789.5 687.0 787.9 684.6 786.9 682.0 786.5 679.5 787.0 677.4 788.0 676.0 789.5 675.3 791.3 675.4 792.9 676.1 794.1 677.5 794.6 679.0 794.3 680.5 793.1 681.4 791.0 681.5 788.4 680.6 785.5 678.6 783.0 675.9 781.2 672.7 780.5 669.6 780.8 667.1 782.2 665.6 784.2 665.3 786.2 666.2 787.7 667.7 788.2 669.4 787.5 670.8 785.7 671.2 783.1 670.5 780.1 668.6 777.5 665.8 775.7 662.7 775.0 659.8 775.5 657.7 776.7 656.6 778.4 656.5 779.9 657.3 780.8 658.4 780.7 659.5 779.7 660.0 778.0 659.8 775.8 658.7 773.6 656.9 771.9 654.6 770.8 652.3 770.5 650.3 770.8 648.8 771.6 647.9 772.5 647.6 773.3 647.7 773.8 648.1 773.7 648.4 773.3 648.5 772.3 648.3 771.2 647.6 769.9 646.6 768.8 645.2 767.9 643.7 767.3 642.2 767.0 640.8 767.1 639.6 767.4 638.7 767.8 638.1 768.1 637.7 768.4 637.5 768.4 637.3 768.2 637.0 767.7 636.7 767.1 636.1 766.4 635.3 765.7 634.4 765.0 633.3 764.5 632.1 764.1 631.0 763.9 629.8 763.8 628.9 763.9 628.0 764.0 627.4 764.1 626.9 764.2 626.5 764.1 626.2 763.8 625.8 763.3 625.4 762.7 624.8 761.9 624.1 761.1 623.1 760.3 621.9 759.6 620.6 759.1 619.3 758.9 618.0 758.9 617.0 759.1 616.3 759.3 616.0 759.5 615.9 759.5 615.9 759.1 616.0 758.4 615.8 757.2 615.3 755.8 614.3 754.3 612.9 753.0 611.1 752.1 609.2 751.8 607.4 752.0 606.0 752.6 605.3 753.4 605.2 754.2 605.7 754.4 606.5 754.0 607.3 752.8 607.5 751.0 607.0 748.7 605.7 746.5 603.6 744.7 601.0 743.8 598.3 743.7 596.1 744.6 594.7 746.0 594.3 747.6 595.0 748.8 596.2 749.1 597.7 748.4 598.9 746.6 599.3 744.0 598.5 741.1 596.7 738.5 593.9 736.6 590.7 735.8 587.6 736.3 585.3 737.7 583.9 739.6 583.8 741.6 584.7 743.1 586.4 743.5 588.2 742.7 589.6 740.7 590.0 737.8 589.1 734.7 587.0 731.9 583.9 730.0 580.4 729.4 577.2 730.1 574.8 731.8 573.7 733.9 573.8 736.0 575.0 737.2 576.8 737.3 578.4 736.1 579.5 733.9 579.5 731.1 578.3 728.3 576.0 725.9 573.1 724.5 570.1 724.2 567.4 724.9 565.5 726.3 564.5 727.9 564.5 729.4 565.3 730.3 566.4 730.4 567.5 729.6 568.3 728.1 568.4 726.1 567.7 724.0 566.4 722.1 564.6 720.7 562.5 719.8 560.5 719.5 558.6 719.8 557.2 720.4 556.3 721.2 555.9 722.0 555.9 722.6 556.2 722.8 556.6 722.6 557.1 722.0 557.3 721.0 557.2 719.8 556.7 718.5 555.9 717.2 554.8 716.1 553.6 715.2 552.2 714.7 550.9 714.4 549.8 714.4 548.8 714.6 548.1 714.8 547.6 715.0 547.4 715.1 547.2 715.1 547.2 714.9 547.1 714.5 547.1 714.0 546.9 713.4 546.7 712.7 546.3 712.0 545.9 711.3 545.3 710.6 544.7 710.0 544.0 709.5 543.3 709.1 542.7 708.8 542.0 708.5 541.4 708.3 540.9 708.2 540.4 708.1 540.0 708.1 539.6 708.1 539.3 708.0 539.0 708.0M743.4 839.8 742.8 838.8 741.8 837.7 740.4 836.7 738.7 835.9 736.6 835.4 734.3 835.4 731.9 835.9 729.7 837.1 728.0 838.7 727.0 840.6 726.8 842.5 727.4 844.0 728.5 844.7 729.9 844.5 730.9 843.1 731.2 840.8 730.3 838.1 728.2 835.5 724.8 833.7 720.8 833.1 716.9 834.0 713.7 836.1 711.8 839.1 711.4 842.0 712.5 844.2 714.3 845.0 716.2 844.2 717.3 842.0 717.1 839.0 715.4 835.9 712.3 833.5 708.3 832.3 704.3 832.6 700.8 834.3 698.5 836.7 697.4 839.4 697.6 841.7 698.6 843.2 700.0 843.6 701.3 842.9 702.1 841.3 702.1 839.2 701.0 836.9 699.1 834.9 696.4 833.5 693.4 832.9 690.4 833.2 687.8 834.4 685.9 836.0 684.8 837.8 684.5 839.4 684.8 840.6 685.4 841.0 686.0 840.7 686.3 839.8 686.1 838.5 685.3 837.0 683.8 835.6 681.9 834.6 679.7 834.1 677.5 834.1 675.5 834.6 673.8 835.5 672.6 836.5 671.8 837.5 671.5 838.2 671.3 838.5 671.2 838.5 671.0 838.1 670.6 837.4 669.8 836.6 668.7 835.8 667.3 835.1 665.7 834.7 664.0 834.5 662.3 834.7 660.8 835.1 659.5 835.7 658.5 836.3 657.7 836.9 657.2 837.3 656.9 837.5 656.6 837.4 656.2 837.0 655.5 836.3 654.6 835.5 653.3 834.7 651.7 834.1 649.9 833.8 647.9 833.8 646.1 834.3 644.5 835.1 643.3 836.1 642.6 837.1 642.4 837.9 642.5 838.3 642.6 838.1 642.7 837.4 642.4 836.3 641.5 834.8 639.9 833.4 637.8 832.4 635.3 831.9 632.7 832.1 630.3 832.9 628.4 834.4 627.1 836.1 626.7 837.8 627.0 839.2 627.8 839.9 628.8 839.8 629.6 838.9 629.9 837.3 629.6 835.3 628.4 833.3 626.4 831.4 623.9 830.1 620.9 829.6 618.0 829.8 615.3 830.9 613.1 832.5 611.7 834.4 611.0 836.5 611.1 838.3 611.8 839.7 612.9 840.5 614.2 840.5 615.4 839.8 616.3 838.5 616.7 836.7 616.4 834.7 615.5 832.6 613.9 830.6 611.8 829.0 609.3 828.0 606.6 827.6 603.9 827.8 601.4 828.6 599.3 829.9 597.8 831.6 596.8 833.4 596.4 835.2 596.5 836.8 597.2 838.1 598.2 838.8 599.3 839.0 600.5 838.6 601.4 837.7 602.0 836.3 602.1 834.6 601.6 832.7 600.6 830.8 599.0 829.2 597.0 827.9 594.7 827.0 592.3 826.8 589.8 827.0 587.6 827.8 585.7 829.1 584.3 830.6 583.5 832.2 583.2 833.8 583.4 835.1 584.0 835.9 584.9 836.2 585.7 835.9 586.2 835.0 586.3 833.6 585.9 832.0 584.8 830.4 583.3 829.0 581.3 828.0 579.0 827.6 576.8 827.6 574.7 828.1 573.0 829.0 571.7 830.1 570.9 831.3 570.5 832.2 570.4 832.9 570.5 833.3 570.7 833.3 570.7 833.0 570.7 832.5 570.4 831.7 569.8 830.9 569.0 830.1 568.1 829.5 567.0 828.9 565.8 828.5 564.6 828.3 563.4 828.3 562.4 828.3 561.4 828.5 560.5 828.8 559.8 829.0 559.2 829.3 558.7 829.6 558.3 829.9M735.8 818.8 735.2 819.4 734.7 820.2 734.3 820.9 734.2 821.7 734.3 822.4 734.6 823.0 735.1 823.3 735.8 823.3 736.5 822.8 737.1 821.9 737.4 820.6 737.3 818.9 736.7 817.0 735.5 815.1 733.6 813.4 731.2 812.1 728.5 811.5 725.6 811.6 723.0 812.4 720.9 813.9 719.4 815.8 718.9 817.8 719.1 819.5 720.1 820.7 721.5 821.0 723.0 820.5 724.1 819.0 724.7 816.9 724.4 814.3 723.1 811.7 721.0 809.4 718.3 807.8 715.2 807.0 712.0 807.1 709.2 808.0 706.9 809.5 705.4 811.4 704.7 813.3 704.7 815.1 705.3 816.5 706.3 817.3 707.6 817.5 708.8 817.0 709.8 815.8 710.4 814.2 710.4 812.2 709.8 810.0 708.5 808.0 706.6 806.2 704.3 805.0 701.8 804.3 699.2 804.2 696.8 804.8 694.7 805.8 693.1 807.2 692.1 808.7 691.7 810.2 691.8 811.5 692.3 812.3 693.1 812.7 693.9 812.6 694.6 811.9 695.0 810.8 695.1 809.4 694.7 807.9 693.8 806.3 692.5 804.9 690.8 803.8 688.9 803.1 686.9 802.7 684.9 802.8 683.2 803.3 681.7 804.0 680.6 804.9 679.8 805.8 679.4 806.7 679.3 807.3 679.4 807.7 679.5 807.7 679.7 807.5 679.7 807.0 679.6 806.3 679.2 805.4 678.6 804.5 677.7 803.6 676.6 802.8 675.3 802.3 673.9 801.9 672.5 801.7 671.1 801.8 669.8 802.0 668.7 802.4 667.8 802.9 667.0 803.4 666.4 803.8 666.0 804.1 665.7 804.3 665.5 804.4 665.3 804.3 665.0 804.0 664.7 803.5 664.2 803.0 663.6 802.4 662.8 801.8 661.8 801.2 660.7 800.7 659.5 800.3 658.2 800.1 657.0 800.0 655.7 800.1 654.6 800.4 653.6 800.7 652.7 801.2 652.1 801.6 651.6 802.0 651.4 802.3 651.2 802.3 651.2 802.2 651.1 801.8 650.9 801.2 650.6 800.4 650.1 799.5 649.3 798.4 648.2 797.4 646.9 796.6 645.4 795.9 643.7 795.6 642.0 795.5 640.4 795.8 638.9 796.4 637.8 797.2 637.1 798.0 636.7 798.9 636.7 799.6 637.0 799.9 637.5 799.9 638.0 799.5 638.5 798.6 638.6 797.3 638.4 795.7 637.7 794.0 636.4 792.3 634.7 790.8 632.6 789.7 630.3 789.2 627.9 789.1 625.7 789.7 623.8 790.7 622.5 792.1 621.7 793.6 621.5 795.0 622.0 796.2 622.8 796.8 624.0 796.9 625.1 796.3 626.1 795.0 626.6 793.2 626.5 791.1 625.7 788.8 624.3 786.6 622.2 784.7 619.6 783.4 616.8 782.8 614.0 782.9 611.4 783.8 609.3 785.1 607.9 786.9 607.2 788.8 607.2 790.5 608.0 791.8 609.1 792.5 610.6 792.5 611.9 791.7 613.0 790.2 613.5 788.2 613.4 785.8 612.5 783.3 610.8 781.1 608.6 779.3 605.9 778.1 603.0 777.6 600.3 777.9 597.8 778.8 596.0 780.2 594.8 781.9 594.3 783.6 594.5 785.0 595.2 786.0 596.3 786.4 597.4 786.1 598.4 785.2 599.1 783.7 599.2 781.8 598.7 779.7 597.6 777.7 596.0 775.9 593.9 774.6 591.6 773.8 589.2 773.6 587.0 773.9 585.2 774.7 583.8 775.8 582.9 777.0 582.6 778.1 582.8 778.8 583.3 779.1 583.9 778.7 584.3 777.8 584.4 776.5 583.9 774.9 583.0 773.2 581.6 771.8 579.8 770.7 577.8 770.0 575.9 769.8 574.2 770.0 572.8 770.4 571.7 771.0 571.1 771.4 570.7 771.8 570.6 771.8 570.5 771.6 570.4 771.1 570.2 770.3 569.8 769.5 569.2 768.5 568.4 767.6 567.5 766.8 566.4 766.1 565.3 765.6 564.2 765.2 563.1 765.0 562.1 764.9 561.2 764.9 560.5 765.0 559.8 765.1 559.3 765.2 558.8 765.3 558.5 765.5M612.0 783.0 611.1 783.5 609.9 784.2 608.5 785.0 606.9 785.9 605.2 786.8 603.5 787.9 601.7 788.9 600.0 790.0 598.3 791.1 596.5 792.2 594.6 793.4 592.7 794.7 590.8 796.0 588.8 797.3 586.9 798.6 585.0 800.0 583.0 801.5 580.9 803.1 578.7 804.9 576.6 806.6 574.5 808.3 572.7 809.8 571.2 811.1 570.0 812.0M545.0 765.0 546.1 763.8 547.6 762.2 549.3 760.3 551.2 758.2 553.3 756.1 555.5 753.9 557.8 751.8 560.0 750.0 562.3 748.4 564.6 746.8 567.1 745.3 569.7 743.9 572.3 742.4 574.9 741.0 577.5 739.5 580.0 738.0 582.6 736.3 585.5 734.5 588.4 732.6 591.2 730.8 594.0 729.0 596.4 727.4 598.5 726.0 600.0 725.0M525.0 760.0 526.5 760.7 528.5 761.6 530.8 762.6 533.4 763.8 536.3 765.1 539.2 766.6 542.1 768.2 545.0 770.0 547.9 772.0 551.0 774.3 554.2 776.8 557.5 779.4 560.8 782.1 564.0 784.8 567.1 787.4 570.0 790.0 572.8 792.5 575.6 795.0 578.3 797.5 580.9 800.0 583.5 802.5 585.8 805.0 588.0 807.5 590.0 810.0 591.8 812.6 593.4 815.5 594.9 818.4 596.2 821.2 597.4 824.0 598.4 826.4 599.3 828.5 600.0 830.0M751.4 816.3 751.6 816.4 751.7 816.5 751.9 816.4 752.1 816.3 752.3 816.0 752.4 815.6 752.5 815.1 752.4 814.5 752.2 813.8 751.9 812.9 751.3 812.1 750.5 811.2 749.5 810.3 748.2 809.6 746.8 808.9 745.2 808.5 743.4 808.4 741.6 808.5 739.8 809.0 738.1 809.7 736.5 810.7 735.3 811.9 734.3 813.3 733.6 814.8 733.4 816.2 733.4 817.5 733.8 818.5 734.4 819.3 735.1 819.7 735.9 819.8 736.7 819.5 737.3 818.8 737.7 817.9 737.7 816.7 737.5 815.4 736.8 814.1 735.9 812.8 734.6 811.7 733.1 810.8 731.3 810.2 729.4 809.8 727.4 809.9 725.4 810.3 723.4 811.0 721.6 812.1 720.1 813.5 718.8 815.1 717.9 816.9 717.4 818.7 717.3 820.5 717.5 822.1 718.1 823.5 718.9 824.5 719.8 825.1 720.7 825.4 721.6 825.3 722.2 824.8 722.6 824.0 722.7 823.0 722.4 821.8 721.7 820.7 720.7 819.6 719.3 818.8 717.6 818.1 715.8 817.8 713.9 817.7 711.9 818.0 710.1 818.6 708.4 819.5 706.9 820.6 705.7 821.8 704.7 823.1 704.1 824.4 703.7 825.6 703.6 826.7 703.7 827.6 704.0 828.2 704.4 828.5 704.9 828.5 705.3 828.2 705.6 827.6 705.8 826.7 705.7 825.6 705.4 824.3 704.7 823.0 703.7 821.6 702.4 820.3 700.9 819.3 699.2 818.5 697.4 818.0 695.7 817.9 694.1 818.0 692.8 818.3 691.8 818.8 691.1 819.2 690.7 819.6 690.5 819.7 690.5 819.6 690.6 819.3 690.6 818.6 690.6 817.7 690.3 816.6 689.8 815.4 689.1 814.3 688.2 813.1 687.1 812.2 685.9 811.3 684.7 810.7 683.4 810.3 682.3 810.0 681.2 809.9 680.3 809.9 679.5 809.9 678.8 810.0 678.3 810.0 677.8 810.0 677.5 810.0 677.2 809.9 677.0 809.8 676.8 809.6 676.5 809.3 676.3 808.9 676.0 808.5 675.6 808.0 675.1 807.5 674.6 807.0 674.0 806.5 673.3 806.0 672.5 805.6 671.6 805.2 670.7 804.8 669.7 804.6 668.7 804.5 667.7 804.5 666.7 804.5 665.8 804.7 664.9 805.0 664.1 805.3 663.4 805.7 662.7 806.1 662.2 806.5 661.8 807.0 661.4 807.4 661.2 807.8 661.0 808.1 660.9 808.4 660.9 808.5 660.9 808.7 660.9 808.7 660.9 808.7 660.9 808.6 660.9 808.5 660.9 808.3 660.9 808.0 660.8 807.8 660.7 807.5 660.6 807.2 660.5 806.8 660.3 806.5M733.8 807.6 732.9 807.7 732.0 807.8 731.0 808.1 730.1 808.5 729.1 809.0 728.3 809.7 727.4 810.4 726.8 811.3 726.2 812.3 725.8 813.3 725.7 814.3 725.7 815.3 726.0 816.3 726.4 817.1 727.1 817.7 727.9 818.1 728.8 818.1 729.8 817.9 730.6 817.3 731.4 816.4 731.9 815.2 732.1 813.7 731.9 812.1 731.4 810.4 730.3 808.7 728.9 807.2 727.0 805.9 724.8 805.0 722.4 804.6 720.0 804.7 717.5 805.3 715.3 806.4 713.4 808.0 711.9 809.9 711.0 812.0 710.7 814.1 710.9 816.1 711.6 817.9 712.8 819.3 714.3 820.1 716.0 820.3 717.6 819.9 719.0 818.7 720.0 816.9 720.3 814.7 719.7 812.3 718.3 809.9 716.0 807.8 713.0 806.4 709.6 805.9 706.1 806.4 702.7 807.8 700.0 810.1 698.2 813.0 697.4 816.1 697.6 819.1 698.8 821.5 700.6 823.1 702.8 823.6 704.9 823.1 706.4 821.6 707.1 819.4 706.9 816.8 705.5 814.3 703.3 812.3 700.3 811.0 697.0 810.6 693.7 811.2 690.7 812.7 688.3 814.9 686.8 817.5 686.1 820.2 686.2 822.6 687.1 824.6 688.3 826.0 689.8 826.7 691.2 826.7 692.3 826.0 693.0 825.0 693.2 823.6 692.9 822.2 692.0 820.8 690.6 819.7 688.9 818.9 686.9 818.6 684.9 818.8 682.9 819.5 681.1 820.6 679.5 822.0 678.4 823.7 677.7 825.5 677.4 827.3 677.4 829.0 677.9 830.4 678.5 831.6 679.2 832.4 680.0 832.8 680.7 832.9 681.2 832.7 681.4 832.3 681.3 831.7 680.9 831.1 680.3 830.6 679.3 830.3 678.2 830.1 676.9 830.1 675.6 830.5 674.3 831.0 673.0 831.8 672.0 832.8 671.1 833.9 670.4 835.0 670.0 836.1 669.7 837.2 669.6 838.1 669.6 838.9 669.8 839.4 669.9 839.8 670.0 839.9 670.0 839.8 669.8 839.5 669.4 839.1 668.8 838.6 667.9 838.1 666.7 837.7 665.4 837.5 663.9 837.5 662.4 837.8 660.9 838.3 659.6 839.1 658.6 840.0 657.8 840.9 657.3 841.8 657.1 842.5 657.1 842.9 657.1 843.0 657.1 842.8 656.9 842.2 656.4 841.5 655.6 840.6 654.5 839.8 653.0 839.2 651.3 838.8 649.4 838.8 647.7 839.2 646.1 840.0 644.8 840.9 643.9 842.0 643.3 843.2 643.1 844.2 643.1 845.1 643.4 845.7 643.8 846.0 644.3 846.1 644.7 845.9 645.0 845.5 645.2 845.0 645.3 844.4 645.2 843.8M673.8 876.8 673.9 876.6 673.9 876.3 673.9 876.0 673.8 875.6 673.7 875.2 673.5 874.8 673.3 874.3 672.9 873.8 672.4 873.3 671.9 872.7 671.2 872.2 670.4 871.8 669.4 871.4 668.4 871.1 667.3 870.9 666.0 870.8 664.8 870.9 663.5 871.1 662.2 871.5 660.9 872.1 659.8 872.8 658.7 873.7 657.8 874.8 657.1 875.9 656.5 877.1 656.2 878.3 656.2 879.4 656.3 880.5 656.7 881.4 657.2 882.1 657.8 882.6 658.5 882.8 659.2 882.7 659.9 882.3 660.4 881.7 660.8 880.9 660.9 879.8 660.7 878.6 660.2 877.4 659.4 876.1 658.2 874.9 656.7 873.8 654.8 873.0 652.7 872.6 650.5 872.5 648.2 872.8 646.0 873.7 644.1 874.9 642.5 876.5 641.3 878.3 640.6 880.2 640.5 882.0 640.9 883.6 641.6 884.8 642.7 885.5 643.8 885.7 644.9 885.3 645.8 884.4 646.2 883.0 646.2 881.3 645.6 879.6 644.4 877.9 642.7 876.4 640.6 875.3 638.2 874.7 635.8 874.6 633.4 875.1 631.2 876.0 629.3 877.3 627.8 878.9 626.9 880.6 626.4 882.3 626.3 883.8 626.5 885.1 627.1 886.0 627.7 886.7 628.5 887.0 629.1 886.9 629.7 886.6 630.1 886.0 630.3 885.3 630.3 884.4 630.0 883.5 629.6 882.7 628.9 881.8 628.0 881.1 627.0 880.5 625.8 880.1 624.6 879.9 623.3 879.8 622.0 879.9 620.8 880.2 619.6 880.6 618.5 881.2 617.4 881.8 616.5 882.6 615.8 883.5 615.1 884.4 614.6 885.3 614.3 886.2 614.0 887.0 613.9 887.8 613.9 888.6 614.0 889.2 614.1 889.8 614.3 890.2 614.5 890.5 614.7 890.7 614.8 890.7 615.0 890.7 615.0 890.5 615.0 890.2 614.9 889.9 614.6 889.5 614.3 889.0 613.8 888.5 613.1 888.1 612.4 887.7 611.5 887.3 610.5 887.0 609.4 886.8 608.2 886.7 607.0 886.8 605.8 887.0 604.7 887.4 603.6 887.8 602.7 888.4 601.9 888.9 601.3 889.5 600.8 890.0 600.5 890.4 600.2 890.7 600.0 890.9 599.8 890.8 599.5 890.6 599.2 890.3 598.8 889.9 598.3 889.4 597.6 888.9 596.8 888.4 595.9 887.9 594.8 887.6 593.8 887.3 592.6 887.1 591.6 887.1 590.5 887.2 589.5 887.4 588.6 887.6 587.8 887.9 587.2 888.3 586.6 888.6 586.1 888.9 585.8 889.2 585.5 889.5 585.3 889.7 585.1 889.8 585.0 889.9 584.9 890.0 584.8 890.0M766.4 823.5 765.7 823.9 764.9 824.5 764.2 825.1 763.5 825.8 762.9 826.7 762.4 827.6 762.0 828.6 761.7 829.6 761.6 830.7 761.7 831.6 762.0 832.5 762.5 833.3 763.0 833.9 763.7 834.2 764.4 834.3 765.2 834.0 765.8 833.5 766.2 832.7 766.4 831.7 766.3 830.4 765.9 829.1 765.1 827.8 763.9 826.5 762.4 825.4 760.5 824.5 758.5 824.0 756.3 823.8 754.1 824.1 751.9 824.8 749.9 825.8 748.2 827.1 746.8 828.7 745.8 830.4 745.2 832.1 744.9 833.8 745.0 835.4 745.5 836.8 746.2 837.9 747.0 838.7 748.0 839.1 749.0 839.3 750.0 839.1 750.9 838.7 751.7 837.9 752.2 836.9 752.5 835.7 752.5 834.3 752.2 832.8 751.6 831.4 750.6 830.0 749.4 828.7 747.9 827.6 746.1 826.8 744.2 826.2 742.2 826.0 740.1 826.0 738.1 826.4 736.2 827.1 734.4 828.1 732.9 829.3 731.6 830.7 730.7 832.2 730.0 833.7 729.7 835.3 729.7 836.7 729.9 838.1 730.4 839.2 731.2 840.0 732.0 840.6 732.9 840.8 733.9 840.8 734.8 840.4 735.5 839.7 736.1 838.7 736.4 837.5 736.5 836.2 736.2 834.7 735.7 833.2 734.8 831.8 733.6 830.5 732.1 829.3 730.4 828.4 728.5 827.7 726.6 827.4 724.6 827.3 722.7 827.6 720.9 828.2 719.4 829.1 718.1 830.1 717.1 831.2 716.5 832.4 716.2 833.5 716.2 834.5 716.5 835.3 717.0 835.8 717.5 836.0 718.2 835.9 718.8 835.5 719.2 834.8 719.5 833.8 719.6 832.7 719.3 831.4 718.9 830.2 718.1 829.0 717.1 827.8 715.9 826.9 714.6 826.1 713.2 825.5 711.8 825.2 710.3 825.1 709.0 825.1 707.8 825.4 706.7 825.8 705.8 826.2 705.0 826.7 704.4 827.3 704.0 827.8 703.7 828.2 703.5 828.6 703.4 828.9 703.4 829.1 703.4 829.2 703.5 829.1 703.5 829.0 703.5 828.7 703.4 828.4 703.3 827.9 703.1 827.4 702.8 826.9 702.4 826.3 701.9 825.8 701.3 825.2 700.6 824.7 699.9 824.3 699.1 823.9 698.2 823.6 697.4 823.3 696.5 823.2 695.7 823.1 694.8 823.1 694.0 823.2 693.3 823.3 692.6 823.4 692.0 823.6 691.4 823.8 690.9 824.1 690.4 824.3 690.1 824.6 689.7 824.8 689.4 825.0 689.2 825.2 689.0 825.3 688.9 825.4 688.7 825.5 688.6 825.6 688.5 825.7 688.5 825.7 688.4 825.7 688.3 825.7M771.8 852.1 771.7 851.8 771.5 851.3 771.2 850.8 770.6 850.3 769.9 849.8 768.9 849.4 767.7 849.1 766.2 849.1 764.6 849.3 762.8 849.8 761.0 850.7 759.2 852.0 757.6 853.7 756.2 855.8 755.3 858.1 754.8 860.6 754.8 863.1 755.3 865.5 756.2 867.6 757.5 869.3 759.1 870.4 760.7 871.1 762.3 871.1 763.6 870.6 764.5 869.7 765.0 868.4 765.0 867.0 764.4 865.5 763.4 864.1 761.9 863.0 760.0 862.1 757.9 861.6 755.7 861.5 753.5 861.8 751.3 862.4 749.3 863.2 747.5 864.3 745.9 865.6 744.5 867.0 743.4 868.4 742.5 869.8 741.9 871.3 741.4 872.7 741.2 874.0 741.2 875.3 741.4 876.4 741.8 877.4 742.4 878.2 743.2 878.8 744.1 879.2 745.1 879.3 746.1 879.1 747.2 878.6 748.1 877.7 749.0 876.6 749.6 875.2 750.0 873.6 750.1 871.8 749.9 869.9 749.3 868.0 748.4 866.1 747.2 864.4 745.7 862.8 743.9 861.5 741.9 860.5 739.8 859.9 737.7 859.6 735.6 859.6 733.7 860.0 731.8 860.6 730.2 861.5 728.9 862.6 727.8 863.9 727.1 865.2 726.6 866.6 726.4 867.9 726.5 869.2 726.9 870.2 727.4 871.1 728.1 871.8 728.9 872.1 729.6 872.1 730.3 871.7 730.8 871.1 731.0 870.2 730.9 869.1 730.3 867.9 729.3 866.7 727.9 865.7 726.1 865.0 724.1 864.7 722.0 864.8 719.9 865.3 717.9 866.2 716.1 867.4 714.7 868.9 713.7 870.5 713.0 872.1 712.7 873.5 712.6 874.7 712.7 875.6 712.9 876.2 713.0 876.4 713.1 876.5 712.9 876.3 712.4 876.0 711.8 875.6 710.9 875.3 709.8 875.1 708.6 875.0 707.3 875.1 705.9 875.3 704.6 875.7 703.3 876.3 702.2 877.0 701.2 877.8 700.3 878.6 699.5 879.5 698.9 880.3 698.5 881.1 698.1 881.9 697.8 882.6 697.7 883.2 697.6 883.7 697.5 884.2 697.4 884.5 697.4 884.7 697.3 884.8 697.2 884.8 697.0 884.7 696.7 884.5 696.3 884.3 695.8 884.1 695.3 883.9 694.6 883.7 693.8 883.5 692.9 883.4 691.9 883.4 690.9 883.5 689.9 883.6 688.9 883.9 687.9 884.3 686.9 884.8 686.0 885.3 685.1 886.0 684.4 886.7 683.7 887.4 683.1 888.2 682.6 889.0 682.2 889.8 682.0 890.5 681.7 891.3 681.6 892.0 681.5 892.6 681.5 893.2 681.6 893.7 681.6 894.2 681.7 894.6 681.9 895.0M682.5 859.3 682.7 859.9 682.9 860.5 683.3 860.9 683.8 861.2 684.4 861.3 685.0 861.1 685.6 860.6 686.0 859.8 686.2 858.6 686.0 857.3 685.4 855.7 684.2 854.1 682.6 852.7 680.5 851.5 678.0 850.7 675.2 850.5 672.3 851.0 669.6 852.1 667.3 853.8 665.6 856.0 664.5 858.3 664.2 860.7 664.7 862.8 665.7 864.3 667.2 865.2 668.7 865.3 670.2 864.5 671.2 863.1 671.7 861.2 671.5 858.9 670.5 856.6 668.8 854.6 666.4 852.9 663.7 851.8 660.8 851.3 657.9 851.5 655.1 852.2 652.7 853.5 650.8 855.1 649.3 856.9 648.3 858.9 647.8 860.9 647.7 862.8 648.1 864.5 648.8 865.9 649.8 866.8 650.9 867.4 652.1 867.5 653.2 867.1 654.1 866.4 654.8 865.3 655.1 864.0 655.1 862.5 654.7 861.0 653.9 859.4 652.7 858.1 651.2 856.9 649.4 855.9 647.5 855.3 645.5 855.0 643.4 855.1 641.4 855.4 639.5 856.1 637.9 857.0 636.4 858.2 635.3 859.5 634.4 860.8 633.8 862.2 633.4 863.5 633.4 864.7 633.5 865.8 633.8 866.6 634.3 867.3 634.8 867.7 635.3 867.9 635.9 867.9 636.3 867.7 636.7 867.3 636.9 866.7 637.0 866.1 637.0 865.3 636.8 864.5 636.4 863.8 635.9 863.0 635.2 862.3 634.4 861.6 633.6 861.1 632.6 860.6 631.6 860.3 630.6 860.0 629.6 859.9 628.5 859.8 627.5 859.9 626.5 860.0 625.5 860.3 624.6 860.6 623.8 860.9 623.0 861.4 622.3 861.8 621.7 862.3 621.2 862.9 620.7 863.4 620.3 863.9 620.0 864.4 619.8 864.9 619.6 865.4 619.5 865.8 619.4 866.1 619.3 866.4 619.3 866.6 619.4 866.8 619.4 866.9 619.4 866.9 619.4 866.9 619.4 866.7 619.3 866.5 619.2 866.3 619.1 866.0 618.8 865.6 618.5 865.2 618.1 864.8 617.6 864.4 617.0 864.0 616.3 863.6 615.5 863.2 614.6 862.9 613.7 862.7 612.7 862.6 611.7 862.5 610.6 862.6 609.6 862.7 608.7 863.0 607.7 863.3 606.9 863.6 606.1 864.1 605.5 864.5 604.9 865.0 604.4 865.4 604.1 865.8 603.8 866.1 603.5 866.4 603.4 866.6 603.2 866.7 603.1 866.7 603.0 866.6 602.8 866.5 602.7 866.3 602.4 866.0 602.2 865.7 601.9 865.4 601.6 865.0 601.2 864.7 600.8 864.3 600.3 864.0 599.8 863.7 599.4 863.4 598.9 863.2 598.4 863.0 598.0 862.8M654.3 820.8 654.4 820.6 654.5 820.4 654.6 820.1 654.6 819.6 654.6 819.1 654.4 818.5 654.2 817.8 653.7 817.0 653.1 816.1 652.3 815.2 651.3 814.4 650.0 813.6 648.6 813.0 647.0 812.6 645.2 812.3 643.4 812.4 641.6 812.7 639.8 813.3 638.2 814.2 636.8 815.3 635.7 816.6 634.9 817.9 634.4 819.3 634.3 820.5 634.4 821.6 634.8 822.5 635.4 823.1 636.1 823.4 636.8 823.4 637.4 823.0 638.0 822.3 638.3 821.4 638.4 820.4 638.3 819.2 637.9 818.0 637.3 816.8 636.5 815.6 635.5 814.6 634.3 813.7 633.1 813.0 631.8 812.4 630.4 812.0 629.0 811.8 627.7 811.6 626.3 811.7 625.0 811.8 623.8 812.1 622.6 812.5 621.5 813.0 620.5 813.5 619.6 814.2 618.8 814.8 618.1 815.5 617.6 816.3 617.1 817.0 616.7 817.8 616.4 818.5 616.2 819.3 616.1 820.0 616.0 820.7 616.1 821.3 616.2 821.9 616.4 822.4 616.7 822.9 617.0 823.3 617.4 823.6 617.8 823.8 618.2 823.9 618.6 824.0 619.1 823.9 619.5 823.7 619.8 823.3 620.1 822.9 620.3 822.3 620.4 821.7 620.4 820.9 620.2 820.1 619.9 819.2 619.3 818.3 618.6 817.4 617.6 816.6 616.4 815.9 614.9 815.3 613.4 814.9 611.7 814.8 609.9 815.0 608.1 815.4 606.4 816.1 604.8 817.1 603.4 818.2 602.3 819.6 601.4 821.0 600.8 822.5 600.5 823.8 600.5 825.0 600.7 826.1 601.0 826.8 601.3 827.3 601.7 827.6 602.0 827.5 602.1 827.3 602.1 826.8 601.9 826.3 601.4 825.7 600.7 825.1 599.7 824.5 598.7 824.1 597.5 823.8 596.2 823.7 594.9 823.7 593.6 823.9 592.4 824.2 591.2 824.6 590.2 825.1 589.2 825.7 588.4 826.3 587.7 826.9 587.1 827.5 586.7 828.0 586.3 828.5 585.9 828.9 585.6 829.3 585.4 829.6 585.2 829.8 585.0 830.0 584.9 830.1 584.8 830.1 584.6 830.1 584.5 830.0 584.3 829.8 584.1 829.6 583.9 829.4 583.6 829.1 583.4 828.8 583.1 828.5 582.7 828.2 582.4 827.8 582.0 827.5 581.5 827.1 581.1 826.8 580.6 826.5 580.1 826.2 579.6 825.9 579.1 825.7 578.6 825.4 578.1 825.2 577.6 825.0 577.1 824.9 576.6 824.8 576.1 824.6 575.7 824.6 575.2 824.5 574.8 824.4 574.4 824.4 574.1 824.4 573.7 824.4 573.4 824.4 573.1 824.4 572.8 824.5M700.8 873.4 700.9 873.6 701.0 873.8 701.1 874.0 701.2 874.1 701.3 874.2 701.4 874.2 701.4 874.2 701.4 874.1 701.3 874.0 701.2 873.7 701.0 873.5 700.6 873.1 700.1 872.7 699.5 872.4 698.7 872.0 697.8 871.6 696.7 871.3 695.5 871.1 694.1 871.1 692.7 871.1 691.1 871.3 689.6 871.7 688.0 872.3 686.4 873.1 684.9 874.0 683.4 875.1 682.1 876.3 681.0 877.6 680.0 879.0 679.2 880.4 678.6 881.9 678.1 883.3 677.8 884.6 677.7 885.9 677.7 887.0 677.8 888.1 678.0 889.0 678.3 889.7 678.6 890.3 679.0 890.7 679.3 891.1 679.7 891.3 680.1 891.4 680.4 891.4 680.7 891.3 680.9 891.0 681.0 890.7 681.1 890.3 681.1 889.8 681.0 889.3 680.8 888.7 680.4 888.1 680.0 887.5 679.5 886.9 678.9 886.3 678.1 885.7 677.3 885.1 676.4 884.6 675.4 884.1 674.4 883.7 673.3 883.4 672.1 883.2 670.9 883.0 669.7 882.9 668.5 882.9 667.3 883.0 666.1 883.1 664.9 883.3 663.8 883.6 662.6 884.0 661.6 884.4 660.6 884.8 659.6 885.3 658.7 885.9 657.9 886.4 657.2 887.0 656.5 887.6 656.0 888.2 655.5 888.7 655.0 889.3 654.7 889.8 654.4 890.3 654.1 890.7 654.0 891.1 653.9 891.4 653.9 891.6 653.9 891.7 653.9 891.7 654.0 891.6 654.1 891.3 654.1 891.0 654.2 890.5 654.2 890.0 654.1 889.3 654.0 888.6 653.8 887.8 653.5 887.0 653.1 886.2 652.6 885.3 652.1 884.5 651.5 883.6 650.8 882.8 650.1 882.1 649.3 881.4 648.5 880.7 647.7 880.1 646.9 879.6 646.1 879.2 645.3 878.8 644.5 878.4 643.8 878.1 643.1 877.9 642.4 877.7 641.8 877.6 641.2 877.4 640.7 877.3 640.2 877.3 639.8 877.2 639.4 877.2M725.0 878.2 724.6 878.8 724.2 879.5 723.9 880.3 723.6 881.1 723.3 881.9 723.0 882.8 722.9 883.7 722.8 884.7 722.8 885.6 722.9 886.5 723.0 887.4 723.2 888.2 723.6 888.9 723.9 889.5 724.3 889.9 724.7 890.3 725.1 890.4 725.5 890.4 725.8 890.3 726.0 890.0 726.0 889.6 725.9 889.1 725.7 888.4 725.2 887.8 724.6 887.1 723.7 886.4 722.7 885.8 721.5 885.2 720.2 884.8 718.7 884.4 717.2 884.3 715.6 884.2 713.9 884.4 712.3 884.6 710.7 885.1 709.1 885.6 707.6 886.3 706.3 887.1 705.0 887.9 703.8 888.8 702.7 889.8 701.8 890.9 700.9 892.0 700.1 893.1 699.5 894.2 699.0 895.4 698.6 896.5 698.3 897.6 698.1 898.7 698.0 899.7 698.0 900.6 698.1 901.5 698.2 902.3 698.4 902.9 698.7 903.5 699.0 904.0 699.3 904.4 699.7 904.6 700.0 904.7 700.3 904.8 700.6 904.7 700.9 904.6 701.1 904.3 701.3 904.0 701.4 903.5 701.4 903.1 701.3 902.5 701.2 901.9 701.0 901.3 700.7 900.6 700.3 899.9 699.8 899.2 699.3 898.5 698.7 897.8 697.9 897.1 697.2 896.5 696.3 895.9 695.4 895.3 694.4 894.7 693.4 894.2 692.3 893.7 691.2 893.3 690.0 893.0 688.7 892.7 687.4 892.4 686.2 892.3 684.9 892.2 683.6 892.2 682.4 892.3 681.3 892.5 680.2 892.7 679.2 893.0 678.3 893.3 677.5 893.7 676.8 894.0 676.2 894.3 675.7 894.6 675.3 894.9 675.0 895.1 674.7 895.2 674.6 895.3 674.4 895.3 674.3 895.3 674.2 895.2 674.2 895.0 674.1 894.7 674.0 894.4 674.0 894.1 673.9 893.7 673.8 893.3 673.6 892.9 673.5 892.5 673.3 892.0 673.1 891.6 672.9 891.2 672.7 890.8 672.5 890.4 672.3 890.1 672.1 889.8M740.2 852.0 739.5 852.1 738.7 852.3 737.8 852.6 736.8 853.0 735.8 853.5 734.8 854.1 733.8 854.8 732.7 855.6 731.7 856.6 730.7 857.6 729.7 858.8 728.9 860.1 728.2 861.5 727.6 863.0 727.2 864.5 726.9 866.0 726.8 867.5 726.9 868.9 727.2 870.2 727.6 871.4 728.1 872.5 728.8 873.3 729.5 873.9 730.2 874.3 730.9 874.5 731.6 874.5 732.1 874.2 732.6 873.7 732.8 873.1 732.9 872.4 732.8 871.5 732.5 870.6 731.9 869.7 731.2 868.8 730.3 867.9 729.3 867.1 728.1 866.4 726.9 865.8 725.5 865.4 724.1 865.0 722.6 864.8 721.1 864.6 719.6 864.7 718.0 864.8 716.4 865.1 714.8 865.5 713.3 866.1 711.9 866.8 710.5 867.5 709.2 868.4 708.0 869.4 706.9 870.4 705.9 871.5 705.0 872.6 704.3 873.8 703.6 874.9 703.1 876.1 702.8 877.2 702.5 878.3 702.3 879.3 702.3 880.3 702.3 881.2 702.5 882.0 702.6 882.7 702.9 883.3 703.2 883.8 703.5 884.2 703.9 884.5 704.3 884.7 704.6 884.7 705.0 884.6 705.3 884.5 705.6 884.2 705.8 883.8 706.0 883.4 706.1 882.9 706.2 882.2 706.1 881.6 706.0 880.8 705.8 880.0 705.5 879.2 705.1 878.2 704.6 877.3 704.0 876.3 703.2 875.3 702.3 874.3 701.3 873.4 700.3 872.5 699.1 871.7 697.8 870.9 696.5 870.3 695.2 869.8 693.8 869.3 692.4 869.0 691.1 868.8 689.8 868.8 688.6 868.8 687.4 868.8 686.4 869.0 685.4 869.2 684.5 869.4 683.8 869.7 683.1 869.9 682.6 870.2 682.1 870.4 681.7 870.6 681.4 870.7 681.1 870.9 680.9 870.9 680.7 871.0 680.6 870.9 680.5 870.9 680.4 870.8 680.3 870.7 680.2 870.6 680.2 870.5 680.1 870.3 680.0 870.2 680.0 870.0M732.2 860.2 732.2 860.7 732.3 861.2 732.3 861.7 732.4 862.3 732.6 862.8 732.8 863.2 733.0 863.7 733.2 864.1 733.5 864.4 733.8 864.6 734.0 864.8 734.3 864.8 734.5 864.8 734.7 864.6 734.7 864.3 734.7 863.9 734.6 863.5 734.3 863.0 733.8 862.4 733.2 861.8 732.5 861.2 731.5 860.6 730.4 860.1 729.2 859.6 727.8 859.2 726.3 859.0 724.7 858.9 723.0 858.9 721.3 859.1 719.6 859.5 717.9 860.0 716.2 860.7 714.7 861.5 713.2 862.4 711.8 863.4 710.5 864.5 709.4 865.6 708.3 866.7 707.5 867.8 706.7 869.0 706.0 870.2 705.5 871.3 705.0 872.5 704.7 873.7 704.5 874.8 704.3 875.9 704.3 876.9 704.3 877.8 704.4 878.7 704.6 879.5 704.8 880.2 705.1 880.8 705.4 881.3 705.8 881.8 706.1 882.1 706.5 882.3 706.9 882.4 707.2 882.4 707.5 882.3 707.8 882.2 708.0 881.9 708.2 881.6 708.3 881.2 708.3 880.7 708.3 880.2 708.2 879.6 708.0 879.0 707.8 878.3 707.5 877.7 707.1 877.0 706.6 876.3 706.0 875.6 705.4 874.9 704.7 874.2 704.0 873.5 703.1 872.9 702.2 872.3 701.3 871.7 700.3 871.2 699.3 870.7 698.2 870.3 697.0 869.8 695.8 869.5 694.6 869.1 693.3 868.9 692.0 868.7 690.7 868.6 689.5 868.6 688.2 868.6 687.0 868.7 685.9 868.9 684.8 869.1 683.9 869.3 683.0 869.6 682.1 869.9 681.4 870.3 680.8 870.6 680.2 870.8 679.8 871.1 679.4 871.3 679.1 871.5 678.8 871.6 678.6 871.7 678.5 871.7 678.3 871.6 678.2 871.5 678.1 871.4 678.0 871.2 678.0 871.0 677.9 870.7 677.8 870.4 677.7 870.1 677.6 869.8 677.5 869.5 677.3 869.1 677.2 868.8 677.1 868.5 676.9 868.3 676.8 868.0M725.7 877.3 725.0 877.9 724.3 878.6 723.6 879.5 722.9 880.4 722.2 881.4 721.6 882.5 721.1 883.7 720.6 885.0 720.3 886.4 720.2 887.7 720.2 889.1 720.3 890.5 720.6 891.8 721.1 892.9 721.7 894.0 722.4 894.8 723.2 895.5 724.0 895.9 724.9 896.1 725.7 896.0 726.4 895.7 726.9 895.1 727.3 894.3 727.4 893.4 727.3 892.3 726.9 891.2 726.2 890.0 725.3 888.9 724.0 887.9 722.6 887.0 720.9 886.2 719.1 885.7 717.2 885.3 715.2 885.2 713.1 885.4 711.2 885.7 709.2 886.2 707.4 886.9 705.7 887.8 704.1 888.7 702.7 889.8 701.3 891.1 700.1 892.4 699.1 893.8 698.2 895.3 697.5 896.7 696.9 898.2 696.6 899.7 696.4 901.1 696.3 902.5 696.4 903.8 696.6 905.0 697.0 906.0 697.4 907.0 698.0 907.8 698.6 908.4 699.2 908.9 699.9 909.2 700.5 909.4 701.2 909.4 701.8 909.3 702.3 909.0 702.8 908.6 703.2 908.1 703.5 907.5 703.7 906.7 703.8 905.9 703.8 905.0 703.6 904.1 703.3 903.2 702.9 902.2 702.4 901.2 701.7 900.2 701.0 899.3 700.1 898.4 699.1 897.5 698.0 896.8 696.9 896.0 695.6 895.4 694.3 894.8 692.9 894.3 691.5 893.9 690.0 893.6 688.5 893.5 686.9 893.4 685.4 893.5 683.9 893.7 682.5 894.0 681.2 894.4 680.0 894.9 678.9 895.4 678.0 896.0 677.2 896.7 676.5 897.3 676.0 897.9 675.7 898.4 675.5 898.9 675.4 899.3 675.4 899.6 675.4 899.7 675.5 899.8 675.7 899.7 675.9 899.5 676.0 899.2 676.1 898.8 676.2 898.3 676.3 897.8 676.3 897.2 676.2 896.6 676.1 896.0 676.0 895.3 675.8 894.7 675.6 894.1 675.3 893.5 675.1 893.0 674.8 892.4 674.5 892.0 674.2 891.6 673.9 891.2M606.7 841.2 606.9 841.3 607.0 841.5 607.3 841.5 607.5 841.5 607.8 841.3 608.0 841.0 608.2 840.6 608.3 840.0 608.2 839.4 607.9 838.7 607.5 838.1 606.8 837.5 606.0 837.1 605.1 836.8 604.2 836.8 603.3 837.1 602.6 837.5 602.0 838.1 601.8 838.7 601.8 839.3 602.0 839.8 602.5 840.0 602.9 839.9 603.4 839.5 603.7 838.9 603.7 838.1 603.5 837.3 603.0 836.4 602.2 835.7 601.2 835.3 600.1 835.1 599.1 835.2 598.2 835.6 597.5 836.2 597.0 836.9 596.8 837.6 596.8 838.2 597.0 838.8 597.3 839.1 597.8 839.2 598.2 839.2 598.6 838.9 598.9 838.5 599.0 837.9 598.9 837.2 598.5 836.6 598.0 836.0 597.2 835.5 596.3 835.2 595.3 835.2 594.3 835.4 593.4 835.9 592.6 836.5 592.1 837.3 591.8 838.2 591.7 839.1 592.0 839.8 592.4 840.4 592.9 840.7 593.4 840.8 593.9 840.5 594.3 840.1 594.4 839.5 594.3 838.8 593.8 838.1 593.2 837.5 592.3 837.1 591.3 836.9 590.2 837.0 589.2 837.3 588.3 837.9 587.6 838.7 587.2 839.5 587.0 840.4 587.0 841.2 587.3 841.9 587.8 842.3 588.3 842.5 588.9 842.5 589.3 842.2 589.6 841.6 589.7 840.9 589.5 840.1 589.1 839.3 588.3 838.7 587.3 838.2 586.2 838.0 585.0 838.1 583.9 838.5 583.0 839.2 582.3 840.1 582.0 841.0 582.0 841.9 582.4 842.6 582.9 843.1 583.5 843.2 584.1 843.0 584.5 842.5 584.8 841.8 584.7 841.0 584.4 840.1 583.7 839.4 582.9 838.8 581.8 838.4 580.8 838.3 579.8 838.5 578.8 838.9 578.1 839.4 577.5 840.1 577.2 840.8 577.0 841.5 577.0 842.1 577.2 842.6 577.5 843.0 577.8 843.3 578.1 843.4 578.4 843.5 578.7 843.5 579.0 843.4M601.4 843.8 601.4 844.1 601.5 844.3 601.7 844.6 601.9 844.8 602.1 844.9 602.4 844.9 602.6 844.8 602.8 844.5 602.9 844.1 602.9 843.7 602.7 843.1 602.3 842.6 601.7 842.2 600.9 841.9 600.0 841.7 599.1 841.8 598.2 842.1 597.4 842.7 596.8 843.4 596.4 844.2 596.3 844.9 596.5 845.6 596.8 846.1 597.2 846.3 597.7 846.2 598.1 845.8 598.2 845.3 598.2 844.6 597.8 843.9 597.2 843.2 596.4 842.7 595.4 842.4 594.4 842.4 593.4 842.6 592.5 843.1 591.8 843.7 591.4 844.3 591.2 845.0 591.2 845.6 591.4 846.1 591.8 846.4 592.2 846.5 592.7 846.4 593.1 845.9 593.4 845.3 593.5 844.5 593.3 843.6 592.9 842.8 592.2 842.0 591.3 841.4 590.2 841.0 589.2 840.9 588.2 841.2 587.3 841.6 586.8 842.3 586.5 843.0 586.5 843.6 586.9 844.1 587.4 844.4 588.0 844.3 588.6 844.0 589.0 843.3 589.3 842.4 589.2 841.4 588.8 840.4 588.2 839.5 587.3 838.9 586.2 838.4 585.2 838.3 584.1 838.5 583.2 838.9 582.5 839.5 582.1 840.2 581.9 840.9 582.0 841.6 582.3 842.1 582.8 842.4 583.3 842.5 583.8 842.4 584.2 842.1 584.6 841.5 584.7 840.8 584.5 840.0 584.0 839.2 583.3 838.5 582.3 838.0 581.1 837.8 579.9 838.0 578.8 838.5 577.9 839.3 577.3 840.3 577.0 841.4 577.1 842.4 577.6 843.2 578.2 843.6 578.9 843.7 579.5 843.4 579.9 842.8 579.9 842.0 579.6 841.2 578.9 840.4 578.0 839.9 576.8 839.7 575.6 839.8 574.5 840.3 573.6 841.0 573.0 841.8 572.6 842.8 572.5 843.7 572.6 844.5 573.0 845.2 573.4 845.6 573.9 845.8 574.3 845.9 574.7 845.8 575.0 845.5 575.3 845.2 575.4 844.9 575.4 844.5M600.4 845.7 600.3 845.3 600.1 845.0 599.8 844.6 599.4 844.2 598.9 843.8 598.3 843.6 597.7 843.4 597.0 843.3 596.2 843.4 595.5 843.7 594.9 844.0 594.4 844.5 594.1 845.1 594.0 845.7 594.1 846.2 594.3 846.5 594.7 846.7 595.1 846.6 595.5 846.3 595.7 845.8 595.8 845.1 595.6 844.3 595.1 843.5 594.3 842.9 593.4 842.4 592.4 842.2 591.3 842.3 590.4 842.7 589.6 843.2 589.1 843.9 588.9 844.6 588.9 845.3 589.2 845.8 589.6 846.0 590.1 846.1 590.5 845.8 590.8 845.4 591.0 844.8 591.0 844.1 590.7 843.4 590.2 842.7 589.6 842.1 588.7 841.7 587.8 841.5 586.9 841.5 585.9 841.7 585.1 842.1 584.5 842.7 584.0 843.4 583.8 844.1 583.7 844.8 583.9 845.4 584.3 845.8 584.7 846.1 585.2 846.1 585.6 845.8 586.0 845.4 586.1 844.8 586.1 844.1 585.8 843.4 585.3 842.7 584.6 842.1 583.8 841.7 582.8 841.5 581.8 841.5 580.9 841.7 580.0 842.2 579.3 842.8 578.9 843.5 578.6 844.3 578.6 845.0 578.9 845.6 579.2 846.0 579.7 846.2 580.2 846.1 580.7 845.8 581.1 845.3 581.3 844.6 581.2 843.8 580.9 843.0 580.4 842.1 579.5 841.4 578.5 840.9 577.4 840.7 576.2 840.8 575.2 841.3 574.3 841.9 573.8 842.7 573.7 843.6 573.9 844.3 574.3 844.8 575.0 844.9 575.7 844.7 576.2 844.1 576.5 843.2 576.5 842.1 576.1 841.1 575.3 840.1 574.3 839.4 573.1 839.0 571.9 839.0 570.8 839.3 569.9 839.8 569.3 840.6 569.0 841.3 569.1 842.0 569.4 842.6 569.8 842.9 570.4 843.0 570.9 842.8 571.4 842.5 571.7 841.9 571.9 841.3 572.0 840.6 571.9 840.0 571.6 839.3 571.3 838.8 570.9 838.3 570.5 837.9M603.7 843.7 603.4 844.0 603.3 844.3 603.1 844.7 603.1 845.1 603.1 845.5 603.2 845.8 603.5 846.0 603.7 846.2 604.0 846.2 604.3 846.0 604.5 845.7 604.7 845.3 604.6 844.7 604.4 844.1 604.0 843.5 603.3 843.0 602.5 842.6 601.6 842.4 600.6 842.5 599.7 842.8 598.9 843.3 598.3 844.0 598.0 844.7 597.9 845.4 598.1 846.0 598.4 846.4 598.9 846.5 599.3 846.4 599.7 846.0 599.8 845.4 599.8 844.7 599.4 843.9 598.8 843.3 598.0 842.7 597.1 842.4 596.1 842.4 595.1 842.6 594.3 843.0 593.6 843.5 593.1 844.2 592.8 844.9 592.7 845.6 592.9 846.2 593.2 846.6 593.6 846.9 594.0 847.0 594.5 846.8 594.8 846.5 595.0 845.9 595.0 845.3 594.8 844.6 594.3 843.9 593.7 843.4 592.8 843.0 591.9 842.7 590.9 842.8 589.9 843.0 589.1 843.5 588.4 844.1 587.9 844.9 587.7 845.6 587.6 846.4 587.8 847.0 588.2 847.5 588.7 847.7 589.2 847.7 589.6 847.5 590.0 847.1 590.2 846.5 590.1 845.7 589.9 845.0 589.4 844.3 588.7 843.7 587.8 843.2 586.8 843.0 585.8 843.0 584.8 843.2 584.0 843.6 583.3 844.2 582.8 844.9 582.6 845.7 582.6 846.4 582.9 847.0 583.4 847.4 584.0 847.4 584.6 847.1 585.1 846.5 585.3 845.7 585.3 844.7 584.8 843.6 584.0 842.7 583.0 842.0 581.7 841.7 580.5 841.7 579.3 842.1 578.5 842.7 577.9 843.6 577.8 844.4 578.0 845.1 578.4 845.6 579.1 845.8 579.7 845.6 580.3 845.0 580.6 844.3 580.7 843.3 580.5 842.4 580.0 841.4 579.3 840.7 578.4 840.1 577.5 839.8 576.5 839.7 575.6 839.8 574.9 840.0 574.2 840.4 573.8 840.9 573.5 841.4 573.3 841.8 573.2 842.2 573.2 842.6M603.7 832.6 603.5 832.2 603.2 831.8 602.8 831.4 602.4 831.0 601.8 830.7 601.1 830.5 600.4 830.4 599.7 830.4 599.0 830.6 598.4 831.0 597.9 831.4 597.6 831.9 597.5 832.5 597.6 832.9 597.9 833.2 598.3 833.3 598.7 833.2 599.1 832.7 599.3 832.1 599.3 831.3 599.0 830.4 598.4 829.6 597.6 829.0 596.6 828.5 595.5 828.4 594.5 828.6 593.6 829.1 593.0 829.7 592.6 830.4 592.6 831.1 592.8 831.6 593.2 831.9 593.7 832.0 594.1 831.7 594.5 831.3 594.7 830.6 594.7 829.9 594.4 829.1 593.9 828.5 593.2 827.9 592.4 827.5 591.5 827.2 590.5 827.3 589.6 827.5 588.8 827.9 588.2 828.5 587.7 829.2 587.5 829.9 587.5 830.6 587.7 831.2 588.0 831.6 588.5 831.8 589.0 831.8 589.4 831.6 589.7 831.2 589.9 830.6 589.8 829.9 589.5 829.2 589.0 828.5 588.3 828.0 587.4 827.6 586.4 827.5 585.4 827.6 584.5 827.9 583.6 828.4 583.0 829.1 582.6 829.9 582.4 830.7 582.4 831.5 582.7 832.1 583.1 832.6 583.7 832.8 584.2 832.7 584.6 832.4 584.9 831.9 585.1 831.3 584.9 830.6 584.6 829.8 584.0 829.2 583.1 828.7 582.1 828.4 581.0 828.3 579.9 828.6 578.9 829.1 578.1 829.9 577.6 830.9 577.4 831.8 577.5 832.7 577.9 833.4 578.5 833.8 579.2 833.9 579.8 833.6 580.1 833.0 580.2 832.2 580.0 831.4 579.4 830.6 578.5 829.9 577.4 829.6 576.1 829.6 575.0 829.9 574.0 830.5 573.2 831.3 572.7 832.3 572.6 833.2 572.7 834.0 573.0 834.7 573.5 835.1 574.0 835.3 574.6 835.2 575.0 835.0 575.3 834.6 575.4 834.0 575.4 833.5 575.2 832.9 574.9 832.4 574.6 832.0 574.1 831.6 573.6 831.3 573.1 831.1M605.5 841.8 605.7 841.8 605.9 841.8 606.1 841.6 606.3 841.4 606.5 841.0 606.6 840.5 606.6 840.0 606.4 839.4 606.0 838.7 605.5 838.2 604.8 837.7 604.0 837.3 603.1 837.2 602.2 837.3 601.4 837.6 600.7 838.1 600.3 838.7 600.1 839.3 600.2 839.8 600.5 840.2 600.9 840.4 601.4 840.2 601.8 839.8 602.0 839.2 602.0 838.4 601.7 837.5 601.1 836.7 600.3 836.1 599.3 835.7 598.2 835.6 597.2 835.7 596.3 836.2 595.6 836.8 595.2 837.5 595.1 838.2 595.2 838.8 595.4 839.3 595.8 839.6 596.3 839.6 596.7 839.5 597.1 839.2 597.3 838.6 597.3 838.0 597.1 837.4 596.6 836.7 596.0 836.1 595.2 835.7 594.3 835.5 593.3 835.6 592.3 835.9 591.4 836.4 590.7 837.1 590.3 837.9 590.0 838.7 590.1 839.6 590.3 840.2 590.8 840.7 591.3 841.0 591.8 841.0 592.3 840.7 592.6 840.2 592.7 839.6 592.5 838.9 592.0 838.2 591.2 837.6 590.3 837.3 589.2 837.2 588.1 837.4 587.1 837.9 586.3 838.6 585.7 839.5 585.4 840.5 585.4 841.5 585.6 842.3 586.1 842.9 586.7 843.2 587.3 843.2 587.8 842.9 588.2 842.4 588.3 841.8 588.0 841.0 587.5 840.3 586.6 839.7 585.5 839.4 584.2 839.4 583.0 839.9 581.9 840.7 581.2 841.8 580.9 843.0 581.0 844.1 581.5 845.0 582.2 845.6 582.9 845.6 583.6 845.3 583.9 844.6 583.8 843.7 583.3 842.9 582.4 842.2 581.2 841.9 579.9 842.0 578.6 842.5 577.6 843.3 576.9 844.4 576.6 845.5 576.7 846.6 577.0 847.4 577.6 848.0 578.2 848.3 578.8 848.2 579.3 847.9 579.6 847.4 579.7 846.9 579.5 846.3 579.2 845.7 578.7 845.3 578.1 844.9 577.5 844.7 576.9 844.6 576.3 844.6M878.0 805.0 877.2 805.6 876.1 806.2 874.9 807.1 873.5 808.0 872.0 809.0 870.6 810.2 869.2 811.4 868.0 812.6 867.0 813.9 866.0 815.4 865.0 817.0 864.2 818.7 863.3 820.4 862.4 822.0 861.5 823.7 860.6 825.2 859.7 826.7 858.8 828.3 857.9 829.9 857.0 831.4 856.0 832.9 855.1 834.2 854.1 835.5 853.0 836.5 851.9 837.3 850.7 838.0 849.5 838.5 848.3 839.0 847.1 839.3 845.7 839.6 844.4 839.9 843.0 840.3 841.5 840.6 839.8 840.9 838.0 841.1 836.2 841.3 834.4 841.6 832.8 841.9 831.4 842.3 830.3 842.8 829.5 843.5 829.0 844.4 828.6 845.3 828.4 846.3 828.3 847.4 828.2 848.4 828.0 849.4 827.8 850.3 827.5 851.1 827.3 852.0 827.1 852.7 826.9 853.5 826.6 854.3 826.3 855.0 825.9 855.8 825.3 856.6 824.6 857.4 823.9 858.1 823.1 858.8 822.2 859.6 821.2 860.3 820.2 861.1 819.0 862.0 817.8 863.0 816.5 864.1 815.0 865.3 813.4 866.5 811.8 867.9 810.1 869.2 808.5 870.5 806.8 871.8 805.2 873.0 803.6 874.2 802.1 875.4 800.5 876.6 798.9 877.8 797.3 878.9 795.8 880.0 794.2 880.9 792.6 881.8 790.9 882.5 789.2 883.2 787.3 883.8 785.5 884.2 783.8 884.7 782.3 885.0 781.0 885.3 780.0 885.6" fill="none" stroke="#e3e35c" stroke-width="1.45" stroke-linejoin="round" stroke-linecap="round"/>
<path d="M938.3 791.2 934.0 796.7 930.0 798.6 926.0 800.6 922.0 802.5 918.0 804.4 914.0 806.1 910.0 807.5 906.0 808.8 902.0 810.1 898.0 811.5 894.0 813.2 890.0 815.0 886.0 816.4 882.0 817.2 878.0 818.0 874.0 818.8 870.0 819.4 866.0 819.8 862.0 820.0 858.0 820.0 854.0 819.8 850.0 819.6 846.0 819.5 842.0 819.5 838.0 819.8 834.0 820.3 830.0 821.0 826.0 821.8 822.0 823.3 818.0 825.8 814.0 829.0 810.0 832.0 806.0 834.7 802.0 837.2 798.0 839.7 794.0 842.1 790.0 844.7 786.0 847.4 782.0 850.4 778.0 853.6 774.0 856.3 770.0 859.1 766.0 862.0 762.0 864.7 758.0 867.2 754.0 869.5 750.0 871.5 746.0 873.4 742.0 875.2 738.0 877.1 734.0 879.1 730.0 881.2 726.0 883.6M938.3 791.2 934.0 788.3 930.0 787.3 926.0 786.5 922.0 785.7 918.0 785.0 914.0 784.0 910.0 782.6 906.0 780.8 902.0 779.0 898.0 777.3 894.0 775.9 890.0 774.9 886.0 774.5 882.0 774.7 878.0 774.9 874.0 775.0 870.0 774.8 866.0 774.2 862.0 773.2 858.0 771.9 854.0 770.6 850.0 769.5 846.0 768.6 842.0 768.1 838.0 767.9 834.0 768.1 830.0 768.3 826.0 768.4 822.0 768.9 818.0 769.7 814.0 770.5 810.0 771.1 806.0 771.5 802.0 772.1 798.0 772.9 794.0 774.1 790.0 775.6 786.0 777.5 782.0 779.5 778.0 781.4 774.0 783.3 770.0 784.8 766.0 785.9 762.0 786.8 758.0 787.5 754.0 788.2 750.0 789.2 746.0 790.6 742.0 792.3 738.0 794.3 734.0 796.5 730.0 798.7 726.0 800.7M938.3 791.2 934.0 787.3 930.0 785.4 926.0 783.7 922.0 782.6 918.0 782.1 914.0 781.4 910.0 779.7 906.0 776.9 902.0 774.1 898.0 772.3 894.0 771.8 890.0 771.9 886.0 771.8 882.0 770.9 878.0 769.0 874.0 766.9 870.0 765.7 866.0 765.8 862.0 766.7 858.0 767.2 854.0 766.5 850.0 764.7 846.0 762.5 842.0 761.1 838.0 761.0 834.0 761.8 830.0 762.5 826.0 762.0 822.0 761.0 818.0 759.9 814.0 759.7 810.0 760.7 806.0 762.7 802.0 764.8 798.0 765.9 794.0 765.7 790.0 764.8 786.0 764.4 782.0 765.2 778.0 767.2 774.0 769.7 770.0 771.3 766.0 771.6 762.0 771.2 758.0 770.9 754.0 771.9 750.0 774.0M938.3 791.2 934.0 794.6 930.0 796.0 926.0 797.3 922.0 798.1 918.0 798.3 914.0 798.3 910.0 798.8 906.0 800.5 902.0 802.9 898.0 805.2 894.0 806.7 890.0 807.1 886.0 806.4 882.0 805.1 878.0 804.6 874.0 805.0 870.0 806.3 866.0 807.8 862.0 808.8 858.0 808.7 854.0 807.6 850.0 806.3 846.0 805.4 842.0 805.5 838.0 806.6 834.0 808.1 830.0 809.3 826.0 809.6 822.0 809.5 818.0 809.1 814.0 808.9 810.0 809.5 806.0 811.2 802.0 813.6 798.0 815.9 794.0 817.4 790.0 817.9 786.0 817.6 782.0 817.3 778.0 817.5 774.0 818.4 770.0 820.2 766.0 822.2 762.0 823.7 758.0 824.2 754.0 823.7 750.0 822.9 746.0 822.5 742.0 823.0 738.0 824.5 734.0 826.6 730.0 828.3 726.0 829.2M938.3 791.2 934.0 789.8 930.0 789.1 926.0 788.7 922.0 788.5 918.0 788.6 914.0 788.6 910.0 788.4 906.0 787.6 902.0 786.3 898.0 784.9 894.0 783.5 890.0 782.4 886.0 781.7 882.0 781.7 878.0 782.0 874.0 782.5 870.0 783.0 866.0 783.3 862.0 783.1 858.0 782.5 854.0 781.4 850.0 780.2 846.0 778.9 842.0 777.9 838.0 777.3 834.0 777.1 830.0 777.3 826.0 777.8 822.0 779.0 818.0 781.1 814.0 783.6 810.0 785.7 806.0 787.3 802.0 788.7 798.0 790.0 794.0 791.5 790.0 793.4 786.0 795.7M938.3 791.2 934.0 789.8 930.0 789.3 926.0 788.9 922.0 788.4 918.0 787.8 914.0 786.9 910.0 785.8 906.0 784.6 902.0 783.5 898.0 782.7 894.0 782.1 890.0 781.8 886.0 781.8 882.0 782.0 878.0 782.1 874.0 782.0 870.0 781.7 866.0 781.2 862.0 780.4 858.0 779.5 854.0 778.5 850.0 777.6 846.0 776.9 842.0 776.5 838.0 776.3 834.0 776.3 830.0 776.5 826.0 776.6 822.0 777.3 818.0 778.0 814.0 778.5 810.0 778.7 806.0 778.7 802.0 778.7 798.0 778.6 794.0 778.7 790.0 779.1 786.0 779.7 782.0 780.5 778.0 781.5 774.0 782.7M938.3 791.2 934.0 795.3 930.0 796.7 926.0 798.5 922.0 800.5 918.0 802.4 914.0 803.9 910.0 804.9 906.0 805.2 902.0 805.4 898.0 805.8 894.0 806.8 890.0 808.3 886.0 809.9 882.0 811.2 878.0 812.5 874.0 813.7 870.0 814.3 866.0 814.3 862.0 813.7 858.0 812.8 854.0 811.8 850.0 811.1 846.0 810.9 842.0 811.3 838.0 812.3 834.0 813.6 830.0 815.0 826.0 816.1 822.0 817.3 818.0 818.6 814.0 819.9 810.0 820.8 806.0 821.6 802.0 822.8 798.0 824.5 794.0 826.8 790.0 829.7 786.0 832.9 782.0 836.1 778.0 839.0 774.0 840.8 770.0 842.1M938.3 791.2 934.0 793.7 930.0 794.7 926.0 795.8 922.0 796.8 918.0 797.5 914.0 798.0 910.0 798.1 906.0 798.1 902.0 798.5 898.0 799.3 894.0 800.5 890.0 801.9 886.0 803.1 882.0 803.7 878.0 803.9 874.0 803.7 870.0 803.1 866.0 802.4 862.0 801.7 858.0 801.3 854.0 801.3 850.0 801.7 846.0 802.5 842.0 803.2 838.0 803.9 834.0 804.1 830.0 804.0 826.0 803.4 822.0 803.3 818.0 804.9 814.0 808.3 810.0 812.1 806.0 816.3 802.0 820.9 798.0 825.5 794.0 829.9 790.0 834.1 786.0 837.7 782.0 841.0 778.0 844.1 774.0 846.9 770.0 849.9 766.0 853.3 762.0 857.2 758.0 861.4 754.0 865.7 750.0 869.9M938.3 791.2 934.0 790.5 930.0 790.4 926.0 790.4 922.0 790.2 918.0 789.6 914.0 788.5 910.0 787.1 906.0 785.6 902.0 784.7 898.0 784.2 894.0 784.3 890.0 784.9 886.0 785.6 882.0 786.3 878.0 786.6 874.0 786.5 870.0 785.7 866.0 784.5 862.0 783.1 858.0 781.7 854.0 780.5 850.0 779.9 846.0 779.8 842.0 780.2 838.0 780.9 834.0 781.7 830.0 782.3 826.0 782.4 822.0 782.6 818.0 783.9 814.0 786.3 810.0 788.5 806.0 790.8 802.0 793.5 798.0 796.8 794.0 800.6M938.3 791.2 934.0 791.7 930.0 791.9 926.0 792.1 922.0 792.1 918.0 792.0 914.0 791.7 910.0 791.2 906.0 790.8 902.0 790.6 898.0 790.6 894.0 790.9 890.0 791.3 886.0 791.8 882.0 792.0 878.0 792.2 874.0 792.1 870.0 791.8 866.0 791.3 862.0 790.6 858.0 789.8 854.0 789.2 850.0 788.7 846.0 788.5 842.0 788.4 838.0 788.6 834.0 788.9 830.0 789.2 826.0 789.4 822.0 790.1 818.0 790.7 814.0 791.1 810.0 791.4 806.0 791.5 802.0 791.8 798.0 792.1M938.3 791.2 934.0 789.7 930.0 789.2 926.0 788.6 922.0 787.9 918.0 786.9 914.0 785.8 910.0 784.7 906.0 783.8 902.0 783.3 898.0 783.1 894.0 783.0 890.0 782.8 886.0 782.6 882.0 782.3 878.0 781.6 874.0 780.7 870.0 779.8 866.0 778.8 862.0 778.1 858.0 777.7 854.0 777.6 850.0 777.7 846.0 777.8 842.0 777.9 838.0 777.7 834.0 777.3 830.0 776.5 826.0 775.6 822.0 775.2 818.0 775.4 814.0 775.9 810.0 776.7 806.0 777.8 802.0 779.0 798.0 780.3 794.0 781.4 790.0 782.2 786.0 782.8 782.0 783.1 778.0 783.2 774.0 783.5 770.0 783.9 766.0 784.6 762.0 785.6 758.0 786.9 754.0 788.3 750.0 789.6 746.0 790.8M938.3 791.2 934.0 791.8 930.0 792.0 926.0 792.2 922.0 792.2 918.0 791.9 914.0 791.5 910.0 790.9 906.0 790.7 902.0 790.9 898.0 791.4 894.0 792.1 890.0 792.8 886.0 793.2 882.0 793.0 878.0 792.5 874.0 791.7 870.0 790.8 866.0 790.1 862.0 789.6 858.0 789.5 854.0 789.8 850.0 790.2 846.0 790.7 842.0 790.9 838.0 790.8 834.0 790.4 830.0 789.6 826.0 788.7 822.0 788.6 818.0 789.7 814.0 791.9 810.0 794.5 806.0 797.3 802.0 800.1 798.0 802.8 794.0 805.1 790.0 807.1 786.0 808.8M938.3 791.2 934.0 789.6 930.0 788.6 926.0 787.3 922.0 786.4 918.0 786.6 914.0 787.1 910.0 787.0 906.0 785.1 902.0 782.6 898.0 781.0 894.0 781.0 890.0 782.0 886.0 782.8 882.0 782.3 878.0 780.3 874.0 778.2 870.0 777.3 866.0 778.0 862.0 779.3 858.0 780.0 854.0 779.0 850.0 776.8 846.0 774.9 842.0 774.4 838.0 775.5 834.0 776.8 830.0 777.0 826.0 775.6 822.0 774.0 818.0 773.4 814.0 774.5 810.0 776.9 806.0 779.1 802.0 780.0 798.0 779.3 794.0 778.2 790.0 778.1 786.0 779.7 782.0 782.1 778.0 784.1 774.0 784.6 770.0 783.8 766.0 783.0 762.0 783.5 758.0 785.5 754.0 788.2M938.3 791.2 934.0 792.9 930.0 793.5 926.0 793.9 922.0 794.2 918.0 794.4 914.0 794.5 910.0 794.7 906.0 794.9 902.0 795.5 898.0 796.2 894.0 797.0 890.0 797.8 886.0 798.3 882.0 798.4 878.0 798.4 874.0 798.2 870.0 797.8 866.0 797.4 862.0 796.9 858.0 796.5 854.0 796.2 850.0 796.1 846.0 796.3 842.0 796.5 838.0 796.8 834.0 797.1 830.0 797.3 826.0 797.4 822.0 797.9 818.0 798.5 814.0 798.9 810.0 799.3 806.0 799.8 802.0 800.4 798.0 801.1 794.0 802.0 790.0 803.1 786.0 804.3 782.0 805.6 778.0 806.7 774.0 807.5 770.0 808.1 766.0 808.6 762.0 808.9 758.0 809.1 754.0 809.3 750.0 809.6 746.0 810.0 742.0 810.7 738.0 811.5 734.0 812.4 730.0 813.4 726.0 814.4 722.0 815.2M938.3 791.2 934.0 789.8 930.0 789.0 926.0 788.3 922.0 788.0 918.0 788.2 914.0 788.2 910.0 787.7 906.0 786.2 902.0 784.5 898.0 783.3 894.0 783.0 890.0 783.5 886.0 784.1 882.0 784.3 878.0 783.6 874.0 782.1 870.0 780.6 866.0 779.8 862.0 779.8 858.0 780.5 854.0 781.2 850.0 781.2 846.0 780.4 842.0 778.9 838.0 777.5 834.0 776.7 830.0 776.9 826.0 777.7 822.0 778.9 818.0 780.1 814.0 780.7 810.0 780.9 806.0 781.2 802.0 782.2 798.0 784.2 794.0 786.6 790.0 788.8 786.0 790.2 782.0 790.7 778.0 790.8 774.0 791.3 770.0 792.6 766.0 794.8 762.0 797.3 758.0 799.4 754.0 800.8 750.0 801.3 746.0 801.4 742.0 802.0 738.0 803.5M938.3 791.2 934.0 788.8 930.0 787.7 926.0 786.4 922.0 785.2 918.0 784.3 914.0 783.8 910.0 783.6 906.0 783.5 902.0 782.9 898.0 781.9 894.0 780.4 890.0 778.6 886.0 777.0 882.0 775.9 878.0 775.2 874.0 775.0 870.0 775.2 866.0 775.6 862.0 775.9 858.0 775.9 854.0 775.4 850.0 774.4 846.0 773.1 842.0 771.7 838.0 770.5 834.0 769.8 830.0 769.5 826.0 769.7 822.0 770.7 818.0 772.7 814.0 775.3 810.0 777.4 806.0 779.0 802.0 780.2 798.0 781.4 794.0 782.6 790.0 784.3 786.0 786.4 782.0 789.0 778.0 791.9 774.0 795.0 770.0 797.8 766.0 800.2 762.0 802.1 758.0 803.5 754.0 804.9M938.3 791.2 934.0 790.0 930.0 789.3 926.0 788.6 922.0 788.2 918.0 788.0 914.0 787.9 910.0 787.7 906.0 787.1 902.0 786.2 898.0 785.0 894.0 784.0 890.0 783.2 886.0 783.0 882.0 783.1 878.0 783.3 874.0 783.4 870.0 783.2 866.0 782.6 862.0 781.7 858.0 780.7 854.0 779.9 850.0 779.5 846.0 779.4 842.0 779.5 838.0 779.8 834.0 779.8 830.0 779.4 826.0 778.8 822.0 778.5 818.0 779.6 814.0 782.1 810.0 785.0 806.0 788.3 802.0 791.8 798.0 795.2 794.0 798.3 790.0 801.1 786.0 803.6 782.0 805.9 778.0 808.3 774.0 811.0 770.0 814.1 766.0 817.5 762.0 821.0 758.0 824.4 754.0 827.6 750.0 830.3 746.0 832.8 742.0 835.1 738.0 837.6 734.0 840.5 730.0 843.7 726.0 847.1 722.0 850.7 718.0 854.0M938.3 791.2 934.0 789.7 930.0 788.9 926.0 787.9 922.0 786.7 918.0 785.6 914.0 784.7 910.0 784.2 906.0 784.3 902.0 784.5 898.0 784.4 894.0 783.9 890.0 782.9 886.0 781.6 882.0 780.3 878.0 779.0 874.0 778.2 870.0 777.8 866.0 777.9 862.0 778.3 858.0 778.8 854.0 779.0 850.0 778.8 846.0 778.1 842.0 776.9 838.0 775.6 834.0 774.4 830.0 773.5 826.0 773.1 822.0 773.9 818.0 776.5 814.0 780.5 810.0 784.3 806.0 787.6 802.0 790.4 798.0 792.7 794.0 794.9 790.0 797.2 786.0 799.9 782.0 803.0M938.3 791.2 934.0 793.8 930.0 794.4 926.0 794.8 922.0 795.4 918.0 796.5 914.0 798.0 910.0 799.5 906.0 800.4 902.0 800.5 898.0 800.3 894.0 800.2 890.0 800.8 886.0 801.8 882.0 802.8 878.0 803.7 874.0 804.0 870.0 803.5 866.0 802.6 862.0 801.7 858.0 801.3 854.0 801.7 850.0 802.7 846.0 803.7 842.0 804.2 838.0 803.9 834.0 803.0 830.0 802.1 826.0 801.5 822.0 802.4 818.0 805.9 814.0 811.3 810.0 816.4 806.0 820.8 802.0 824.5 798.0 827.9M938.3 791.2 934.0 788.6 930.0 787.9 926.0 787.5 922.0 787.2 918.0 786.5 914.0 784.9 910.0 782.7 906.0 780.3 902.0 778.6 898.0 777.9 894.0 778.1 890.0 778.7 886.0 779.4 882.0 779.5 878.0 778.5 874.0 776.8 870.0 774.7 866.0 773.0 862.0 772.0 858.0 772.0 854.0 772.9 850.0 773.9 846.0 774.6 842.0 774.5 838.0 773.3 834.0 771.4 830.0 769.3 826.0 767.7 822.0 767.7 818.0 768.9 814.0 770.7 810.0 772.7 806.0 774.1 802.0 774.5 798.0 774.0 794.0 772.9 790.0 771.9 786.0 771.4 782.0 771.8 778.0 773.2 774.0 775.4 770.0 777.4 766.0 778.8 762.0 779.2 758.0 778.7 754.0 777.7 750.0 776.9 746.0 776.9 742.0 777.8 738.0 779.6 734.0 781.8 730.0 783.7 726.0 784.8 722.0 785.0 718.0 784.3 714.0 783.3 710.0 782.7 706.0 782.9M938.3 791.2 934.0 791.3 930.0 791.0 926.0 790.7 922.0 790.6 918.0 790.9 914.0 791.3 910.0 791.9 906.0 792.3 902.0 792.2 898.0 791.6 894.0 790.9 890.0 790.1 886.0 789.4 882.0 788.9 878.0 788.9 874.0 789.2 870.0 789.7 866.0 790.2 862.0 790.4 858.0 790.3 854.0 789.7 850.0 788.8 846.0 787.8 842.0 787.0 838.0 786.4 834.0 786.3 830.0 786.5 826.0 787.0 822.0 788.2 818.0 789.4 814.0 790.2 810.0 790.7 806.0 790.8 802.0 790.7 798.0 790.7 794.0 791.0 790.0 791.6 786.0 792.6 782.0 794.0 778.0 795.4 774.0 796.6 770.0 797.5 766.0 798.0 762.0 798.1 758.0 798.0M938.3 791.2 934.0 790.0 930.0 789.6 926.0 788.5 922.0 786.8 918.0 785.6 914.0 785.9 910.0 787.2 906.0 787.6 902.0 785.8 898.0 782.9 894.0 781.0 890.0 781.0 886.0 782.7 882.0 783.9 878.0 783.3 874.0 780.9 870.0 778.6 866.0 777.9 862.0 779.2 858.0 780.9 854.0 781.2 850.0 779.5 846.0 776.9 842.0 775.3 838.0 775.9 834.0 777.6 830.0 778.8 826.0 777.9 822.0 776.1 818.0 775.9 814.0 778.6 810.0 783.2 806.0 788.0 802.0 791.3 798.0 792.6 794.0 793.1 790.0 794.9 786.0 798.8 782.0 803.8 778.0 807.9 774.0 810.1 770.0 810.9 766.0 812.0M938.3 791.2 934.0 792.2 930.0 792.2 926.0 792.3 922.0 793.0 918.0 793.9 914.0 794.3 910.0 793.8 906.0 793.0 902.0 792.9 898.0 793.9 894.0 795.3 890.0 796.1 886.0 795.6 882.0 794.3 878.0 793.4 874.0 793.5 870.0 794.5 866.0 795.3 862.0 795.1 858.0 794.0 854.0 792.8 850.0 792.4 846.0 793.1 842.0 794.1 838.0 794.5 834.0 793.7 830.0 792.3 826.0 791.5 822.0 792.5 818.0 795.1 814.0 798.3 810.0 800.4 806.0 801.6 802.0 802.9 798.0 805.1M938.3 791.2 934.0 791.0 930.0 791.0 926.0 791.4 922.0 791.8 918.0 792.2 914.0 792.2 910.0 791.6 906.0 790.5 902.0 789.2 898.0 788.0 894.0 787.3 890.0 787.0 886.0 787.3 882.0 788.0 878.0 788.9 874.0 789.8 870.0 790.4 866.0 790.5 862.0 790.0 858.0 789.0 854.0 787.7 850.0 786.2 846.0 785.0 842.0 784.1 838.0 783.8 834.0 784.0 830.0 784.7 826.0 785.6 822.0 787.1 818.0 788.9 814.0 790.6 810.0 791.8 806.0 792.4 802.0 792.6 798.0 792.8 794.0 793.1 790.0 793.8 786.0 795.0 782.0 796.8 778.0 799.1 774.0 801.5 770.0 803.9 766.0 806.1 762.0 807.7 758.0 808.8 754.0 809.4 750.0 809.6 746.0 809.7 742.0 810.0 738.0 810.6 734.0 811.8 730.0 813.5 726.0 815.7 722.0 818.2 718.0 820.6M938.3 791.2 934.0 790.3 930.0 789.8 926.0 789.0 922.0 787.9 918.0 786.8 914.0 786.1 910.0 785.8 906.0 786.2 902.0 786.8 898.0 787.2 894.0 787.2 890.0 786.6 886.0 785.5 882.0 784.2 878.0 782.7 874.0 781.5 870.0 780.8 866.0 780.6 862.0 781.0 858.0 781.7 854.0 782.4 850.0 782.8 846.0 782.7 842.0 782.1 838.0 780.9 834.0 779.5 830.0 778.1 826.0 777.0 822.0 777.1 818.0 779.0 814.0 782.1 810.0 785.5 806.0 788.8 802.0 791.7 798.0 794.1M938.3 791.2 934.0 790.0 930.0 789.3 926.0 788.6 922.0 788.1 918.0 787.9 914.0 788.0 910.0 788.1 906.0 788.2 902.0 787.9 898.0 787.2 894.0 786.2 890.0 785.0 886.0 783.8 882.0 782.9 878.0 782.3 874.0 782.0 870.0 782.1 866.0 782.4 862.0 782.8 858.0 783.1 854.0 783.1 850.0 782.8 846.0 782.1 842.0 781.1 838.0 780.1 834.0 779.0 830.0 778.2 826.0 777.7 822.0 778.2 818.0 779.2 814.0 780.5 810.0 781.8 806.0 782.9 802.0 783.7 798.0 784.2 794.0 784.3 790.0 784.2 786.0 784.0 782.0 783.9 778.0 784.0M938.3 791.2 934.0 791.5 930.0 791.6 926.0 791.7 922.0 791.6 918.0 791.1 914.0 790.7 910.0 790.4 906.0 790.8 902.0 791.4 898.0 791.9 894.0 791.9 890.0 791.5 886.0 790.7 882.0 789.9 878.0 789.6 874.0 789.8 870.0 790.3 866.0 790.6 862.0 790.4 858.0 789.8 854.0 788.9 850.0 788.2 846.0 787.9 842.0 788.0 838.0 788.5 834.0 788.8 830.0 788.7 826.0 788.1 822.0 787.8 818.0 788.3 814.0 789.6 810.0 791.4 806.0 793.5 802.0 795.4 798.0 797.0 794.0 798.0 790.0 798.7 786.0 799.6 782.0 800.8 778.0 802.6 774.0 804.6 770.0 806.5 766.0 807.9 762.0 808.9 758.0 809.6 754.0 810.3 750.0 811.5 746.0 813.2 742.0 815.2 738.0 817.1 734.0 818.5M938.3 791.2 934.0 788.5 930.0 787.6 926.0 787.0 922.0 786.4 918.0 785.5 914.0 783.9 910.0 782.0 906.0 780.0 902.0 778.6 898.0 778.0 894.0 777.9 890.0 777.9 886.0 778.0 882.0 777.7 878.0 776.7 874.0 775.1 870.0 773.5 866.0 772.3 862.0 771.7 858.0 771.8 854.0 772.3 850.0 772.9 846.0 773.0 842.0 772.4 838.0 771.1 834.0 769.5 830.0 768.0 826.0 767.0 822.0 767.3 818.0 769.6 814.0 773.4 810.0 776.9 806.0 779.9 802.0 782.2 798.0 783.9 794.0 785.5 790.0 787.2 786.0 789.6 782.0 792.7 778.0 796.3 774.0 800.2 770.0 803.8 766.0 806.8 762.0 809.0 758.0 810.9 754.0 812.6 750.0 814.8M938.3 791.2 934.0 790.6 930.0 790.0 926.0 789.5 922.0 789.5 918.0 790.0 914.0 790.7 910.0 791.2 906.0 790.8 902.0 789.6 898.0 788.1 894.0 786.7 890.0 785.9 886.0 786.0 882.0 786.7 878.0 787.7 874.0 788.5 870.0 788.6 866.0 787.9 862.0 786.5 858.0 784.9 854.0 783.6 850.0 783.1 846.0 783.3 842.0 784.2 838.0 785.2 834.0 785.8 830.0 785.7 826.0 784.8 822.0 784.0 818.0 783.4 814.0 783.4 810.0 784.2 806.0 785.8 802.0 787.9 798.0 790.0 794.0 791.6 790.0 792.5 786.0 792.5 782.0 792.1 778.0 791.7 774.0 791.9 770.0 792.9 766.0 794.6 762.0 796.8 758.0 798.8 754.0 800.2 750.0 800.8 746.0 800.7 742.0 800.2 738.0 800.0 734.0 800.3 730.0 801.5 726.0 803.4 722.0 805.6 718.0 807.5 714.0 808.7M938.3 791.2 934.0 791.8 930.0 792.1 926.0 792.4 922.0 792.2 918.0 791.6 914.0 790.6 910.0 789.7 906.0 789.6 902.0 790.3 898.0 791.5 894.0 792.8 890.0 793.6 886.0 793.5 882.0 792.7 878.0 791.3 874.0 789.8 870.0 788.8 866.0 788.4 862.0 788.8 858.0 789.8 854.0 790.8 850.0 791.5 846.0 791.5 842.0 790.7 838.0 789.4 834.0 787.9 830.0 786.8 826.0 786.3 822.0 787.2 818.0 789.2 814.0 791.6 810.0 793.7 806.0 795.2 802.0 795.9 798.0 796.0M938.3 791.2 934.0 790.7 930.0 790.2 926.0 789.7 922.0 789.2 918.0 788.8 914.0 788.7 910.0 788.7 906.0 788.9 902.0 789.1 898.0 789.0 894.0 788.7 890.0 788.2 886.0 787.5 882.0 786.7 878.0 785.9 874.0 785.2 870.0 784.8 866.0 784.5 862.0 784.5 858.0 784.7 854.0 784.9 850.0 785.0 846.0 785.1 842.0 784.8 838.0 784.4 834.0 783.7 830.0 782.9 826.0 782.1 822.0 782.0 818.0 782.6 814.0 783.5 810.0 784.7 806.0 786.1 802.0 787.6 798.0 789.0 794.0 790.3 790.0 791.4 786.0 792.3 782.0 792.9 778.0 793.4 774.0 793.9 770.0 794.4 766.0 795.0 762.0 795.9 758.0 797.0M938.3 791.2 934.0 790.6 930.0 790.3 926.0 789.8 922.0 789.1 918.0 788.4 914.0 788.0 910.0 788.1 906.0 788.4 902.0 788.4 898.0 787.9 894.0 787.0 890.0 786.0 886.0 785.2 882.0 784.9 878.0 785.0 874.0 785.4 870.0 785.6 866.0 785.3 862.0 784.5 858.0 783.5 854.0 782.7 850.0 782.2 846.0 782.3 842.0 782.7 838.0 782.9 834.0 782.8 830.0 782.1 826.0 781.1 822.0 780.9 818.0 781.7 814.0 783.6 810.0 785.9 806.0 788.2 802.0 790.2 798.0 791.6 794.0 792.7 790.0 793.7 786.0 794.9 782.0 796.7 778.0 798.9 774.0 801.3 770.0 803.4 766.0 805.0 762.0 806.1 758.0 807.1 754.0 808.3 750.0 810.0 746.0 812.1 742.0 814.5M938.3 791.2 934.0 787.8 930.0 786.4 926.0 784.9 922.0 783.3 918.0 781.7 914.0 780.2 910.0 779.0 906.0 778.0 902.0 777.1 898.0 776.1 894.0 775.0 890.0 773.6 886.0 772.3 882.0 771.2 878.0 770.1 874.0 769.2 870.0 768.5 866.0 768.0 862.0 767.8 858.0 767.6 854.0 767.4 850.0 767.1 846.0 766.4 842.0 765.6 838.0 764.6 834.0 763.5 830.0 762.5 826.0 761.7 822.0 761.8 818.0 763.7 814.0 766.9 810.0 770.1 806.0 773.2 802.0 776.1 798.0 778.7 794.0 781.1 790.0 783.4 786.0 785.8 782.0 788.3 778.0 791.1 774.0 794.5 770.0 798.0 766.0 801.6M938.3 791.2 934.0 790.1 930.0 790.1 926.0 790.1 922.0 789.4 918.0 787.9 914.0 786.3 910.0 785.9 906.0 786.9 902.0 788.1 898.0 787.9 894.0 786.2 890.0 784.0 886.0 782.6 882.0 782.9 878.0 784.3 874.0 785.4 870.0 785.0 866.0 783.2 862.0 781.1 858.0 780.2 854.0 780.8 850.0 782.3 846.0 783.1 842.0 782.3 838.0 780.3 834.0 778.4 830.0 777.8 826.0 778.8 822.0 780.9 818.0 783.0 814.0 784.2 810.0 784.4 806.0 785.1 802.0 787.3 798.0 790.8 794.0 794.5 790.0 797.0 786.0 797.9 782.0 798.1 778.0 799.0 774.0 801.7 770.0 805.4 766.0 809.0 762.0 811.1 758.0 811.8 754.0 812.1 750.0 813.5 746.0 816.4 742.0 820.3 738.0 823.6 734.0 825.4M938.3 791.2 934.0 793.3 930.0 793.9 926.0 794.4 922.0 794.5 918.0 794.4 914.0 794.3 910.0 794.3 906.0 794.7 902.0 795.7 898.0 797.0 894.0 798.4 890.0 799.7 886.0 800.5 882.0 800.7 878.0 800.5 874.0 800.0 870.0 799.1 866.0 798.2 862.0 797.3 858.0 796.7 854.0 796.5 850.0 796.6 846.0 797.1 842.0 797.9 838.0 798.7 834.0 799.4 830.0 799.9 826.0 799.9 822.0 800.3 818.0 801.6 814.0 803.8 810.0 806.0 806.0 808.3 802.0 811.0 798.0 814.0 794.0 817.4 790.0 821.1 786.0 825.0 782.0 829.0 778.0 832.7 774.0 835.9 770.0 838.8 766.0 841.2 762.0 843.3 758.0 845.3 754.0 847.2 750.0 849.4 746.0 851.9 742.0 854.8 738.0 858.1 734.0 861.6 730.0 865.3 726.0 869.0 722.0 872.4 718.0 875.5 714.0 878.2 710.0 880.5M938.3 791.2 934.0 792.4 930.0 793.0 926.0 793.6 922.0 793.9 918.0 793.7 914.0 793.2 910.0 792.5 906.0 792.3 902.0 792.9 898.0 794.0 894.0 795.3 890.0 796.6 886.0 797.1 882.0 796.9 878.0 796.0 874.0 794.8 870.0 793.7 866.0 792.9 862.0 792.7 858.0 793.2 854.0 794.0 850.0 795.0 846.0 795.6 842.0 795.7 838.0 795.2 834.0 794.1 830.0 792.9 826.0 791.9 822.0 792.0 818.0 793.3 814.0 795.4 810.0 797.8 806.0 800.0 802.0 801.8 798.0 802.9 794.0 803.5 790.0 803.7 786.0 803.9 782.0 804.5 778.0 805.7 774.0 807.4 770.0 809.5 766.0 811.7 762.0 813.5M938.3 791.2 934.0 791.0 930.0 791.0 926.0 791.4 922.0 791.9 918.0 792.3 914.0 792.0 910.0 791.0 906.0 789.6 902.0 788.5 898.0 788.2 894.0 788.7 890.0 789.8 886.0 790.9 882.0 791.6 878.0 791.5 874.0 790.6 870.0 789.2 866.0 787.6 862.0 786.5 858.0 786.1 854.0 786.6 850.0 787.6 846.0 788.6 842.0 789.3 838.0 789.1 834.0 788.1 830.0 786.6 826.0 785.0 822.0 784.6 818.0 785.4 814.0 787.0 810.0 789.1 806.0 791.2 802.0 792.8 798.0 793.6 794.0 793.6 790.0 793.1 786.0 792.7 782.0 792.8 778.0 793.7 774.0 795.3 770.0 797.4 766.0 799.4M938.3 791.2 934.0 792.3 930.0 792.2 926.0 791.9 922.0 792.1 918.0 792.9 914.0 794.2 910.0 795.3 906.0 795.2 902.0 794.0 898.0 792.9 894.0 792.6 890.0 793.5 886.0 794.9 882.0 796.1 878.0 796.3 874.0 795.3 870.0 793.7 866.0 792.4 862.0 792.1 858.0 793.0 854.0 794.3 850.0 795.2 846.0 795.0 842.0 793.7 838.0 792.1 834.0 791.1 830.0 791.2 826.0 792.3 822.0 794.2 818.0 796.7 814.0 799.1 810.0 800.6 806.0 802.1 802.0 804.4 798.0 807.9 794.0 812.2 790.0 816.3 786.0 819.5 782.0 821.5 778.0 822.9 774.0 824.4 770.0 826.9 766.0 830.6 762.0 834.7 758.0 838.5 754.0 841.1 750.0 842.7 746.0 843.9 742.0 845.7 738.0 848.6 734.0 852.5 730.0 856.7M938.3 791.2 934.0 785.8 930.0 783.7 926.0 782.0 922.0 780.7 918.0 779.7 914.0 778.6 910.0 776.9 906.0 774.4 902.0 771.2 898.0 768.0 894.0 765.2 890.0 763.0 886.0 762.1 882.0 762.3 878.0 762.9 874.0 763.3 870.0 763.2 866.0 762.4 862.0 760.9 858.0 758.9 854.0 756.8 850.0 755.0 846.0 753.9 842.0 753.5 838.0 753.7 834.0 754.3 830.0 754.7 826.0 754.7 822.0 754.6 818.0 754.8 814.0 755.5 810.0 756.0 806.0 756.8 802.0 758.2 798.0 760.4 794.0 763.2M938.3 791.2 934.0 792.7 930.0 793.0 926.0 793.2 922.0 793.3 918.0 793.7 914.0 794.3 910.0 795.2 906.0 796.0 902.0 796.5 898.0 796.5 894.0 796.3 890.0 796.2 886.0 796.1 882.0 796.1 878.0 796.5 874.0 797.0 870.0 797.3 866.0 797.3 862.0 796.8 858.0 796.1 854.0 795.5 850.0 795.2 846.0 795.3 842.0 795.8 838.0 796.2 834.0 796.5 830.0 796.3 826.0 795.8 822.0 795.8 818.0 796.1 814.0 796.8 810.0 797.9 806.0 799.2 802.0 800.6 798.0 801.7 794.0 802.4 790.0 802.7 786.0 802.9 782.0 803.3 778.0 804.0 774.0 805.0 770.0 806.1 766.0 807.3 762.0 808.1M938.3 791.2 934.0 789.6 930.0 788.6 926.0 787.7 922.0 787.2 918.0 787.2 914.0 787.6 910.0 787.7 906.0 787.0 902.0 785.4 898.0 783.6 894.0 781.9 890.0 780.8 886.0 780.7 882.0 781.4 878.0 782.2 874.0 782.7 870.0 782.5 866.0 781.5 862.0 779.9 858.0 778.3 854.0 777.2 850.0 776.8 846.0 777.3 842.0 778.1 838.0 778.8 834.0 778.9 830.0 778.2 826.0 776.8 822.0 775.8 818.0 776.0 814.0 777.7 810.0 780.2 806.0 783.3 802.0 786.4 798.0 789.2 794.0 791.1 790.0 792.3M938.3 791.2 934.0 791.4 930.0 791.3 926.0 791.0 922.0 790.5 918.0 789.8 914.0 789.2 910.0 789.0 906.0 789.4 902.0 790.1 898.0 790.8 894.0 791.3 890.0 791.4 886.0 790.9 882.0 789.9 878.0 788.8 874.0 787.7 870.0 787.0 866.0 786.7 862.0 786.8 858.0 787.4 854.0 788.0 850.0 788.5 846.0 788.7 842.0 788.3 838.0 787.5 834.0 786.4 830.0 785.3 826.0 784.4 822.0 784.5 818.0 785.6 814.0 787.2 810.0 789.1 806.0 790.9 802.0 792.4 798.0 793.5 794.0 794.0 790.0 794.2 786.0 794.3 782.0 794.5 778.0 795.0 774.0 796.0 770.0 797.4 766.0 799.2 762.0 801.0 758.0 802.6 754.0 803.8 750.0 804.5 746.0 804.8 742.0 804.8 738.0 804.9 734.0 805.2M938.3 791.2 934.0 791.9 930.0 792.1 926.0 792.6 922.0 793.5 918.0 794.4 914.0 794.8 910.0 794.5 906.0 793.5 902.0 792.5 898.0 792.2 894.0 792.7 890.0 794.0 886.0 795.3 882.0 796.2 878.0 796.4 874.0 795.7 870.0 794.4 866.0 793.0 862.0 792.0 858.0 791.7 854.0 792.3 850.0 793.4 846.0 794.5 842.0 795.0 838.0 794.7 834.0 793.6 830.0 792.2 826.0 790.9 822.0 791.0 818.0 792.2 814.0 794.0 810.0 796.1 806.0 797.8 802.0 798.8 798.0 798.9 794.0 798.4 790.0 797.9M938.3 791.2 934.0 791.4 930.0 791.6 926.0 791.9 922.0 792.3 918.0 792.4 914.0 792.3 910.0 791.7 906.0 790.8 902.0 790.0 898.0 789.4 894.0 789.2 890.0 789.3 886.0 789.7 882.0 790.3 878.0 790.9 874.0 791.4 870.0 791.6 866.0 791.5 862.0 790.9 858.0 790.1 854.0 789.0 850.0 788.0 846.0 787.1 842.0 786.5 838.0 786.4 834.0 786.6 830.0 787.1 826.0 787.7 822.0 789.0 818.0 790.8 814.0 793.0 810.0 794.7 806.0 796.1 802.0 797.3 798.0 798.4 794.0 799.6 790.0 801.2 786.0 803.1 782.0 805.4 778.0 808.0 774.0 810.7 770.0 813.4 766.0 815.9 762.0 818.1 758.0 819.9 754.0 821.4 750.0 822.5 746.0 823.5 742.0 824.6 738.0 826.0 734.0 827.7 730.0 829.8 726.0 832.2M938.3 791.2 934.0 788.3 930.0 786.9 926.0 785.8 922.0 785.2 918.0 784.8 914.0 784.1 910.0 782.6 906.0 780.3 902.0 778.3 898.0 777.2 894.0 776.9 890.0 777.0 886.0 777.0 882.0 776.3 878.0 774.7 874.0 773.0 870.0 771.9 866.0 771.8 862.0 772.3 858.0 772.9 854.0 772.7 850.0 771.5 846.0 769.8 842.0 768.3 838.0 767.7 834.0 767.9 830.0 768.6 826.0 768.9 822.0 768.9 818.0 769.7 814.0 771.7 810.0 774.4 806.0 778.0 802.0 782.3 798.0 786.7 794.0 790.3 790.0 793.0 786.0 795.1 782.0 797.3 778.0 800.4 774.0 804.6 770.0 809.3 766.0 813.7 762.0 817.1M938.3 791.2 934.0 790.0 930.0 789.3 926.0 788.3 922.0 787.2 918.0 786.3 914.0 786.0 910.0 786.2 906.0 786.7 902.0 786.8 898.0 786.2 894.0 784.9 890.0 783.2 886.0 781.7 882.0 780.7 878.0 780.4 874.0 780.8 870.0 781.6 866.0 782.2 862.0 782.3 858.0 781.7 854.0 780.4 850.0 778.9 846.0 777.6 842.0 776.8 838.0 776.7 834.0 777.3 830.0 778.0 826.0 778.5 822.0 779.0 818.0 780.7 814.0 783.5 810.0 786.1 806.0 789.0 802.0 792.6 798.0 796.8M938.3 791.2 934.0 792.7 930.0 793.0 926.0 793.0 922.0 792.9 918.0 793.0 914.0 793.5 910.0 794.5 906.0 795.7 902.0 796.7 898.0 797.1 894.0 797.0 890.0 796.5 886.0 795.7 882.0 795.0 878.0 794.9 874.0 795.4 870.0 796.1 866.0 796.9 862.0 797.3 858.0 797.1 854.0 796.4 850.0 795.4 846.0 794.4 842.0 793.9 838.0 794.0 834.0 794.5 830.0 795.3 826.0 796.0 822.0 796.9 818.0 798.2 814.0 799.7 810.0 801.0 806.0 802.5 802.0 804.5 798.0 807.1 794.0 810.1M938.3 791.2 934.0 790.0 930.0 789.6 926.0 789.4 922.0 789.3 918.0 789.1 914.0 788.5 910.0 787.4 906.0 786.0 902.0 784.6 898.0 783.6 894.0 783.1 890.0 783.0 886.0 783.3 882.0 783.9 878.0 784.3 874.0 784.4 870.0 784.0 866.0 783.1 862.0 781.9 858.0 780.6 854.0 779.5 850.0 778.7 846.0 778.5 842.0 778.7 838.0 779.2 834.0 779.7 830.0 780.1 826.0 780.0 822.0 780.1 818.0 781.8 814.0 785.0 810.0 788.1 806.0 791.5 802.0 795.3 798.0 799.5 794.0 804.2 790.0 809.2 786.0 814.1 782.0 818.8 778.0 823.0 774.0 826.8 770.0 830.2 766.0 833.4 762.0 836.7 758.0 840.2 754.0 844.2 750.0 848.7 746.0 853.5M938.3 791.2 934.0 793.1 930.0 793.7 926.0 793.9 922.0 794.1 918.0 794.7 914.0 795.7 910.0 796.8 906.0 797.3 902.0 797.1 898.0 796.9 894.0 797.4 890.0 798.5 886.0 799.5 882.0 799.6 878.0 799.0 874.0 798.2 870.0 797.8 866.0 798.2 862.0 798.9 858.0 799.3 854.0 798.9 850.0 798.1 846.0 797.5 842.0 797.6 838.0 798.3 834.0 798.9 830.0 798.8 826.0 798.0 822.0 797.9 818.0 799.4 814.0 802.1 810.0 805.1 806.0 807.5 802.0 809.1 798.0 810.5 794.0 812.4 790.0 815.0 786.0 817.9 782.0 820.6 778.0 822.5 774.0 823.6 770.0 825.0 766.0 827.1 762.0 829.8 758.0 832.4 754.0 834.3 750.0 835.5 746.0 836.8 742.0 838.6 738.0 841.1 734.0 843.8 730.0 846.0 726.0 847.4 722.0 848.6 718.0 850.2 714.0 852.5M938.3 791.2 934.0 793.7 930.0 794.5 926.0 795.0 922.0 795.2 918.0 795.5 914.0 796.4 910.0 798.0 906.0 799.5 902.0 800.0 898.0 799.8 894.0 799.5 890.0 799.9 886.0 800.9 882.0 801.9 878.0 802.6 874.0 802.3 870.0 801.3 866.0 800.4 862.0 800.2 858.0 801.0 854.0 802.1 850.0 802.6 846.0 802.1 842.0 801.1 838.0 800.2 834.0 800.3 830.0 801.1 826.0 802.2 822.0 803.2 818.0 803.5 814.0 803.3 810.0 803.5 806.0 804.6 802.0 806.4 798.0 808.3 794.0 809.4 790.0 809.7 786.0 809.5 782.0 809.7 778.0 810.9 774.0 812.5 770.0 814.1 766.0 814.8 762.0 814.6 758.0 814.1 754.0 814.2 750.0 815.3 746.0 816.9M938.3 791.2 934.0 785.8 930.0 783.7 926.0 781.7 922.0 780.0 918.0 778.6 914.0 777.3 910.0 775.7 906.0 773.5 902.0 770.8 898.0 768.0 894.0 765.4 890.0 763.2 886.0 762.0 882.0 761.9 878.0 761.9 874.0 761.9 870.0 761.5 866.0 760.6 862.0 759.3 858.0 757.6 854.0 756.0 850.0 754.7 846.0 753.9 842.0 753.6 838.0 753.6 834.0 753.6 830.0 753.4 826.0 752.8 822.0 752.3 818.0 752.6 814.0 753.8 810.0 755.2 806.0 757.0 802.0 759.2 798.0 762.0 794.0 764.9 790.0 767.7 786.0 770.1 782.0 772.0 778.0 773.4 774.0 775.1 770.0 776.9 766.0 778.9 762.0 781.5 758.0 784.5 754.0 787.8 750.0 791.2 746.0 794.3 742.0 797.0 738.0 799.1 734.0 800.9 730.0 802.6 726.0 804.5 722.0 806.8M938.3 791.2 934.0 790.7 930.0 790.3 926.0 789.7 922.0 789.2 918.0 789.0 914.0 789.1 910.0 789.6 906.0 789.9 902.0 789.9 898.0 789.4 894.0 788.6 890.0 787.5 886.0 786.5 882.0 785.8 878.0 785.5 874.0 785.6 870.0 786.0 866.0 786.5 862.0 786.8 858.0 786.7 854.0 786.2 850.0 785.3 846.0 784.2 842.0 783.2 838.0 782.5 834.0 782.2 830.0 782.4 826.0 782.8 822.0 784.0 818.0 786.1 814.0 788.9 810.0 791.2 806.0 793.2 802.0 794.9 798.0 796.8 794.0 799.0 790.0 801.7M938.3 791.2 934.0 789.6 930.0 789.0 926.0 788.5 922.0 787.9 918.0 787.1 914.0 785.9 910.0 784.6 906.0 783.3 902.0 782.3 898.0 781.5 894.0 781.1 890.0 780.9 886.0 781.0 882.0 781.2 878.0 781.2 874.0 780.9 870.0 780.3 866.0 779.5 862.0 778.4 858.0 777.3 854.0 776.4 850.0 775.6 846.0 775.2 842.0 775.1 838.0 775.2 834.0 775.4 830.0 775.6 826.0 775.6 822.0 776.0 818.0 776.5 814.0 776.9 810.0 777.1 806.0 777.3 802.0 777.6 798.0 778.1 794.0 779.0 790.0 780.1 786.0 781.5 782.0 783.0 778.0 784.4 774.0 785.8 770.0 787.0 766.0 787.8 762.0 788.3 758.0 788.6 754.0 789.0 750.0 789.4 746.0 790.1 742.0 791.0M938.3 791.2 934.0 789.5 930.0 788.7 926.0 787.7 922.0 786.4 918.0 785.0 914.0 783.8 910.0 783.0 906.0 782.7 902.0 782.9 898.0 783.1 894.0 783.1 890.0 782.9 886.0 782.4 882.0 781.6 878.0 780.4 874.0 779.0 870.0 777.6 866.0 776.4 862.0 775.6 858.0 775.2 854.0 775.2 850.0 775.6 846.0 776.2 842.0 776.6 838.0 776.8 834.0 776.7 830.0 776.0 826.0 774.9 822.0 774.3 818.0 774.3 814.0 775.1 810.0 776.2 806.0 777.7 802.0 779.6 798.0 782.0 794.0 784.6 790.0 787.1 786.0 789.5 782.0 791.6 778.0 793.2 774.0 794.4 770.0 795.4 766.0 796.2 762.0 797.0 758.0 798.1 754.0 799.6 750.0 801.5 746.0 803.9 742.0 806.5 738.0 809.3M938.3 791.2 934.0 790.6 930.0 790.4 926.0 790.0 922.0 789.5 918.0 788.8 914.0 788.1 910.0 787.7 906.0 787.6 902.0 787.7 898.0 787.9 894.0 787.8 890.0 787.3 886.0 786.6 882.0 785.8 878.0 785.1 874.0 784.5 870.0 784.3 866.0 784.4 862.0 784.6 858.0 784.7 854.0 784.5 850.0 784.1 846.0 783.4 842.0 782.5 838.0 781.8 834.0 781.3 830.0 781.2 826.0 781.3 822.0 782.2 818.0 784.7 814.0 788.6 810.0 792.1 806.0 795.4 802.0 798.7 798.0 802.1 794.0 805.8 790.0 809.8 786.0 814.0 782.0 818.3 778.0 822.4 774.0 826.2M938.3 791.2 934.0 788.3 930.0 787.6 926.0 786.6 922.0 785.0 918.0 782.8 914.0 780.9 910.0 780.0 906.0 780.2 902.0 780.5 898.0 779.7 894.0 777.6 890.0 774.8 886.0 772.8 882.0 772.3 878.0 773.0 874.0 774.1 870.0 774.3 866.0 773.3 862.0 771.2 858.0 769.2 854.0 768.2 850.0 768.5 846.0 769.6 842.0 770.3 838.0 769.7 834.0 767.9 830.0 765.7 826.0 764.3 822.0 764.8 818.0 766.7 814.0 768.5 810.0 769.4 806.0 769.0 802.0 767.8 798.0 766.9 794.0 767.2 790.0 768.8M938.3 791.2 934.0 790.2 930.0 789.6 926.0 789.1 922.0 788.9 918.0 788.9 914.0 789.1 910.0 789.4 906.0 789.4 902.0 788.8 898.0 787.9 894.0 786.8 890.0 785.6 886.0 784.5 882.0 783.8 878.0 783.4 874.0 783.3 870.0 783.6 866.0 784.1 862.0 784.6 858.0 784.8 854.0 784.8 850.0 784.4 846.0 783.6 842.0 782.5 838.0 781.4 834.0 780.3 830.0 779.5 826.0 779.1 822.0 779.7 818.0 782.2 814.0 786.4 810.0 790.6 806.0 794.6 802.0 798.3 798.0 801.6 794.0 804.6 790.0 807.3 786.0 809.8 782.0 812.5 778.0 815.3 774.0 818.6 770.0 822.3 766.0 826.2 762.0 830.4 758.0 834.6 754.0 838.7 750.0 842.5M938.3 791.2 934.0 791.4 930.0 791.0 926.0 790.7 922.0 791.2 918.0 792.1 914.0 792.4 910.0 791.4 906.0 789.8 902.0 789.4 898.0 790.4 894.0 791.9 890.0 792.5 886.0 791.4 882.0 789.6 878.0 788.6 874.0 789.1 870.0 790.5 866.0 791.2 862.0 790.4 858.0 788.6 854.0 787.3 850.0 787.4 846.0 788.7 842.0 789.7 838.0 789.4 834.0 787.7 830.0 786.1 826.0 785.8 822.0 787.5 818.0 790.7 814.0 793.8 810.0 795.4 806.0 796.6 802.0 798.9 798.0 802.6 794.0 807.0 790.0 810.5 786.0 812.4 782.0 813.5 778.0 815.4 774.0 818.8 770.0 823.1 766.0 826.8 762.0 829.1 758.0 830.2 754.0 831.7 750.0 834.6 746.0 838.8 742.0 842.8 738.0 845.5M938.3 791.2 934.0 788.8 930.0 788.0 926.0 787.3 922.0 786.5 918.0 785.4 914.0 783.9 910.0 782.4 906.0 781.3 902.0 780.8 898.0 780.5 894.0 780.2 890.0 779.5 886.0 778.5 882.0 777.3 878.0 776.2 874.0 775.3 870.0 775.0 866.0 775.1 862.0 775.3 858.0 775.3 854.0 774.7 850.0 773.7 846.0 772.5 842.0 771.5 838.0 770.9 834.0 770.9 830.0 771.1 826.0 771.2 822.0 771.5 818.0 771.6 814.0 771.3 810.0 771.1 806.0 771.2 802.0 771.8 798.0 772.9 794.0 773.9 790.0 774.7 786.0 775.0 782.0 774.9 778.0 774.6 774.0 774.7 770.0 775.3 766.0 776.4 762.0 777.7 758.0 778.8 754.0 779.6 750.0 779.8 746.0 779.7 742.0 779.7 738.0 780.1 734.0 780.9 730.0 782.2 726.0 783.4 722.0 784.4 718.0 784.8 714.0 784.9 710.0 784.8 706.0 784.9M938.3 791.2 934.0 790.0 930.0 789.3 926.0 788.5 922.0 787.7 918.0 787.1 914.0 786.7 910.0 786.5 906.0 786.5 902.0 786.5 898.0 786.3 894.0 785.9 890.0 785.2 886.0 784.3 882.0 783.4 878.0 782.4 874.0 781.6 870.0 780.9 866.0 780.5 862.0 780.3 858.0 780.4 854.0 780.6 850.0 780.8 846.0 780.9 842.0 780.7 838.0 780.3 834.0 779.7 830.0 778.9 826.0 777.9 822.0 777.6 818.0 778.5 814.0 780.3 810.0 782.4 806.0 784.7 802.0 787.2 798.0 789.8 794.0 792.3 790.0 794.7M800.0 765.0 796.9 764.4 792.8 763.6 787.9 762.6 782.5 761.6 776.8 760.5 770.9 759.5 765.3 758.6 760.0 758.0 754.9 757.6 749.8 757.3 744.6 757.1 739.4 757.1 734.3 757.0 729.3 757.0 724.5 757.0 720.0 757.0 715.8 757.0 711.8 757.0 708.1 757.0 704.5 757.0 700.9 757.1 697.4 757.1 693.7 757.1 690.0 757.0 685.9 756.9 681.5 756.7 676.9 756.5 672.4 756.3 668.1 756.1 664.3 755.9 661.0 755.7 658.6 755.6M900.0 795.0 899.3 796.5 898.3 798.8 897.2 801.4 896.0 804.3 894.6 807.1 893.0 809.6 891.3 811.5 889.5 812.6 887.5 812.8 885.3 812.4 882.9 811.5 880.3 810.2 877.7 808.8 875.1 807.3 872.5 806.0 870.0 805.0 867.4 804.2 864.6 803.4 861.7 802.7 858.8 802.0 856.1 801.4 853.6 800.8 851.5 800.4 850.0 800.0M848.0 865.5 848.8 865.6 849.8 865.6 851.0 865.8 852.4 865.9 853.8 866.0 855.3 866.0 856.7 866.1 858.0 866.0 859.3 865.9 860.6 865.7 861.9 865.5 863.2 865.3 864.5 865.0 865.7 864.7 866.9 864.4 868.0 864.0 869.1 863.6 870.1 863.0 871.2 862.5 872.1 861.9 873.0 861.3 873.8 860.8 874.5 860.3 875.0 860.0M765.7 813.4 764.6 815.1 763.0 817.3 761.2 820.0 759.2 822.9 757.1 826.1 755.1 829.3 753.4 832.4 752.0 835.4 750.8 838.3 749.7 841.2 748.8 844.3 747.9 847.3 747.3 850.3 746.8 853.1 746.6 855.9 746.6 858.4 746.9 860.6 747.7 862.7 748.7 864.5 749.9 866.3 751.2 868.1 752.4 869.9 753.4 871.8 754.2 873.8 754.7 876.2 755.2 878.9 755.4 881.7 755.7 884.6 755.8 887.3 755.9 889.8 756.0 891.8 756.2 893.4M767.1 812.6 765.8 814.3 764.1 816.5 762.0 819.2 759.7 822.1 757.4 825.3 755.2 828.5 753.2 831.6 751.6 834.6 750.1 837.4 748.5 840.2 746.9 843.0 745.6 845.8 744.6 848.7 744.1 851.6 744.3 854.6 745.4 857.6 747.9 860.8 751.7 864.3 756.5 867.9 761.6 871.5 766.7 875.0 771.3 878.2 774.9 881.2 776.9 883.6 777.3 885.6 776.4 887.3 774.5 888.6 772.1 889.7 769.5 890.6 766.9 891.4 764.8 892.0 763.4 892.6M833.5 806.7 832.2 808.4 830.2 810.6 827.9 813.3 825.4 816.3 822.9 819.4 820.6 822.6 818.7 825.8 817.4 828.7 816.7 831.6 816.5 834.7 816.6 837.8 817.0 841.0 817.5 844.0 818.0 846.9 818.4 849.5 818.5 851.7 818.3 853.5 817.7 854.7 817.0 855.6 816.2 856.4 815.7 857.2 815.5 858.2 815.9 859.6 817.0 861.4 819.0 864.0 821.9 867.3 825.5 870.9 829.4 874.7 833.2 878.4 836.8 881.8 839.8 884.7 841.9 886.7M828.6 797.9 827.8 799.6 826.6 801.8 825.3 804.5 823.8 807.4 822.2 810.6 820.6 813.8 819.1 816.9 817.6 819.9 816.2 822.7 814.5 825.5 812.7 828.2 810.9 831.0 809.4 833.9 808.1 836.8 807.3 839.8 806.9 842.9 807.1 846.2 807.6 849.9 808.4 853.7 809.6 857.6 811.1 861.3 812.9 864.7 815.1 867.8 817.6 870.3 820.9 872.3 825.0 873.8 829.7 874.9 834.7 875.8 839.5 876.5 844.0 877.0 847.7 877.4 850.4 877.9M776.2 821.9 775.2 823.6 773.9 825.8 772.4 828.5 770.6 831.5 768.8 834.6 767.0 837.8 765.2 840.9 763.5 843.9 761.9 846.7 760.1 849.7 758.2 852.6 756.4 855.5 754.7 858.5 753.1 861.4 751.8 864.2 750.9 866.9 750.2 869.5 749.6 872.1 749.3 874.6 749.1 877.1 749.2 879.5 749.6 881.9 750.4 884.2 751.6 886.4 753.4 888.6 756.0 890.9 759.0 893.2 762.4 895.4 765.7 897.4 768.7 899.2 771.2 900.7 773.0 901.9M815.2 814.5 814.7 816.1 814.2 818.4 813.6 821.1 812.8 824.0 812.1 827.2 811.2 830.4 810.4 833.5 809.5 836.5 808.6 839.4 807.4 842.6 806.1 845.8 804.8 849.0 803.6 852.1 802.7 855.0 802.0 857.5 801.8 859.5 802.1 860.7 802.9 861.3 804.0 861.4 805.3 861.3 806.7 861.2 808.1 861.5 809.2 862.3 810.1 864.0 810.6 866.8 811.1 870.5 811.4 874.9 811.6 879.5 811.8 884.1 811.9 888.4 812.0 891.9 812.1 894.5" fill="none" stroke="#6e6e6e" stroke-width="1.2" stroke-linejoin="round" stroke-linecap="round"/>
<path d="M841.1 836.8 840.6 836.5 840.1 836.2 839.4 836.0 838.7 835.8 837.9 835.7 837.1 835.7 836.2 835.8 835.4 836.0 834.6 836.3 833.9 836.8 833.3 837.3 832.9 837.8 832.6 838.3 832.5 838.7 832.6 839.0 832.8 839.1 833.0 839.0 833.2 838.6 833.2 838.0 833.1 837.2 832.7 836.2 832.0 835.3 831.1 834.4 829.8 833.7 828.4 833.2 826.9 833.0 825.4 833.1 824.0 833.6 822.9 834.3 822.0 835.1 821.4 836.0 821.2 836.8 821.2 837.5 821.5 838.0 821.8 838.2 822.2 838.1 822.6 837.7 822.8 837.2 822.8 836.4 822.6 835.5 822.1 834.6 821.4 833.7 820.5 832.9 819.3 832.3 818.0 831.9 816.6 831.8 815.2 831.9 813.8 832.2 812.6 832.9 811.6 833.6 810.8 834.6 810.3 835.5 810.0 836.4 810.0 837.3 810.2 837.9 810.5 838.4 810.9 838.6 811.3 838.5 811.7 838.2 811.9 837.6 811.9 836.9 811.6 836.1 811.1 835.2 810.4 834.4 809.4 833.7 808.2 833.2 806.9 832.8 805.5 832.8 804.2 832.9 802.9 833.3 801.7 833.9 800.8 834.7 800.1 835.5 799.6 836.4 799.3 837.2 799.3 837.9 799.4 838.4 799.7 838.7 800.0 838.8 800.3 838.7 800.5 838.3 800.5 837.7 800.4 837.0 800.1 836.2 799.6 835.4 798.8 834.7 797.9 834.0 796.8 833.5 795.7 833.2 794.5 833.1 793.3 833.1 792.2 833.4 791.2 833.8 790.4 834.3 789.8 834.8 789.4 835.4 789.1 835.9 789.0 836.3 789.0 836.5 789.0 836.6 789.1 836.6 789.1 836.3 789.1 836.0 789.0 835.5 788.7 834.9 788.3 834.4 787.7 833.8 787.0 833.3 786.2 832.9 785.3 832.6 784.3 832.5 783.4 832.5 782.5 832.6 781.6 832.8 780.9 833.1 780.2 833.5 779.7 833.9 779.3 834.2 778.9 834.6 778.7 834.9 778.5 835.1 778.3 835.3 778.1 835.3 777.9 835.3 777.6 835.2 777.3 835.1 776.9 834.9 776.4 834.8 775.8 834.7 775.2 834.6 774.5 834.6 773.8 834.6 773.1 834.7 772.4 834.9 771.7 835.2 771.0 835.5 770.5 835.8 769.9 836.2 769.4 836.5 769.0 836.8 768.6 837.1 768.2 837.4 767.9 837.6 767.5 837.7 767.2 837.8 766.8 837.9 766.3 838.0 765.9 838.0 765.4 838.0 764.9 838.0 764.3 838.1 763.7 838.1 763.2 838.2 762.5 838.3 761.9 838.4 761.3 838.5 760.8 838.6 760.2 838.8 759.6 838.9 759.1 839.1 758.6 839.2 758.2 839.3 757.8 839.4 757.3 839.5 757.0 839.5 756.6 839.5 756.2 839.5 755.8 839.4 755.4 839.3 754.9 839.1 754.5 838.9 754.0 838.8 753.4 838.6 752.8 838.4 752.2 838.2 751.6 838.1 750.9 838.0 750.2 838.0 749.6 838.0 748.9 838.1 748.3 838.2 747.8 838.4 747.3 838.5 746.9 838.7 746.5 838.8 746.2 838.9 745.9 838.9 745.7 838.9 745.4 838.8 745.2 838.6 744.9 838.4 744.5 838.1 744.1 837.8 743.6 837.5 742.9 837.2 742.2 836.9 741.4 836.8 740.6 836.7 739.7 836.7 738.9 836.9 738.0 837.1 737.2 837.5 736.5 838.0 736.0 838.5 735.5 839.1 735.2 839.6 735.0 840.1 735.0 840.5 735.0 840.8 735.0 840.9 735.0 840.9 735.0 840.7 734.8 840.4 734.5 840.0 734.0 839.5 733.3 839.1 732.5 838.8 731.5 838.5 730.3 838.5 729.2 838.6 728.0 838.9 726.9 839.4 726.0 840.1 725.2 840.9 724.6 841.8 724.2 842.7 724.0 843.5 724.0 844.1 724.2 844.6 724.5 844.9 724.7 845.0 725.0 844.8 725.1 844.4 725.0 843.8 724.8 843.2 724.3 842.4 723.6 841.7 722.6 841.0 721.5 840.5 720.3 840.2 718.9 840.1 717.5 840.2 716.1 840.6 714.9 841.2 713.9 842.1 713.2 843.0 712.8 843.9 712.7 844.8 712.9 845.4 713.2 845.8 713.7 845.8 714.2 845.4 714.5 844.7 714.5 843.7 714.2 842.6 713.6 841.4 712.6 840.3 711.4 839.4 709.9 838.8 708.3 838.5 706.7 838.5 705.3 838.8 704.0 839.4 703.0 840.2 702.3 841.0 701.9 841.8 701.8 842.6 701.9 843.1 702.1 843.5 702.4 843.7 702.8 843.7 703.1 843.5 703.4 843.1 703.6 842.7 703.7 842.1 703.6 841.5 703.5 841.0 703.3 840.4 703.1 839.9M828.5 845.3 828.1 845.4 827.7 845.6 827.3 845.8 827.0 846.0 826.6 846.2 826.3 846.4 826.1 846.6 825.9 846.7 825.8 846.8 825.7 846.9 825.6 846.8 825.5 846.6 825.4 846.4 825.3 846.0 825.1 845.5 824.8 845.0 824.3 844.3 823.7 843.7 822.9 843.1 822.0 842.5 821.0 842.1 819.8 841.8 818.7 841.6 817.5 841.7 816.3 841.9 815.3 842.2 814.4 842.7 813.7 843.3 813.2 843.9 812.9 844.5 812.7 844.9 812.7 845.3 812.7 845.5 812.8 845.5 812.9 845.3 813.0 845.1 812.9 844.6 812.8 844.1 812.5 843.6 812.1 843.0 811.5 842.4 810.8 841.9 809.9 841.4 808.9 841.1 807.8 840.9 806.7 840.9 805.6 841.0 804.4 841.3 803.4 841.8 802.4 842.4 801.6 843.1 800.9 843.9 800.4 844.7 800.0 845.5 799.8 846.3 799.8 846.9 799.9 847.5 800.0 847.9 800.2 848.1 800.3 848.1 800.4 848.0 800.4 847.7 800.3 847.3 800.0 846.9 799.6 846.4 798.9 845.9 798.2 845.5 797.3 845.2 796.3 844.9 795.2 844.8 794.1 844.9 793.0 845.1 791.9 845.4 791.0 845.8 790.1 846.4 789.3 847.0 788.7 847.6 788.2 848.2 787.9 848.8 787.7 849.3 787.5 849.7 787.5 850.0 787.5 850.1 787.5 850.1 787.5 850.0 787.4 849.8 787.3 849.4 787.1 849.0 786.8 848.5 786.4 848.0 785.9 847.5 785.2 847.0 784.5 846.5 783.7 846.1 782.8 845.8 781.9 845.6 781.0 845.5 780.1 845.5 779.2 845.6 778.4 845.8 777.7 846.0 777.1 846.3 776.6 846.5 776.1 846.8 775.8 847.0 775.5 847.2 775.2 847.3 775.0 847.4 774.8 847.4 774.6 847.3 774.3 847.1 774.1 847.0 773.8 846.7 773.4 846.5 772.9 846.2 772.4 846.0 771.9 845.8 771.3 845.6 770.7 845.5 770.0 845.4 769.3 845.4 768.6 845.4 767.9 845.5 767.3 845.7 766.6 845.9 766.0 846.1 765.5 846.4 765.0 846.7 764.5 846.9 764.0 847.2 763.6 847.5 763.2 847.7 762.8 847.9 762.4 848.1 762.0 848.3 761.6 848.4 761.1 848.5 760.7 848.6 760.2 848.7 759.8 848.8 759.3 848.9 758.7 849.0 758.2 849.1 757.7 849.3 757.1 849.4 756.6 849.5 756.0 849.7 755.5 849.8 754.9 850.0 754.4 850.1 753.9 850.3 753.4 850.4 752.9 850.6 752.4 850.7 751.9 850.8 751.4 850.9 750.9 851.0 750.4 851.1 750.0 851.1 749.5 851.2 749.0 851.2 748.5 851.2 748.0 851.1 747.5 851.1 747.0 851.0 746.5 850.9 745.9 850.8 745.3 850.7 744.7 850.6 744.1 850.4 743.4 850.3 742.8 850.2 742.1 850.1 741.4 850.0 740.7 850.0 740.1 850.0 739.5 850.0 738.9 850.0 738.3 850.0 737.8 850.0 737.3 850.1 736.9 850.0 736.5 850.0 736.2 849.9 735.8 849.8 735.5 849.6 735.1 849.4 734.8 849.1 734.4 848.9 734.0 848.6 733.5 848.3 733.1 848.0 732.6 847.8 732.2 847.6 731.7 847.4 731.2 847.2 730.8 847.1 730.3 847.0 730.0 846.9M782.5 844.1 783.1 844.3 783.9 844.6 784.8 845.0 785.8 845.5 786.9 846.0 788.0 846.5 789.1 847.2 790.1 847.8 791.0 848.6 792.0 849.6 792.9 850.7 793.8 851.8 794.8 852.8 795.7 853.8 796.7 854.7 797.6 855.4 798.5 855.9 799.5 856.2 800.3 856.5 801.2 856.6 802.2 856.7 803.1 856.7 804.1 856.7 805.2 856.6 806.3 856.5 807.5 856.2 808.8 855.8 810.1 855.4 811.4 855.0 812.8 854.6 814.0 854.3 815.2 854.1 816.4 854.1 817.7 854.1 818.9 854.2 820.0 854.3 821.2 854.5 822.2 854.7 823.2 855.0 824.1 855.4 824.8 855.8 825.3 856.3 825.8 856.8 826.2 857.3 826.5 858.0 826.9 858.7 827.3 859.5 827.8 860.4 828.4 861.5 829.1 862.6 829.8 863.9 830.5 865.3 831.2 866.7 831.8 868.0 832.4 869.3 832.9 870.5 833.2 871.5 833.6 872.5 833.8 873.5 834.0 874.4 834.2 875.3 834.2 876.2 834.2 877.1 834.1 878.0 833.9 879.0 833.7 880.0 833.3 881.0 832.9 882.0 832.4 882.9 831.8 883.9 831.1 884.8 830.3 885.6 829.5 886.3 828.5 887.1 827.5 887.7 826.3 888.3 825.2 888.9 823.9 889.5 822.7 890.1 821.5 890.6 820.3 891.2 819.1 891.7 817.8 892.2 816.5 892.7 815.2 893.1 813.9 893.6 812.7 894.0 811.5 894.4 810.3 894.8 809.2 895.2 808.1 895.6 807.1 896.0 806.0 896.3 804.9 896.6 803.8 896.8 802.7 896.9 801.5 896.9 800.3 896.9 799.1 896.8 797.9 896.6 796.6 896.4 795.3 896.1 794.0 895.9 792.6 895.7 791.0 895.4 789.3 895.1 787.5 894.7 785.7 894.3 783.9 894.0 782.3 893.6 781.0 893.3 780.0 893.1M820.0 858.0 821.0 858.4 822.4 858.8 824.1 859.3 825.9 859.9 827.7 860.5 829.5 861.3 830.9 862.1 832.0 863.0 832.7 864.0 833.3 865.1 833.6 866.4 833.8 867.7 833.9 869.0 833.8 870.4 833.7 871.7 833.5 873.0 833.2 874.3 832.8 875.6 832.4 876.9 831.8 878.2 831.1 879.5 830.3 880.7 829.5 881.9 828.6 883.0 827.6 884.0 826.6 885.0 825.4 885.9 824.2 886.7 822.9 887.5 821.5 888.3 820.1 889.0 818.7 889.6 817.2 890.2 815.6 890.7 814.0 891.2 812.3 891.6 810.6 892.0 808.9 892.4 807.2 892.7 805.5 893.0 803.9 893.3 802.2 893.6 800.6 893.9 799.0 894.1 797.3 894.3 795.6 894.5 793.9 894.6 792.0 894.6 790.0 894.6 787.9 894.5 785.8 894.4 783.6 894.2 781.4 894.0 779.2 893.7 777.1 893.4 775.0 893.0 772.9 892.5 770.8 891.9 768.6 891.2 766.4 890.4 764.4 889.7 762.6 889.0 761.1 888.4 760.0 888.0M705.0 880.0 705.7 881.1 706.6 882.5 707.6 884.3 708.8 886.2 710.1 888.2 711.6 890.1 713.2 891.7 715.0 893.0 717.0 894.0 719.4 894.9 721.9 895.6 724.6 896.2 727.3 896.7 730.0 897.0 732.6 897.1 735.0 897.0 737.4 896.6 739.9 895.9 742.3 894.9 744.8 893.8 747.0 892.6 749.0 891.5 750.7 890.6 752.0 890.0" fill="none" stroke="#86860e" stroke-width="1.2" stroke-linejoin="round" stroke-linecap="round"/>
<path d="M827.0 712.4 827.3 712.9 827.8 713.7 828.5 714.6 829.1 715.6 829.8 716.6 830.6 717.7 831.3 718.8 831.9 719.8 832.5 720.8 833.1 721.8 833.8 722.7 834.4 723.8 835.0 724.8 835.6 725.8 836.2 726.9 836.9 728.0 837.5 729.2 838.1 730.3 838.8 731.5 839.4 732.8 840.1 734.0 840.7 735.3 841.3 736.6 841.8 737.9 842.3 739.3 842.8 740.7 843.2 742.1 843.6 743.5 844.0 744.9 844.4 746.4 844.7 747.9 845.1 749.5 845.5 751.0 845.8 752.6 846.2 754.3 846.5 756.0 846.8 757.6 847.1 759.3 847.3 761.0 847.6 762.7 847.8 764.3 847.9 766.0 848.0 767.7 848.1 769.4 848.2 771.0 848.3 772.7 848.3 774.3 848.4 775.8 848.4 777.4 848.5 778.8 848.5 780.3 848.5 781.7 848.5 783.1 848.5 784.5 848.5 786.0 848.4 787.4 848.3 788.8 848.1 790.3 848.0 791.8 847.8 793.3 847.6 794.7 847.3 796.2 847.0 797.6 846.7 798.9 846.4 800.3 846.1 801.6 845.7 802.8 845.3 804.1 844.9 805.3 844.4 806.5 843.9 807.7 843.4 808.8 842.9 809.9 842.4 811.0 841.8 812.0 841.2 813.0 840.5 814.0 839.9 815.0 839.2 816.0 838.5 817.1 837.8 818.1 837.0 819.1 836.1 820.2 835.3 821.2 834.5 822.2 833.6 823.2 832.7 824.3 831.9 825.3 831.1 826.4 830.3 827.4 829.4 828.5 828.6 829.5 827.8 830.6 827.0 831.6 826.1 832.6 825.3 833.6 824.5 834.5 823.7 835.3 822.8 836.1 822.0 837.0 821.2 837.7 820.4 838.5 819.5 839.3 818.7 840.1 817.9 841.0 817.1 841.8 816.2 842.6 815.4 843.4 814.6 844.3 813.8 845.1 812.9 845.9 812.1 846.7 811.3 847.6 810.5 848.4 809.6 849.3 808.8 850.1 808.0 851.0 807.2 851.8 806.3 852.6 805.5 853.3 804.7 854.0 803.9 854.7 803.1 855.3 802.2 855.9 801.4 856.5 800.6 857.1 799.8 857.7 798.9 858.3 798.1 858.9 797.3 859.5 796.5 860.1 795.6 860.8 794.8 861.4 794.0 862.0 793.2 862.6 792.3 863.2 791.5 863.8 790.7 864.5 789.9 865.1 789.0 865.7 788.2 866.3 787.4 866.9 786.6 867.6 785.7 868.2 784.9 868.8 784.1 869.5 783.3 870.1 782.4 870.8 781.6 871.4 780.8 872.0 780.0 872.6 779.1 873.1 778.3 873.6 777.5 874.1 776.7 874.6 775.8 875.0 775.0 875.4 774.2 875.8 773.4 876.1 772.5 876.4 771.7 876.7 770.9 877.0 770.0 877.2 769.1 877.3 768.3 877.5 767.5 877.7 766.7 877.9 766.0 878.1 765.2 878.3 764.6 878.4 763.9 878.6 763.3 878.8 762.7 879.0 762.1 879.2 761.6 879.4 761.0 879.7 760.5 880.1 759.9 880.6 759.4 881.2 758.9 881.8 758.4 882.3 757.9 882.7 757.4 883.0 756.9 883.0 756.4 882.8 755.8 882.4 755.3 881.8 754.8 881.2 754.2 880.4 753.7 879.6 753.2 878.8 752.8 878.1 752.3 877.3 751.9 876.5 751.5 875.7 751.1 874.9 750.7 874.0 750.3 873.2 749.9 872.3 749.5 871.5 749.0 870.7 748.6 869.8 748.2 869.0 747.7 868.2 747.3 867.4 746.9 866.5 746.5 865.7 746.2 864.9 745.9 864.0 745.6 863.1 745.4 862.1 745.1 861.2 744.9 860.3 744.8 859.5 744.6 858.8 744.5 858.3" fill="none" stroke="#ee6eee" stroke-width="3.6" stroke-linejoin="round" stroke-linecap="round"/>
<path d="M744.5 858.3 744.6 857.8 744.6 857.1 744.7 856.3 744.8 855.4 744.9 854.5 745.0 853.5 745.2 852.6 745.3 851.7 745.6 850.9 745.8 850.1 746.1 849.3 746.4 848.5 746.8 847.7 747.1 846.9 747.5 846.0 747.8 845.1 748.2 844.1 748.6 843.1 749.0 842.1 749.4 841.1 749.8 840.0 750.2 839.0 750.7 837.9 751.1 836.9 751.6 835.8 752.0 834.7 752.5 833.7 753.0 832.6 753.5 831.5 754.1 830.5 754.6 829.5 755.2 828.6 755.9 827.8 756.5 827.0 757.2 826.2 758.0 825.5 758.7 824.8 759.5 824.1 760.2 823.5 761.0 822.8 761.8 822.2 762.6 821.7 763.5 821.2 764.4 820.7 765.2 820.2 766.0 819.8 766.8 819.3 767.6 818.7 768.3 818.1 769.0 817.5 769.6 816.9 770.2 816.3 770.8 815.7 771.3 815.0 771.9 814.4 772.5 813.8 773.2 813.1 773.7 812.5 774.3 811.9 774.9 811.3 775.5 810.7 776.1 810.1 776.8 809.4 777.5 808.8 778.2 808.2 779.0 807.6 779.8 807.0 780.7 806.3 781.5 805.7 782.4 805.1 783.3 804.5 784.1 803.9 784.9 803.3 785.7 802.7 786.5 802.1 787.3 801.5 788.1 800.9 788.9 800.3 789.8 799.6 790.7 798.9 791.6 798.2 792.6 797.3 793.7 796.5 794.7 795.6 795.8 794.7 796.8 793.8 797.9 793.1 798.9 792.3 800.0 791.7 801.0 791.1 802.0 790.6 803.1 790.1 804.1 789.6 805.1 789.1 806.1 788.7 807.2 788.2 808.2 787.8 809.2 787.3 810.2 787.0 811.2 786.6 812.2 786.2 813.2 785.8 814.3 785.4 815.4 784.9 816.6 784.4 817.9 783.9 819.2 783.4 820.5 782.8 821.8 782.3 823.0 781.7 824.2 781.2 825.3 780.8 826.3 780.4 827.2 780.0 828.1 779.7 828.9 779.4 829.7 779.1 830.4 778.8 831.2 778.6 831.9 778.3 832.6 778.1 833.3 777.8 834.0 777.5 834.6 777.2 835.2 777.0 835.8 776.8 836.3 776.7 836.9 776.7 837.3 776.7 837.8 776.8 838.1 777.0 838.5 777.2 838.9 777.5 839.2 777.8 839.7 778.1 840.1 778.3 840.7 778.6 841.3 778.9 841.9 779.1 842.5 779.5 843.2 779.8 843.8 780.1 844.5 780.4 845.1 780.8 845.7 781.2 846.3 781.5 846.9 781.9 847.6 782.3 848.2 782.8 848.8 783.2 849.4 783.6 850.0 784.1 850.7 784.6 851.3 785.1 851.9 785.7 852.5 786.2 853.1 786.8 853.8 787.3 854.4 787.8 855.0 788.2 855.6 788.6 856.1 788.9 856.6 789.2 857.2 789.5 857.7 789.7 858.3 790.0 859.1 790.2 859.9 790.4 860.9 790.5 862.0 790.6 863.2 790.7 864.5 790.8 865.8 790.9 867.1 790.9 868.5 791.0 869.8 791.0 871.2 791.0 872.5 791.1 873.8 791.1 875.2 791.1 876.6 791.0 878.1 791.0 879.7 791.0 881.4 791.0 883.2 791.0 885.1 791.0 887.2 791.1 889.3 791.1 891.5 791.1 893.6 791.1 895.8 791.1 897.9 791.0 900.0 790.9 902.1 790.8 904.3 790.7 906.5 790.5 908.6 790.3 910.7 790.2 912.6 790.0 914.3 789.9 915.9 789.7 917.3 789.6 918.5 789.5 919.7 789.3 920.8 789.2 921.9 789.1 923.0 789.1 924.2 789.0 925.5 789.1 926.9 789.1 928.2 789.2 929.6 789.4 930.9 789.5 932.1 789.6 933.2 789.8 934.1 789.9 934.9 789.9 935.5 790.0 936.0 790.1 936.4 790.2 936.7 790.2 937.0 790.3 937.2 790.3 937.4 790.4" fill="none" stroke="#800080" stroke-width="3.6" stroke-linejoin="round" stroke-linecap="round"/>
<path d="M568.6 827.5 569.3 827.5 570.2 827.5 571.2 827.6 572.4 827.6 573.6 827.6 574.9 827.7 576.1 827.7 577.2 827.8 578.3 827.8 579.4 827.9 580.4 827.9 581.5 827.9 582.6 828.0 583.7 828.0 584.7 828.2 585.8 828.3 586.9 828.5 588.0 828.8 589.1 829.1 590.2 829.4 591.3 829.7 592.4 830.1 593.4 830.5 594.4 830.9 595.3 831.3 596.3 831.8 597.2 832.3 598.1 832.8 598.9 833.4 599.8 833.9 600.5 834.6 601.3 835.2 601.9 835.9 602.5 836.6 603.1 837.3 603.7 838.1 604.2 838.9 604.7 839.7 605.1 840.5 605.5 841.2 605.9 841.9 606.3 842.6 606.6 843.3 606.9 844.0 607.2 844.7 607.5 845.3 607.8 845.9 608.1 846.3 608.4 846.7 608.7 847.1 609.0 847.3 609.3 847.6 609.6 847.7 609.9 847.9 610.3 848.0 610.7 848.1 611.2 848.1 611.7 848.1 612.2 848.1 612.8 848.0 613.4 847.9 613.9 847.7 614.5 847.5 615.0 847.2 615.5 846.8 615.9 846.4 616.3 845.8 616.8 845.3 617.2 844.7 617.6 844.1 618.0 843.5 618.4 842.9 618.8 842.4 619.2 841.8 619.6 841.3 620.0 840.8 620.4 840.2 620.9 839.7 621.3 839.1 621.8 838.6 622.4 838.1 623.0 837.5 623.6 836.9 624.2 836.4 624.9 835.8 625.5 835.3 626.3 834.8 627.0 834.3 627.8 833.9 628.6 833.5 629.4 833.2 630.3 832.8 631.2 832.5 632.1 832.3 633.0 832.0 633.9 831.7 634.7 831.5 635.6 831.4 636.5 831.2 637.4 831.1 638.3 831.0 639.1 830.9 639.9 830.7 640.7 830.5 641.4 830.3 642.1 830.1 642.7 829.9 643.3 829.6 643.9 829.3 644.5 829.0 645.2 828.7 645.9 828.3 646.6 827.9 647.5 827.4 648.3 826.8 649.2 826.2 650.1 825.7 651.0 825.1 651.9 824.5 652.7 824.0 653.6 823.6 654.4 823.1 655.2 822.6 656.1 822.2 656.9 821.8 657.8 821.4 658.7 821.0 659.6 820.6 660.6 820.2 661.6 819.9 662.7 819.5 663.8 819.2 664.9 818.9 666.0 818.6 667.1 818.3 668.2 818.0 669.3 817.8 670.3 817.6 671.4 817.4 672.5 817.2 673.5 817.0 674.6 816.8 675.7 816.6 676.8 816.3 677.8 816.0 678.9 815.7 680.0 815.4 681.1 815.1 682.1 814.8 683.2 814.4 684.3 814.1 685.3 813.7 686.4 813.4 687.5 813.0 688.6 812.6 689.6 812.2 690.7 811.7 691.8 811.4 692.9 811.0 693.9 810.6 695.0 810.3 696.1 810.0 697.1 809.7 698.2 809.4 699.3 809.2 700.4 808.9 701.4 808.7 702.5 808.6 703.6 808.5 704.7 808.4 705.7 808.4 706.8 808.4 707.9 808.4 708.9 808.4 710.0 808.5 711.1 808.6 712.2 808.7 713.2 808.8 714.3 809.0 715.4 809.1 716.4 809.3 717.5 809.5 718.6 809.7 719.7 810.0 720.7 810.2 721.8 810.4 722.9 810.7 724.0 810.9 725.0 811.2 726.1 811.4 727.2 811.7 728.2 812.0 729.3 812.3 730.4 812.6 731.5 812.9 732.6 813.3 733.7 813.6 734.8 813.9 735.8 814.3 736.8 814.6 737.8 814.9 738.7 815.2 739.6 815.5 740.5 815.8 741.3 816.1 742.1 816.4 742.9 816.8 743.7 817.2 744.4 817.6 745.1 818.1 745.8 818.6 746.4 819.1 747.0 819.7 747.7 820.3 748.3 820.9 748.8 821.5 749.4 822.1 750.0 822.7 750.5 823.4 751.0 824.1 751.6 824.8 752.1 825.4 752.6 826.0 753.1 826.6 753.7 827.1 754.2 827.6 754.7 828.1 755.2 828.5 755.8 828.9 756.3 829.3 756.8 829.7 757.4 830.0 758.0 830.4 758.7 830.7 759.4 831.0 760.1 831.3 760.7 831.6 761.4 831.9 762.0 832.2 762.6 832.6 763.1 833.0 763.6 833.4 764.1 833.8 764.6 834.2 765.0 834.6 765.4 835.0 765.7 835.5 766.0 836.0 766.2 836.7 766.3 837.4 766.4 838.2 766.4 839.0 766.4 839.8 766.5 840.4 766.6 840.9 766.9 841.2 767.2 841.2 767.6 841.1 768.0 840.9 768.5 840.5 769.1 840.0 769.6 839.5 770.2 839.0 770.9 838.5 771.6 838.0 772.4 837.4 773.2 836.8 774.0 836.2 774.9 835.5 775.8 834.8 776.7 834.2 777.5 833.6 778.3 832.9 779.2 832.4 780.0 831.8 780.9 831.2 781.7 830.6 782.6 830.0 783.3 829.3 784.1 828.6 784.8 827.9 785.4 827.1 786.1 826.3 786.7 825.4 787.3 824.6 787.8 823.7 788.4 822.8 789.0 822.0 789.7 821.2 790.3 820.3 790.9 819.5 791.5 818.6 792.1 817.8 792.7 816.9 793.4 816.2 794.0 815.4 794.6 814.7 795.2 814.0 795.8 813.4 796.4 812.8 797.0 812.2 797.6 811.6 798.2 811.0 798.9 810.5 799.7 809.9 800.4 809.4 801.2 808.8 802.0 808.3 802.9 807.8 803.7 807.3 804.6 806.8 805.5 806.3 806.5 805.9 807.4 805.4 808.4 805.0 809.4 804.6 810.5 804.2 811.6 803.8 812.6 803.4 813.8 803.1 814.9 802.7 816.1 802.4 817.3 802.0 818.5 801.7 819.8 801.4 821.0 801.1 822.3 800.9 823.7 800.6 825.0 800.3 826.5 800.0 827.9 799.8 829.4 799.5 830.9 799.3 832.4 799.0 833.8 798.8 835.2 798.6 836.5 798.4 837.8 798.2 839.0 798.1 840.3 797.9 841.5 797.8 842.7 797.6 843.9 797.5 845.1 797.3 846.3 797.1 847.6 796.8 848.8 796.6 850.0 796.3 851.3 796.0 852.5 795.8 853.8 795.5 855.0 795.3 856.2 795.1 857.4 794.9 858.6 794.7 859.7 794.5 860.9 794.4 862.2 794.2 863.5 794.1 864.9 794.0 866.4 793.9 867.9 793.8 869.6 793.8 871.3 793.7 873.0 793.7 874.7 793.7 876.4 793.7 878.1 793.7 879.7 793.6 881.4 793.6 883.2 793.6 884.9 793.6 886.6 793.6 888.2 793.6 889.8 793.6 891.3 793.7 892.7 793.7 894.0 793.7 895.2 793.8 896.4 793.8 897.6 793.9 898.8 793.9 899.9 794.0 901.2 794.0 902.4 794.0 903.7 794.0 905.1 794.0 906.4 794.1 907.7 794.1 908.9 794.0 910.0 794.0 911.0 794.0 911.9 793.9 912.6 793.9 913.2 793.8 913.7 793.7 914.2 793.6 914.8 793.5 915.3 793.3 916.0 793.2 916.7 792.9 917.5 792.7 918.3 792.4 919.1 792.1 919.9 791.8 920.8 791.5 921.7 791.2 922.6 791.0 923.6 790.8 924.6 790.6 925.6 790.4 926.7 790.3 927.8 790.1 928.8 790.0 929.9 789.9 930.8 789.9 931.8 789.8 932.8 789.9 933.7 789.9 934.6 790.0 935.5 790.1 936.3 790.2 936.9 790.3 937.4 790.4" fill="none" stroke="#000" stroke-width="4.2" stroke-linejoin="round" stroke-linecap="round"/>
<text x="226.5" y="787.1" font-family="DejaVu Sans, sans-serif" font-weight="bold" font-size="25.5" text-anchor="middle" stroke="#000" stroke-width="0.5">↺</text>
<text x="318.3" y="809.0" font-family="DejaVu Sans, sans-serif" font-weight="bold" font-size="25.5" text-anchor="middle" stroke="#000" stroke-width="0.5">↺</text>
<text x="392.4" y="820.1" font-family="DejaVu Sans, sans-serif" font-weight="bold" font-size="25.5" text-anchor="middle" stroke="#000" stroke-width="0.5">↺</text>
<text x="446.8" y="841.9" font-family="DejaVu Sans, sans-serif" font-weight="bold" font-size="25.5" text-anchor="middle" stroke="#000" stroke-width="0.5">↺</text>
<text x="478.4" y="852.7" font-family="DejaVu Sans, sans-serif" font-weight="bold" font-size="25.5" text-anchor="middle" stroke="#000" stroke-width="0.5">↺</text>
<text x="524.8" y="856.3" font-family="DejaVu Sans, sans-serif" font-weight="bold" font-size="25.5" text-anchor="middle" stroke="#000" stroke-width="0.5">↺</text>
<text x="610.2" y="859.3" font-family="DejaVu Sans, sans-serif" font-weight="bold" font-size="25.5" text-anchor="middle" stroke="#000" stroke-width="0.5">↺</text>
<text x="630.3" y="862.7" font-family="DejaVu Sans, sans-serif" font-weight="bold" font-size="25.5" text-anchor="middle" stroke="#000" stroke-width="0.5">↺</text>
<text x="678.3" y="839.5" font-family="DejaVu Sans, sans-serif" font-weight="bold" font-size="25.5" text-anchor="middle" stroke="#000" stroke-width="0.5">↺</text>
<text x="741.8" y="849.0" font-family="DejaVu Sans, sans-serif" font-weight="bold" font-size="25.5" text-anchor="middle" stroke="#000" stroke-width="0.5">↺</text>
<text x="762.4" y="830.1" font-family="DejaVu Sans, sans-serif" font-weight="bold" font-size="25.5" text-anchor="middle" stroke="#000" stroke-width="0.5">↺</text>
<text x="813.5" y="839.7" font-family="DejaVu Sans, sans-serif" font-weight="bold" font-size="25.5" text-anchor="middle" stroke="#000" stroke-width="0.5">↺</text>
<text x="791.5" y="862.6" font-family="DejaVu Sans, sans-serif" font-weight="bold" font-size="25.5" text-anchor="middle" stroke="#000" stroke-width="0.5">↺</text>
<text x="833.9" y="880.6" font-family="DejaVu Sans, sans-serif" font-weight="bold" font-size="25.5" text-anchor="middle" stroke="#000" stroke-width="0.5">↺</text>
<text x="871.4" y="860.7" font-family="DejaVu Sans, sans-serif" font-weight="bold" font-size="25.5" text-anchor="middle" stroke="#000" stroke-width="0.5">↺</text>
<text x="899.3" y="884.0" font-family="DejaVu Sans, sans-serif" font-weight="bold" font-size="25.5" text-anchor="middle" stroke="#000" stroke-width="0.5">↺</text>
<text x="905.4" y="911.1" font-family="DejaVu Sans, sans-serif" font-weight="bold" font-size="25.5" text-anchor="middle" stroke="#000" stroke-width="0.5">↺</text>
<text x="924.2" y="904.2" font-family="DejaVu Sans, sans-serif" font-weight="bold" font-size="25.5" text-anchor="middle" stroke="#000" stroke-width="0.5">↺</text>
<text x="970.4" y="904.2" font-family="DejaVu Sans, sans-serif" font-weight="bold" font-size="25.5" text-anchor="middle" stroke="#000" stroke-width="0.5">↺</text>
</g>
<rect x="84.5" y="89.5" width="1525" height="962" fill="none" stroke="#000" stroke-width="1.1"/>
<text x="68.8" y="224.0" font-family="DejaVu Sans, sans-serif" font-weight="bold" font-size="20.5" text-anchor="end">40°N</text>
<text x="68.8" y="457.3" font-family="DejaVu Sans, sans-serif" font-weight="bold" font-size="20.5" text-anchor="end">30°N</text>
<text x="68.8" y="667.9" font-family="DejaVu Sans, sans-serif" font-weight="bold" font-size="20.5" text-anchor="end">20°N</text>
<text x="68.8" y="865.5" font-family="DejaVu Sans, sans-serif" font-weight="bold" font-size="20.5" text-anchor="end">10°N</text>
<text x="68.8" y="1057.0" font-family="DejaVu Sans, sans-serif" font-weight="bold" font-size="20.5" text-anchor="end">0°</text>
<text x="85.7" y="1082.6" font-family="DejaVu Sans, sans-serif" font-weight="bold" font-size="20.5" text-anchor="middle">100°E</text>
<text x="466.8" y="1082.6" font-family="DejaVu Sans, sans-serif" font-weight="bold" font-size="20.5" text-anchor="middle">120°E</text>
<text x="847.9" y="1082.6" font-family="DejaVu Sans, sans-serif" font-weight="bold" font-size="20.5" text-anchor="middle">140°E</text>
<text x="1229.1" y="1082.6" font-family="DejaVu Sans, sans-serif" font-weight="bold" font-size="20.5" text-anchor="middle">160°E</text>
<text x="1610.2" y="1082.6" font-family="DejaVu Sans, sans-serif" font-weight="bold" font-size="20.5" text-anchor="middle">180°</text>
<rect x="93.5" y="97.5" width="337.5" height="169.5" rx="3" fill="#fff" stroke="#000" stroke-width="1.1"/>
<path d="M99.0 110.4H134.2" stroke="#808080" stroke-width="1.4"/>
<text x="146" y="116.0" font-family="DejaVu Sans, sans-serif" font-size="16.58">No Interception</text>
<path d="M99.0 134.5H134.2" stroke="#ff4500" stroke-width="1.4"/>
<text x="146" y="140.1" font-family="DejaVu Sans, sans-serif" font-size="16.58">Interception from Named cyclone</text>
<path d="M99.0 157.4H134.2" stroke="#808000" stroke-width="1.4"/>
<text x="146" y="163.0" font-family="DejaVu Sans, sans-serif" font-size="16.58">Interception from Trochoid</text>
<path d="M99.0 180.4H134.2" stroke="#008000" stroke-width="1.4"/>
<text x="146" y="186.0" font-family="DejaVu Sans, sans-serif" font-size="16.58">Interception from both</text>
<path d="M97.4 203.9H134.9" stroke="#800080" stroke-width="4.2"/>
<text x="146" y="209.5" font-family="DejaVu Sans, sans-serif" font-size="16.58">HRES</text>
<path d="M97.4 226.5H134.9" stroke="#000" stroke-width="4.2"/>
<text x="146" y="232.1" font-family="DejaVu Sans, sans-serif" font-size="16.58">Analysis | 123h duration</text>
<text x="116.6" y="258.6" font-family="DejaVu Sans, sans-serif" font-weight="bold" font-size="17.6" text-anchor="middle" stroke="#000" stroke-width="0.4">↺</text>
<text x="146" y="258.3" font-family="DejaVu Sans, sans-serif" font-size="16.58">TC obs. for analysis duration</text>
<rect x="1662.5" y="910.65" width="20.00" height="29.15" fill="#e3eef9" shape-rendering="crispEdges"/>
<rect x="1662.5" y="881.81" width="20.00" height="29.15" fill="#dceaf6" shape-rendering="crispEdges"/>
<rect x="1662.5" y="852.96" width="20.00" height="29.15" fill="#d5e5f4" shape-rendering="crispEdges"/>
<rect x="1662.5" y="824.12" width="20.00" height="29.15" fill="#cee0f2" shape-rendering="crispEdges"/>
<rect x="1662.5" y="795.27" width="20.00" height="29.15" fill="#c7dcef" shape-rendering="crispEdges"/>
<rect x="1662.5" y="766.42" width="20.00" height="29.15" fill="#bdd7ec" shape-rendering="crispEdges"/>
<rect x="1662.5" y="737.58" width="20.00" height="29.15" fill="#b2d2e8" shape-rendering="crispEdges"/>
<rect x="1662.5" y="708.73" width="20.00" height="29.15" fill="#a5cde3" shape-rendering="crispEdges"/>
<rect x="1662.5" y="679.88" width="20.00" height="29.15" fill="#99c7e0" shape-rendering="crispEdges"/>
<rect x="1662.5" y="651.04" width="20.00" height="29.15" fill="#8abfdd" shape-rendering="crispEdges"/>
<rect x="1662.5" y="622.19" width="20.00" height="29.15" fill="#7cb7da" shape-rendering="crispEdges"/>
<rect x="1662.5" y="593.35" width="20.00" height="29.15" fill="#6dafd7" shape-rendering="crispEdges"/>
<rect x="1662.5" y="564.50" width="20.00" height="29.15" fill="#60a7d2" shape-rendering="crispEdges"/>
<rect x="1662.5" y="535.65" width="20.00" height="29.15" fill="#549fcd" shape-rendering="crispEdges"/>
<rect x="1662.5" y="506.81" width="20.00" height="29.15" fill="#4997c9" shape-rendering="crispEdges"/>
<rect x="1662.5" y="477.96" width="20.00" height="29.15" fill="#3e8ec4" shape-rendering="crispEdges"/>
<rect x="1662.5" y="449.12" width="20.00" height="29.15" fill="#3484bf" shape-rendering="crispEdges"/>
<rect x="1662.5" y="420.27" width="20.00" height="29.15" fill="#2b7bba" shape-rendering="crispEdges"/>
<rect x="1662.5" y="391.42" width="20.00" height="29.15" fill="#2171b5" shape-rendering="crispEdges"/>
<rect x="1662.5" y="362.58" width="20.00" height="29.15" fill="#1a68ae" shape-rendering="crispEdges"/>
<rect x="1662.5" y="333.73" width="20.00" height="29.15" fill="#135fa7" shape-rendering="crispEdges"/>
<rect x="1662.5" y="304.88" width="20.00" height="29.15" fill="#0b559f" shape-rendering="crispEdges"/>
<rect x="1662.5" y="276.04" width="20.00" height="29.15" fill="#084c95" shape-rendering="crispEdges"/>
<rect x="1662.5" y="247.19" width="20.00" height="29.15" fill="#084387" shape-rendering="crispEdges"/>
<rect x="1662.5" y="218.35" width="20.00" height="29.15" fill="#083979" shape-rendering="crispEdges"/>
<rect x="1662.5" y="189.50" width="20.00" height="29.15" fill="#08306b" shape-rendering="crispEdges"/>
<rect x="1662.5" y="189.5" width="20.00" height="750.00" fill="none" stroke="#000" stroke-width="1.1"/>
<path d="M1682.5 939.50h5" stroke="#000" stroke-width="1.1"/>
<text x="1691" y="944.40" font-family="DejaVu Sans, sans-serif" font-size="13.8">0</text>
<path d="M1682.5 795.27h5" stroke="#000" stroke-width="1.1"/>
<text x="1691" y="800.17" font-family="DejaVu Sans, sans-serif" font-size="13.8">10</text>
<path d="M1682.5 651.04h5" stroke="#000" stroke-width="1.1"/>
<text x="1691" y="655.94" font-family="DejaVu Sans, sans-serif" font-size="13.8">20</text>
<path d="M1682.5 506.81h5" stroke="#000" stroke-width="1.1"/>
<text x="1691" y="511.71" font-family="DejaVu Sans, sans-serif" font-size="13.8">30</text>
<path d="M1682.5 362.58h5" stroke="#000" stroke-width="1.1"/>
<text x="1691" y="367.48" font-family="DejaVu Sans, sans-serif" font-size="13.8">40</text>
<path d="M1682.5 218.35h5" stroke="#000" stroke-width="1.1"/>
<text x="1691" y="223.25" font-family="DejaVu Sans, sans-serif" font-size="13.8">50</text>
<text transform="translate(1733.9 624.05) rotate(-90)" font-family="DejaVu Sans, sans-serif" font-weight="bold" font-size="19.42" text-anchor="middle">Named cyclones forecast - Number of EPS within 120km</text>
<text x="859.8" y="1120.9" font-family="DejaVu Sans, sans-serif" font-weight="bold" font-size="16.58" text-anchor="middle">Percentage of flying ballons within a TC as a function of flight time</text>
<rect x="22.50" y="1137.5" width="1107.00" height="41.0" fill="#9e0142" shape-rendering="crispEdges"/>
<rect x="1129.50" y="1137.5" width="41.00" height="41.0" fill="#a90d45" shape-rendering="crispEdges"/>
<rect x="1170.50" y="1137.5" width="205.00" height="41.0" fill="#be254a" shape-rendering="crispEdges"/>
<rect x="1375.50" y="1137.5" width="82.00" height="41.0" fill="#c9314c" shape-rendering="crispEdges"/>
<rect x="1457.50" y="1137.5" width="41.00" height="41.0" fill="#d43d4f" shape-rendering="crispEdges"/>
<rect x="1498.50" y="1137.5" width="82.00" height="41.0" fill="#da464d" shape-rendering="crispEdges"/>
<rect x="1580.50" y="1137.5" width="82.00" height="41.0" fill="#e1504b" shape-rendering="crispEdges"/>
<text x="1150.00" y="1162.0" font-family="DejaVu Sans, sans-serif" font-weight="bold" font-size="13.8" text-anchor="middle">2</text>
<text x="1191.00" y="1162.0" font-family="DejaVu Sans, sans-serif" font-weight="bold" font-size="13.8" text-anchor="middle">6</text>
<text x="1232.00" y="1162.0" font-family="DejaVu Sans, sans-serif" font-weight="bold" font-size="13.8" text-anchor="middle">6</text>
<text x="1273.00" y="1162.0" font-family="DejaVu Sans, sans-serif" font-weight="bold" font-size="13.8" text-anchor="middle">6</text>
<text x="1314.00" y="1162.0" font-family="DejaVu Sans, sans-serif" font-weight="bold" font-size="13.8" text-anchor="middle">6</text>
<text x="1355.00" y="1162.0" font-family="DejaVu Sans, sans-serif" font-weight="bold" font-size="13.8" text-anchor="middle">6</text>
<text x="1396.00" y="1162.0" font-family="DejaVu Sans, sans-serif" font-weight="bold" font-size="13.8" text-anchor="middle">8</text>
<text x="1437.00" y="1162.0" font-family="DejaVu Sans, sans-serif" font-weight="bold" font-size="13.8" text-anchor="middle">8</text>
<text x="1478.00" y="1162.0" font-family="DejaVu Sans, sans-serif" font-weight="bold" font-size="13.8" text-anchor="middle">10</text>
<text x="1519.00" y="1162.0" font-family="DejaVu Sans, sans-serif" font-weight="bold" font-size="13.8" text-anchor="middle">12</text>
<text x="1560.00" y="1162.0" font-family="DejaVu Sans, sans-serif" font-weight="bold" font-size="13.8" text-anchor="middle">12</text>
<text x="1601.00" y="1162.0" font-family="DejaVu Sans, sans-serif" font-weight="bold" font-size="13.8" text-anchor="middle">14</text>
<text x="1642.00" y="1162.0" font-family="DejaVu Sans, sans-serif" font-weight="bold" font-size="13.8" text-anchor="middle">14</text>
<rect x="22.5" y="1137.5" width="1640.0" height="41.0" fill="none" stroke="#000" stroke-width="1.1"/>
<path d="M22.50 1178.5v4.8M63.50 1178.5v4.8M104.50 1178.5v4.8M145.50 1178.5v4.8M186.50 1178.5v4.8M227.50 1178.5v4.8M268.50 1178.5v4.8M309.50 1178.5v4.8M350.50 1178.5v4.8M391.50 1178.5v4.8M432.50 1178.5v4.8M473.50 1178.5v4.8M514.50 1178.5v4.8M555.50 1178.5v4.8M596.50 1178.5v4.8M637.50 1178.5v4.8M678.50 1178.5v4.8M719.50 1178.5v4.8M760.50 1178.5v4.8M801.50 1178.5v4.8M842.50 1178.5v4.8M883.50 1178.5v4.8M924.50 1178.5v4.8M965.50 1178.5v4.8M1006.50 1178.5v4.8M1047.50 1178.5v4.8M1088.50 1178.5v4.8M1129.50 1178.5v4.8M1170.50 1178.5v4.8M1211.50 1178.5v4.8M1252.50 1178.5v4.8M1293.50 1178.5v4.8M1334.50 1178.5v4.8M1375.50 1178.5v4.8M1416.50 1178.5v4.8M1457.50 1178.5v4.8M1498.50 1178.5v4.8M1539.50 1178.5v4.8M1580.50 1178.5v4.8M1621.50 1178.5v4.8M1662.50 1178.5v4.8M17.3 1158.3h5.2" stroke="#000" stroke-width="1.1"/>
<text x="22.50" y="1199.9" font-family="DejaVu Sans, sans-serif" font-weight="bold" font-size="16" text-anchor="middle">0h</text>
<text x="186.50" y="1199.9" font-family="DejaVu Sans, sans-serif" font-weight="bold" font-size="16" text-anchor="middle">12h</text>
<text x="350.50" y="1199.9" font-family="DejaVu Sans, sans-serif" font-weight="bold" font-size="16" text-anchor="middle">24h</text>
<text x="514.50" y="1199.9" font-family="DejaVu Sans, sans-serif" font-weight="bold" font-size="16" text-anchor="middle">36h</text>
<text x="678.50" y="1199.9" font-family="DejaVu Sans, sans-serif" font-weight="bold" font-size="16" text-anchor="middle">48h</text>
<text x="842.50" y="1199.9" font-family="DejaVu Sans, sans-serif" font-weight="bold" font-size="16" text-anchor="middle">60h</text>
<text x="1006.50" y="1199.9" font-family="DejaVu Sans, sans-serif" font-weight="bold" font-size="16" text-anchor="middle">72h</text>
<text x="1170.50" y="1199.9" font-family="DejaVu Sans, sans-serif" font-weight="bold" font-size="16" text-anchor="middle">84h</text>
<text x="1334.50" y="1199.9" font-family="DejaVu Sans, sans-serif" font-weight="bold" font-size="16" text-anchor="middle">96h</text>
<text x="1498.50" y="1199.9" font-family="DejaVu Sans, sans-serif" font-weight="bold" font-size="16" text-anchor="middle">108h</text>
<text x="1662.50" y="1199.9" font-family="DejaVu Sans, sans-serif" font-weight="bold" font-size="16" text-anchor="middle">120h</text>
</svg>
</body></html>
